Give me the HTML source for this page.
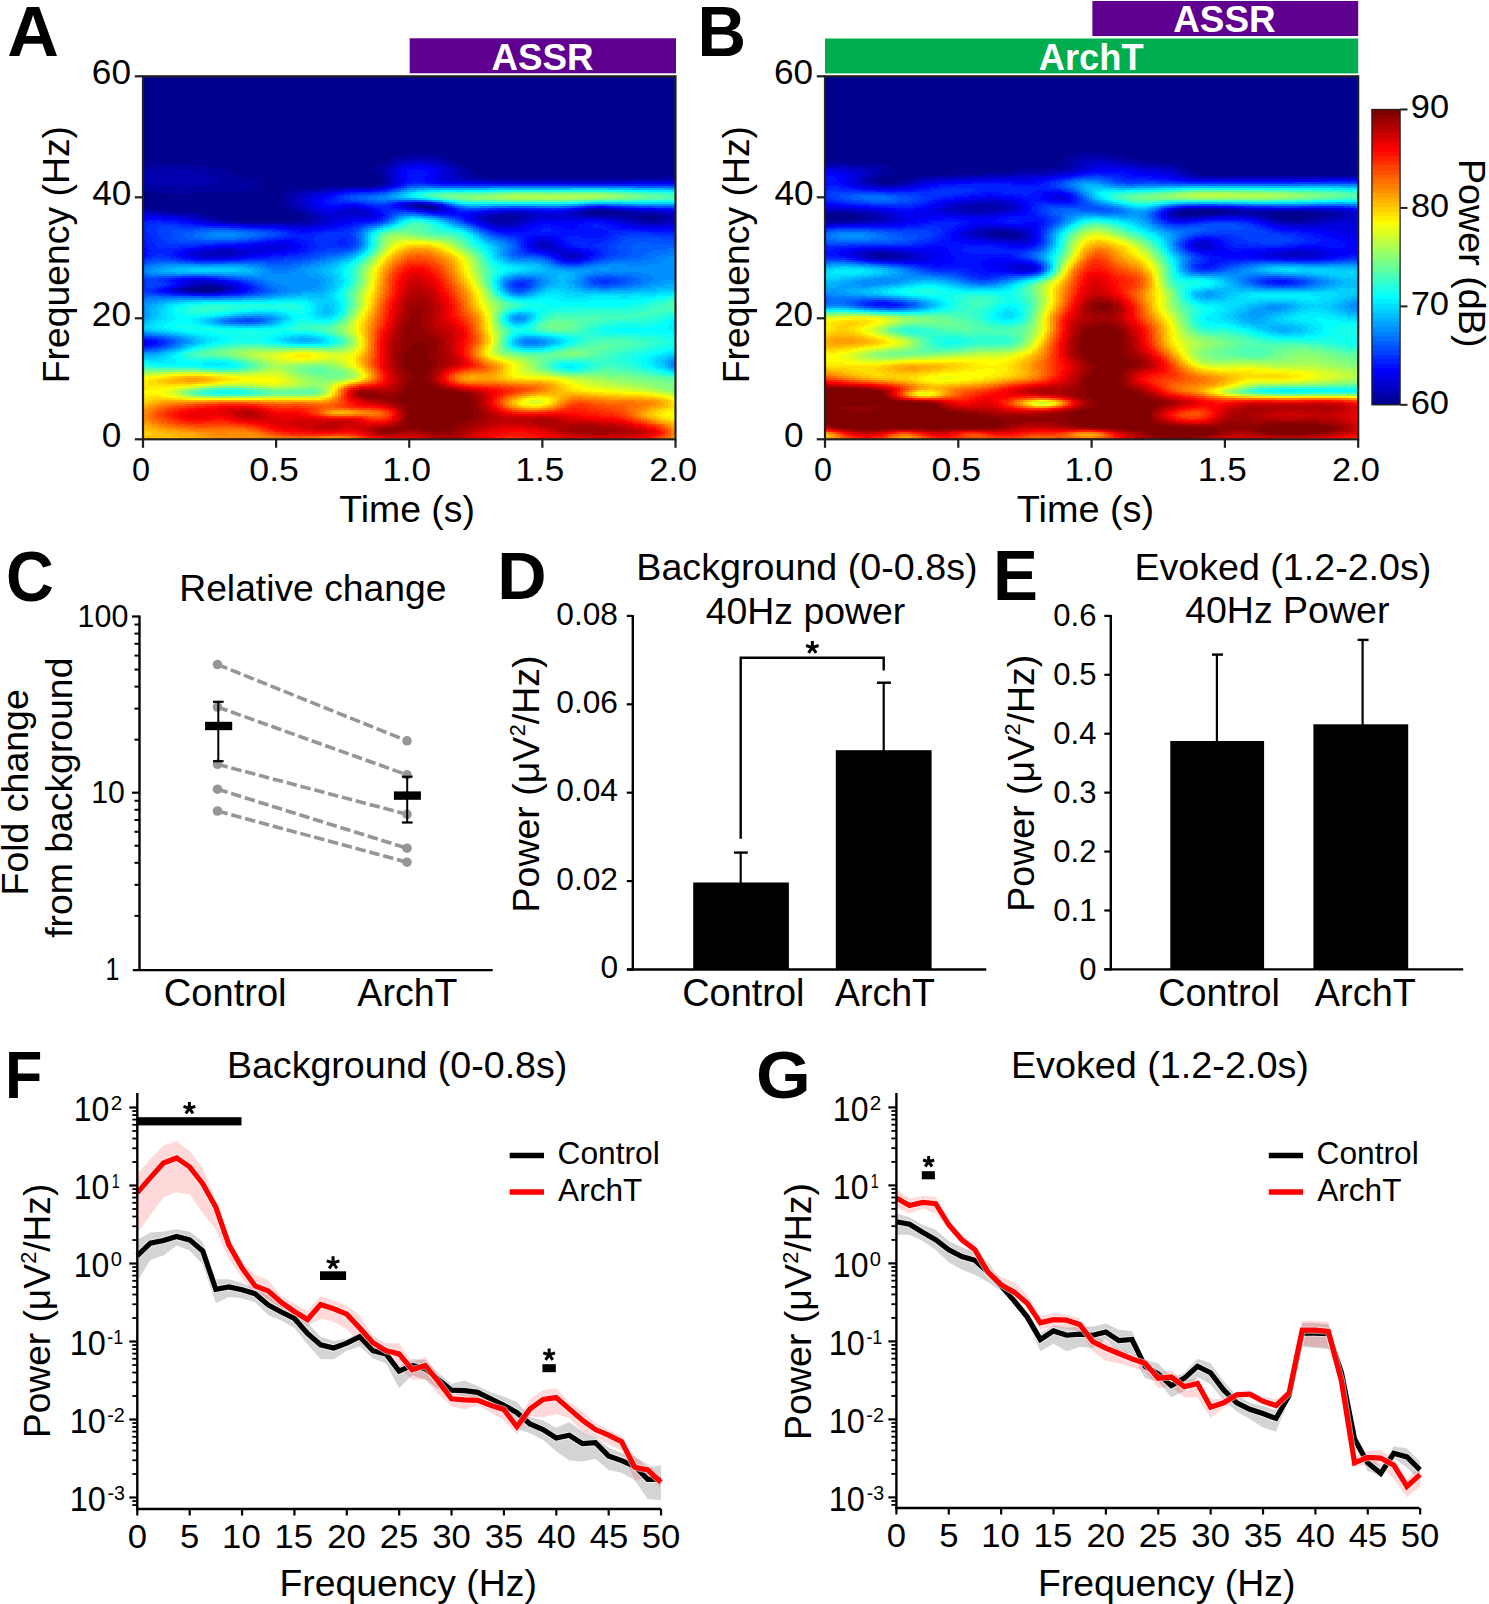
<!DOCTYPE html>
<html><head><meta charset="utf-8"><style>
html,body{margin:0;padding:0;background:#fff;}
svg{display:block;}
text{font-family:"Liberation Sans",sans-serif;}
</style></head><body>
<svg width="1489" height="1604" viewBox="0 0 1489 1604">
<rect width="1489" height="1604" fill="#fff"/>
<g shape-rendering="crispEdges">
<rect x="143" y="76.3" width="532.5" height="363" fill="#00008f"/>
<path d="M401 155.3H437M395 157.3H410M425 157.3H443M392 159.3H401M437 159.3H449M389 161.3H395M443 161.3H452M386 163.3H392M449 163.3H458M152 165.3H191M380 165.3H389M455 165.3H461M143 167.3H212M377 167.3H386M458 167.3H467M143 169.3H164M173 169.3H221M371 169.3H383M461 169.3H470M143 171.3H149M194 171.3H227M374 171.3H383M464 171.3H470M143 173.3H146M203 173.3H230M377 173.3H383M464 173.3H473M209 175.3H236M380 175.3H383M467 175.3H476M215 177.3H242M383 177.3H386M470 177.3H482M668 177.3H675.5M218 179.3H251M383 179.3H386M482 179.3H647M218 181.3H260M383 181.3H386M143 183.3H146M218 183.3H260M383 183.3H386M143 185.3H158M209 185.3H260M377 185.3H383M143 187.3H182M188 187.3H260M323 187.3H365M143 189.3H254M293 189.3H320M149 191.3H245M287 191.3H302M161 193.3H197M284 193.3H296M284 195.3H293M281 197.3H290M281 199.3H290M281 201.3H290M281 203.3H290M281 205.3H290M413 205.3H428M143 207.3H146M284 207.3H293M416 207.3H422M431 207.3H434M146 209.3H152M287 209.3H296M152 211.3H167M293 211.3H302M590 211.3H596M605 211.3H617M176 213.3H200M299 213.3H305M584 213.3H593M617 213.3H638M197 215.3H209M302 215.3H308M590 215.3H662M206 217.3H212M302 217.3H311M497 217.3H518M623 217.3H638M656 217.3H668M212 219.3H221M302 219.3H311M494 219.3H515M632 219.3H647M656 219.3H668M224 221.3H233M296 221.3H308M500 221.3H509M644 221.3H662M194 287.3H200M215 287.3H221M185 289.3H191M221 289.3H224M188 291.3H194M215 291.3H221" stroke="#00009f" stroke-width="2" fill="none"/>
<path d="M410 157.3H425M401 159.3H437M395 161.3H404M434 161.3H443M392 163.3H398M440 163.3H449M389 165.3H392M446 165.3H455M386 167.3H389M452 167.3H458M164 169.3H173M383 169.3H389M455 169.3H461M149 171.3H194M383 171.3H386M458 171.3H464M146 173.3H203M383 173.3H386M458 173.3H464M143 175.3H209M383 175.3H389M458 175.3H467M143 177.3H215M386 177.3H389M461 177.3H470M143 179.3H218M386 179.3H389M467 179.3H482M647 179.3H675.5M143 181.3H218M386 181.3H389M518 181.3H539M560 181.3H605M146 183.3H218M386 183.3H389M158 185.3H209M383 185.3H386M182 187.3H188M365 187.3H377M320 189.3H335M302 191.3H317M296 193.3H305M293 195.3H299M290 197.3H296M290 199.3H296M290 201.3H296M290 203.3H296M290 205.3H299M410 205.3H413M428 205.3H434M293 207.3H302M413 207.3H416M434 207.3H437M143 209.3H146M296 209.3H302M422 209.3H437M146 211.3H152M302 211.3H308M584 211.3H590M617 211.3H626M158 213.3H176M305 213.3H311M578 213.3H584M638 213.3H659M185 215.3H197M308 215.3H314M494 215.3H527M581 215.3H590M662 215.3H671M197 217.3H206M311 217.3H317M488 217.3H497M518 217.3H527M605 217.3H623M668 217.3H674M206 219.3H212M311 219.3H317M488 219.3H494M515 219.3H524M623 219.3H632M668 219.3H671M215 221.3H224M308 221.3H317M488 221.3H500M509 221.3H518M632 221.3H644M662 221.3H668M236 223.3H311M494 223.3H512M644 223.3H662M197 285.3H218M188 287.3H194M221 287.3H227M182 289.3H185M224 289.3H227M182 291.3H188M221 291.3H224" stroke="#0000af" stroke-width="2" fill="none"/>
<path d="M404 161.3H434M398 163.3H404M434 163.3H440M392 165.3H398M440 165.3H446M389 167.3H395M446 167.3H452M389 169.3H392M449 169.3H455M386 171.3H392M452 171.3H458M386 173.3H392M452 173.3H458M389 175.3H392M452 175.3H458M389 177.3H392M452 177.3H461M389 179.3H392M455 179.3H467M389 181.3H392M473 181.3H518M539 181.3H560M605 181.3H665M389 183.3H392M386 185.3H389M377 187.3H383M335 189.3H350M317 191.3H329M305 193.3H314M299 195.3H308M296 197.3H302M296 199.3H302M296 201.3H302M296 203.3H302M299 205.3H305M407 205.3H410M302 207.3H305M407 207.3H413M437 207.3H440M302 209.3H308M419 209.3H422M437 209.3H440M590 209.3H611M143 211.3H146M308 211.3H311M350 211.3H359M578 211.3H584M626 211.3H641M149 213.3H158M311 213.3H317M350 213.3H359M500 213.3H527M572 213.3H578M659 213.3H668M167 215.3H185M314 215.3H320M488 215.3H494M527 215.3H536M572 215.3H581M671 215.3H674M188 217.3H197M317 217.3H323M482 217.3H488M527 217.3H536M584 217.3H605M674 217.3H675.5M200 219.3H206M317 219.3H326M482 219.3H488M524 219.3H530M614 219.3H623M671 219.3H675.5M209 221.3H215M317 221.3H323M485 221.3H488M518 221.3H527M626 221.3H632M668 221.3H674M224 223.3H236M311 223.3H320M488 223.3H494M512 223.3H521M635 223.3H644M662 223.3H671M284 225.3H311M494 225.3H515M539 243.3H548M539 245.3H551M542 247.3H551M212 251.3H233M203 253.3H236M200 255.3H233M566 255.3H575M569 257.3H575M197 283.3H215M191 285.3H197M218 285.3H224M185 287.3H188M227 287.3H230M179 289.3H182M227 289.3H233M179 291.3H182M224 291.3H230M197 293.3H212" stroke="#0000bf" stroke-width="2" fill="none"/>
<path d="M404 163.3H416M419 163.3H434M398 165.3H404M434 165.3H440M395 167.3H398M440 167.3H446M392 169.3H395M443 169.3H449M392 171.3H395M446 171.3H452M392 173.3H395M446 173.3H452M392 175.3H395M446 175.3H452M392 177.3H395M443 177.3H452M392 179.3H395M443 179.3H455M392 181.3H395M452 181.3H473M665 181.3H675.5M392 183.3H395M389 185.3H392M383 187.3H386M350 189.3H371M329 191.3H338M314 193.3H323M308 195.3H314M302 197.3H311M302 199.3H308M302 201.3H308M302 203.3H308M305 205.3H308M404 205.3H407M434 205.3H437M305 207.3H311M404 207.3H407M440 207.3H443M308 209.3H314M347 209.3H362M416 209.3H419M440 209.3H443M587 209.3H590M611 209.3H620M311 211.3H317M341 211.3H350M359 211.3H365M431 211.3H440M575 211.3H578M641 211.3H659M143 213.3H149M317 213.3H323M338 213.3H350M359 213.3H368M491 213.3H500M527 213.3H542M563 213.3H572M668 213.3H674M152 215.3H167M320 215.3H332M335 215.3H368M482 215.3H488M536 215.3H572M674 215.3H675.5M176 217.3H188M323 217.3H338M353 217.3H356M476 217.3H482M536 217.3H584M191 219.3H200M326 219.3H335M479 219.3H482M530 219.3H539M605 219.3H614M200 221.3H209M323 221.3H332M482 221.3H485M527 221.3H533M620 221.3H626M674 221.3H675.5M215 223.3H224M320 223.3H326M485 223.3H488M521 223.3H527M626 223.3H635M671 223.3H674M248 225.3H284M311 225.3H320M491 225.3H494M515 225.3H521M638 225.3H671M497 227.3H515M539 241.3H548M536 243.3H539M548 243.3H551M533 245.3H539M551 245.3H554M536 247.3H542M551 247.3H557M218 249.3H236M542 249.3H557M203 251.3H212M233 251.3H248M557 251.3H563M197 253.3H203M236 253.3H245M560 253.3H578M194 255.3H200M233 255.3H242M560 255.3H566M575 255.3H581M200 257.3H230M563 257.3H569M575 257.3H581M569 259.3H575M194 281.3H209M191 283.3H197M215 283.3H221M188 285.3H191M224 285.3H230M179 287.3H185M230 287.3H236M173 289.3H179M233 289.3H236M173 291.3H179M230 291.3H233M188 293.3H197M212 293.3H221" stroke="#0000cf" stroke-width="2" fill="none"/>
<path d="M416 163.3H419M404 165.3H413M422 165.3H434M398 167.3H404M431 167.3H440M395 169.3H401M437 169.3H443M395 171.3H398M440 171.3H446M395 173.3H398M440 173.3H446M395 175.3H398M440 175.3H446M395 177.3H398M437 177.3H443M395 179.3H401M437 179.3H443M395 181.3H398M440 181.3H452M395 183.3H398M485 183.3H626M392 185.3H395M386 187.3H389M371 189.3H380M338 191.3H344M323 193.3H332M314 195.3H323M311 197.3H317M308 199.3H314M308 201.3H311M308 203.3H311M410 203.3H425M308 205.3H314M401 205.3H404M437 205.3H440M311 207.3H317M350 207.3H356M401 207.3H404M314 209.3H320M341 209.3H347M362 209.3H365M410 209.3H416M443 209.3H446M581 209.3H587M620 209.3H626M317 211.3H326M335 211.3H341M365 211.3H371M425 211.3H431M440 211.3H446M503 211.3H527M569 211.3H575M659 211.3H671M323 213.3H338M368 213.3H374M485 213.3H491M542 213.3H563M674 213.3H675.5M143 215.3H152M332 215.3H335M368 215.3H374M476 215.3H482M161 217.3H176M338 217.3H353M356 217.3H371M473 217.3H476M182 219.3H191M335 219.3H353M473 219.3H479M539 219.3H605M194 221.3H200M332 221.3H341M476 221.3H482M533 221.3H539M611 221.3H620M206 223.3H215M326 223.3H335M482 223.3H485M527 223.3H533M620 223.3H626M674 223.3H675.5M233 225.3H248M320 225.3H329M485 225.3H491M521 225.3H527M629 225.3H638M671 225.3H674M284 227.3H317M491 227.3H497M515 227.3H521M644 227.3H668M500 229.3H512M539 239.3H548M533 241.3H539M548 241.3H554M533 243.3H536M551 243.3H557M266 245.3H287M530 245.3H533M554 245.3H557M251 247.3H287M533 247.3H536M557 247.3H560M206 249.3H218M236 249.3H284M536 249.3H542M557 249.3H566M194 251.3H203M248 251.3H275M545 251.3H557M563 251.3H575M191 253.3H197M245 253.3H260M554 253.3H560M578 253.3H581M188 255.3H194M242 255.3H248M557 255.3H560M581 255.3H584M191 257.3H200M230 257.3H239M560 257.3H563M581 257.3H584M563 259.3H569M575 259.3H581M185 281.3H194M209 281.3H218M185 283.3H191M221 283.3H227M182 285.3H188M230 285.3H236M176 287.3H179M236 287.3H239M170 289.3H173M236 289.3H239M170 291.3H173M233 291.3H236M182 293.3H188M221 293.3H227" stroke="#0000df" stroke-width="2" fill="none"/>
<path d="M413 165.3H422M404 167.3H413M422 167.3H431M401 169.3H404M431 169.3H437M398 171.3H401M434 171.3H440M398 173.3H401M434 173.3H440M398 175.3H401M434 175.3H440M398 177.3H401M431 177.3H437M401 179.3H404M431 179.3H437M398 181.3H404M434 181.3H440M398 183.3H401M446 183.3H485M626 183.3H675.5M395 185.3H398M389 187.3H392M380 189.3H383M344 191.3H353M332 193.3H338M323 195.3H329M317 197.3H323M314 199.3H320M311 201.3H317M311 203.3H317M407 203.3H410M425 203.3H428M314 205.3H320M398 205.3H401M317 207.3H323M341 207.3H350M356 207.3H365M398 207.3H401M443 207.3H446M320 209.3H341M365 209.3H371M407 209.3H410M446 209.3H449M578 209.3H581M626 209.3H638M326 211.3H335M371 211.3H374M422 211.3H425M446 211.3H449M494 211.3H503M527 211.3H548M557 211.3H569M671 211.3H675.5M374 213.3H377M476 213.3H485M374 215.3H377M470 215.3H476M143 217.3H161M371 217.3H377M470 217.3H473M173 219.3H182M353 219.3H374M470 219.3H473M188 221.3H194M341 221.3H353M473 221.3H476M539 221.3H584M602 221.3H611M200 223.3H206M335 223.3H344M479 223.3H482M533 223.3H542M560 223.3H572M614 223.3H620M221 225.3H233M329 225.3H335M482 225.3H485M527 225.3H533M620 225.3H629M674 225.3H675.5M269 227.3H284M317 227.3H326M488 227.3H491M521 227.3H527M629 227.3H644M668 227.3H674M293 229.3H314M494 229.3H500M512 229.3H524M539 237.3H545M533 239.3H539M548 239.3H554M530 241.3H533M554 241.3H557M269 243.3H290M530 243.3H533M557 243.3H560M254 245.3H266M287 245.3H296M557 245.3H563M215 247.3H251M287 247.3H296M530 247.3H533M560 247.3H566M197 249.3H206M284 249.3H293M533 249.3H536M566 249.3H572M188 251.3H194M275 251.3H287M539 251.3H545M575 251.3H581M185 253.3H191M260 253.3H275M548 253.3H554M581 253.3H587M185 255.3H188M248 255.3H260M554 255.3H557M584 255.3H587M188 257.3H191M239 257.3H248M557 257.3H560M584 257.3H587M197 259.3H227M560 259.3H563M581 259.3H584M569 261.3H575M191 279.3H206M182 281.3H185M218 281.3H224M182 283.3H185M227 283.3H233M179 285.3H182M236 285.3H239M173 287.3H176M239 287.3H242M167 289.3H170M239 289.3H242M167 291.3H170M236 291.3H242M176 293.3H182M227 293.3H230M143 343.3H146" stroke="#0000ef" stroke-width="2" fill="none"/>
<path d="M413 167.3H422M404 169.3H431M401 171.3H407M425 171.3H434M401 173.3H407M428 173.3H434M401 175.3H407M428 175.3H434M401 177.3H407M425 177.3H431M404 179.3H407M425 179.3H431M404 181.3H407M425 181.3H434M401 183.3H404M434 183.3H446M398 185.3H401M392 187.3H395M383 189.3H386M353 191.3H371M338 193.3H344M329 195.3H335M323 197.3H329M320 199.3H326M317 201.3H323M317 203.3H323M401 203.3H407M428 203.3H431M320 205.3H326M341 205.3H359M395 205.3H398M440 205.3H443M323 207.3H341M365 207.3H368M395 207.3H398M596 207.3H605M371 209.3H374M404 209.3H407M449 209.3H452M572 209.3H578M638 209.3H656M374 211.3H380M416 211.3H422M449 211.3H455M485 211.3H494M548 211.3H557M377 213.3H380M431 213.3H455M470 213.3H476M377 215.3H383M461 215.3H470M377 217.3H380M464 217.3H470M143 219.3H173M374 219.3H377M467 219.3H470M179 221.3H188M353 221.3H371M470 221.3H473M584 221.3H602M191 223.3H200M344 223.3H353M476 223.3H479M542 223.3H560M572 223.3H584M605 223.3H614M206 225.3H221M335 225.3H344M479 225.3H482M533 225.3H542M551 225.3H578M614 225.3H620M245 227.3H269M326 227.3H338M485 227.3H488M527 227.3H536M563 227.3H578M620 227.3H629M674 227.3H675.5M284 229.3H293M314 229.3H326M491 229.3H494M524 229.3H530M569 229.3H575M632 229.3H674M299 231.3H311M497 231.3H527M530 237.3H539M545 237.3H557M527 239.3H533M554 239.3H560M278 241.3H293M527 241.3H530M557 241.3H563M260 243.3H269M290 243.3H299M527 243.3H530M560 243.3H563M236 245.3H254M296 245.3H302M527 245.3H530M563 245.3H566M203 247.3H215M296 247.3H302M527 247.3H530M566 247.3H569M143 249.3H146M188 249.3H197M293 249.3H299M530 249.3H533M572 249.3H581M143 251.3H146M182 251.3H188M287 251.3H296M533 251.3H539M581 251.3H590M143 253.3H146M179 253.3H185M275 253.3H287M542 253.3H548M587 253.3H593M143 255.3H146M179 255.3H185M260 255.3H272M551 255.3H554M587 255.3H593M182 257.3H188M248 257.3H257M554 257.3H557M587 257.3H590M191 259.3H197M227 259.3H239M557 259.3H560M584 259.3H587M563 261.3H569M575 261.3H581M182 279.3H191M206 279.3H212M176 281.3H182M224 281.3H227M176 283.3H182M233 283.3H239M176 285.3H179M239 285.3H242M170 287.3H173M242 287.3H245M164 289.3H167M242 289.3H248M161 291.3H167M242 291.3H245M170 293.3H176M230 293.3H236M143 341.3H152M146 343.3H155M143 345.3H149" stroke="#0000ff" stroke-width="2" fill="none"/>
<path d="M407 171.3H425M407 173.3H428M407 175.3H428M407 177.3H425M407 179.3H425M407 181.3H425M404 183.3H410M425 183.3H434M401 185.3H404M395 187.3H398M386 189.3H389M371 191.3H380M344 193.3H350M335 195.3H338M329 197.3H335M326 199.3H332M323 201.3H329M323 203.3H332M398 203.3H401M431 203.3H434M326 205.3H341M359 205.3H365M392 205.3H395M368 207.3H374M392 207.3H395M446 207.3H449M587 207.3H596M605 207.3H614M374 209.3H380M398 209.3H404M452 209.3H455M569 209.3H572M656 209.3H671M380 211.3H383M413 211.3H416M455 211.3H458M479 211.3H485M380 213.3H383M428 213.3H431M455 213.3H470M383 215.3H386M449 215.3H461M380 217.3H383M461 217.3H464M377 219.3H380M464 219.3H467M143 221.3H149M161 221.3H179M371 221.3H377M467 221.3H470M179 223.3H191M353 223.3H362M473 223.3H476M584 223.3H605M194 225.3H206M344 225.3H353M476 225.3H479M542 225.3H551M578 225.3H593M599 225.3H614M230 227.3H245M338 227.3H347M482 227.3H485M536 227.3H563M578 227.3H593M605 227.3H620M275 229.3H284M326 229.3H338M488 229.3H491M530 229.3H542M551 229.3H569M575 229.3H602M608 229.3H632M674 229.3H675.5M290 231.3H299M311 231.3H323M494 231.3H497M527 231.3H539M551 231.3H608M641 231.3H674M296 233.3H311M500 233.3H608M518 235.3H605M524 237.3H530M557 237.3H569M581 237.3H602M284 239.3H302M524 239.3H527M560 239.3H566M143 241.3H146M266 241.3H278M293 241.3H305M524 241.3H527M563 241.3H566M143 243.3H146M251 243.3H260M299 243.3H308M524 243.3H527M563 243.3H569M143 245.3H146M215 245.3H236M302 245.3H308M524 245.3H527M566 245.3H572M143 247.3H149M194 247.3H203M302 247.3H308M524 247.3H527M569 247.3H578M146 249.3H149M182 249.3H188M299 249.3H308M527 249.3H530M581 249.3H590M146 251.3H152M173 251.3H182M296 251.3H305M527 251.3H533M590 251.3H596M146 253.3H149M173 253.3H179M287 253.3H299M536 253.3H542M593 253.3H596M146 255.3H149M173 255.3H179M272 255.3H287M545 255.3H551M593 255.3H596M143 257.3H146M176 257.3H182M257 257.3H269M551 257.3H554M590 257.3H593M185 259.3H191M239 259.3H248M587 259.3H590M560 261.3H563M581 261.3H584M176 279.3H182M212 279.3H218M170 281.3H176M227 281.3H233M173 283.3H176M239 283.3H242M170 285.3H176M242 285.3H248M164 287.3H170M245 287.3H251M158 289.3H164M248 289.3H251M158 291.3H161M245 291.3H248M164 293.3H170M236 293.3H242M191 295.3H221M143 339.3H146M152 341.3H158M155 343.3H158M149 345.3H155" stroke="#0010ff" stroke-width="2" fill="none"/>
<path d="M410 183.3H425M404 185.3H407M440 185.3H675.5M398 187.3H401M389 189.3H392M380 191.3H386M350 193.3H359M338 195.3H344M335 197.3H338M332 199.3H338M329 201.3H338M332 203.3H359M395 203.3H398M434 203.3H437M365 205.3H371M389 205.3H392M443 205.3H446M374 207.3H392M449 207.3H452M584 207.3H587M614 207.3H623M380 209.3H398M455 209.3H458M497 209.3H551M554 209.3H569M671 209.3H675.5M383 211.3H389M407 211.3H413M458 211.3H479M383 213.3H389M425 213.3H428M440 215.3H449M383 217.3H386M455 217.3H461M380 219.3H383M461 219.3H464M149 221.3H161M377 221.3H380M464 221.3H467M143 223.3H158M161 223.3H179M362 223.3H371M470 223.3H473M143 225.3H149M182 225.3H194M353 225.3H359M593 225.3H599M143 227.3H146M212 227.3H230M347 227.3H353M479 227.3H482M593 227.3H605M143 229.3H146M260 229.3H275M338 229.3H350M485 229.3H488M542 229.3H551M602 229.3H608M143 231.3H146M281 231.3H290M323 231.3H344M491 231.3H494M539 231.3H551M608 231.3H641M674 231.3H675.5M143 233.3H149M287 233.3H296M311 233.3H326M497 233.3H500M608 233.3H623M650 233.3H675.5M143 235.3H149M290 235.3H317M506 235.3H518M605 235.3H614M143 237.3H152M284 237.3H314M515 237.3H524M569 237.3H581M602 237.3H611M143 239.3H152M272 239.3H284M302 239.3H314M341 239.3H347M518 239.3H524M566 239.3H608M146 241.3H152M257 241.3H266M305 241.3H314M338 241.3H347M521 241.3H524M566 241.3H605M146 243.3H155M236 243.3H251M308 243.3H317M335 243.3H347M521 243.3H524M569 243.3H575M587 243.3H599M146 245.3H155M200 245.3H215M308 245.3H317M338 245.3H347M521 245.3H524M572 245.3H593M149 247.3H158M179 247.3H194M308 247.3H317M521 247.3H524M578 247.3H596M149 249.3H182M308 249.3H314M524 249.3H527M590 249.3H599M152 251.3H173M305 251.3H311M524 251.3H527M596 251.3H602M149 253.3H173M299 253.3H308M530 253.3H536M596 253.3H602M149 255.3H155M164 255.3H173M287 255.3H299M542 255.3H545M596 255.3H602M146 257.3H152M170 257.3H176M269 257.3H284M548 257.3H551M593 257.3H599M143 259.3H146M179 259.3H185M248 259.3H263M554 259.3H557M590 259.3H593M194 261.3H230M557 261.3H560M584 261.3H590M563 263.3H581M170 279.3H176M218 279.3H224M164 281.3H170M233 281.3H239M167 283.3H173M242 283.3H245M167 285.3H170M248 285.3H251M518 285.3H524M161 287.3H164M251 287.3H254M155 289.3H158M251 289.3H254M152 291.3H158M248 291.3H254M158 293.3H164M242 293.3H248M179 295.3H191M221 295.3H230M146 339.3H152M158 341.3H161M158 343.3H164M155 345.3H161M143 347.3H152" stroke="#0020ff" stroke-width="2" fill="none"/>
<path d="M407 185.3H413M428 185.3H440M401 187.3H404M392 189.3H395M386 191.3H389M359 193.3H374M344 195.3H350M338 197.3H344M338 199.3H344M338 201.3H350M359 203.3H365M392 203.3H395M371 205.3H389M581 207.3H584M623 207.3H635M458 209.3H461M488 209.3H497M551 209.3H554M389 211.3H407M389 213.3H392M419 213.3H425M386 215.3H389M434 215.3H440M386 217.3H389M449 217.3H455M383 219.3H386M458 219.3H461M380 221.3H383M158 223.3H161M371 223.3H374M467 223.3H470M149 225.3H182M359 225.3H365M473 225.3H476M146 227.3H158M179 227.3H212M353 227.3H359M146 229.3H158M242 229.3H260M350 229.3H353M482 229.3H485M146 231.3H158M272 231.3H281M344 231.3H353M488 231.3H491M149 233.3H158M281 233.3H287M326 233.3H350M491 233.3H497M623 233.3H650M149 235.3H158M281 235.3H290M317 235.3H350M500 235.3H506M614 235.3H629M653 235.3H675.5M152 237.3H161M275 237.3H284M314 237.3H353M509 237.3H515M611 237.3H620M152 239.3H161M263 239.3H272M314 239.3H341M347 239.3H353M515 239.3H518M608 239.3H617M152 241.3H164M248 241.3H257M314 241.3H338M347 241.3H353M518 241.3H521M605 241.3H614M155 243.3H167M215 243.3H236M317 243.3H335M347 243.3H353M518 243.3H521M575 243.3H587M599 243.3H611M155 245.3H200M317 245.3H338M347 245.3H353M518 245.3H521M593 245.3H608M158 247.3H179M317 247.3H350M596 247.3H608M314 249.3H326M521 249.3H524M599 249.3H608M311 251.3H320M521 251.3H524M602 251.3H608M308 253.3H314M524 253.3H530M602 253.3H608M155 255.3H164M299 255.3H308M536 255.3H542M602 255.3H608M152 257.3H170M284 257.3H302M545 257.3H548M599 257.3H605M146 259.3H152M170 259.3H179M263 259.3H284M551 259.3H554M593 259.3H599M143 261.3H146M185 261.3H194M230 261.3H242M554 261.3H557M590 261.3H593M560 263.3H563M581 263.3H584M182 277.3H209M161 279.3H170M224 279.3H230M143 281.3H146M158 281.3H164M239 281.3H242M599 281.3H611M143 283.3H146M161 283.3H167M245 283.3H251M515 283.3H527M602 283.3H608M143 285.3H146M161 285.3H167M251 285.3H254M512 285.3H518M524 285.3H527M143 287.3H146M155 287.3H161M254 287.3H257M515 287.3H527M143 289.3H155M254 289.3H260M143 291.3H152M254 291.3H257M152 293.3H158M248 293.3H254M170 295.3H179M230 295.3H239M152 339.3H158M161 341.3H167M164 343.3H167M161 345.3H164M152 347.3H158" stroke="#0030ff" stroke-width="2" fill="none"/>
<path d="M413 185.3H428M404 187.3H407M395 189.3H398M389 191.3H392M374 193.3H380M350 195.3H359M344 197.3H350M344 199.3H350M350 201.3H359M365 203.3H374M386 203.3H392M437 203.3H440M446 205.3H449M452 207.3H455M575 207.3H581M635 207.3H653M461 209.3H464M479 209.3H488M392 213.3H398M416 213.3H419M389 215.3H392M431 215.3H434M389 217.3H392M446 217.3H449M386 219.3H389M455 219.3H458M383 221.3H386M461 221.3H464M374 223.3H380M464 223.3H467M365 225.3H368M470 225.3H473M158 227.3H179M359 227.3H362M476 227.3H479M158 229.3H200M230 229.3H242M353 229.3H359M479 229.3H482M158 231.3H173M260 231.3H272M353 231.3H356M485 231.3H488M158 233.3H173M275 233.3H281M350 233.3H356M488 233.3H491M158 235.3H170M275 235.3H281M350 235.3H353M494 235.3H500M629 235.3H653M161 237.3H173M266 237.3H275M353 237.3H356M503 237.3H509M620 237.3H675.5M161 239.3H173M257 239.3H263M353 239.3H356M509 239.3H515M617 239.3H626M662 239.3H675.5M164 241.3H179M239 241.3H248M353 241.3H356M515 241.3H518M614 241.3H623M167 243.3H215M353 243.3H356M515 243.3H518M611 243.3H620M353 245.3H356M608 245.3H617M350 247.3H353M518 247.3H521M608 247.3H617M326 249.3H350M518 249.3H521M608 249.3H617M320 251.3H338M518 251.3H521M608 251.3H620M314 253.3H323M518 253.3H524M608 253.3H620M308 255.3H317M524 255.3H536M608 255.3H617M302 257.3H311M542 257.3H545M605 257.3H611M152 259.3H170M284 259.3H302M548 259.3H551M599 259.3H605M146 261.3H152M176 261.3H185M242 261.3H284M593 261.3H596M143 263.3H146M557 263.3H560M584 263.3H590M566 265.3H578M173 277.3H182M209 277.3H218M143 279.3H161M230 279.3H236M596 279.3H617M146 281.3H158M242 281.3H248M515 281.3H530M593 281.3H599M611 281.3H620M146 283.3H161M251 283.3H254M512 283.3H515M527 283.3H530M593 283.3H602M608 283.3H617M146 285.3H161M254 285.3H257M527 285.3H530M146 287.3H155M257 287.3H260M512 287.3H515M527 287.3H530M260 289.3H263M515 289.3H524M257 291.3H263M143 293.3H152M254 293.3H257M158 295.3H170M239 295.3H245M245 321.3H251M143 337.3H152M158 339.3H164M167 341.3H170M167 343.3H170M164 345.3H167M158 347.3H161M143 349.3H152" stroke="#0040ff" stroke-width="2" fill="none"/>
<path d="M407 187.3H410M398 189.3H401M392 191.3H395M380 193.3H386M359 195.3H371M350 197.3H356M350 199.3H359M359 201.3H368M398 201.3H422M374 203.3H386M440 203.3H443M455 207.3H458M572 207.3H575M653 207.3H675.5M464 209.3H479M398 213.3H404M407 213.3H416M392 215.3H395M425 215.3H431M440 217.3H446M452 219.3H455M458 221.3H461M380 223.3H383M368 225.3H374M467 225.3H470M362 227.3H365M473 227.3H476M200 229.3H230M359 229.3H362M173 231.3H194M248 231.3H260M356 231.3H359M482 231.3H485M173 233.3H185M266 233.3H275M170 235.3H182M266 235.3H275M353 235.3H356M491 235.3H494M173 237.3H185M260 237.3H266M497 237.3H503M173 239.3H188M248 239.3H257M356 239.3H359M506 239.3H509M626 239.3H662M179 241.3H239M356 241.3H359M509 241.3H515M623 241.3H675.5M356 243.3H359M512 243.3H515M620 243.3H638M650 243.3H675.5M515 245.3H518M617 245.3H632M353 247.3H356M515 247.3H518M617 247.3H632M350 249.3H353M515 249.3H518M617 249.3H632M338 251.3H347M515 251.3H518M620 251.3H632M323 253.3H338M515 253.3H518M620 253.3H632M317 255.3H326M518 255.3H524M617 255.3H629M311 257.3H320M536 257.3H542M611 257.3H626M302 259.3H311M545 259.3H548M605 259.3H614M152 261.3H176M284 261.3H302M551 261.3H554M596 261.3H602M146 263.3H149M194 263.3H224M266 263.3H290M554 263.3H557M590 263.3H593M560 265.3H566M578 265.3H584M143 277.3H149M158 277.3H173M218 277.3H224M596 277.3H617M236 279.3H242M521 279.3H524M590 279.3H596M617 279.3H626M248 281.3H254M512 281.3H515M530 281.3H533M590 281.3H593M620 281.3H626M254 283.3H257M509 283.3H512M530 283.3H533M590 283.3H593M617 283.3H626M257 285.3H263M509 285.3H512M530 285.3H533M593 285.3H617M260 287.3H266M509 287.3H512M530 287.3H533M263 289.3H266M512 289.3H515M524 289.3H530M263 291.3H266M515 291.3H524M257 293.3H263M143 295.3H158M245 295.3H251M203 297.3H218M245 319.3H254M236 321.3H245M251 321.3H260M152 337.3H158M164 339.3H167M170 341.3H173M170 343.3H173M167 345.3H170M161 347.3H167M152 349.3H158" stroke="#0050ff" stroke-width="2" fill="none"/>
<path d="M410 187.3H419M434 187.3H491M635 187.3H675.5M401 189.3H404M395 191.3H398M386 193.3H389M371 195.3H380M356 197.3H368M359 199.3H368M368 201.3H377M386 201.3H398M422 201.3H425M449 205.3H452M596 205.3H608M458 207.3H461M509 207.3H536M563 207.3H572M404 213.3H407M395 215.3H398M422 215.3H425M392 217.3H395M437 217.3H440M389 219.3H392M449 219.3H452M386 221.3H389M455 221.3H458M461 223.3H464M374 225.3H377M365 227.3H368M470 227.3H473M476 229.3H479M194 231.3H209M236 231.3H248M359 231.3H362M479 231.3H482M185 233.3H197M254 233.3H266M356 233.3H359M485 233.3H488M182 235.3H194M257 235.3H266M356 235.3H359M488 235.3H491M185 237.3H194M251 237.3H260M356 237.3H359M494 237.3H497M188 239.3H203M236 239.3H248M500 239.3H506M506 241.3H509M509 243.3H512M638 243.3H650M356 245.3H359M512 245.3H515M632 245.3H675.5M356 247.3H359M512 247.3H515M632 247.3H675.5M353 249.3H356M512 249.3H515M632 249.3H668M347 251.3H353M512 251.3H515M632 251.3H653M338 253.3H344M512 253.3H515M632 253.3H647M326 255.3H335M512 255.3H518M629 255.3H644M320 257.3H326M518 257.3H536M626 257.3H641M311 259.3H320M542 259.3H545M614 259.3H632M302 261.3H311M548 261.3H551M602 261.3H614M149 263.3H158M179 263.3H194M224 263.3H266M290 263.3H302M551 263.3H554M593 263.3H599M143 265.3H149M266 265.3H293M557 265.3H560M584 265.3H590M143 275.3H146M605 275.3H611M149 277.3H158M224 277.3H233M590 277.3H596M617 277.3H629M242 279.3H248M515 279.3H521M524 279.3H533M587 279.3H590M626 279.3H635M254 281.3H257M509 281.3H512M533 281.3H536M587 281.3H590M626 281.3H635M257 283.3H263M533 283.3H536M587 283.3H590M626 283.3H632M263 285.3H266M506 285.3H509M533 285.3H536M590 285.3H593M617 285.3H626M266 287.3H269M599 287.3H611M266 289.3H272M509 289.3H512M266 291.3H272M512 291.3H515M524 291.3H527M263 293.3H269M251 295.3H260M143 297.3H149M161 297.3H203M218 297.3H233M236 319.3H245M254 319.3H263M230 321.3H236M260 321.3H263M239 323.3H254M158 337.3H164M167 339.3H173M173 341.3H176M173 343.3H176M170 345.3H173M167 347.3H170M158 349.3H161M143 351.3H149" stroke="#0060ff" stroke-width="2" fill="none"/>
<path d="M419 187.3H434M491 187.3H635M404 189.3H407M398 191.3H401M389 193.3H392M380 195.3H386M368 197.3H377M368 199.3H377M377 201.3H386M425 201.3H428M443 203.3H446M452 205.3H455M587 205.3H596M608 205.3H620M461 207.3H464M491 207.3H509M536 207.3H563M398 215.3H404M419 215.3H422M395 217.3H398M434 217.3H437M392 219.3H395M446 219.3H449M452 221.3H455M383 223.3H386M458 223.3H461M377 225.3H380M464 225.3H467M368 227.3H371M362 229.3H365M473 229.3H476M209 231.3H236M197 233.3H209M242 233.3H254M359 233.3H362M482 233.3H485M194 235.3H203M245 235.3H257M359 235.3H362M485 235.3H488M194 237.3H206M239 237.3H251M359 237.3H362M491 237.3H494M203 239.3H236M359 239.3H362M494 239.3H500M359 241.3H362M500 241.3H506M359 243.3H362M506 243.3H509M359 245.3H362M509 245.3H512M509 247.3H512M356 249.3H359M509 249.3H512M668 249.3H675.5M509 251.3H512M653 251.3H675.5M344 253.3H350M509 253.3H512M647 253.3H668M335 255.3H344M509 255.3H512M644 255.3H659M326 257.3H335M512 257.3H518M641 257.3H656M320 259.3H326M533 259.3H542M632 259.3H650M311 261.3H320M545 261.3H548M614 261.3H641M158 263.3H179M302 263.3H311M548 263.3H551M599 263.3H611M149 265.3H155M257 265.3H266M293 265.3H302M554 265.3H557M590 265.3H596M143 267.3H146M266 267.3H296M563 267.3H584M272 269.3H290M146 275.3H152M182 275.3H206M593 275.3H605M611 275.3H632M233 277.3H242M587 277.3H590M629 277.3H638M248 279.3H257M512 279.3H515M533 279.3H536M584 279.3H587M635 279.3H641M257 281.3H263M536 281.3H539M584 281.3H587M635 281.3H641M263 283.3H269M506 283.3H509M536 283.3H539M584 283.3H587M632 283.3H641M266 285.3H272M536 285.3H539M584 285.3H590M626 285.3H635M269 287.3H275M506 287.3H509M533 287.3H536M590 287.3H599M611 287.3H623M272 289.3H278M530 289.3H533M272 291.3H278M509 291.3H512M527 291.3H530M269 293.3H275M515 293.3H524M260 295.3H266M149 297.3H161M233 297.3H245M143 299.3H146M230 319.3H236M263 319.3H266M224 321.3H230M263 321.3H266M230 323.3H239M254 323.3H260M143 335.3H152M164 337.3H170M173 339.3H176M176 341.3H179M176 343.3H179M173 345.3H176M170 347.3H173M161 349.3H167M149 351.3H158M674 363.3H675.5M674 365.3H675.5" stroke="#0070ff" stroke-width="2" fill="none"/>
<path d="M407 189.3H410M392 193.3H395M386 195.3H389M377 197.3H386M377 199.3H389M428 201.3H431M584 205.3H587M620 205.3H632M464 207.3H470M479 207.3H491M404 215.3H419M431 217.3H434M443 219.3H446M389 221.3H392M449 221.3H452M386 223.3H389M455 223.3H458M380 225.3H383M461 225.3H464M371 227.3H374M467 227.3H470M365 229.3H368M362 231.3H365M476 231.3H479M209 233.3H242M479 233.3H482M203 235.3H215M236 235.3H245M206 237.3H239M488 237.3H491M491 239.3H494M497 241.3H500M503 243.3H506M506 245.3H509M359 247.3H362M506 247.3H509M506 249.3H509M353 251.3H356M506 251.3H509M350 253.3H353M506 253.3H509M668 253.3H675.5M344 255.3H347M506 255.3H509M659 255.3H674M335 257.3H341M509 257.3H512M656 257.3H668M326 259.3H332M512 259.3H533M650 259.3H665M320 261.3H326M539 261.3H545M641 261.3H662M311 263.3H317M545 263.3H548M611 263.3H659M155 265.3H167M200 265.3H212M248 265.3H257M302 265.3H311M551 265.3H554M596 265.3H608M626 265.3H647M146 267.3H152M260 267.3H266M296 267.3H302M557 267.3H563M584 267.3H593M143 269.3H149M266 269.3H272M290 269.3H299M143 271.3H146M269 271.3H296M143 273.3H149M272 273.3H290M593 273.3H641M152 275.3H182M206 275.3H221M587 275.3H593M632 275.3H650M242 277.3H254M515 277.3H536M584 277.3H587M638 277.3H653M257 279.3H266M509 279.3H512M536 279.3H542M581 279.3H584M641 279.3H653M263 281.3H272M506 281.3H509M539 281.3H542M581 281.3H584M641 281.3H650M269 283.3H275M539 283.3H542M581 283.3H584M641 283.3H647M272 285.3H281M503 285.3H506M539 285.3H542M581 285.3H584M635 285.3H641M275 287.3H287M536 287.3H539M584 287.3H590M623 287.3H632M278 289.3H287M506 289.3H509M533 289.3H536M599 289.3H611M278 291.3H287M530 291.3H533M275 293.3H281M512 293.3H515M524 293.3H527M266 295.3H272M245 297.3H254M146 299.3H164M143 301.3H149M242 317.3H263M227 319.3H230M266 319.3H272M221 321.3H224M266 321.3H269M224 323.3H230M260 323.3H266M152 335.3H161M170 337.3H173M176 339.3H182M179 341.3H185M524 341.3H539M179 343.3H182M524 343.3H539M176 345.3H179M173 347.3H176M167 349.3H170M158 351.3H161M674 361.3H675.5M671 363.3H674M671 365.3H674M674 367.3H675.5" stroke="#0080ff" stroke-width="2" fill="none"/>
<path d="M410 189.3H416M401 191.3H404M395 193.3H398M389 195.3H392M386 197.3H389M389 199.3H401M431 201.3H434M446 203.3H449M455 205.3H458M578 205.3H584M632 205.3H675.5M470 207.3H479M398 217.3H401M425 217.3H431M395 219.3H398M440 219.3H443M392 221.3H395M446 221.3H449M452 223.3H455M458 225.3H461M374 227.3H377M464 227.3H467M368 229.3H371M470 229.3H473M365 231.3H368M473 231.3H476M362 233.3H365M215 235.3H236M362 235.3H365M482 235.3H485M362 237.3H365M485 237.3H488M362 239.3H365M488 239.3H491M362 241.3H365M494 241.3H497M362 243.3H365M497 243.3H503M362 245.3H365M500 245.3H506M503 247.3H506M359 249.3H362M503 249.3H506M356 251.3H359M503 251.3H506M353 253.3H356M503 253.3H506M347 255.3H350M503 255.3H506M674 255.3H675.5M341 257.3H347M506 257.3H509M668 257.3H675.5M332 259.3H338M509 259.3H512M665 259.3H675.5M326 261.3H332M518 261.3H539M662 261.3H675.5M317 263.3H326M542 263.3H545M659 263.3H675.5M167 265.3H200M212 265.3H248M311 265.3H320M548 265.3H551M608 265.3H626M647 265.3H675.5M152 267.3H161M254 267.3H260M302 267.3H311M551 267.3H557M593 267.3H675.5M149 269.3H155M260 269.3H266M299 269.3H308M560 269.3H599M611 269.3H675.5M146 271.3H152M263 271.3H269M296 271.3H305M590 271.3H675.5M149 273.3H158M263 273.3H272M290 273.3H305M584 273.3H593M641 273.3H675.5M221 275.3H236M260 275.3H308M581 275.3H587M650 275.3H675.5M254 277.3H311M512 277.3H515M536 277.3H542M578 277.3H584M653 277.3H675.5M266 279.3H317M506 279.3H509M542 279.3H545M578 279.3H581M653 279.3H675.5M272 281.3H320M503 281.3H506M542 281.3H548M575 281.3H581M650 281.3H662M275 283.3H320M503 283.3H506M542 283.3H545M575 283.3H581M647 283.3H659M281 285.3H320M542 285.3H545M578 285.3H581M641 285.3H650M287 287.3H317M503 287.3H506M539 287.3H542M581 287.3H584M632 287.3H644M287 289.3H311M536 289.3H539M587 289.3H599M611 289.3H629M287 291.3H299M506 291.3H509M533 291.3H536M281 293.3H290M509 293.3H512M527 293.3H530M272 295.3H281M518 295.3H521M254 297.3H266M164 299.3H224M149 301.3H158M143 303.3H152M143 305.3H146M143 307.3H146M143 309.3H146M143 311.3H146M143 313.3H146M143 315.3H146M236 317.3H242M263 317.3H269M515 317.3H521M221 319.3H227M272 319.3H275M515 319.3H524M218 321.3H221M269 321.3H272M221 323.3H224M266 323.3H269M245 325.3H248M143 333.3H149M161 335.3H167M173 337.3H179M182 339.3H185M524 339.3H536M185 341.3H188M521 341.3H524M539 341.3H545M182 343.3H188M521 343.3H524M539 343.3H545M179 345.3H182M524 345.3H539M176 347.3H179M170 349.3H173M161 351.3H164M143 353.3H155M674 359.3H675.5M671 361.3H674M671 367.3H674M674 369.3H675.5" stroke="#008fff" stroke-width="2" fill="none"/>
<path d="M416 189.3H425M665 189.3H675.5M404 191.3H407M398 193.3H401M392 195.3H398M389 197.3H395M401 199.3H410M434 201.3H437M458 205.3H461M572 205.3H578M401 217.3H404M422 217.3H425M437 219.3H440M443 221.3H446M389 223.3H392M449 223.3H452M383 225.3H386M455 225.3H458M377 227.3H380M461 227.3H464M371 229.3H374M467 229.3H470M476 233.3H479M479 235.3H482M482 237.3H485M485 239.3H488M488 241.3H494M494 243.3H497M497 245.3H500M362 247.3H365M500 247.3H503M500 249.3H503M500 251.3H503M500 253.3H503M350 255.3H353M500 255.3H503M347 257.3H350M503 257.3H506M338 259.3H344M506 259.3H509M332 261.3H338M509 261.3H518M326 263.3H332M536 263.3H542M320 265.3H326M542 265.3H548M161 267.3H176M245 267.3H254M311 267.3H320M548 267.3H551M155 269.3H164M254 269.3H260M308 269.3H317M551 269.3H560M599 269.3H611M152 271.3H161M257 271.3H263M305 271.3H314M566 271.3H590M158 273.3H176M254 273.3H263M305 273.3H317M575 273.3H584M236 275.3H260M308 275.3H320M515 275.3H545M575 275.3H581M311 277.3H323M509 277.3H512M542 277.3H548M575 277.3H578M317 279.3H326M503 279.3H506M545 279.3H551M575 279.3H578M320 281.3H326M548 281.3H551M572 281.3H575M662 281.3H675.5M320 283.3H326M545 283.3H551M572 283.3H575M659 283.3H675.5M320 285.3H326M545 285.3H548M575 285.3H578M650 285.3H665M317 287.3H323M542 287.3H545M575 287.3H581M644 287.3H653M311 289.3H323M503 289.3H506M539 289.3H542M581 289.3H587M629 289.3H641M299 291.3H317M536 291.3H539M599 291.3H611M290 293.3H302M530 293.3H533M281 295.3H287M512 295.3H518M521 295.3H527M266 297.3H275M224 299.3H242M158 301.3H167M152 303.3H158M146 305.3H152M146 307.3H149M146 309.3H149M146 311.3H149M146 313.3H149M146 315.3H149M254 315.3H260M518 315.3H521M143 317.3H149M230 317.3H236M269 317.3H275M512 317.3H515M521 317.3H527M143 319.3H146M218 319.3H221M275 319.3H278M512 319.3H515M524 319.3H527M215 321.3H218M272 321.3H275M515 321.3H524M218 323.3H221M269 323.3H272M230 325.3H245M248 325.3H260M149 333.3H158M167 335.3H173M179 337.3H182M185 339.3H188M521 339.3H524M536 339.3H542M188 341.3H191M518 341.3H521M545 341.3H548M188 343.3H191M518 343.3H521M545 343.3H548M182 345.3H185M521 345.3H524M539 345.3H545M179 347.3H182M173 349.3H176M164 351.3H167M155 353.3H161M671 359.3H674M668 361.3H671M668 363.3H671M668 365.3H671M668 367.3H671" stroke="#009fff" stroke-width="2" fill="none"/>
<path d="M425 189.3H488M632 189.3H665M407 191.3H413M401 193.3H404M398 195.3H401M395 197.3H398M410 199.3H416M437 201.3H440M449 203.3H452M461 205.3H464M566 205.3H572M404 217.3H410M416 217.3H422M398 219.3H401M434 219.3H437M395 221.3H398M392 223.3H395M386 225.3H389M452 225.3H455M380 227.3H383M458 227.3H461M464 229.3H467M368 231.3H371M470 231.3H473M365 233.3H368M473 233.3H476M365 235.3H368M479 237.3H482M482 239.3H485M365 241.3H368M485 241.3H488M365 243.3H368M491 243.3H494M494 245.3H497M497 247.3H500M362 249.3H365M497 249.3H500M359 251.3H362M497 251.3H500M356 253.3H359M497 253.3H500M353 255.3H356M350 257.3H353M500 257.3H503M344 259.3H347M503 259.3H506M338 261.3H341M506 261.3H509M332 263.3H338M515 263.3H536M326 265.3H332M539 265.3H542M176 267.3H245M320 267.3H329M542 267.3H548M164 269.3H173M248 269.3H254M317 269.3H323M545 269.3H551M161 271.3H170M251 271.3H257M314 271.3H323M545 271.3H566M176 273.3H254M317 273.3H323M527 273.3H575M320 275.3H326M512 275.3H515M545 275.3H557M569 275.3H575M323 277.3H329M506 277.3H509M548 277.3H557M569 277.3H575M326 279.3H332M551 279.3H557M566 279.3H575M326 281.3H332M500 281.3H503M551 281.3H560M566 281.3H572M326 283.3H332M500 283.3H503M551 283.3H557M566 283.3H572M326 285.3H332M500 285.3H503M548 285.3H554M569 285.3H575M665 285.3H675.5M323 287.3H329M500 287.3H503M545 287.3H548M569 287.3H575M653 287.3H671M323 289.3H329M542 289.3H545M575 289.3H581M641 289.3H656M317 291.3H326M503 291.3H506M539 291.3H542M581 291.3H599M611 291.3H638M302 293.3H323M506 293.3H509M533 293.3H536M287 295.3H302M509 295.3H512M527 295.3H533M275 297.3H284M242 299.3H257M167 301.3H179M158 303.3H164M152 305.3H158M149 307.3H155M149 309.3H155M149 311.3H152M149 313.3H152M149 315.3H152M242 315.3H254M260 315.3H272M515 315.3H518M521 315.3H527M149 317.3H152M224 317.3H230M275 317.3H278M527 317.3H530M146 319.3H149M215 319.3H218M278 319.3H281M143 321.3H146M212 321.3H215M275 321.3H278M512 321.3H515M524 321.3H527M212 323.3H218M272 323.3H275M224 325.3H230M260 325.3H266M143 331.3H146M158 333.3H164M173 335.3H179M182 337.3H188M524 337.3H536M188 339.3H194M299 339.3H311M518 339.3H521M542 339.3H548M191 341.3H194M299 341.3H311M515 341.3H518M548 341.3H554M191 343.3H194M515 343.3H518M548 343.3H554M185 345.3H188M518 345.3H521M545 345.3H548M182 347.3H185M524 347.3H539M176 349.3H179M167 351.3H173M161 353.3H164M143 355.3H158M671 357.3H675.5M668 359.3H671M665 361.3H668M665 363.3H668M665 365.3H668M671 369.3H674" stroke="#00afff" stroke-width="2" fill="none"/>
<path d="M488 189.3H572M608 189.3H632M413 191.3H416M404 193.3H407M401 195.3H404M398 197.3H404M416 199.3H419M440 201.3H443M452 203.3H455M464 205.3H467M488 205.3H566M410 217.3H416M401 219.3H404M428 219.3H434M440 221.3H443M446 223.3H449M389 225.3H392M455 227.3H458M374 229.3H377M467 231.3H470M476 235.3H479M365 237.3H368M365 239.3H368M488 243.3H491M365 245.3H368M491 245.3H494M365 247.3H368M494 247.3H497M494 249.3H497M362 251.3H365M494 251.3H497M359 253.3H362M356 255.3H359M497 255.3H500M353 257.3H356M497 257.3H500M347 259.3H350M500 259.3H503M341 261.3H347M503 261.3H506M338 263.3H341M509 263.3H515M332 265.3H338M527 265.3H539M329 267.3H335M536 267.3H542M173 269.3H191M236 269.3H248M323 269.3H332M536 269.3H545M170 271.3H188M239 271.3H251M323 271.3H329M530 271.3H545M323 273.3H332M518 273.3H527M326 275.3H332M509 275.3H512M557 275.3H569M329 277.3H335M503 277.3H506M557 277.3H569M332 279.3H335M500 279.3H503M557 279.3H566M332 281.3H335M560 281.3H566M332 283.3H335M557 283.3H566M332 285.3H335M554 285.3H569M329 287.3H335M548 287.3H569M671 287.3H675.5M329 289.3H332M500 289.3H503M545 289.3H551M566 289.3H575M656 289.3H675.5M326 291.3H329M542 291.3H545M572 291.3H581M638 291.3H659M323 293.3H329M503 293.3H506M536 293.3H539M584 293.3H632M302 295.3H326M533 295.3H536M284 297.3H296M308 297.3H326M515 297.3H527M257 299.3H272M179 301.3H194M164 303.3H170M158 305.3H164M326 305.3H329M155 307.3H161M323 307.3H329M155 309.3H158M323 309.3H332M152 311.3H158M323 311.3H332M152 313.3H158M323 313.3H329M518 313.3H524M152 315.3H158M236 315.3H242M272 315.3H278M512 315.3H515M527 315.3H530M152 317.3H155M221 317.3H224M278 317.3H281M509 317.3H512M149 319.3H155M209 319.3H215M281 319.3H284M509 319.3H512M527 319.3H530M146 321.3H149M206 321.3H212M278 321.3H281M509 321.3H512M143 323.3H146M209 323.3H212M275 323.3H278M512 323.3H524M218 325.3H224M266 325.3H272M146 331.3H155M164 333.3H170M179 335.3H185M188 337.3H194M299 337.3H305M521 337.3H524M536 337.3H542M194 339.3H197M290 339.3H299M311 339.3H317M515 339.3H518M548 339.3H554M194 341.3H200M290 341.3H299M311 341.3H320M554 341.3H557M194 343.3H197M554 343.3H557M188 345.3H194M515 345.3H518M548 345.3H551M185 347.3H188M521 347.3H524M539 347.3H545M179 349.3H182M173 351.3H176M164 353.3H170M158 355.3H164M674 355.3H675.5M143 357.3H158M668 357.3H671M665 359.3H668M662 361.3H665M662 363.3H665M662 365.3H665M665 367.3H668M668 369.3H671M674 371.3H675.5" stroke="#00bfff" stroke-width="2" fill="none"/>
<path d="M572 189.3H608M416 191.3H419M407 193.3H410M404 195.3H407M404 197.3H407M419 199.3H425M590 203.3H623M674 203.3H675.5M467 205.3H488M404 219.3H407M425 219.3H428M398 221.3H401M437 221.3H440M395 223.3H398M443 223.3H446M449 225.3H452M383 227.3H386M452 227.3H455M377 229.3H380M461 229.3H464M371 231.3H374M368 233.3H371M470 233.3H473M368 235.3H371M473 235.3H476M476 237.3H479M479 239.3H482M482 241.3H485M485 243.3H488M488 245.3H491M491 247.3H494M365 249.3H368M491 249.3H494M494 253.3H497M494 255.3H497M494 257.3H497M350 259.3H353M497 259.3H500M347 261.3H350M500 261.3H503M341 263.3H344M503 263.3H509M338 265.3H341M512 265.3H527M335 267.3H338M524 267.3H536M191 269.3H236M332 269.3H335M527 269.3H536M188 271.3H239M329 271.3H335M521 271.3H530M332 273.3H335M509 273.3H518M332 275.3H338M503 275.3H509M335 277.3H338M500 277.3H503M335 279.3H338M335 281.3H341M497 281.3H500M335 283.3H338M497 283.3H500M335 285.3H338M497 285.3H500M335 287.3H338M332 289.3H335M551 289.3H566M329 291.3H335M500 291.3H503M545 291.3H551M560 291.3H572M659 291.3H675.5M329 293.3H332M539 293.3H545M566 293.3H584M632 293.3H659M326 295.3H332M506 295.3H509M536 295.3H539M575 295.3H584M296 297.3H308M326 297.3H332M512 297.3H515M527 297.3H533M272 299.3H284M308 299.3H332M194 301.3H242M314 301.3H332M170 303.3H179M317 303.3H335M164 305.3H167M317 305.3H326M329 305.3H335M161 307.3H164M317 307.3H323M329 307.3H335M158 309.3H164M317 309.3H323M332 309.3H335M158 311.3H161M317 311.3H323M332 311.3H335M158 313.3H161M248 313.3H275M317 313.3H323M329 313.3H335M515 313.3H518M524 313.3H530M158 315.3H161M230 315.3H236M278 315.3H281M320 315.3H332M509 315.3H512M530 315.3H533M155 317.3H161M215 317.3H221M281 317.3H287M323 317.3H326M530 317.3H533M155 319.3H158M206 319.3H209M284 319.3H287M530 319.3H533M149 321.3H155M203 321.3H206M281 321.3H284M527 321.3H530M146 323.3H152M206 323.3H209M278 323.3H281M524 323.3H527M143 325.3H149M212 325.3H218M272 325.3H275M143 327.3H146M236 327.3H260M143 329.3H152M155 331.3H164M170 333.3H179M185 335.3H191M194 337.3H200M290 337.3H299M305 337.3H314M518 337.3H521M542 337.3H548M197 339.3H203M284 339.3H290M317 339.3H323M554 339.3H557M200 341.3H206M284 341.3H290M320 341.3H323M512 341.3H515M557 341.3H560M197 343.3H203M293 343.3H317M512 343.3H515M557 343.3H560M194 345.3H197M551 345.3H554M188 347.3H191M518 347.3H521M545 347.3H548M182 349.3H185M176 351.3H179M170 353.3H173M674 353.3H675.5M164 355.3H167M668 355.3H674M158 357.3H164M662 357.3H668M146 359.3H158M659 359.3H665M656 361.3H662M656 363.3H662M659 365.3H662M659 367.3H665M665 369.3H668M671 371.3H674" stroke="#00cfff" stroke-width="2" fill="none"/>
<path d="M419 191.3H428M671 191.3H675.5M410 193.3H413M407 195.3H410M407 197.3H410M425 199.3H428M443 201.3H446M455 203.3H458M584 203.3H590M623 203.3H674M407 219.3H410M422 219.3H425M401 221.3H404M434 221.3H437M440 223.3H443M392 225.3H395M446 225.3H449M386 227.3H389M449 227.3H452M380 229.3H383M458 229.3H461M374 231.3H377M464 231.3H467M467 233.3H470M368 237.3H371M473 237.3H476M368 239.3H371M476 239.3H479M368 241.3H371M479 241.3H482M368 243.3H371M482 243.3H485M368 245.3H371M485 245.3H488M488 247.3H491M488 249.3H491M491 251.3H494M362 253.3H365M491 253.3H494M359 255.3H362M491 255.3H494M356 257.3H359M353 259.3H356M494 259.3H497M350 261.3H353M497 261.3H500M344 263.3H350M500 263.3H503M341 265.3H344M506 265.3H512M338 267.3H341M512 267.3H524M335 269.3H341M518 269.3H527M335 271.3H341M512 271.3H521M335 273.3H341M506 273.3H509M338 275.3H341M338 277.3H341M338 279.3H344M497 279.3H500M341 281.3H344M338 283.3H344M338 285.3H341M338 287.3H341M497 287.3H500M335 289.3H338M497 289.3H500M335 291.3H338M551 291.3H560M332 293.3H335M545 293.3H566M659 293.3H674M332 295.3H335M503 295.3H506M539 295.3H545M560 295.3H575M584 295.3H656M332 297.3H335M509 297.3H512M533 297.3H539M563 297.3H590M620 297.3H629M284 299.3H308M332 299.3H335M518 299.3H527M242 301.3H269M308 301.3H314M332 301.3H338M179 303.3H185M311 303.3H317M335 303.3H338M167 305.3H173M314 305.3H317M335 305.3H338M164 307.3H170M314 307.3H317M335 307.3H338M164 309.3H167M314 309.3H317M335 309.3H338M161 311.3H167M314 311.3H317M335 311.3H338M161 313.3H167M239 313.3H248M275 313.3H281M314 313.3H317M335 313.3H338M512 313.3H515M530 313.3H533M161 315.3H167M224 315.3H230M281 315.3H287M314 315.3H320M332 315.3H335M533 315.3H536M161 317.3H167M209 317.3H215M287 317.3H290M317 317.3H323M326 317.3H332M506 317.3H509M533 317.3H536M158 319.3H167M200 319.3H206M287 319.3H290M506 319.3H509M155 321.3H161M200 321.3H203M284 321.3H287M506 321.3H509M530 321.3H533M152 323.3H158M200 323.3H206M281 323.3H284M509 323.3H512M527 323.3H530M674 323.3H675.5M149 325.3H155M206 325.3H212M275 325.3H281M512 325.3H524M674 325.3H675.5M146 327.3H155M221 327.3H236M260 327.3H272M674 327.3H675.5M152 329.3H161M164 331.3H173M179 333.3H185M191 335.3H197M293 335.3H308M518 335.3H539M200 337.3H206M284 337.3H290M314 337.3H320M515 337.3H518M548 337.3H554M203 339.3H212M278 339.3H284M323 339.3H326M512 339.3H515M557 339.3H563M206 341.3H212M281 341.3H284M323 341.3H326M560 341.3H563M203 343.3H206M287 343.3H293M317 343.3H323M560 343.3H563M197 345.3H200M512 345.3H515M554 345.3H560M191 347.3H194M515 347.3H518M548 347.3H551M185 349.3H188M524 349.3H542M179 351.3H182M173 353.3H176M668 353.3H674M167 355.3H173M662 355.3H668M164 357.3H170M656 357.3H662M143 359.3H146M158 359.3H167M653 359.3H659M149 361.3H164M653 361.3H656M653 363.3H656M215 365.3H221M653 365.3H659M656 367.3H659M662 369.3H665M668 371.3H671" stroke="#00dfff" stroke-width="2" fill="none"/>
<path d="M428 191.3H440M455 191.3H464M647 191.3H671M413 193.3H416M410 195.3H413M410 197.3H416M428 199.3H431M446 201.3H449M458 203.3H461M578 203.3H584M410 219.3H422M431 221.3H434M398 223.3H401M437 223.3H440M395 225.3H398M443 225.3H446M389 227.3H392M446 227.3H449M452 229.3H458M461 231.3H464M371 233.3H374M470 235.3H473M473 239.3H476M476 241.3H479M479 243.3H482M482 245.3H485M368 247.3H371M485 247.3H488M485 249.3H488M365 251.3H368M488 251.3H491M488 253.3H491M491 257.3H494M491 259.3H494M494 261.3H497M497 263.3H500M344 265.3H347M500 265.3H506M341 267.3H347M506 267.3H512M341 269.3H344M509 269.3H518M341 271.3H344M506 271.3H512M341 273.3H344M503 273.3H506M341 275.3H344M500 275.3H503M341 277.3H344M497 277.3H500M344 279.3H347M344 281.3H347M494 281.3H497M494 283.3H497M341 285.3H344M341 287.3H344M338 289.3H341M338 291.3H341M335 293.3H338M500 293.3H503M674 293.3H675.5M335 295.3H338M545 295.3H560M656 295.3H671M335 297.3H338M506 297.3H509M539 297.3H563M590 297.3H620M629 297.3H656M335 299.3H338M512 299.3H518M527 299.3H539M554 299.3H641M269 301.3H308M338 301.3H341M560 301.3H587M185 303.3H203M308 303.3H311M338 303.3H341M173 305.3H179M308 305.3H314M338 305.3H341M170 307.3H173M311 307.3H314M338 307.3H341M167 309.3H173M311 309.3H314M338 309.3H341M167 311.3H173M251 311.3H278M311 311.3H314M338 311.3H341M515 311.3H533M167 313.3H173M230 313.3H239M281 313.3H287M308 313.3H314M509 313.3H512M533 313.3H536M167 315.3H173M215 315.3H224M287 315.3H290M308 315.3H314M335 315.3H338M506 315.3H509M167 317.3H176M200 317.3H209M290 317.3H293M311 317.3H317M332 317.3H335M167 319.3H176M191 319.3H200M290 319.3H293M314 319.3H332M533 319.3H536M674 319.3H675.5M161 321.3H173M191 321.3H200M287 321.3H293M671 321.3H675.5M158 323.3H167M194 323.3H200M284 323.3H290M671 323.3H674M155 325.3H164M200 325.3H206M281 325.3H284M509 325.3H512M524 325.3H527M668 325.3H674M155 327.3H164M212 327.3H221M272 327.3H278M515 327.3H521M668 327.3H674M161 329.3H170M668 329.3H675.5M173 331.3H182M671 331.3H675.5M185 333.3H194M524 333.3H527M197 335.3H209M281 335.3H293M308 335.3H317M515 335.3H518M539 335.3H545M206 337.3H218M275 337.3H284M320 337.3H326M512 337.3H515M554 337.3H560M212 339.3H221M272 339.3H278M326 339.3H329M563 339.3H566M212 341.3H218M275 341.3H281M326 341.3H329M509 341.3H512M563 341.3H569M206 343.3H212M281 343.3H287M323 343.3H329M509 343.3H512M563 343.3H566M200 345.3H206M560 345.3H563M194 347.3H197M512 347.3H515M551 347.3H554M188 349.3H191M518 349.3H524M542 349.3H545M182 351.3H185M668 351.3H675.5M176 353.3H179M662 353.3H668M173 355.3H176M656 355.3H662M170 357.3H173M650 357.3H656M167 359.3H176M647 359.3H653M143 361.3H149M164 361.3H176M647 361.3H653M149 363.3H176M203 363.3H227M647 363.3H653M203 365.3H215M221 365.3H230M569 365.3H572M650 365.3H653M566 367.3H575M653 367.3H656M656 369.3H662M665 371.3H668M671 373.3H675.5" stroke="#00efff" stroke-width="2" fill="none"/>
<path d="M440 191.3H455M464 191.3H491M629 191.3H647M416 193.3H422M413 195.3H416M416 197.3H419M431 199.3H434M449 201.3H452M461 203.3H467M572 203.3H578M404 221.3H407M428 221.3H431M401 223.3H404M434 223.3H437M440 225.3H443M392 227.3H395M443 227.3H446M383 229.3H386M449 229.3H452M377 231.3H380M458 231.3H461M374 233.3H377M464 233.3H467M371 235.3H374M467 235.3H470M371 237.3H374M470 237.3H473M371 239.3H374M371 241.3H374M473 241.3H476M371 243.3H374M476 243.3H479M371 245.3H374M479 245.3H482M482 247.3H485M368 249.3H371M482 249.3H485M485 251.3H488M365 253.3H368M362 255.3H365M488 255.3H491M359 257.3H362M488 257.3H491M356 259.3H359M353 261.3H356M491 261.3H494M350 263.3H353M494 263.3H497M347 265.3H350M497 265.3H500M347 267.3H350M500 267.3H506M344 269.3H347M503 269.3H509M344 271.3H347M500 271.3H506M344 273.3H347M500 273.3H503M344 275.3H347M497 275.3H500M344 277.3H347M494 277.3H497M494 279.3H497M344 283.3H347M344 285.3H347M494 285.3H497M494 287.3H497M341 289.3H344M497 291.3H500M338 293.3H341M338 295.3H341M500 295.3H503M671 295.3H675.5M338 297.3H341M503 297.3H506M656 297.3H668M338 299.3H341M509 299.3H512M539 299.3H554M641 299.3H656M521 301.3H560M587 301.3H644M203 303.3H278M299 303.3H308M341 303.3H344M542 303.3H635M179 305.3H188M305 305.3H308M341 305.3H344M548 305.3H623M173 307.3H179M305 307.3H311M341 307.3H344M173 309.3H176M305 309.3H311M341 309.3H344M524 309.3H536M173 311.3H176M239 311.3H251M278 311.3H284M305 311.3H311M512 311.3H515M533 311.3H539M173 313.3H179M221 313.3H230M287 313.3H293M305 313.3H308M338 313.3H341M536 313.3H539M173 315.3H185M206 315.3H215M290 315.3H308M536 315.3H539M176 317.3H200M293 317.3H311M335 317.3H338M503 317.3H506M536 317.3H539M674 317.3H675.5M176 319.3H191M293 319.3H299M308 319.3H314M332 319.3H335M503 319.3H506M536 319.3H539M671 319.3H674M173 321.3H191M293 321.3H296M317 321.3H329M533 321.3H536M668 321.3H671M167 323.3H194M290 323.3H293M506 323.3H509M530 323.3H533M665 323.3H671M164 325.3H176M191 325.3H200M284 325.3H290M527 325.3H530M659 325.3H668M164 327.3H176M203 327.3H212M278 327.3H284M512 327.3H515M521 327.3H527M653 327.3H668M170 329.3H182M215 329.3H275M611 329.3H668M182 331.3H194M611 331.3H671M194 333.3H212M281 333.3H308M515 333.3H524M527 333.3H536M662 333.3H675.5M209 335.3H224M272 335.3H281M317 335.3H323M512 335.3H515M545 335.3H551M671 335.3H675.5M218 337.3H230M266 337.3H275M326 337.3H329M560 337.3H566M674 337.3H675.5M221 339.3H233M263 339.3H272M329 339.3H332M509 339.3H512M566 339.3H572M218 341.3H230M266 341.3H275M329 341.3H332M569 341.3H572M212 343.3H221M275 343.3H281M329 343.3H332M566 343.3H569M206 345.3H212M293 345.3H323M509 345.3H512M563 345.3H566M197 347.3H203M554 347.3H560M674 347.3H675.5M191 349.3H194M515 349.3H518M545 349.3H551M668 349.3H675.5M185 351.3H188M659 351.3H668M179 353.3H182M653 353.3H662M176 355.3H179M647 355.3H656M173 357.3H179M641 357.3H650M176 359.3H182M641 359.3H647M176 361.3H188M209 361.3H218M641 361.3H647M143 363.3H149M176 363.3H203M227 363.3H233M641 363.3H647M155 365.3H203M230 365.3H236M560 365.3H569M572 365.3H581M644 365.3H650M206 367.3H233M560 367.3H566M575 367.3H581M647 367.3H653M569 369.3H575M653 369.3H656M659 371.3H665M668 373.3H671" stroke="#00ffff" stroke-width="2" fill="none"/>
<path d="M491 191.3H506M614 191.3H629M422 193.3H425M416 195.3H419M419 197.3H422M434 199.3H437M452 201.3H455M665 201.3H675.5M467 203.3H572M407 221.3H413M422 221.3H428M431 223.3H434M398 225.3H401M434 225.3H440M440 227.3H443M386 229.3H389M443 229.3H449M380 231.3H383M452 231.3H458M461 233.3H464M464 235.3H467M467 237.3H470M470 239.3H473M470 241.3H473M473 243.3H476M476 245.3H479M371 247.3H374M479 247.3H482M368 251.3H371M482 251.3H485M485 253.3H488M485 255.3H488M362 257.3H365M359 259.3H362M488 259.3H491M356 261.3H359M353 263.3H356M491 263.3H494M350 265.3H353M494 265.3H497M350 267.3H353M494 267.3H500M347 269.3H350M497 269.3H503M347 271.3H350M497 271.3H500M347 273.3H350M497 273.3H500M347 275.3H350M494 275.3H497M347 277.3H350M347 279.3H350M347 281.3H350M347 283.3H350M347 285.3H350M344 287.3H347M344 289.3H347M494 289.3H497M341 291.3H344M341 293.3H344M497 293.3H500M341 295.3H344M341 297.3H344M668 297.3H675.5M341 299.3H344M506 299.3H509M656 299.3H665M341 301.3H344M515 301.3H521M644 301.3H656M278 303.3H299M524 303.3H542M635 303.3H647M188 305.3H200M266 305.3H278M296 305.3H305M530 305.3H548M623 305.3H641M179 307.3H188M302 307.3H305M527 307.3H632M176 309.3H185M245 309.3H287M302 309.3H305M515 309.3H524M536 309.3H563M176 311.3H185M227 311.3H239M284 311.3H305M341 311.3H344M509 311.3H512M539 311.3H548M179 313.3H188M212 313.3H221M293 313.3H305M341 313.3H344M506 313.3H509M539 313.3H545M185 315.3H206M338 315.3H341M503 315.3H506M539 315.3H542M674 315.3H675.5M338 317.3H341M539 317.3H542M668 317.3H674M299 319.3H308M335 319.3H338M665 319.3H671M296 321.3H317M329 321.3H332M503 321.3H506M536 321.3H539M659 321.3H668M293 323.3H296M533 323.3H536M653 323.3H665M176 325.3H191M290 325.3H293M506 325.3H509M530 325.3H533M617 325.3H659M176 327.3H203M284 327.3H290M509 327.3H512M527 327.3H530M605 327.3H653M182 329.3H215M275 329.3H287M512 329.3H527M599 329.3H611M194 331.3H293M515 331.3H530M599 331.3H611M212 333.3H239M260 333.3H281M308 333.3H317M512 333.3H515M536 333.3H542M602 333.3H662M224 335.3H248M251 335.3H272M323 335.3H326M551 335.3H557M641 335.3H671M230 337.3H266M329 337.3H332M509 337.3H512M566 337.3H572M662 337.3H674M233 339.3H263M332 339.3H335M572 339.3H578M668 339.3H675.5M230 341.3H266M332 341.3H335M572 341.3H578M671 341.3H675.5M221 343.3H230M266 343.3H275M332 343.3H335M569 343.3H575M671 343.3H675.5M212 345.3H218M284 345.3H293M323 345.3H329M566 345.3H569M668 345.3H675.5M203 347.3H206M509 347.3H512M560 347.3H563M662 347.3H674M194 349.3H197M512 349.3H515M551 349.3H554M656 349.3H668M188 351.3H191M524 351.3H542M650 351.3H659M182 353.3H185M641 353.3H653M179 355.3H182M635 355.3H647M179 357.3H185M632 357.3H641M182 359.3H188M632 359.3H641M188 361.3H209M218 361.3H227M632 361.3H641M233 363.3H236M560 363.3H581M635 363.3H641M143 365.3H155M236 365.3H239M557 365.3H560M581 365.3H587M638 365.3H644M197 367.3H206M233 367.3H239M557 367.3H560M581 367.3H587M641 367.3H647M563 369.3H569M575 369.3H581M647 369.3H653M656 371.3H659M662 373.3H668M674 375.3H675.5M218 391.3H239M212 393.3H242" stroke="#10ffef" stroke-width="2" fill="none"/>
<path d="M506 191.3H614M425 193.3H431M662 193.3H675.5M419 195.3H422M422 197.3H425M437 199.3H443M455 201.3H458M638 201.3H665M413 221.3H422M404 223.3H407M428 223.3H431M401 225.3H404M431 225.3H434M395 227.3H398M434 227.3H440M389 229.3H392M437 229.3H443M443 231.3H452M377 233.3H380M455 233.3H461M374 235.3H377M461 235.3H464M374 237.3H377M464 237.3H467M467 239.3H470M470 243.3H473M473 245.3H476M476 247.3H479M371 249.3H374M479 249.3H482M368 253.3H371M482 253.3H485M365 255.3H368M485 257.3H488M488 261.3H491M356 263.3H359M488 263.3H491M353 265.3H356M491 265.3H494M491 267.3H494M350 269.3H353M494 269.3H497M350 271.3H353M494 271.3H497M350 273.3H353M494 273.3H497M350 275.3H353M491 275.3H494M350 277.3H353M491 277.3H494M350 279.3H353M491 279.3H494M350 281.3H353M491 281.3H494M350 283.3H353M491 283.3H494M491 285.3H494M347 287.3H350M344 291.3H347M494 291.3H497M344 293.3H347M344 295.3H347M497 295.3H500M344 297.3H347M500 297.3H503M344 299.3H347M503 299.3H506M665 299.3H674M344 301.3H347M509 301.3H515M656 301.3H665M344 303.3H347M518 303.3H524M647 303.3H656M200 305.3H266M278 305.3H296M344 305.3H347M521 305.3H530M641 305.3H650M188 307.3H197M227 307.3H302M344 307.3H347M518 307.3H527M632 307.3H644M185 309.3H191M224 309.3H245M287 309.3H302M344 309.3H347M512 309.3H515M563 309.3H638M185 311.3H197M212 311.3H227M548 311.3H581M188 313.3H212M545 313.3H551M674 313.3H675.5M341 315.3H344M542 315.3H545M668 315.3H674M542 317.3H545M662 317.3H668M539 319.3H542M656 319.3H665M332 321.3H335M647 321.3H659M296 323.3H332M503 323.3H506M614 323.3H653M293 325.3H299M533 325.3H536M602 325.3H617M290 327.3H296M530 327.3H533M596 327.3H605M287 329.3H296M509 329.3H512M527 329.3H533M593 329.3H599M293 331.3H311M512 331.3H515M530 331.3H536M590 331.3H599M239 333.3H260M317 333.3H323M542 333.3H548M590 333.3H602M248 335.3H251M326 335.3H329M509 335.3H512M557 335.3H569M593 335.3H641M332 337.3H335M572 337.3H584M635 337.3H662M335 339.3H338M506 339.3H509M578 339.3H584M653 339.3H668M335 341.3H338M506 341.3H509M578 341.3H581M659 341.3H671M230 343.3H266M335 343.3H338M506 343.3H509M575 343.3H578M659 343.3H671M218 345.3H227M275 345.3H284M329 345.3H332M506 345.3H509M569 345.3H575M656 345.3H668M206 347.3H212M563 347.3H566M653 347.3H662M197 349.3H203M554 349.3H557M647 349.3H656M191 351.3H194M518 351.3H524M542 351.3H548M638 351.3H650M185 353.3H188M629 353.3H641M182 355.3H188M623 355.3H635M185 357.3H188M620 357.3H632M188 359.3H218M620 359.3H632M227 361.3H233M620 361.3H632M236 363.3H239M557 363.3H560M581 363.3H590M623 363.3H635M239 365.3H242M554 365.3H557M587 365.3H593M629 365.3H638M152 367.3H197M239 367.3H242M554 367.3H557M587 367.3H590M635 367.3H641M215 369.3H230M557 369.3H563M581 369.3H587M641 369.3H647M569 371.3H575M650 371.3H656M659 373.3H662M668 375.3H674M209 391.3H218M239 391.3H248M206 393.3H212M242 393.3H251" stroke="#20ffdf" stroke-width="2" fill="none"/>
<path d="M431 193.3H443M644 193.3H662M422 195.3H425M425 197.3H431M443 199.3H446M458 201.3H461M593 201.3H638M407 223.3H413M422 223.3H428M404 225.3H407M428 225.3H431M398 227.3H401M431 227.3H434M392 229.3H395M431 229.3H437M383 231.3H386M434 231.3H443M446 233.3H455M458 235.3H461M461 237.3H464M374 239.3H377M464 239.3H467M374 241.3H377M467 241.3H470M374 243.3H377M467 243.3H470M374 245.3H377M470 245.3H473M473 247.3H476M476 249.3H479M371 251.3H374M479 251.3H482M482 255.3H485M365 257.3H368M362 259.3H365M485 259.3H488M359 261.3H362M485 261.3H488M356 265.3H359M488 265.3H491M353 267.3H356M488 267.3H491M353 269.3H356M491 269.3H494M491 271.3H494M491 273.3H494M353 279.3H356M353 281.3H356M350 285.3H353M350 287.3H353M491 287.3H494M347 289.3H350M347 291.3H350M494 293.3H497M674 299.3H675.5M506 301.3H509M665 301.3H674M347 303.3H350M512 303.3H518M656 303.3H665M347 305.3H350M515 305.3H521M650 305.3H659M197 307.3H227M515 307.3H518M644 307.3H656M191 309.3H224M509 309.3H512M638 309.3H653M197 311.3H212M344 311.3H347M506 311.3H509M581 311.3H647M344 313.3H347M503 313.3H506M551 313.3H638M662 313.3H674M545 315.3H554M653 315.3H668M341 317.3H344M500 317.3H503M545 317.3H548M647 317.3H662M338 319.3H341M500 319.3H503M542 319.3H545M629 319.3H656M335 321.3H338M500 321.3H503M539 321.3H542M608 321.3H647M332 323.3H335M536 323.3H539M599 323.3H614M299 325.3H329M503 325.3H506M593 325.3H602M296 327.3H308M506 327.3H509M533 327.3H536M590 327.3H596M296 329.3H311M533 329.3H536M587 329.3H593M311 331.3H320M509 331.3H512M536 331.3H539M584 331.3H590M323 333.3H329M509 333.3H512M548 333.3H557M578 333.3H590M329 335.3H332M569 335.3H593M335 337.3H338M506 337.3H509M584 337.3H635M338 339.3H341M584 339.3H593M632 339.3H653M338 341.3H341M581 341.3H587M644 341.3H659M338 343.3H341M578 343.3H584M647 343.3H659M227 345.3H239M263 345.3H275M332 345.3H335M575 345.3H578M647 345.3H656M212 347.3H221M311 347.3H314M506 347.3H509M566 347.3H569M641 347.3H653M203 349.3H209M509 349.3H512M557 349.3H563M632 349.3H647M194 351.3H200M515 351.3H518M548 351.3H554M626 351.3H638M188 353.3H194M533 353.3H536M617 353.3H629M188 355.3H191M614 355.3H623M188 357.3H197M611 357.3H620M218 359.3H227M608 359.3H620M233 361.3H239M557 361.3H593M605 361.3H620M239 363.3H245M551 363.3H557M590 363.3H623M242 365.3H248M551 365.3H554M593 365.3H602M614 365.3H629M143 367.3H152M242 367.3H245M551 367.3H554M590 367.3H596M623 367.3H635M206 369.3H215M230 369.3H239M554 369.3H557M587 369.3H593M632 369.3H641M563 371.3H569M575 371.3H584M641 371.3H650M650 373.3H659M662 375.3H668M206 391.3H209M248 391.3H254M200 393.3H206M251 393.3H257" stroke="#30ffcf" stroke-width="2" fill="none"/>
<path d="M443 193.3H485M632 193.3H644M425 195.3H431M668 195.3H675.5M431 197.3H434M446 199.3H449M662 199.3H675.5M461 201.3H467M584 201.3H593M413 223.3H422M407 225.3H410M422 225.3H428M401 227.3H407M425 227.3H431M395 229.3H401M425 229.3H431M386 231.3H389M428 231.3H434M380 233.3H383M431 233.3H446M377 235.3H380M452 235.3H458M458 237.3H461M461 239.3H464M464 241.3H467M467 245.3H470M374 247.3H377M470 247.3H473M374 249.3H377M473 249.3H476M476 251.3H479M479 253.3H482M368 255.3H371M482 257.3H485M482 259.3H485M362 261.3H365M359 263.3H362M485 263.3H488M485 265.3H488M356 267.3H359M488 269.3H491M353 271.3H356M488 271.3H491M353 273.3H356M488 273.3H491M353 275.3H356M488 275.3H491M353 277.3H356M488 277.3H491M488 279.3H491M488 281.3H491M353 283.3H356M488 283.3H491M353 285.3H356M350 289.3H353M491 289.3H494M347 293.3H350M347 295.3H350M494 295.3H497M347 297.3H350M497 297.3H500M347 299.3H350M500 299.3H503M347 301.3H350M503 301.3H506M674 301.3H675.5M509 303.3H512M665 303.3H674M512 305.3H515M659 305.3H668M347 307.3H350M509 307.3H515M656 307.3H668M347 309.3H350M506 309.3H509M653 309.3H671M347 311.3H350M503 311.3H506M647 311.3H675.5M638 313.3H662M344 315.3H347M500 315.3H503M554 315.3H653M548 317.3H557M569 317.3H584M599 317.3H647M341 319.3H344M545 319.3H548M599 319.3H629M338 321.3H341M542 321.3H545M590 321.3H608M335 323.3H338M500 323.3H503M539 323.3H542M587 323.3H599M329 325.3H332M536 325.3H539M584 325.3H593M308 327.3H329M503 327.3H506M536 327.3H539M584 327.3H590M311 329.3H323M506 329.3H509M536 329.3H539M581 329.3H587M320 331.3H326M506 331.3H509M539 331.3H545M578 331.3H584M329 333.3H332M506 333.3H509M557 333.3H578M332 335.3H335M506 335.3H509M338 337.3H341M593 339.3H632M341 341.3H344M503 341.3H506M587 341.3H599M626 341.3H644M341 343.3H344M503 343.3H506M584 343.3H593M632 343.3H647M239 345.3H263M335 345.3H341M503 345.3H506M578 345.3H587M632 345.3H647M221 347.3H230M284 347.3H311M314 347.3H329M569 347.3H575M626 347.3H641M209 349.3H215M506 349.3H509M563 349.3H566M620 349.3H632M200 351.3H206M512 351.3H515M554 351.3H557M611 351.3H626M194 353.3H200M521 353.3H533M536 353.3H548M608 353.3H617M191 355.3H197M602 355.3H614M197 357.3H215M599 357.3H611M227 359.3H233M575 359.3H608M239 361.3H242M551 361.3H557M593 361.3H605M245 363.3H248M548 363.3H551M248 365.3H251M548 365.3H551M602 365.3H614M245 367.3H248M548 367.3H551M596 367.3H623M197 369.3H206M239 369.3H242M551 369.3H554M593 369.3H599M620 369.3H632M557 371.3H563M584 371.3H590M632 371.3H641M641 373.3H650M653 375.3H662M668 377.3H675.5M218 389.3H239M200 391.3H206M254 391.3H260M197 393.3H200M257 393.3H263M209 395.3H245" stroke="#40ffbf" stroke-width="2" fill="none"/>
<path d="M485 193.3H497M617 193.3H632M431 195.3H437M653 195.3H668M434 197.3H440M665 197.3H675.5M449 199.3H455M644 199.3H662M467 201.3H497M572 201.3H584M410 225.3H422M407 227.3H425M401 229.3H407M419 229.3H425M389 231.3H395M419 231.3H428M383 233.3H386M425 233.3H431M380 235.3H383M434 235.3H452M377 237.3H380M452 237.3H458M377 239.3H380M458 239.3H461M377 241.3H380M461 241.3H464M377 243.3H380M464 243.3H467M377 245.3H380M464 245.3H467M467 247.3H470M470 249.3H473M473 251.3H476M371 253.3H374M476 253.3H479M479 255.3H482M368 257.3H371M479 257.3H482M365 259.3H368M482 261.3H485M482 263.3H485M359 265.3H362M485 267.3H488M356 269.3H359M485 269.3H488M356 271.3H359M485 271.3H488M356 273.3H359M485 273.3H488M356 275.3H359M485 275.3H488M356 277.3H359M356 279.3H359M356 281.3H359M488 285.3H491M353 287.3H356M488 287.3H491M350 291.3H353M491 291.3H494M350 293.3H353M350 299.3H353M497 299.3H500M350 301.3H353M500 301.3H503M350 303.3H353M506 303.3H509M674 303.3H675.5M350 305.3H353M506 305.3H512M668 305.3H675.5M350 307.3H353M506 307.3H509M668 307.3H675.5M503 309.3H506M671 309.3H675.5M347 313.3H350M500 313.3H503M344 317.3H347M557 317.3H569M584 317.3H599M548 319.3H557M560 319.3H599M545 321.3H548M575 321.3H590M338 323.3H341M542 323.3H545M578 323.3H587M332 325.3H335M500 325.3H503M539 325.3H542M578 325.3H584M329 327.3H332M539 327.3H542M578 327.3H584M323 329.3H329M503 329.3H506M539 329.3H545M575 329.3H581M326 331.3H332M545 331.3H557M566 331.3H578M332 333.3H335M335 335.3H338M503 337.3H506M341 339.3H344M503 339.3H506M599 341.3H626M593 343.3H632M341 345.3H344M587 345.3H599M614 345.3H632M230 347.3H239M266 347.3H284M329 347.3H335M503 347.3H506M575 347.3H587M608 347.3H626M215 349.3H224M566 349.3H572M605 349.3H620M206 351.3H212M509 351.3H512M557 351.3H563M599 351.3H611M200 353.3H206M515 353.3H521M548 353.3H554M599 353.3H608M197 355.3H209M539 355.3H542M593 355.3H602M215 357.3H227M587 357.3H599M233 359.3H236M551 359.3H575M242 361.3H245M548 361.3H551M248 363.3H251M545 363.3H548M251 365.3H254M545 365.3H548M248 367.3H254M545 367.3H548M143 369.3H197M242 369.3H248M548 369.3H551M599 369.3H620M554 371.3H557M590 371.3H602M614 371.3H632M566 373.3H584M629 373.3H641M644 375.3H653M659 377.3H668M674 379.3H675.5M212 389.3H218M239 389.3H248M197 391.3H200M260 391.3H266M194 393.3H197M263 393.3H269M203 395.3H209M245 395.3H254" stroke="#50ffaf" stroke-width="2" fill="none"/>
<path d="M497 193.3H515M545 193.3H557M605 193.3H617M437 195.3H449M641 195.3H653M440 197.3H446M650 197.3H665M455 199.3H461M626 199.3H644M497 201.3H572M407 229.3H419M395 231.3H404M407 231.3H419M386 233.3H389M416 233.3H425M425 235.3H434M380 237.3H383M446 237.3H452M455 239.3H458M458 241.3H461M461 243.3H464M377 247.3H380M374 251.3H377M371 255.3H374M476 255.3H479M479 259.3H482M365 261.3H368M479 261.3H482M362 263.3H365M482 265.3H485M359 267.3H362M482 267.3H485M359 269.3H362M482 269.3H485M485 277.3H488M485 279.3H488M485 281.3H488M356 283.3H359M356 285.3H359M353 289.3H356M488 289.3H491M353 291.3H356M491 293.3H494M350 295.3H353M350 297.3H353M494 297.3H497M503 303.3H506M503 305.3H506M503 307.3H506M350 309.3H353M500 311.3H503M347 315.3H350M497 315.3H500M497 317.3H500M344 319.3H347M497 319.3H500M557 319.3H560M341 321.3H344M497 321.3H500M548 321.3H575M545 323.3H551M569 323.3H578M335 325.3H338M542 325.3H548M569 325.3H578M332 327.3H335M500 327.3H503M542 327.3H545M569 327.3H578M329 329.3H335M545 329.3H551M566 329.3H575M332 331.3H335M503 331.3H506M557 331.3H566M335 333.3H338M503 333.3H506M338 335.3H341M503 335.3H506M341 337.3H344M344 339.3H347M344 341.3H347M344 343.3H347M599 345.3H614M239 347.3H266M335 347.3H341M587 347.3H608M224 349.3H233M503 349.3H506M572 349.3H605M212 351.3H221M506 351.3H509M563 351.3H566M590 351.3H599M206 353.3H218M512 353.3H515M554 353.3H560M590 353.3H599M209 355.3H221M524 355.3H539M542 355.3H554M587 355.3H593M227 357.3H233M539 357.3H587M236 359.3H242M542 359.3H551M245 361.3H248M542 361.3H548M251 363.3H254M542 363.3H545M254 365.3H257M542 365.3H545M254 367.3H257M542 367.3H545M248 369.3H251M308 369.3H323M545 369.3H548M215 371.3H239M308 371.3H329M551 371.3H554M602 371.3H614M314 373.3H329M560 373.3H566M584 373.3H599M608 373.3H629M629 375.3H644M644 377.3H659M659 379.3H674M674 381.3H675.5M206 389.3H212M248 389.3H254M194 391.3H197M266 391.3H275M290 391.3H317M191 393.3H194M269 393.3H314M197 395.3H203M254 395.3H260" stroke="#60ff9f" stroke-width="2" fill="none"/>
<path d="M515 193.3H545M557 193.3H605M449 195.3H482M626 195.3H641M446 197.3H455M638 197.3H650M461 199.3H470M605 199.3H626M404 231.3H407M389 233.3H395M407 233.3H416M383 235.3H386M419 235.3H425M434 237.3H446M380 239.3H383M449 239.3H455M380 241.3H383M455 241.3H458M380 243.3H383M458 243.3H461M461 245.3H464M464 247.3H467M377 249.3H380M467 249.3H470M470 251.3H473M374 253.3H377M473 253.3H476M476 257.3H479M368 259.3H371M365 263.3H368M479 263.3H482M362 265.3H365M479 265.3H482M359 271.3H362M482 271.3H485M359 273.3H362M482 273.3H485M359 275.3H362M482 275.3H485M359 277.3H362M482 277.3H485M359 279.3H362M359 281.3H362M359 283.3H362M485 283.3H488M485 285.3H488M356 287.3H359M356 289.3H359M488 291.3H491M353 293.3H356M353 295.3H356M491 295.3H494M353 297.3H356M353 299.3H356M494 299.3H497M353 301.3H356M497 301.3H500M353 303.3H356M500 303.3H503M353 305.3H356M500 305.3H503M353 307.3H356M500 307.3H503M500 309.3H503M350 311.3H353M350 313.3H353M497 313.3H500M347 317.3H350M344 321.3H347M341 323.3H344M497 323.3H500M551 323.3H569M338 325.3H341M548 325.3H569M335 327.3H338M545 327.3H569M335 329.3H338M500 329.3H503M551 329.3H566M335 331.3H338M338 333.3H341M341 335.3H344M344 337.3H347M500 339.3H503M347 341.3H350M500 341.3H503M347 343.3H350M500 343.3H503M344 345.3H347M500 345.3H503M341 347.3H344M500 347.3H503M233 349.3H242M317 349.3H332M221 351.3H230M503 351.3H506M566 351.3H590M218 353.3H227M509 353.3H512M560 353.3H566M581 353.3H590M221 355.3H230M518 355.3H524M554 355.3H566M575 355.3H587M233 357.3H236M530 357.3H539M242 359.3H245M536 359.3H542M248 361.3H251M539 361.3H542M254 363.3H257M539 363.3H542M257 365.3H260M539 365.3H542M257 367.3H260M305 367.3H326M539 367.3H542M251 369.3H257M299 369.3H308M323 369.3H332M542 369.3H545M206 371.3H215M239 371.3H245M302 371.3H308M329 371.3H338M548 371.3H551M305 373.3H314M329 373.3H341M557 373.3H560M599 373.3H608M311 375.3H344M608 375.3H629M323 377.3H338M626 377.3H644M641 379.3H659M656 381.3H674M665 383.3H675.5M671 385.3H675.5M674 387.3H675.5M203 389.3H206M254 389.3H263M299 389.3H317M191 391.3H194M275 391.3H290M317 391.3H320M188 393.3H191M314 393.3H320M194 395.3H197M260 395.3H272" stroke="#70ff8f" stroke-width="2" fill="none"/>
<path d="M482 195.3H497M617 195.3H626M455 197.3H476M623 197.3H638M470 199.3H494M587 199.3H605M395 233.3H407M386 235.3H389M410 235.3H419M383 237.3H386M425 237.3H434M383 239.3H386M443 239.3H449M452 241.3H455M455 243.3H458M380 245.3H383M458 245.3H461M380 247.3H383M461 247.3H464M464 249.3H467M377 251.3H380M467 251.3H470M470 253.3H473M374 255.3H377M473 255.3H476M371 257.3H374M476 259.3H479M368 261.3H371M476 261.3H479M362 267.3H365M479 267.3H482M362 269.3H365M479 269.3H482M479 271.3H482M479 273.3H482M482 279.3H485M482 281.3H485M359 285.3H362M485 287.3H488M356 291.3H359M488 293.3H491M491 297.3H494M494 301.3H497M497 303.3H500M497 305.3H500M353 309.3H356M497 309.3H500M497 311.3H500M350 315.3H353M347 319.3H350M344 323.3H347M341 325.3H344M497 325.3H500M338 327.3H341M338 329.3H341M338 331.3H341M500 331.3H503M341 333.3H344M500 333.3H503M344 335.3H347M500 335.3H503M500 337.3H503M347 339.3H350M347 345.3H350M344 347.3H347M242 349.3H317M332 349.3H341M500 349.3H503M230 351.3H236M500 351.3H503M227 353.3H233M503 353.3H509M566 353.3H581M230 355.3H236M512 355.3H518M566 355.3H575M236 357.3H242M524 357.3H530M245 359.3H251M530 359.3H536M251 361.3H257M533 361.3H539M257 363.3H260M536 363.3H539M260 365.3H263M311 365.3H320M536 365.3H539M260 367.3H263M296 367.3H305M326 367.3H332M536 367.3H539M257 369.3H260M293 369.3H299M332 369.3H338M539 369.3H542M143 371.3H173M197 371.3H206M245 371.3H251M296 371.3H302M338 371.3H344M545 371.3H548M299 373.3H305M341 373.3H347M551 373.3H557M305 375.3H311M344 375.3H347M566 375.3H608M311 377.3H323M338 377.3H347M608 377.3H626M317 379.3H335M623 379.3H641M638 381.3H656M647 383.3H665M656 385.3H671M224 387.3H245M311 387.3H314M662 387.3H674M197 389.3H203M263 389.3H269M290 389.3H299M317 389.3H320M668 389.3H675.5M188 391.3H191M320 391.3H323M674 391.3H675.5M185 393.3H188M191 395.3H194M272 395.3H314" stroke="#80ff80" stroke-width="2" fill="none"/>
<path d="M497 195.3H509M605 195.3H617M476 197.3H494M611 197.3H623M494 199.3H512M569 199.3H587M389 235.3H410M386 237.3H389M416 237.3H425M434 239.3H443M383 241.3H386M446 241.3H452M383 243.3H386M452 243.3H455M455 245.3H458M458 247.3H461M380 249.3H383M461 249.3H464M464 251.3H467M377 253.3H380M467 253.3H470M470 255.3H473M473 257.3H476M371 259.3H374M473 259.3H476M368 263.3H371M476 263.3H479M365 265.3H368M476 265.3H479M365 267.3H368M476 267.3H479M476 269.3H479M362 271.3H365M362 273.3H365M362 275.3H365M479 275.3H482M362 277.3H365M479 277.3H482M362 279.3H365M362 281.3H365M362 283.3H365M482 283.3H485M482 285.3H485M359 287.3H362M359 289.3H362M485 289.3H488M485 291.3H488M356 293.3H359M356 295.3H359M488 295.3H491M356 297.3H359M488 297.3H491M356 299.3H359M491 299.3H494M356 301.3H359M491 301.3H494M356 303.3H359M494 303.3H497M356 305.3H359M356 307.3H359M497 307.3H500M353 311.3H356M353 313.3H356M494 313.3H497M494 315.3H497M350 317.3H353M494 317.3H497M494 319.3H497M347 321.3H350M494 321.3H497M344 325.3H347M341 327.3H344M497 327.3H500M341 329.3H344M497 329.3H500M341 331.3H344M344 333.3H347M347 337.3H350M350 339.3H353M350 341.3H353M350 343.3H353M497 345.3H500M347 347.3H350M497 347.3H500M341 349.3H344M497 349.3H500M236 351.3H248M233 353.3H239M500 353.3H503M236 355.3H242M506 355.3H512M242 357.3H248M518 357.3H524M251 359.3H254M527 359.3H530M257 361.3H260M530 361.3H533M260 363.3H266M530 363.3H536M263 365.3H269M299 365.3H311M320 365.3H332M533 365.3H536M263 367.3H269M290 367.3H296M332 367.3H338M533 367.3H536M260 369.3H263M290 369.3H293M338 369.3H344M536 369.3H539M173 371.3H197M251 371.3H257M290 371.3H296M344 371.3H347M539 371.3H545M293 373.3H299M347 373.3H350M548 373.3H551M299 375.3H305M347 375.3H350M560 375.3H566M302 377.3H311M347 377.3H350M587 377.3H608M308 379.3H317M335 379.3H344M605 379.3H623M311 381.3H332M620 381.3H638M314 383.3H323M632 383.3H647M308 385.3H320M644 385.3H656M215 387.3H224M245 387.3H254M299 387.3H311M314 387.3H323M653 387.3H662M194 389.3H197M269 389.3H290M320 389.3H323M662 389.3H668M185 391.3H188M671 391.3H674M182 393.3H185M320 393.3H323M188 395.3H191M314 395.3H317M212 397.3H233" stroke="#8fff70" stroke-width="2" fill="none"/>
<path d="M509 195.3H605M494 197.3H506M596 197.3H611M512 199.3H569M389 237.3H395M407 237.3H416M386 239.3H389M428 239.3H434M386 241.3H389M443 241.3H446M449 243.3H452M383 245.3H386M452 245.3H455M383 247.3H386M455 247.3H458M380 251.3H383M377 255.3H380M374 257.3H377M470 257.3H473M371 261.3H374M473 261.3H476M473 263.3H476M368 265.3H371M365 269.3H368M365 271.3H368M476 271.3H479M476 273.3H479M479 279.3H482M479 281.3H482M362 285.3H365M362 287.3H365M482 287.3H485M359 291.3H362M359 293.3H362M485 293.3H488M488 299.3H491M491 303.3H494M494 305.3H497M494 307.3H497M356 309.3H359M494 309.3H497M494 311.3H497M353 315.3H356M350 319.3H353M347 323.3H350M494 323.3H497M494 325.3H497M344 327.3H347M344 329.3H347M344 331.3H347M497 331.3H500M497 333.3H500M347 335.3H350M497 335.3H500M350 337.3H353M497 337.3H500M497 339.3H500M497 341.3H500M497 343.3H500M350 345.3H353M344 349.3H347M248 351.3H278M326 351.3H338M497 351.3H500M239 353.3H248M242 355.3H248M503 355.3H506M248 357.3H251M512 357.3H518M254 359.3H260M521 359.3H527M260 361.3H266M527 361.3H530M266 363.3H269M317 363.3H326M527 363.3H530M269 365.3H272M290 365.3H299M332 365.3H338M530 365.3H533M269 367.3H275M281 367.3H290M338 367.3H341M530 367.3H533M263 369.3H269M284 369.3H290M344 369.3H347M533 369.3H536M257 371.3H263M287 371.3H290M347 371.3H350M536 371.3H539M143 373.3H152M218 373.3H248M290 373.3H293M350 373.3H353M545 373.3H548M293 375.3H299M350 375.3H353M554 375.3H560M299 377.3H302M350 377.3H353M572 377.3H587M302 379.3H308M344 379.3H347M593 379.3H605M305 381.3H311M332 381.3H338M605 381.3H620M305 383.3H314M323 383.3H329M617 383.3H632M302 385.3H308M320 385.3H326M632 385.3H644M209 387.3H215M254 387.3H260M290 387.3H299M323 387.3H326M641 387.3H653M191 389.3H194M323 389.3H326M653 389.3H662M182 391.3H185M323 391.3H326M662 391.3H671M323 393.3H326M671 393.3H675.5M185 395.3H188M317 395.3H320M200 397.3H212M233 397.3H254" stroke="#9fff60" stroke-width="2" fill="none"/>
<path d="M506 197.3H596M395 237.3H407M389 239.3H395M416 239.3H428M389 241.3H392M437 241.3H443M386 243.3H389M446 243.3H449M386 245.3H389M383 249.3H386M458 249.3H461M461 251.3H464M380 253.3H383M464 253.3H467M467 255.3H470M374 259.3H377M470 259.3H473M371 263.3H374M473 265.3H476M368 267.3H371M473 267.3H476M473 269.3H476M473 271.3H476M365 273.3H368M365 275.3H368M476 275.3H479M365 277.3H368M476 277.3H479M365 279.3H368M365 281.3H368M365 283.3H368M479 283.3H482M362 289.3H365M482 289.3H485M359 295.3H362M485 295.3H488M359 297.3H362M485 297.3H488M359 299.3H362M359 301.3H362M488 301.3H491M359 303.3H362M359 305.3H362M491 305.3H494M491 307.3H494M491 309.3H494M356 311.3H359M356 313.3H359M353 317.3H356M350 321.3H353M347 325.3H350M347 327.3H350M494 327.3H497M494 329.3H497M347 331.3H350M347 333.3H350M350 335.3H353M353 339.3H356M353 341.3H356M353 343.3H356M353 345.3H356M350 347.3H353M347 349.3H350M494 349.3H497M278 351.3H290M314 351.3H326M338 351.3H347M494 351.3H497M248 353.3H260M497 353.3H500M248 355.3H254M500 355.3H503M251 357.3H260M506 357.3H512M260 359.3H263M515 359.3H521M266 361.3H269M521 361.3H527M269 363.3H275M299 363.3H317M326 363.3H335M524 363.3H527M272 365.3H290M338 365.3H341M527 365.3H530M275 367.3H281M341 367.3H344M527 367.3H530M269 369.3H284M347 369.3H350M530 369.3H533M263 371.3H269M281 371.3H287M350 371.3H353M530 371.3H536M152 373.3H164M212 373.3H218M248 373.3H254M287 373.3H290M353 373.3H356M539 373.3H545M290 375.3H293M353 375.3H356M551 375.3H554M293 377.3H299M353 377.3H356M566 377.3H572M296 379.3H302M347 379.3H350M584 379.3H593M299 381.3H305M338 381.3H341M593 381.3H605M299 383.3H305M329 383.3H332M605 383.3H617M296 385.3H302M326 385.3H329M617 385.3H632M203 387.3H209M260 387.3H272M281 387.3H290M326 387.3H329M632 387.3H641M188 389.3H191M644 389.3H653M179 391.3H182M656 391.3H662M179 393.3H182M668 393.3H671M182 395.3H185M320 395.3H323M674 395.3H675.5M194 397.3H200M254 397.3H269" stroke="#afff50" stroke-width="2" fill="none"/>
<path d="M395 239.3H416M392 241.3H395M431 241.3H437M389 243.3H392M443 243.3H446M449 245.3H452M386 247.3H389M452 247.3H455M455 249.3H458M383 251.3H386M458 251.3H461M461 253.3H464M464 255.3H467M377 257.3H380M467 257.3H470M374 261.3H377M470 261.3H473M470 263.3H473M371 265.3H374M470 265.3H473M368 269.3H371M368 271.3H371M473 273.3H476M473 275.3H476M476 279.3H479M476 281.3H479M365 285.3H368M479 285.3H482M365 287.3H368M479 287.3H482M362 291.3H365M482 291.3H485M362 293.3H365M482 293.3H485M485 299.3H488M488 303.3H491M488 305.3H491M359 307.3H362M359 309.3H362M491 311.3H494M491 313.3H494M356 315.3H359M491 315.3H494M491 317.3H494M353 319.3H356M491 319.3H494M491 321.3H494M350 323.3H353M491 323.3H494M350 325.3H353M347 329.3H350M494 331.3H497M350 333.3H353M494 333.3H497M353 337.3H356M494 343.3H497M494 345.3H497M353 347.3H356M494 347.3H497M350 349.3H353M290 351.3H314M347 351.3H350M260 353.3H275M332 353.3H341M494 353.3H497M254 355.3H263M497 355.3H500M260 357.3H266M503 357.3H506M263 359.3H269M512 359.3H515M269 361.3H275M320 361.3H335M518 361.3H521M275 363.3H299M335 363.3H341M521 363.3H524M341 365.3H344M524 365.3H527M344 367.3H347M524 367.3H527M350 369.3H353M524 369.3H530M269 371.3H281M353 371.3H356M527 371.3H530M164 373.3H176M203 373.3H212M254 373.3H263M281 373.3H287M533 373.3H539M284 375.3H290M356 375.3H359M545 375.3H551M290 377.3H293M560 377.3H566M293 379.3H296M350 379.3H353M575 379.3H584M293 381.3H299M341 381.3H344M584 381.3H593M293 383.3H299M332 383.3H335M593 383.3H605M224 385.3H254M287 385.3H296M329 385.3H332M602 385.3H617M200 387.3H203M272 387.3H281M617 387.3H632M182 389.3H188M326 389.3H329M632 389.3H644M176 391.3H179M326 391.3H329M650 391.3H656M176 393.3H179M326 393.3H329M662 393.3H668M179 395.3H182M323 395.3H326M671 395.3H674M188 397.3H194M269 397.3H314" stroke="#bfff40" stroke-width="2" fill="none"/>
<path d="M395 241.3H401M422 241.3H431M392 243.3H395M440 243.3H443M389 245.3H392M446 245.3H449M449 247.3H452M386 249.3H389M452 249.3H455M455 251.3H458M383 253.3H386M380 255.3H383M464 257.3H467M377 259.3H380M467 259.3H470M467 261.3H470M374 263.3H377M371 267.3H374M470 267.3H473M470 269.3H473M470 271.3H473M368 273.3H371M368 275.3H371M368 277.3H371M473 277.3H476M368 279.3H371M473 279.3H476M368 281.3H371M476 283.3H479M476 285.3H479M365 289.3H368M479 289.3H482M362 295.3H365M482 295.3H485M362 297.3H365M482 297.3H485M362 299.3H365M362 301.3H365M485 301.3H488M362 303.3H365M485 303.3H488M362 305.3H365M488 307.3H491M488 309.3H491M359 311.3H362M356 317.3H359M353 321.3H356M491 325.3H494M350 327.3H353M491 327.3H494M350 329.3H353M350 331.3H353M353 335.3H356M494 335.3H497M494 337.3H497M356 339.3H359M494 339.3H497M356 341.3H359M494 341.3H497M356 343.3H359M356 345.3H359M353 349.3H356M491 349.3H494M350 351.3H353M491 351.3H494M275 353.3H284M323 353.3H332M341 353.3H347M491 353.3H494M263 355.3H275M494 355.3H497M266 357.3H272M500 357.3H503M269 359.3H275M329 359.3H335M506 359.3H512M275 361.3H284M305 361.3H320M335 361.3H341M515 361.3H518M341 363.3H344M518 363.3H521M344 365.3H347M521 365.3H524M347 367.3H350M521 367.3H524M521 369.3H524M524 371.3H527M176 373.3H203M263 373.3H281M356 373.3H359M524 373.3H533M143 375.3H155M230 375.3H254M281 375.3H284M536 375.3H545M284 377.3H290M356 377.3H359M554 377.3H560M287 379.3H293M353 379.3H356M569 379.3H575M290 381.3H293M344 381.3H347M578 381.3H584M287 383.3H293M335 383.3H338M584 383.3H593M215 385.3H224M254 385.3H266M278 385.3H287M332 385.3H335M590 385.3H602M194 387.3H200M329 387.3H332M602 387.3H617M179 389.3H182M329 389.3H332M620 389.3H632M173 391.3H176M638 391.3H650M173 393.3H176M656 393.3H662M176 395.3H179M668 395.3H671M185 397.3H188M314 397.3H320M674 397.3H675.5" stroke="#cfff30" stroke-width="2" fill="none"/>
<path d="M401 241.3H422M395 243.3H398M434 243.3H440M392 245.3H395M443 245.3H446M389 247.3H392M446 247.3H449M386 251.3H389M458 253.3H461M461 255.3H464M380 257.3H383M464 259.3H467M377 261.3H380M467 263.3H470M374 265.3H377M467 265.3H470M467 267.3H470M371 269.3H374M371 271.3H374M470 273.3H473M470 275.3H473M473 281.3H476M368 283.3H371M368 285.3H371M368 287.3H371M476 287.3H479M365 291.3H368M479 291.3H482M365 293.3H368M479 293.3H482M365 295.3H368M482 299.3H485M482 301.3H485M485 305.3H488M362 307.3H365M485 307.3H488M362 309.3H365M488 311.3H491M359 313.3H362M488 313.3H491M359 315.3H362M488 315.3H491M488 317.3H491M356 319.3H359M353 323.3H356M353 325.3H356M353 327.3H356M353 329.3H356M491 329.3H494M353 331.3H356M491 331.3H494M353 333.3H356M356 337.3H359M356 347.3H359M491 347.3H494M353 351.3H356M284 353.3H290M314 353.3H323M347 353.3H353M275 355.3H281M326 355.3H347M491 355.3H494M272 357.3H278M326 357.3H344M497 357.3H500M275 359.3H284M317 359.3H329M335 359.3H344M503 359.3H506M284 361.3H305M341 361.3H347M509 361.3H515M344 363.3H347M515 363.3H518M347 365.3H350M518 365.3H521M350 367.3H353M518 367.3H521M353 369.3H356M518 369.3H521M356 371.3H359M518 371.3H524M521 373.3H524M155 375.3H164M218 375.3H230M254 375.3H281M359 375.3H362M524 375.3H536M278 377.3H284M359 377.3H362M548 377.3H554M284 379.3H287M563 379.3H569M284 381.3H290M347 381.3H350M572 381.3H578M236 383.3H254M281 383.3H287M338 383.3H341M578 383.3H584M209 385.3H215M266 385.3H278M584 385.3H590M188 387.3H194M590 387.3H602M176 389.3H179M605 389.3H620M170 391.3H173M329 391.3H332M629 391.3H638M167 393.3H173M650 393.3H656M173 395.3H176M326 395.3H329M665 395.3H668M179 397.3H185M320 397.3H323M671 397.3H674M530 401.3H542M530 403.3H542" stroke="#dfff20" stroke-width="2" fill="none"/>
<path d="M398 243.3H404M428 243.3H434M395 245.3H398M440 245.3H443M392 247.3H395M443 247.3H446M389 249.3H392M449 249.3H452M452 251.3H455M386 253.3H389M455 253.3H458M383 255.3H386M458 255.3H461M461 257.3H464M380 259.3H383M464 261.3H467M377 263.3H380M464 263.3H467M374 267.3H377M467 269.3H470M467 271.3H470M371 273.3H374M467 273.3H470M371 275.3H374M371 277.3H374M470 277.3H473M371 279.3H374M470 279.3H473M473 283.3H476M473 285.3H476M368 289.3H371M476 289.3H479M368 291.3H371M476 291.3H479M479 295.3H482M365 297.3H368M479 297.3H482M365 299.3H368M479 299.3H482M365 301.3H368M365 303.3H368M482 303.3H485M365 305.3H368M482 305.3H485M485 309.3H488M362 311.3H365M485 311.3H488M359 317.3H362M488 319.3H491M356 321.3H359M488 321.3H491M356 323.3H359M488 323.3H491M488 325.3H491M356 333.3H359M491 333.3H494M356 335.3H359M491 335.3H494M491 337.3H494M359 341.3H362M491 341.3H494M359 343.3H362M491 343.3H494M491 345.3H494M356 349.3H359M488 349.3H491M488 351.3H491M290 353.3H314M353 353.3H356M488 353.3H491M281 355.3H287M317 355.3H326M347 355.3H353M278 357.3H287M317 357.3H326M344 357.3H350M494 357.3H497M284 359.3H293M305 359.3H317M344 359.3H350M500 359.3H503M347 361.3H350M506 361.3H509M347 363.3H350M512 363.3H515M350 365.3H353M515 365.3H518M353 367.3H356M515 367.3H518M356 369.3H359M515 369.3H518M515 371.3H518M359 373.3H362M515 373.3H521M164 375.3H173M212 375.3H218M518 375.3H524M143 377.3H152M239 377.3H278M530 377.3H548M275 379.3H284M356 379.3H359M557 379.3H563M275 381.3H284M350 381.3H353M566 381.3H572M224 383.3H236M254 383.3H281M341 383.3H344M572 383.3H578M203 385.3H209M335 385.3H338M578 385.3H584M182 387.3H188M332 387.3H335M581 387.3H590M170 389.3H176M590 389.3H605M164 391.3H170M611 391.3H629M164 393.3H167M329 393.3H332M638 393.3H650M167 395.3H173M659 395.3H665M176 397.3H179M323 397.3H326M668 397.3H671M536 399.3H542M674 399.3H675.5M527 401.3H530M542 401.3H545M524 403.3H530M542 403.3H545" stroke="#efff10" stroke-width="2" fill="none"/>
<path d="M404 243.3H428M398 245.3H401M434 245.3H440M395 247.3H398M392 249.3H395M446 249.3H449M389 251.3H392M449 251.3H452M452 253.3H455M386 255.3H389M455 255.3H458M383 257.3H386M458 257.3H461M461 259.3H464M380 261.3H383M377 265.3H380M464 265.3H467M464 267.3H467M374 269.3H377M464 269.3H467M374 271.3H377M467 275.3H470M467 277.3H470M371 281.3H374M470 281.3H473M371 283.3H374M371 285.3H374M371 287.3H374M473 287.3H476M368 293.3H371M476 293.3H479M368 295.3H371M479 301.3H482M479 303.3H482M365 307.3H368M482 307.3H485M365 309.3H368M482 309.3H485M362 313.3H365M485 313.3H488M362 315.3H365M485 315.3H488M359 319.3H362M356 325.3H359M356 327.3H359M488 327.3H491M356 329.3H359M488 329.3H491M356 331.3H359M488 331.3H491M359 337.3H362M359 339.3H362M491 339.3H494M359 345.3H362M359 347.3H362M488 347.3H491M356 351.3H359M287 355.3H296M311 355.3H317M353 355.3H356M488 355.3H491M287 357.3H293M311 357.3H317M350 357.3H353M491 357.3H494M293 359.3H305M350 359.3H353M497 359.3H500M350 361.3H353M503 361.3H506M350 363.3H353M509 363.3H512M353 365.3H356M512 365.3H515M512 367.3H515M512 369.3H515M359 371.3H362M512 371.3H515M512 373.3H515M173 375.3H182M203 375.3H212M362 375.3H365M512 375.3H518M152 377.3H161M227 377.3H239M362 377.3H365M515 377.3H530M143 379.3H149M239 379.3H275M359 379.3H362M551 379.3H557M233 381.3H275M353 381.3H356M560 381.3H566M218 383.3H224M344 383.3H347M566 383.3H572M197 385.3H203M572 385.3H578M176 387.3H182M575 387.3H581M161 389.3H170M332 389.3H335M581 389.3H590M143 391.3H164M593 391.3H611M143 393.3H149M152 393.3H164M623 393.3H638M161 395.3H167M329 395.3H332M653 395.3H659M170 397.3H176M665 397.3H668M191 399.3H263M527 399.3H536M542 399.3H548M671 399.3H674M524 401.3H527M545 401.3H548M674 401.3H675.5M521 403.3H524M545 403.3H548M527 405.3H542M668 413.3H675.5M665 415.3H675.5M671 417.3H675.5" stroke="#ffff00" stroke-width="2" fill="none"/>
<path d="M401 245.3H407M431 245.3H434M398 247.3H401M437 247.3H443M395 249.3H398M443 249.3H446M392 251.3H395M446 251.3H449M389 253.3H392M383 259.3H386M458 259.3H461M461 261.3H464M380 263.3H383M461 263.3H464M461 265.3H464M377 267.3H380M464 271.3H467M374 273.3H377M464 273.3H467M374 275.3H377M374 277.3H377M374 279.3H377M467 279.3H470M470 283.3H473M470 285.3H473M371 289.3H374M473 289.3H476M371 291.3H374M473 291.3H476M476 295.3H479M368 297.3H371M476 297.3H479M368 299.3H371M476 299.3H479M368 301.3H371M368 303.3H371M479 305.3H482M479 307.3H482M365 311.3H368M482 311.3H485M362 317.3H365M485 317.3H488M485 319.3H488M359 321.3H362M485 321.3H488M359 323.3H362M359 325.3H362M359 333.3H362M488 333.3H491M359 335.3H362M488 335.3H491M488 345.3H491M359 349.3H362M485 351.3H488M356 353.3H359M485 353.3H488M296 355.3H311M485 355.3H488M293 357.3H311M353 357.3H356M488 357.3H491M353 359.3H356M494 359.3H497M353 361.3H356M500 361.3H503M353 363.3H356M506 363.3H509M509 365.3H512M356 367.3H359M509 367.3H512M359 369.3H362M509 369.3H512M509 371.3H512M362 373.3H365M509 373.3H512M182 375.3H203M509 375.3H512M161 377.3H167M221 377.3H227M512 377.3H515M149 379.3H155M230 379.3H239M524 379.3H551M143 381.3H149M224 381.3H233M557 381.3H560M143 383.3H149M212 383.3H218M563 383.3H566M143 385.3H149M191 385.3H197M338 385.3H341M566 385.3H572M143 387.3H176M335 387.3H338M569 387.3H575M143 389.3H161M572 389.3H581M332 391.3H335M581 391.3H593M149 393.3H152M332 393.3H335M605 393.3H623M143 395.3H161M641 395.3H653M143 397.3H149M161 397.3H170M326 397.3H329M539 397.3H542M659 397.3H665M182 399.3H191M263 399.3H320M524 399.3H527M548 399.3H551M668 399.3H671M521 401.3H524M548 401.3H551M671 401.3H674M518 403.3H521M548 403.3H551M674 403.3H675.5M521 405.3H527M542 405.3H545M674 405.3H675.5M674 407.3H675.5M671 409.3H675.5M665 411.3H675.5M662 413.3H668M659 415.3H665M662 417.3H671M671 419.3H675.5" stroke="#ffef00" stroke-width="2" fill="none"/>
<path d="M407 245.3H431M401 247.3H404M434 247.3H437M398 249.3H401M440 249.3H443M443 251.3H446M392 253.3H395M449 253.3H452M389 255.3H392M452 255.3H455M386 257.3H389M455 257.3H458M383 261.3H386M458 261.3H461M458 263.3H461M380 265.3H383M461 267.3H464M377 269.3H380M461 269.3H464M377 271.3H380M461 271.3H464M464 275.3H467M464 277.3H467M374 281.3H377M467 281.3H470M374 283.3H377M467 283.3H470M374 285.3H377M470 287.3H473M470 289.3H473M371 293.3H374M473 293.3H476M371 295.3H374M473 295.3H476M371 297.3H374M476 301.3H479M476 303.3H479M368 305.3H371M476 305.3H479M368 307.3H371M368 309.3H371M479 309.3H482M365 313.3H368M482 313.3H485M365 315.3H368M482 315.3H485M362 319.3H365M362 321.3H365M485 323.3H488M485 325.3H488M359 327.3H362M485 327.3H488M359 329.3H362M485 329.3H488M359 331.3H362M362 337.3H365M488 337.3H491M362 339.3H365M488 339.3H491M362 341.3H365M488 341.3H491M362 343.3H365M488 343.3H491M362 345.3H365M362 347.3H365M485 347.3H488M485 349.3H488M359 351.3H362M359 353.3H362M356 355.3H359M356 357.3H359M491 359.3H494M497 361.3H500M356 363.3H359M503 363.3H506M356 365.3H359M506 365.3H509M506 367.3H509M506 369.3H509M362 371.3H365M506 371.3H509M506 373.3H509M365 375.3H368M506 375.3H509M167 377.3H173M212 377.3H221M365 377.3H368M506 377.3H512M155 379.3H161M221 379.3H230M362 379.3H365M512 379.3H524M149 381.3H158M218 381.3H224M356 381.3H359M551 381.3H557M149 383.3H158M206 383.3H212M347 383.3H350M557 383.3H563M149 385.3H191M341 385.3H344M563 385.3H566M566 387.3H569M335 389.3H338M566 389.3H572M572 391.3H581M590 393.3H605M620 395.3H641M149 397.3H161M329 397.3H332M530 397.3H539M542 397.3H551M653 397.3H659M143 399.3H152M173 399.3H182M320 399.3H323M521 399.3H524M551 399.3H554M665 399.3H668M143 401.3H146M518 401.3H521M551 401.3H554M671 403.3H674M518 405.3H521M545 405.3H548M671 405.3H674M530 407.3H536M671 407.3H674M665 409.3H671M659 411.3H665M656 413.3H662M656 415.3H659M659 417.3H662M665 419.3H671M671 421.3H675.5" stroke="#ffdf00" stroke-width="2" fill="none"/>
<path d="M323 438.8H338" stroke="#ffcf00" stroke-width="1" fill="none"/>
<path d="M404 247.3H410M431 247.3H434M401 249.3H404M437 249.3H440M395 251.3H398M446 253.3H449M449 255.3H452M389 257.3H392M452 257.3H455M386 259.3H389M455 259.3H458M455 261.3H458M383 263.3H386M458 265.3H461M380 267.3H383M458 267.3H461M458 269.3H461M377 273.3H380M461 273.3H464M377 275.3H380M461 275.3H464M377 277.3H380M464 279.3H467M464 281.3H467M467 285.3H470M374 287.3H377M467 287.3H470M374 289.3H377M374 291.3H377M470 291.3H473M473 297.3H476M371 299.3H374M473 299.3H476M371 301.3H374M473 301.3H476M371 303.3H374M476 307.3H479M368 311.3H371M479 311.3H482M365 317.3H368M482 317.3H485M365 319.3H368M482 319.3H485M362 323.3H365M362 325.3H365M362 327.3H365M362 329.3H365M362 331.3H365M485 331.3H488M362 333.3H365M485 333.3H488M362 335.3H365M485 345.3H488M362 349.3H365M362 351.3H365M482 351.3H485M482 353.3H485M359 355.3H362M482 355.3H485M485 357.3H488M356 359.3H359M488 359.3H491M356 361.3H359M494 361.3H497M500 363.3H503M359 365.3H362M503 365.3H506M359 367.3H362M503 367.3H506M362 369.3H365M503 369.3H506M503 371.3H506M365 373.3H368M503 373.3H506M503 375.3H506M173 377.3H182M206 377.3H212M503 377.3H506M161 379.3H170M215 379.3H221M506 379.3H512M158 381.3H164M212 381.3H218M359 381.3H362M542 381.3H551M158 383.3H167M197 383.3H206M350 383.3H353M554 383.3H557M557 385.3H563M338 387.3H341M560 387.3H566M563 389.3H566M335 391.3H338M563 391.3H572M575 393.3H590M332 395.3H335M599 395.3H620M527 397.3H530M551 397.3H557M644 397.3H653M152 399.3H173M323 399.3H326M518 399.3H521M554 399.3H557M662 399.3H665M146 401.3H152M515 401.3H518M554 401.3H557M668 401.3H671M143 403.3H146M515 403.3H518M551 403.3H554M668 403.3H671M548 405.3H551M668 405.3H671M524 407.3H530M536 407.3H542M668 407.3H671M662 409.3H665M656 411.3H659M653 413.3H656M653 415.3H656M656 417.3H659M659 419.3H665M668 421.3H671M674 423.3H675.5M143 431.3H146M143 433.3H152M143 435.3H152M143 437.3H146" stroke="#ffcf00" stroke-width="2" fill="none"/>
<path d="M143 438.8H146M317 438.8H323M338 438.8H344M674 438.8H675.5" stroke="#ffbf00" stroke-width="1" fill="none"/>
<path d="M410 247.3H431M404 249.3H407M434 249.3H437M398 251.3H401M437 251.3H443M395 253.3H398M443 253.3H446M392 255.3H395M446 255.3H449M449 257.3H452M389 259.3H392M452 259.3H455M386 261.3H389M455 263.3H458M383 265.3H386M455 265.3H458M380 269.3H383M380 271.3H383M458 271.3H461M458 273.3H461M461 277.3H464M377 279.3H380M461 279.3H464M377 281.3H380M377 283.3H380M464 283.3H467M377 285.3H380M467 289.3H470M374 293.3H377M470 293.3H473M374 295.3H377M470 295.3H473M374 297.3H377M470 297.3H473M473 303.3H476M371 305.3H374M473 305.3H476M371 307.3H374M476 309.3H479M476 311.3H479M368 313.3H371M479 313.3H482M368 315.3H371M479 315.3H482M365 321.3H368M482 321.3H485M365 323.3H368M482 323.3H485M482 325.3H485M482 327.3H485M482 329.3H485M485 335.3H488M485 337.3H488M365 339.3H368M485 339.3H488M365 341.3H368M485 341.3H488M365 343.3H368M485 343.3H488M365 345.3H368M482 347.3H485M482 349.3H485M362 353.3H365M359 357.3H362M359 359.3H362M359 361.3H362M491 361.3H494M359 363.3H362M497 363.3H500M500 365.3H503M362 367.3H365M365 371.3H368M500 371.3H503M500 373.3H503M368 375.3H371M497 375.3H503M182 377.3H206M497 377.3H503M170 379.3H176M209 379.3H215M365 379.3H368M500 379.3H506M164 381.3H173M206 381.3H212M512 381.3H542M167 383.3H197M548 383.3H554M344 385.3H347M554 385.3H557M557 387.3H560M557 389.3H563M557 391.3H563M335 393.3H338M557 393.3H575M536 395.3H563M587 395.3H599M524 397.3H527M557 397.3H560M617 397.3H644M326 399.3H329M557 399.3H560M656 399.3H662M152 401.3H161M512 401.3H515M662 401.3H668M146 403.3H152M512 403.3H515M554 403.3H557M665 403.3H668M143 405.3H146M515 405.3H518M551 405.3H554M665 405.3H668M521 407.3H524M542 407.3H545M662 407.3H668M656 409.3H662M650 411.3H656M338 413.3H344M647 413.3H653M647 415.3H653M650 417.3H656M656 419.3H659M662 421.3H668M671 423.3H674M674 425.3H675.5M143 427.3H146M143 429.3H149M146 431.3H158M152 433.3H164M152 435.3H173M146 437.3H179" stroke="#ffbf00" stroke-width="2" fill="none"/>
<path d="M146 438.8H197M314 438.8H317M344 438.8H350M671 438.8H674" stroke="#ffaf00" stroke-width="1" fill="none"/>
<path d="M407 249.3H413M428 249.3H434M401 251.3H404M434 251.3H437M398 253.3H401M440 253.3H443M395 255.3H398M443 255.3H446M392 257.3H395M446 257.3H449M449 259.3H452M389 261.3H392M452 261.3H455M386 263.3H389M452 263.3H455M383 267.3H386M455 267.3H458M455 269.3H458M455 271.3H458M380 273.3H383M380 275.3H383M458 275.3H461M380 277.3H383M458 277.3H461M461 281.3H464M461 283.3H464M464 285.3H467M377 287.3H380M464 287.3H467M377 289.3H380M377 291.3H380M467 291.3H470M467 293.3H470M374 299.3H377M470 299.3H473M374 301.3H377M470 301.3H473M374 303.3H377M470 303.3H473M473 307.3H476M371 309.3H374M473 309.3H476M371 311.3H374M371 313.3H374M476 313.3H479M368 317.3H371M479 317.3H482M368 319.3H371M479 319.3H482M365 325.3H368M365 327.3H368M365 329.3H368M365 331.3H368M482 331.3H485M365 333.3H368M482 333.3H485M365 335.3H368M365 337.3H368M482 345.3H485M365 347.3H368M365 349.3H368M365 351.3H368M479 351.3H482M479 353.3H482M362 355.3H365M479 355.3H482M362 357.3H365M482 357.3H485M485 359.3H488M488 361.3H491M494 363.3H497M362 365.3H365M497 365.3H500M500 367.3H503M365 369.3H368M500 369.3H503M497 371.3H500M368 373.3H371M497 373.3H500M494 375.3H497M368 377.3H371M470 377.3H476M491 377.3H497M176 379.3H185M200 379.3H209M470 379.3H476M494 379.3H500M173 381.3H185M197 381.3H206M362 381.3H365M506 381.3H512M353 383.3H356M542 383.3H548M551 385.3H554M341 387.3H344M554 387.3H557M338 389.3H341M554 389.3H557M551 391.3H557M545 393.3H557M335 395.3H338M530 395.3H536M563 395.3H587M332 397.3H335M521 397.3H524M560 397.3H566M599 397.3H617M329 399.3H332M515 399.3H518M560 399.3H563M644 399.3H656M161 401.3H209M260 401.3H323M557 401.3H560M659 401.3H662M152 403.3H158M662 403.3H665M146 405.3H149M512 405.3H515M662 405.3H665M143 407.3H146M518 407.3H521M545 407.3H548M656 407.3H662M650 409.3H656M647 411.3H650M332 413.3H338M344 413.3H353M644 413.3H647M644 415.3H647M647 417.3H650M653 419.3H656M659 421.3H662M665 423.3H671M143 425.3H146M671 425.3H674M146 427.3H152M674 427.3H675.5M149 429.3H158M674 429.3H675.5M158 431.3H167M164 433.3H179M173 435.3H194M179 437.3H197M674 437.3H675.5" stroke="#ffaf00" stroke-width="2" fill="none"/>
<path d="M197 438.8H206M263 438.8H287M308 438.8H314M350 438.8H353M668 438.8H671" stroke="#ff9f00" stroke-width="1" fill="none"/>
<path d="M413 249.3H428M404 251.3H410M431 251.3H434M401 253.3H404M434 253.3H440M398 255.3H401M440 255.3H443M395 257.3H398M443 257.3H446M392 259.3H395M446 259.3H449M449 261.3H452M389 263.3H392M449 263.3H452M386 265.3H389M452 265.3H455M386 267.3H389M452 267.3H455M383 269.3H386M452 269.3H455M383 271.3H386M455 273.3H458M455 275.3H458M380 279.3H383M458 279.3H461M380 281.3H383M458 281.3H461M380 283.3H383M380 285.3H383M461 285.3H464M464 289.3H467M464 291.3H467M377 293.3H380M377 295.3H380M467 295.3H470M377 297.3H380M467 297.3H470M467 299.3H470M374 305.3H377M470 305.3H473M374 307.3H377M470 307.3H473M473 311.3H476M371 315.3H374M476 315.3H479M371 317.3H374M368 321.3H371M479 321.3H482M368 323.3H371M479 323.3H482M368 325.3H371M479 325.3H482M479 327.3H482M479 329.3H482M482 335.3H485M482 337.3H485M482 339.3H485M482 341.3H485M482 343.3H485M479 347.3H482M479 349.3H482M365 353.3H368M365 355.3H368M479 357.3H482M362 359.3H365M482 359.3H485M362 361.3H365M485 361.3H488M362 363.3H365M491 363.3H494M494 365.3H497M365 367.3H368M497 367.3H500M497 369.3H500M368 371.3H371M494 371.3H497M491 373.3H497M470 375.3H494M464 377.3H470M476 377.3H491M185 379.3H200M368 379.3H371M464 379.3H470M476 379.3H494M185 381.3H197M365 381.3H368M497 381.3H506M356 383.3H359M518 383.3H542M347 385.3H350M545 385.3H551M548 387.3H554M548 389.3H554M548 391.3H551M539 393.3H545M527 395.3H530M518 397.3H521M566 397.3H572M584 397.3H599M512 399.3H515M563 399.3H566M608 399.3H644M209 401.3H260M323 401.3H329M509 401.3H512M560 401.3H563M653 401.3H659M158 403.3H164M509 403.3H512M557 403.3H560M656 403.3H662M149 405.3H155M509 405.3H512M554 405.3H557M656 405.3H662M146 407.3H149M515 407.3H518M548 407.3H551M650 407.3H656M143 409.3H146M527 409.3H539M647 409.3H650M332 411.3H350M644 411.3H647M329 413.3H332M353 413.3H356M641 413.3H644M641 415.3H644M644 417.3H647M650 419.3H653M656 421.3H659M143 423.3H149M662 423.3H665M146 425.3H152M668 425.3H671M152 427.3H158M671 427.3H674M158 429.3H167M167 431.3H179M674 431.3H675.5M179 433.3H197M674 433.3H675.5M194 435.3H206M674 435.3H675.5M197 437.3H209" stroke="#ff9f00" stroke-width="2" fill="none"/>
<path d="M206 438.8H215M254 438.8H263M287 438.8H308M353 438.8H356M665 438.8H668" stroke="#ff8f00" stroke-width="1" fill="none"/>
<path d="M410 251.3H431M404 253.3H410M431 253.3H434M401 255.3H404M434 255.3H440M398 257.3H401M440 257.3H443M395 259.3H398M443 259.3H446M392 261.3H395M446 261.3H449M446 263.3H449M389 265.3H392M449 265.3H452M449 267.3H452M386 269.3H389M452 271.3H455M383 273.3H386M452 273.3H455M383 275.3H386M383 277.3H386M455 277.3H458M455 279.3H458M458 283.3H461M380 287.3H383M461 287.3H464M380 289.3H383M461 289.3H464M380 291.3H383M380 293.3H383M464 293.3H467M464 295.3H467M377 299.3H380M377 301.3H380M467 301.3H470M467 303.3H470M467 305.3H470M374 309.3H377M470 309.3H473M374 311.3H377M470 311.3H473M374 313.3H377M473 313.3H476M473 315.3H476M476 317.3H479M371 319.3H374M476 319.3H479M371 321.3H374M476 321.3H479M368 327.3H371M368 329.3H371M368 331.3H371M479 331.3H482M368 333.3H371M479 333.3H482M368 335.3H371M368 337.3H371M368 339.3H371M368 341.3H371M368 343.3H371M368 345.3H371M479 345.3H482M368 347.3H371M368 349.3H371M476 349.3H479M476 351.3H479M476 353.3H479M476 355.3H479M365 357.3H368M365 359.3H368M365 361.3H368M365 363.3H368M488 363.3H491M365 365.3H368M491 365.3H494M494 367.3H497M368 369.3H371M494 369.3H497M491 371.3H494M371 373.3H374M485 373.3H491M371 375.3H374M464 375.3H470M371 377.3H374M461 377.3H464M461 379.3H464M464 381.3H497M359 383.3H362M506 383.3H518M539 385.3H545M545 387.3H548M545 389.3H548M338 391.3H341M542 391.3H548M338 393.3H341M533 393.3H539M521 395.3H527M335 397.3H338M515 397.3H518M572 397.3H584M332 399.3H335M509 399.3H512M566 399.3H569M596 399.3H608M329 401.3H332M563 401.3H566M635 401.3H653M164 403.3H176M506 403.3H509M560 403.3H563M650 403.3H656M155 405.3H161M557 405.3H560M650 405.3H656M149 407.3H155M512 407.3H515M551 407.3H554M644 407.3H650M146 409.3H149M521 409.3H527M539 409.3H545M641 409.3H647M143 411.3H146M329 411.3H332M350 411.3H356M638 411.3H644M143 413.3H146M326 413.3H329M356 413.3H365M638 413.3H641M638 415.3H641M143 417.3H146M641 417.3H644M143 419.3H146M647 419.3H650M143 421.3H149M653 421.3H656M149 423.3H152M659 423.3H662M152 425.3H158M665 425.3H668M158 427.3H164M167 429.3H176M671 429.3H674M179 431.3H194M197 433.3H215M227 433.3H251M206 435.3H257M209 437.3H263M671 437.3H674" stroke="#ff8f00" stroke-width="2" fill="none"/>
<path d="M215 438.8H230M242 438.8H254M356 438.8H362M662 438.8H665" stroke="#ff8000" stroke-width="1" fill="none"/>
<path d="M410 253.3H431M404 255.3H407M431 255.3H434M401 257.3H404M434 257.3H440M398 259.3H401M440 259.3H443M395 261.3H398M443 261.3H446M392 263.3H395M443 263.3H446M446 265.3H449M389 267.3H392M446 267.3H449M449 269.3H452M386 271.3H389M449 271.3H452M386 273.3H389M452 275.3H455M452 277.3H455M383 279.3H386M383 281.3H386M455 281.3H458M383 283.3H386M455 283.3H458M383 285.3H386M458 285.3H461M383 287.3H386M458 287.3H461M461 291.3H464M461 293.3H464M380 295.3H383M380 297.3H383M464 297.3H467M464 299.3H467M464 301.3H467M377 303.3H380M377 305.3H380M377 307.3H380M467 307.3H470M467 309.3H470M470 313.3H473M374 315.3H377M374 317.3H377M473 317.3H476M371 323.3H374M476 323.3H479M371 325.3H374M476 325.3H479M371 327.3H374M476 327.3H479M476 329.3H479M479 335.3H482M479 337.3H482M479 339.3H482M479 341.3H482M479 343.3H482M476 347.3H479M368 351.3H371M368 353.3H371M368 355.3H371M476 357.3H479M479 359.3H482M482 361.3H485M485 363.3H488M488 365.3H491M368 367.3H371M491 367.3H494M491 369.3H494M371 371.3H374M488 371.3H491M470 373.3H485M461 375.3H464M458 377.3H461M371 379.3H374M458 379.3H461M368 381.3H371M461 381.3H464M497 383.3H506M350 385.3H353M524 385.3H539M344 387.3H347M539 387.3H545M341 389.3H344M539 389.3H545M536 391.3H542M527 393.3H533M338 395.3H341M518 395.3H521M512 397.3H515M335 399.3H338M569 399.3H578M581 399.3H596M332 401.3H335M506 401.3H509M566 401.3H569M602 401.3H635M176 403.3H194M275 403.3H290M305 403.3H329M563 403.3H566M635 403.3H650M161 405.3H167M506 405.3H509M641 405.3H650M155 407.3H158M509 407.3H512M554 407.3H557M638 407.3H644M149 409.3H155M518 409.3H521M545 409.3H548M635 409.3H641M146 411.3H152M326 411.3H329M356 411.3H362M635 411.3H638M146 413.3H149M323 413.3H326M365 413.3H374M635 413.3H638M143 415.3H149M332 415.3H353M635 415.3H638M146 417.3H149M638 417.3H641M146 419.3H149M644 419.3H647M149 421.3H152M650 421.3H653M152 423.3H158M656 423.3H659M158 425.3H164M164 427.3H173M668 427.3H671M176 429.3H188M194 431.3H248M671 431.3H674M215 433.3H227M251 433.3H257M671 433.3H674M257 435.3H263M671 435.3H674M263 437.3H275M326 437.3H341" stroke="#ff8000" stroke-width="2" fill="none"/>
<path d="M230 438.8H242M362 438.8H365M659 438.8H662" stroke="#ff7000" stroke-width="1" fill="none"/>
<path d="M407 255.3H416M422 255.3H431M404 257.3H407M431 257.3H434M401 259.3H404M434 259.3H440M398 261.3H401M437 261.3H443M395 263.3H398M440 263.3H443M392 265.3H395M443 265.3H446M389 269.3H392M446 269.3H449M389 271.3H392M446 271.3H449M449 273.3H452M386 275.3H389M449 275.3H452M386 277.3H389M452 279.3H455M452 281.3H455M455 285.3H458M383 289.3H386M458 289.3H461M383 291.3H386M458 291.3H461M383 293.3H386M461 295.3H464M461 297.3H464M380 299.3H383M461 299.3H464M380 301.3H383M380 303.3H383M464 303.3H467M464 305.3H467M464 307.3H467M377 309.3H380M377 311.3H380M467 311.3H470M377 313.3H380M467 313.3H470M377 315.3H380M470 315.3H473M470 317.3H473M374 319.3H377M473 319.3H476M374 321.3H377M473 321.3H476M374 323.3H377M473 323.3H476M371 329.3H374M371 331.3H374M476 331.3H479M371 333.3H374M476 333.3H479M371 335.3H374M371 337.3H374M371 339.3H374M371 341.3H374M371 343.3H374M371 345.3H374M476 345.3H479M371 347.3H374M371 349.3H374M473 349.3H476M473 351.3H476M473 353.3H476M473 355.3H476M368 357.3H371M368 359.3H371M368 361.3H371M479 361.3H482M368 363.3H371M482 363.3H485M368 365.3H371M485 365.3H488M488 367.3H491M371 369.3H374M485 369.3H491M479 371.3H488M464 373.3H470M374 375.3H377M458 375.3H461M374 377.3H377M455 377.3H458M455 379.3H458M458 381.3H461M362 383.3H365M467 383.3H497M353 385.3H356M509 385.3H524M533 387.3H539M536 389.3H539M533 391.3H536M524 393.3H527M515 395.3H518M338 397.3H341M509 397.3H512M506 399.3H509M578 399.3H581M335 401.3H338M503 401.3H506M569 401.3H572M590 401.3H602M194 403.3H206M260 403.3H275M290 403.3H305M329 403.3H332M503 403.3H506M605 403.3H635M167 405.3H176M560 405.3H563M626 405.3H641M158 407.3H164M557 407.3H560M629 407.3H638M155 409.3H158M326 409.3H344M512 409.3H518M548 409.3H554M629 409.3H635M152 411.3H155M323 411.3H326M362 411.3H371M629 411.3H635M149 413.3H152M374 413.3H380M632 413.3H635M149 415.3H152M329 415.3H332M353 415.3H380M632 415.3H635M149 417.3H152M635 417.3H638M149 419.3H155M641 419.3H644M152 421.3H158M647 421.3H650M158 423.3H161M653 423.3H656M164 425.3H170M662 425.3H665M173 427.3H182M665 427.3H668M188 429.3H245M668 429.3H671M248 431.3H254M257 433.3H260M263 435.3H269M275 437.3H284M317 437.3H326M341 437.3H350M668 437.3H671" stroke="#ff7000" stroke-width="2" fill="none"/>
<path d="M365 438.8H371M653 438.8H659" stroke="#ff6000" stroke-width="1" fill="none"/>
<path d="M416 255.3H422M407 257.3H416M422 257.3H431M404 259.3H407M428 259.3H434M401 261.3H404M434 261.3H437M398 263.3H401M437 263.3H440M395 265.3H398M440 265.3H443M392 267.3H395M443 267.3H446M392 269.3H395M443 269.3H446M389 273.3H392M446 273.3H449M446 275.3H449M449 277.3H452M386 279.3H389M449 279.3H452M386 281.3H389M386 283.3H389M452 283.3H455M386 285.3H389M452 285.3H455M386 287.3H389M455 287.3H458M386 289.3H389M455 289.3H458M455 291.3H458M458 293.3H461M383 295.3H386M458 295.3H461M383 297.3H386M458 297.3H461M383 299.3H386M461 301.3H464M461 303.3H464M380 305.3H383M461 305.3H464M380 307.3H383M380 309.3H383M464 309.3H467M464 311.3H467M467 315.3H470M377 317.3H380M377 319.3H380M470 319.3H473M470 321.3H473M374 325.3H377M473 325.3H476M374 327.3H377M473 327.3H476M374 329.3H377M473 329.3H476M476 335.3H479M476 337.3H479M476 339.3H479M476 341.3H479M476 343.3H479M473 347.3H476M371 351.3H374M371 353.3H374M371 355.3H374M371 357.3H374M473 357.3H476M476 359.3H479M482 365.3H485M371 367.3H374M485 367.3H488M482 369.3H485M374 371.3H377M470 371.3H479M374 373.3H377M461 373.3H464M455 375.3H458M374 379.3H377M371 381.3H374M455 381.3H458M365 383.3H368M464 383.3H467M356 385.3H359M500 385.3H509M347 387.3H350M521 387.3H533M530 389.3H536M341 391.3H344M527 391.3H533M341 393.3H344M521 393.3H524M512 395.3H515M506 397.3H509M338 399.3H341M503 399.3H506M572 401.3H590M206 403.3H218M248 403.3H260M332 403.3H338M566 403.3H572M593 403.3H605M176 405.3H185M308 405.3H335M503 405.3H506M563 405.3H566M605 405.3H626M164 407.3H170M323 407.3H335M506 407.3H509M560 407.3H563M617 407.3H629M158 409.3H164M320 409.3H326M344 409.3H350M554 409.3H557M623 409.3H629M155 411.3H158M320 411.3H323M371 411.3H377M524 411.3H539M626 411.3H629M152 413.3H155M320 413.3H323M380 413.3H383M626 413.3H632M152 415.3H155M326 415.3H329M380 415.3H383M629 415.3H632M152 417.3H155M632 417.3H635M155 419.3H158M638 419.3H641M158 421.3H161M644 421.3H647M161 423.3H167M650 423.3H653M170 425.3H176M659 425.3H662M182 427.3H194M215 427.3H233M662 427.3H665M245 429.3H251M254 431.3H260M668 431.3H671M260 433.3H266M668 433.3H671M269 435.3H275M668 435.3H671M284 437.3H299M302 437.3H317M350 437.3H356M665 437.3H668" stroke="#ff6000" stroke-width="2" fill="none"/>
<path d="M371 438.8H377M650 438.8H653" stroke="#ff5000" stroke-width="1" fill="none"/>
<path d="M416 257.3H422M407 259.3H416M419 259.3H428M404 261.3H407M428 261.3H434M401 263.3H404M434 263.3H437M398 265.3H401M437 265.3H440M395 267.3H398M440 267.3H443M440 269.3H443M392 271.3H395M443 271.3H446M443 273.3H446M389 275.3H392M389 277.3H392M446 277.3H449M389 279.3H392M446 279.3H449M449 281.3H452M449 283.3H452M452 287.3H455M452 289.3H455M386 291.3H389M386 293.3H389M455 293.3H458M386 295.3H389M455 295.3H458M458 299.3H461M383 301.3H386M458 301.3H461M383 303.3H386M461 307.3H464M461 309.3H464M380 311.3H383M461 311.3H464M380 313.3H383M464 313.3H467M380 315.3H383M464 315.3H467M380 317.3H383M467 317.3H470M467 319.3H470M377 321.3H380M377 323.3H380M470 323.3H473M377 325.3H380M470 325.3H473M374 331.3H377M473 331.3H476M374 333.3H377M473 333.3H476M374 335.3H377M473 335.3H476M374 337.3H377M374 339.3H377M374 341.3H377M473 343.3H476M473 345.3H476M470 349.3H473M470 351.3H473M470 353.3H473M470 355.3H473M371 359.3H374M473 359.3H476M371 361.3H374M476 361.3H479M371 363.3H374M479 363.3H482M371 365.3H374M482 367.3H485M374 369.3H377M476 369.3H482M464 371.3H470M458 373.3H461M377 375.3H380M377 377.3H380M452 377.3H455M452 379.3H455M374 381.3H377M368 383.3H371M458 383.3H464M482 385.3H500M512 387.3H521M344 389.3H347M524 389.3H530M521 391.3H527M515 393.3H521M341 395.3H344M509 395.3H512M338 401.3H341M500 401.3H503M218 403.3H248M338 403.3H341M500 403.3H503M572 403.3H578M584 403.3H593M185 405.3H194M269 405.3H308M335 405.3H338M566 405.3H569M593 405.3H605M170 407.3H176M314 407.3H323M335 407.3H341M503 407.3H506M563 407.3H566M602 407.3H617M164 409.3H167M317 409.3H320M350 409.3H359M509 409.3H512M557 409.3H560M611 409.3H623M158 411.3H164M317 411.3H320M377 411.3H383M518 411.3H524M539 411.3H548M617 411.3H626M155 413.3H161M317 413.3H320M383 413.3H386M623 413.3H626M155 415.3H158M323 415.3H326M383 415.3H386M626 415.3H629M155 417.3H161M368 417.3H383M629 417.3H632M158 419.3H164M635 419.3H638M161 421.3H167M641 421.3H644M167 423.3H173M647 423.3H650M176 425.3H185M656 425.3H659M194 427.3H215M233 427.3H245M251 429.3H257M665 429.3H668M260 431.3H263M266 433.3H269M275 435.3H281M665 435.3H668M299 437.3H302M356 437.3H359M662 437.3H665" stroke="#ff5000" stroke-width="2" fill="none"/>
<path d="M377 438.8H386M647 438.8H650" stroke="#ff4000" stroke-width="1" fill="none"/>
<path d="M416 259.3H419M407 261.3H428M404 263.3H407M428 263.3H434M401 265.3H404M431 265.3H437M398 267.3H401M434 267.3H440M395 269.3H398M437 269.3H440M395 271.3H398M440 271.3H443M392 273.3H395M440 273.3H443M392 275.3H395M443 275.3H446M392 277.3H395M443 277.3H446M389 281.3H392M446 281.3H449M389 283.3H392M446 283.3H449M389 285.3H392M449 285.3H452M389 287.3H392M449 287.3H452M389 289.3H392M389 291.3H392M452 291.3H455M452 293.3H455M386 297.3H389M455 297.3H458M386 299.3H389M455 299.3H458M458 303.3H461M383 305.3H386M458 305.3H461M383 307.3H386M458 307.3H461M383 309.3H386M458 309.3H461M383 311.3H386M461 313.3H464M461 315.3H464M464 317.3H467M380 319.3H383M464 319.3H467M380 321.3H383M467 321.3H470M380 323.3H383M467 323.3H470M377 327.3H380M470 327.3H473M377 329.3H380M470 329.3H473M470 331.3H473M473 337.3H476M473 339.3H476M473 341.3H476M374 343.3H377M374 345.3H377M470 345.3H473M374 347.3H377M470 347.3H473M374 349.3H377M374 351.3H377M374 353.3H377M374 355.3H377M374 357.3H377M470 357.3H473M473 361.3H476M476 363.3H479M374 365.3H377M479 365.3H482M374 367.3H377M476 367.3H482M470 369.3H476M377 371.3H380M461 371.3H464M377 373.3H380M455 373.3H458M452 375.3H455M449 377.3H452M377 379.3H380M449 379.3H452M452 381.3H455M371 383.3H374M359 385.3H362M467 385.3H482M350 387.3H353M500 387.3H512M515 389.3H524M344 391.3H347M515 391.3H521M512 393.3H515M506 395.3H509M341 397.3H344M503 397.3H506M341 399.3H344M500 399.3H503M341 401.3H344M341 403.3H344M578 403.3H584M194 405.3H206M260 405.3H269M338 405.3H344M500 405.3H503M569 405.3H578M584 405.3H593M176 407.3H185M278 407.3H293M302 407.3H314M341 407.3H347M566 407.3H569M590 407.3H602M167 409.3H173M311 409.3H317M359 409.3H371M506 409.3H509M560 409.3H563M596 409.3H611M164 411.3H167M311 411.3H317M383 411.3H386M512 411.3H518M548 411.3H554M605 411.3H617M161 413.3H164M314 413.3H317M386 413.3H389M614 413.3H623M158 415.3H164M320 415.3H323M386 415.3H389M620 415.3H626M161 417.3H164M362 417.3H368M383 417.3H386M626 417.3H629M164 419.3H167M377 419.3H380M632 419.3H635M167 421.3H173M638 421.3H641M173 423.3H179M644 423.3H647M185 425.3H236M653 425.3H656M245 427.3H254M659 427.3H662M257 429.3H260M662 429.3H665M263 431.3H266M665 431.3H668M269 433.3H275M665 433.3H668M281 435.3H290M332 435.3H350M359 437.3H362M659 437.3H662" stroke="#ff4000" stroke-width="2" fill="none"/>
<path d="M386 438.8H395M641 438.8H647" stroke="#ff3000" stroke-width="1" fill="none"/>
<path d="M407 263.3H428M404 265.3H407M428 265.3H431M401 267.3H404M431 267.3H434M398 269.3H401M434 269.3H437M398 271.3H401M437 271.3H440M395 273.3H398M437 273.3H440M395 275.3H398M440 275.3H443M440 277.3H443M392 279.3H395M443 279.3H446M392 281.3H395M443 281.3H446M392 283.3H395M392 285.3H395M446 285.3H449M446 287.3H449M449 289.3H452M449 291.3H452M389 293.3H392M449 293.3H452M389 295.3H392M452 295.3H455M389 297.3H392M452 297.3H455M386 301.3H389M455 301.3H458M386 303.3H389M455 303.3H458M386 305.3H389M455 305.3H458M455 307.3H458M458 311.3H461M383 313.3H386M458 313.3H461M383 315.3H386M458 315.3H461M383 317.3H386M461 317.3H464M383 319.3H386M461 319.3H464M464 321.3H467M464 323.3H467M380 325.3H383M467 325.3H470M380 327.3H383M467 327.3H470M377 331.3H380M377 333.3H380M470 333.3H473M377 335.3H380M470 335.3H473M377 337.3H380M470 337.3H473M470 339.3H473M470 341.3H473M470 343.3H473M467 345.3H470M467 347.3H470M467 349.3H470M467 351.3H470M467 353.3H470M467 355.3H470M374 359.3H377M470 359.3H473M374 361.3H377M374 363.3H377M473 363.3H476M476 365.3H479M473 367.3H476M377 369.3H380M467 369.3H470M458 371.3H461M452 373.3H455M380 375.3H383M449 375.3H452M380 377.3H383M380 379.3H383M377 381.3H380M449 381.3H452M374 383.3H377M455 383.3H458M362 385.3H368M464 385.3H467M353 387.3H356M488 387.3H500M347 389.3H350M506 389.3H515M509 391.3H515M344 393.3H347M506 393.3H512M503 395.3H506M500 397.3H503M497 399.3H500M344 401.3H347M497 401.3H500M344 403.3H347M497 403.3H500M206 405.3H218M254 405.3H260M344 405.3H347M497 405.3H500M578 405.3H584M185 407.3H194M269 407.3H278M293 407.3H302M347 407.3H353M500 407.3H503M569 407.3H590M173 409.3H179M305 409.3H311M371 409.3H380M503 409.3H506M563 409.3H569M587 409.3H596M167 411.3H173M308 411.3H311M386 411.3H389M509 411.3H512M554 411.3H560M590 411.3H605M164 413.3H170M311 413.3H314M599 413.3H614M164 415.3H167M317 415.3H320M389 415.3H392M614 415.3H620M164 417.3H170M329 417.3H362M386 417.3H389M620 417.3H626M167 419.3H173M371 419.3H377M380 419.3H386M626 419.3H632M173 421.3H179M632 421.3H638M179 423.3H191M203 423.3H230M641 423.3H644M236 425.3H245M647 425.3H653M254 427.3H257M656 427.3H659M260 429.3H266M659 429.3H662M266 431.3H272M662 431.3H665M275 433.3H281M290 435.3H332M350 435.3H356M662 435.3H665M362 437.3H365M656 437.3H659" stroke="#ff3000" stroke-width="2" fill="none"/>
<path d="M395 438.8H404M503 438.8H521M635 438.8H641" stroke="#ff2000" stroke-width="1" fill="none"/>
<path d="M407 265.3H428M404 267.3H410M425 267.3H431M401 269.3H404M431 269.3H434M401 271.3H404M431 271.3H437M398 273.3H401M434 273.3H437M437 275.3H440M395 277.3H398M437 277.3H440M395 279.3H398M440 279.3H443M440 281.3H443M443 283.3H446M443 285.3H446M392 287.3H395M443 287.3H446M392 289.3H395M446 289.3H449M392 291.3H395M446 291.3H449M392 293.3H395M392 295.3H395M449 295.3H452M449 297.3H452M389 299.3H392M452 299.3H455M389 301.3H392M452 301.3H455M452 303.3H455M386 307.3H389M386 309.3H389M455 309.3H458M386 311.3H389M455 311.3H458M386 313.3H389M455 313.3H458M386 315.3H389M455 315.3H458M458 317.3H461M458 319.3H461M383 321.3H386M461 321.3H464M383 323.3H386M383 325.3H386M464 325.3H467M380 329.3H383M467 329.3H470M380 331.3H383M467 331.3H470M467 333.3H470M467 335.3H470M467 337.3H470M377 339.3H380M467 339.3H470M377 341.3H380M467 341.3H470M377 343.3H380M467 343.3H470M377 345.3H380M377 347.3H380M464 347.3H467M377 349.3H380M464 349.3H467M377 351.3H380M464 351.3H467M377 353.3H380M464 353.3H467M377 355.3H380M377 357.3H380M467 357.3H470M377 359.3H380M377 361.3H380M470 361.3H473M377 363.3H380M377 365.3H380M473 365.3H476M377 367.3H380M470 367.3H473M461 369.3H467M380 371.3H383M455 371.3H458M380 373.3H383M449 373.3H452M446 377.3H449M446 379.3H449M380 381.3H383M377 383.3H380M452 383.3H455M368 385.3H371M458 385.3H464M476 387.3H488M497 389.3H506M503 391.3H509M503 393.3H506M344 395.3H347M500 395.3H503M344 397.3H347M497 397.3H500M344 399.3H347M494 401.3H497M347 403.3H350M494 403.3H497M218 405.3H254M347 405.3H353M194 407.3H206M263 407.3H269M353 407.3H362M497 407.3H500M179 409.3H188M272 409.3H305M380 409.3H383M500 409.3H503M569 409.3H587M173 411.3H179M302 411.3H308M506 411.3H509M560 411.3H572M575 411.3H590M170 413.3H173M308 413.3H311M389 413.3H392M518 413.3H545M587 413.3H599M167 415.3H173M311 415.3H317M599 415.3H614M170 417.3H173M323 417.3H329M389 417.3H392M614 417.3H620M173 419.3H179M365 419.3H371M386 419.3H389M623 419.3H626M179 421.3H185M209 421.3H227M629 421.3H632M191 423.3H203M230 423.3H239M635 423.3H641M245 425.3H254M644 425.3H647M257 427.3H263M653 427.3H656M266 429.3H269M656 429.3H659M272 431.3H275M659 431.3H662M281 433.3H290M662 433.3H665M356 435.3H359M659 435.3H662M365 437.3H368M506 437.3H524M653 437.3H656" stroke="#ff2000" stroke-width="2" fill="none"/>
<path d="M404 438.8H410M491 438.8H503M521 438.8H536M578 438.8H590M626 438.8H635" stroke="#ff1000" stroke-width="1" fill="none"/>
<path d="M410 267.3H425M404 269.3H410M425 269.3H431M404 271.3H407M428 271.3H431M401 273.3H404M431 273.3H434M398 275.3H401M434 275.3H437M398 277.3H401M434 277.3H437M398 279.3H401M437 279.3H440M395 281.3H398M437 281.3H440M395 283.3H398M440 283.3H443M395 285.3H398M440 285.3H443M395 287.3H398M395 289.3H398M443 289.3H446M395 291.3H398M443 291.3H446M446 293.3H449M446 295.3H449M392 297.3H395M392 299.3H395M449 299.3H452M449 301.3H452M389 303.3H392M449 303.3H452M389 305.3H392M452 305.3H455M389 307.3H392M452 307.3H455M389 309.3H392M452 309.3H455M452 311.3H455M452 313.3H455M452 315.3H455M386 317.3H389M452 317.3H458M386 319.3H389M455 319.3H458M386 321.3H389M458 321.3H461M458 323.3H464M461 325.3H464M383 327.3H386M464 327.3H467M383 329.3H386M464 329.3H467M464 331.3H467M380 333.3H383M380 335.3H383M380 337.3H383M380 339.3H383M464 339.3H467M464 341.3H467M464 343.3H467M464 345.3H467M464 355.3H467M464 357.3H467M467 359.3H470M467 361.3H470M470 363.3H473M470 365.3H473M464 367.3H470M380 369.3H383M458 369.3H461M452 371.3H455M383 375.3H386M446 375.3H449M383 377.3H386M383 379.3H386M446 381.3H449M380 383.3H383M449 383.3H452M371 385.3H377M455 385.3H458M356 387.3H359M470 387.3H476M350 389.3H353M488 389.3H497M347 391.3H350M497 391.3H503M497 393.3H503M497 395.3H500M494 397.3H497M347 399.3H350M494 399.3H497M347 401.3H350M350 403.3H353M353 405.3H356M494 405.3H497M206 407.3H218M257 407.3H263M362 407.3H377M188 409.3H197M266 409.3H272M383 409.3H386M179 411.3H185M275 411.3H302M389 411.3H392M503 411.3H506M572 411.3H575M173 413.3H179M299 413.3H308M392 413.3H395M512 413.3H518M545 413.3H587M173 415.3H179M308 415.3H311M392 415.3H395M581 415.3H599M173 417.3H179M317 417.3H323M599 417.3H614M179 419.3H185M212 419.3H224M362 419.3H365M389 419.3H392M617 419.3H623M185 421.3H209M227 421.3H233M368 421.3H386M626 421.3H629M239 423.3H248M632 423.3H635M254 425.3H260M641 425.3H644M263 427.3H269M647 427.3H653M269 429.3H275M275 431.3H284M290 433.3H311M335 433.3H356M509 433.3H527M659 433.3H662M359 435.3H362M500 435.3H536M656 435.3H659M368 437.3H374M494 437.3H506M524 437.3H539M650 437.3H653" stroke="#ff1000" stroke-width="2" fill="none"/>
<path d="M410 438.8H416M485 438.8H491M536 438.8H578M590 438.8H626" stroke="#ff0000" stroke-width="1" fill="none"/>
<path d="M410 269.3H425M407 271.3H413M422 271.3H428M404 273.3H407M425 273.3H431M401 275.3H407M428 275.3H434M401 277.3H404M431 277.3H434M434 279.3H437M398 281.3H401M434 281.3H437M398 283.3H401M437 283.3H440M398 285.3H401M437 285.3H440M398 287.3H401M440 287.3H443M440 289.3H443M440 291.3H443M395 293.3H398M443 293.3H446M395 295.3H398M443 295.3H446M395 297.3H398M446 297.3H449M446 299.3H449M392 301.3H395M446 301.3H449M392 303.3H395M392 305.3H395M449 305.3H452M449 307.3H452M449 309.3H452M389 311.3H392M449 311.3H452M389 313.3H392M449 313.3H452M389 315.3H392M449 315.3H452M389 317.3H392M449 317.3H452M389 319.3H392M452 319.3H455M452 321.3H458M386 323.3H389M455 323.3H458M386 325.3H389M458 325.3H461M386 327.3H389M461 327.3H464M461 329.3H464M383 331.3H386M383 333.3H386M464 333.3H467M464 335.3H467M464 337.3H467M461 339.3H464M380 341.3H383M461 341.3H464M380 343.3H383M461 343.3H464M380 345.3H383M461 345.3H464M380 347.3H383M461 347.3H464M380 349.3H383M461 349.3H464M380 351.3H383M461 351.3H464M380 353.3H383M461 353.3H464M380 355.3H383M461 355.3H464M380 357.3H383M380 359.3H383M464 359.3H467M380 361.3H383M380 363.3H383M467 363.3H470M380 365.3H383M467 365.3H470M380 367.3H383M461 367.3H464M455 369.3H458M383 371.3H386M449 371.3H452M383 373.3H386M446 373.3H449M443 375.3H446M443 377.3H446M443 379.3H446M383 381.3H386M383 383.3H386M377 385.3H380M452 385.3H455M359 387.3H362M464 387.3H470M482 389.3H488M491 391.3H497M347 393.3H350M494 393.3H497M347 395.3H350M494 395.3H497M347 397.3H350M491 399.3H494M350 401.3H353M491 401.3H494M353 403.3H356M491 403.3H494M356 405.3H365M491 405.3H494M218 407.3H233M248 407.3H257M377 407.3H383M494 407.3H497M197 409.3H215M263 409.3H266M386 409.3H389M497 409.3H500M185 411.3H194M269 411.3H275M392 411.3H395M500 411.3H503M179 413.3H188M275 413.3H299M506 413.3H512M179 415.3H185M299 415.3H308M569 415.3H581M179 417.3H188M209 417.3H224M311 417.3H317M392 417.3H395M581 417.3H599M185 419.3H212M224 419.3H230M356 419.3H362M605 419.3H617M233 421.3H239M365 421.3H368M386 421.3H389M620 421.3H626M248 423.3H257M629 423.3H632M260 425.3H269M635 425.3H641M269 427.3H275M644 427.3H647M275 429.3H281M650 429.3H656M284 431.3H299M506 431.3H527M656 431.3H659M311 433.3H335M356 433.3H359M497 433.3H509M527 433.3H539M656 433.3H659M362 435.3H365M491 435.3H500M536 435.3H545M653 435.3H656M374 437.3H377M488 437.3H494M539 437.3H548M644 437.3H650" stroke="#ff0000" stroke-width="2" fill="none"/>
<path d="M416 438.8H422M479 438.8H485" stroke="#ef0000" stroke-width="1" fill="none"/>
<path d="M413 271.3H422M407 273.3H425M407 275.3H410M422 275.3H428M404 277.3H407M425 277.3H431M401 279.3H407M428 279.3H434M401 281.3H404M431 281.3H434M401 283.3H404M431 283.3H437M401 285.3H404M434 285.3H437M434 287.3H440M398 289.3H401M437 289.3H440M398 291.3H401M437 291.3H440M398 293.3H401M440 293.3H443M398 295.3H401M440 295.3H443M443 297.3H446M395 299.3H398M443 299.3H446M395 301.3H398M443 301.3H446M395 303.3H398M446 303.3H449M446 305.3H449M392 307.3H395M446 307.3H449M392 309.3H395M446 309.3H449M392 311.3H395M446 311.3H449M392 313.3H395M446 313.3H449M392 315.3H395M446 315.3H449M392 317.3H395M446 317.3H449M446 319.3H452M389 321.3H392M449 321.3H452M389 323.3H392M452 323.3H455M389 325.3H392M455 325.3H458M455 327.3H461M386 329.3H389M458 329.3H461M386 331.3H389M458 331.3H464M461 333.3H464M383 335.3H386M461 335.3H464M383 337.3H386M461 337.3H464M383 339.3H386M458 339.3H461M383 341.3H386M458 341.3H461M383 343.3H386M458 343.3H461M383 345.3H386M458 345.3H461M383 347.3H386M458 347.3H461M383 349.3H386M458 349.3H461M383 351.3H386M458 351.3H461M383 353.3H386M458 353.3H461M383 355.3H386M383 357.3H386M461 357.3H464M383 359.3H386M383 361.3H386M464 361.3H467M383 363.3H386M464 363.3H467M383 365.3H386M461 365.3H467M383 367.3H386M458 367.3H461M383 369.3H386M452 369.3H455M446 371.3H449M386 373.3H389M443 373.3H446M386 375.3H389M386 377.3H389M386 379.3H389M386 381.3H389M443 381.3H446M446 383.3H449M380 385.3H386M449 385.3H452M362 387.3H371M458 387.3H464M353 389.3H356M476 389.3H482M485 391.3H491M491 393.3H494M491 395.3H494M491 397.3H494M350 399.3H353M353 401.3H356M488 401.3H491M356 403.3H362M365 405.3H374M233 407.3H248M383 407.3H386M491 407.3H494M215 409.3H227M257 409.3H263M389 409.3H392M494 409.3H497M194 411.3H221M263 411.3H269M497 411.3H500M188 413.3H221M269 413.3H275M395 413.3H398M503 413.3H506M185 415.3H224M272 415.3H299M395 415.3H398M512 415.3H569M188 417.3H209M224 417.3H230M278 417.3H293M299 417.3H311M569 417.3H581M230 419.3H236M317 419.3H356M392 419.3H395M584 419.3H605M239 421.3H248M359 421.3H365M389 421.3H392M611 421.3H620M257 423.3H269M365 423.3H386M623 423.3H629M269 425.3H275M632 425.3H635M275 427.3H284M641 427.3H644M281 429.3H299M503 429.3H527M647 429.3H650M299 431.3H314M335 431.3H359M494 431.3H506M527 431.3H539M653 431.3H656M359 433.3H365M488 433.3H497M539 433.3H545M653 433.3H656M365 435.3H368M482 435.3H491M545 435.3H551M650 435.3H653M377 437.3H383M479 437.3H488M548 437.3H560M635 437.3H644" stroke="#ef0000" stroke-width="2" fill="none"/>
<path d="M422 438.8H428M473 438.8H479" stroke="#df0000" stroke-width="1" fill="none"/>
<path d="M410 275.3H422M407 277.3H425M407 279.3H413M422 279.3H428M404 281.3H410M425 281.3H431M404 283.3H407M428 283.3H431M404 285.3H407M428 285.3H434M401 287.3H407M431 287.3H434M401 289.3H404M434 289.3H437M401 291.3H404M434 291.3H437M401 293.3H404M437 293.3H440M401 295.3H404M437 295.3H440M398 297.3H401M437 297.3H443M398 299.3H401M440 299.3H443M398 301.3H401M440 301.3H443M440 303.3H446M395 305.3H398M443 305.3H446M395 307.3H398M443 307.3H446M395 309.3H398M443 309.3H446M395 311.3H398M443 311.3H446M395 313.3H398M443 313.3H446M443 315.3H446M443 317.3H446M392 319.3H395M443 319.3H446M392 321.3H395M443 321.3H449M392 323.3H395M446 323.3H452M449 325.3H455M389 327.3H392M452 327.3H455M389 329.3H392M455 329.3H458M455 331.3H458M386 333.3H389M455 333.3H461M386 335.3H389M455 335.3H461M386 337.3H389M455 337.3H461M386 339.3H389M455 339.3H458M455 341.3H458M455 343.3H458M455 345.3H458M455 347.3H458M455 349.3H458M455 351.3H458M455 353.3H458M458 355.3H461M458 357.3H461M461 359.3H464M461 361.3H464M461 363.3H464M458 365.3H461M386 367.3H389M452 367.3H458M386 369.3H389M449 369.3H452M386 371.3H389M443 371.3H446M389 375.3H392M440 375.3H443M389 377.3H392M440 377.3H443M389 379.3H392M440 379.3H443M389 381.3H392M440 381.3H443M386 383.3H389M443 383.3H446M386 385.3H389M446 385.3H449M371 387.3H383M455 387.3H458M356 389.3H359M470 389.3H476M350 391.3H353M482 391.3H485M350 393.3H353M485 393.3H491M350 395.3H353M488 395.3H491M350 397.3H353M488 397.3H491M353 399.3H356M488 399.3H491M356 401.3H359M362 403.3H368M488 403.3H491M374 405.3H380M488 405.3H491M386 407.3H389M227 409.3H239M248 409.3H257M392 409.3H395M491 409.3H494M221 411.3H230M260 411.3H263M395 411.3H398M494 411.3H497M221 413.3H230M263 413.3H269M497 413.3H503M224 415.3H233M266 415.3H272M503 415.3H512M230 417.3H236M269 417.3H278M293 417.3H299M395 417.3H398M557 417.3H569M236 419.3H242M266 419.3H317M395 419.3H398M569 419.3H584M248 421.3H293M353 421.3H359M392 421.3H395M590 421.3H611M269 423.3H290M359 423.3H365M386 423.3H389M614 423.3H623M275 425.3H293M362 425.3H374M626 425.3H632M284 427.3H302M500 427.3H524M635 427.3H641M299 429.3H311M341 429.3H359M491 429.3H503M527 429.3H539M641 429.3H647M314 431.3H335M359 431.3H362M485 431.3H494M539 431.3H548M647 431.3H653M365 433.3H368M479 433.3H488M545 433.3H554M647 433.3H653M368 435.3H371M476 435.3H482M551 435.3H560M644 435.3H650M383 437.3H419M473 437.3H479M560 437.3H590M620 437.3H635" stroke="#df0000" stroke-width="2" fill="none"/>
<path d="M428 438.8H434M467 438.8H473" stroke="#cf0000" stroke-width="1" fill="none"/>
<path d="M413 279.3H422M410 281.3H425M407 283.3H416M419 283.3H428M407 285.3H413M422 285.3H428M407 287.3H410M425 287.3H431M404 289.3H410M428 289.3H434M404 291.3H407M431 291.3H434M404 293.3H407M431 293.3H437M404 295.3H407M434 295.3H437M401 297.3H404M434 297.3H437M401 299.3H404M437 299.3H440M401 301.3H404M437 301.3H440M398 303.3H401M437 303.3H440M398 305.3H401M440 305.3H443M398 307.3H401M440 307.3H443M398 309.3H401M440 309.3H443M398 311.3H401M440 311.3H443M440 313.3H443M395 315.3H398M437 315.3H443M395 317.3H398M437 317.3H443M395 319.3H398M437 319.3H443M395 321.3H398M440 321.3H443M440 323.3H446M392 325.3H395M440 325.3H449M392 327.3H395M443 327.3H452M392 329.3H395M446 329.3H455M389 331.3H392M449 331.3H455M389 333.3H392M452 333.3H455M389 335.3H392M452 335.3H455M389 337.3H392M452 337.3H455M452 339.3H455M386 341.3H389M452 341.3H455M386 343.3H389M452 343.3H455M386 345.3H389M452 345.3H455M386 347.3H389M452 347.3H455M386 349.3H389M452 349.3H455M386 351.3H389M452 351.3H455M386 353.3H389M452 353.3H455M386 355.3H389M455 355.3H458M386 357.3H389M455 357.3H458M386 359.3H389M458 359.3H461M386 361.3H389M458 361.3H461M386 363.3H389M458 363.3H461M386 365.3H389M455 365.3H458M449 367.3H452M389 369.3H392M446 369.3H449M389 371.3H392M389 373.3H392M440 373.3H443M392 375.3H395M392 377.3H395M437 377.3H440M392 379.3H395M437 379.3H440M392 381.3H395M389 383.3H395M440 383.3H443M389 385.3H392M383 387.3H389M452 387.3H455M359 389.3H362M464 389.3H470M353 391.3H356M476 391.3H482M482 393.3H485M485 395.3H488M485 397.3H488M356 399.3H359M485 399.3H488M359 401.3H365M485 401.3H488M368 403.3H374M485 403.3H488M380 405.3H386M485 405.3H488M389 407.3H392M488 407.3H491M239 409.3H248M395 409.3H398M488 409.3H491M230 411.3H239M254 411.3H260M491 411.3H494M230 413.3H236M260 413.3H263M398 413.3H401M494 413.3H497M233 415.3H236M260 415.3H266M398 415.3H401M500 415.3H503M236 417.3H242M260 417.3H269M398 417.3H401M503 417.3H557M242 419.3H266M560 419.3H569M293 421.3H353M395 421.3H398M569 421.3H590M290 423.3H326M347 423.3H359M389 423.3H392M509 423.3H515M599 423.3H614M293 425.3H314M344 425.3H362M374 425.3H386M497 425.3H527M617 425.3H626M302 427.3H317M338 427.3H371M488 427.3H500M524 427.3H539M626 427.3H635M311 429.3H341M359 429.3H365M482 429.3H491M539 429.3H548M635 429.3H641M362 431.3H368M476 431.3H485M548 431.3H554M641 431.3H647M368 433.3H371M473 433.3H479M554 433.3H560M644 433.3H647M371 435.3H377M470 435.3H476M560 435.3H566M635 435.3H644M419 437.3H425M467 437.3H473M590 437.3H620" stroke="#cf0000" stroke-width="2" fill="none"/>
<path d="M434 438.8H467" stroke="#bf0000" stroke-width="1" fill="none"/>
<path d="M416 283.3H419M413 285.3H422M410 287.3H425M410 289.3H428M407 291.3H413M422 291.3H431M407 293.3H413M425 293.3H431M407 295.3H410M428 295.3H434M404 297.3H410M431 297.3H434M404 299.3H407M431 299.3H437M404 301.3H407M434 301.3H437M401 303.3H404M434 303.3H437M401 305.3H404M434 305.3H440M401 307.3H404M434 307.3H440M401 309.3H404M434 309.3H440M401 311.3H404M434 311.3H440M398 313.3H401M434 313.3H440M398 315.3H401M434 315.3H437M398 317.3H401M434 317.3H437M398 319.3H401M434 319.3H437M398 321.3H401M434 321.3H440M395 323.3H398M434 323.3H440M395 325.3H398M434 325.3H440M395 327.3H398M434 327.3H443M437 329.3H446M392 331.3H395M440 331.3H449M392 333.3H395M443 333.3H452M392 335.3H395M446 335.3H452M392 337.3H395M446 337.3H452M389 339.3H392M446 339.3H452M389 341.3H392M446 341.3H452M389 343.3H392M446 343.3H452M389 345.3H392M446 345.3H452M389 347.3H392M446 347.3H452M389 349.3H392M449 349.3H452M389 351.3H392M449 351.3H452M389 353.3H392M449 353.3H452M389 355.3H392M449 355.3H455M389 357.3H392M452 357.3H455M389 359.3H392M452 359.3H458M389 361.3H392M452 361.3H458M389 363.3H392M452 363.3H458M389 365.3H392M449 365.3H455M389 367.3H392M446 367.3H449M392 369.3H395M443 369.3H446M392 371.3H395M440 371.3H443M392 373.3H395M437 373.3H440M395 375.3H398M437 375.3H440M395 377.3H398M395 379.3H398M395 381.3H398M437 381.3H440M395 383.3H398M392 385.3H395M443 385.3H446M389 387.3H395M446 387.3H452M362 389.3H392M458 389.3H464M470 391.3H476M353 393.3H356M479 393.3H482M353 395.3H356M482 395.3H485M353 397.3H356M482 397.3H485M359 399.3H362M482 399.3H485M365 401.3H371M482 401.3H485M374 403.3H383M482 403.3H485M386 405.3H392M482 405.3H485M392 407.3H395M485 407.3H488M485 409.3H488M239 411.3H254M398 411.3H401M488 411.3H491M236 413.3H245M251 413.3H260M491 413.3H494M236 415.3H245M254 415.3H260M494 415.3H500M242 417.3H260M497 417.3H503M398 419.3H401M497 419.3H536M548 419.3H560M497 421.3H530M557 421.3H569M326 423.3H347M392 423.3H395M491 423.3H509M515 423.3H533M566 423.3H599M314 425.3H344M386 425.3H392M485 425.3H497M527 425.3H539M602 425.3H617M317 427.3H338M371 427.3H377M479 427.3H488M539 427.3H551M617 427.3H626M365 429.3H371M473 429.3H482M548 429.3H557M626 429.3H635M368 431.3H371M470 431.3H476M554 431.3H560M635 431.3H641M371 433.3H374M467 433.3H473M560 433.3H566M635 433.3H644M377 435.3H380M398 435.3H422M464 435.3H470M566 435.3H584M608 435.3H635M425 437.3H431M461 437.3H467" stroke="#bf0000" stroke-width="2" fill="none"/>
<path d="M413 291.3H422M413 293.3H425M410 295.3H428M410 297.3H431M407 299.3H413M425 299.3H431M407 301.3H413M425 301.3H434M404 303.3H410M428 303.3H434M404 305.3H410M428 305.3H434M404 307.3H407M431 307.3H434M404 309.3H407M431 309.3H434M404 311.3H407M431 311.3H434M401 313.3H407M431 313.3H434M401 315.3H404M428 315.3H434M401 317.3H404M428 317.3H434M401 319.3H404M428 319.3H434M401 321.3H404M428 321.3H434M398 323.3H401M428 323.3H434M398 325.3H401M428 325.3H434M398 327.3H401M428 327.3H434M395 329.3H401M431 329.3H437M395 331.3H398M431 331.3H440M395 333.3H398M434 333.3H443M395 335.3H398M437 335.3H446M395 337.3H398M440 337.3H446M392 339.3H398M440 339.3H446M392 341.3H398M443 341.3H446M392 343.3H395M443 343.3H446M392 345.3H395M443 345.3H446M392 347.3H395M443 347.3H446M392 349.3H395M443 349.3H449M392 351.3H395M443 351.3H449M392 353.3H395M443 353.3H449M392 355.3H395M443 355.3H449M392 357.3H395M446 357.3H452M392 359.3H395M446 359.3H452M392 361.3H395M446 361.3H452M392 363.3H395M446 363.3H452M392 365.3H395M443 365.3H449M392 367.3H395M440 367.3H446M395 369.3H398M437 369.3H443M395 371.3H398M437 371.3H440M395 373.3H398M434 373.3H437M398 375.3H401M434 375.3H437M398 377.3H401M434 377.3H437M398 379.3H401M434 379.3H437M398 381.3H401M434 381.3H437M398 383.3H401M437 383.3H440M395 385.3H401M440 385.3H443M395 387.3H398M443 387.3H446M392 389.3H398M452 389.3H458M356 391.3H359M374 391.3H395M464 391.3H470M473 393.3H479M476 395.3H482M356 397.3H359M479 397.3H482M362 399.3H368M479 399.3H482M371 401.3H380M479 401.3H482M383 403.3H389M479 403.3H482M392 405.3H395M479 405.3H482M395 407.3H398M482 407.3H485M398 409.3H401M482 409.3H485M401 411.3H404M485 411.3H488M245 413.3H251M401 413.3H404M485 413.3H491M245 415.3H254M401 415.3H404M488 415.3H494M401 417.3H404M488 417.3H497M488 419.3H497M536 419.3H548M398 421.3H401M485 421.3H497M530 421.3H557M395 423.3H398M482 423.3H491M533 423.3H566M392 425.3H395M476 425.3H485M539 425.3H602M377 427.3H386M470 427.3H479M551 427.3H569M599 427.3H617M371 429.3H377M467 429.3H473M557 429.3H566M614 429.3H626M371 431.3H374M464 431.3H470M560 431.3H569M617 431.3H635M374 433.3H377M404 433.3H419M461 433.3H467M566 433.3H578M608 433.3H635M380 435.3H398M422 435.3H431M455 435.3H464M584 435.3H608M431 437.3H461" stroke="#af0000" stroke-width="2" fill="none"/>
<path d="M413 299.3H425M413 301.3H425M410 303.3H428M410 305.3H428M407 307.3H416M419 307.3H431M407 309.3H413M422 309.3H431M407 311.3H413M422 311.3H431M407 313.3H413M422 313.3H431M404 315.3H410M422 315.3H428M404 317.3H410M422 317.3H428M404 319.3H410M422 319.3H428M404 321.3H407M422 321.3H428M401 323.3H407M422 323.3H428M401 325.3H407M422 325.3H428M401 327.3H404M422 327.3H428M401 329.3H404M425 329.3H431M398 331.3H404M425 331.3H431M398 333.3H404M425 333.3H434M398 335.3H404M428 335.3H437M398 337.3H404M431 337.3H440M398 339.3H401M434 339.3H440M398 341.3H401M437 341.3H443M395 343.3H401M437 343.3H443M395 345.3H401M437 345.3H443M395 347.3H401M437 347.3H443M395 349.3H401M437 349.3H443M395 351.3H401M437 351.3H443M395 353.3H398M434 353.3H443M395 355.3H398M437 355.3H443M395 357.3H398M437 357.3H446M395 359.3H398M437 359.3H446M395 361.3H398M437 361.3H446M395 363.3H398M437 363.3H446M395 365.3H398M437 365.3H443M395 367.3H401M437 367.3H440M398 369.3H401M434 369.3H437M398 371.3H401M431 371.3H437M398 373.3H404M431 373.3H434M401 375.3H404M431 375.3H434M401 377.3H404M431 377.3H434M401 379.3H407M431 379.3H434M401 381.3H404M431 381.3H434M401 383.3H404M434 383.3H437M401 385.3H404M434 385.3H440M398 387.3H404M440 387.3H443M398 389.3H401M446 389.3H452M359 391.3H374M395 391.3H401M458 391.3H464M356 393.3H359M374 393.3H398M470 393.3H473M356 395.3H359M380 395.3H392M473 395.3H476M359 397.3H365M476 397.3H479M368 399.3H386M476 399.3H479M380 401.3H389M476 401.3H479M389 403.3H395M476 403.3H479M395 405.3H401M476 405.3H479M398 407.3H404M476 407.3H482M401 409.3H404M479 409.3H482M479 411.3H485M404 413.3H407M482 413.3H485M404 415.3H407M482 415.3H488M482 417.3H488M401 419.3H404M479 419.3H488M401 421.3H404M476 421.3H485M398 423.3H401M470 423.3H482M395 425.3H401M467 425.3H476M386 427.3H395M461 427.3H470M569 427.3H599M377 429.3H383M458 429.3H467M566 429.3H614M374 431.3H380M404 431.3H419M455 431.3H464M569 431.3H617M377 433.3H383M395 433.3H404M419 433.3H431M452 433.3H461M578 433.3H608M431 435.3H455" stroke="#9f0000" stroke-width="2" fill="none"/>
<path d="M416 307.3H419M413 309.3H422M413 311.3H422M413 313.3H422M410 315.3H422M410 317.3H422M410 319.3H422M407 321.3H422M407 323.3H422M407 325.3H422M404 327.3H422M404 329.3H425M404 331.3H425M404 333.3H425M404 335.3H428M404 337.3H431M401 339.3H434M401 341.3H437M401 343.3H416M425 343.3H437M401 345.3H413M425 345.3H437M401 347.3H410M428 347.3H437M401 349.3H407M428 349.3H437M401 351.3H407M428 351.3H437M398 353.3H404M428 353.3H434M398 355.3H404M428 355.3H437M398 357.3H404M428 357.3H437M398 359.3H404M428 359.3H437M398 361.3H404M428 361.3H437M398 363.3H404M431 363.3H437M398 365.3H404M431 365.3H437M401 367.3H404M428 367.3H437M401 369.3H407M428 369.3H434M401 371.3H407M428 371.3H431M404 373.3H410M425 373.3H431M404 375.3H413M425 375.3H431M404 377.3H413M425 377.3H431M407 379.3H413M425 379.3H431M404 381.3H410M425 381.3H431M404 383.3H410M428 383.3H434M404 385.3H410M431 385.3H434M404 387.3H407M434 387.3H440M401 389.3H407M437 389.3H446M401 391.3H404M449 391.3H458M359 393.3H374M398 393.3H404M461 393.3H470M359 395.3H380M392 395.3H401M467 395.3H473M365 397.3H401M470 397.3H476M386 399.3H398M470 399.3H476M389 401.3H401M470 401.3H476M395 403.3H404M470 403.3H476M401 405.3H407M470 405.3H476M404 407.3H407M470 407.3H476M404 409.3H407M473 409.3H479M404 411.3H407M473 411.3H479M473 413.3H482M473 415.3H482M404 417.3H407M473 417.3H482M404 419.3H407M470 419.3H479M404 421.3H407M464 421.3H476M401 423.3H407M458 423.3H470M401 425.3H407M455 425.3H467M395 427.3H407M452 427.3H461M383 429.3H422M449 429.3H458M380 431.3H404M419 431.3H434M443 431.3H455M383 433.3H395M431 433.3H452" stroke="#8f0000" stroke-width="2" fill="none"/>
<path d="M416 343.3H425M413 345.3H425M410 347.3H428M407 349.3H428M407 351.3H428M404 353.3H428M404 355.3H428M404 357.3H428M404 359.3H428M404 361.3H428M404 363.3H431M404 365.3H431M404 367.3H428M407 369.3H428M407 371.3H428M410 373.3H425M413 375.3H425M413 377.3H425M413 379.3H425M410 381.3H425M410 383.3H428M410 385.3H431M407 387.3H434M407 389.3H437M404 391.3H449M404 393.3H461M401 395.3H467M401 397.3H470M398 399.3H470M401 401.3H470M404 403.3H470M407 405.3H470M407 407.3H470M407 409.3H473M407 411.3H473M407 413.3H473M407 415.3H473M407 417.3H473M407 419.3H470M407 421.3H464M407 423.3H458M407 425.3H455M407 427.3H452M422 429.3H449M434 431.3H443" stroke="#800000" stroke-width="2" fill="none"/>
</g>
<g shape-rendering="crispEdges">
<rect x="825" y="76.3" width="533.2" height="363" fill="#00008f"/>
<path d="M1080 153.3H1104M1071 155.3H1116M1068 157.3H1083M1107 157.3H1125M1065 159.3H1077M1119 159.3H1134M1065 161.3H1074M1128 161.3H1143M825 163.3H843M1062 163.3H1074M1140 163.3H1161M849 165.3H885M1062 165.3H1071M1158 165.3H1179M870 167.3H888M1056 167.3H1068M1173 167.3H1185M879 169.3H891M1026 169.3H1065M1179 169.3H1188M879 171.3H891M1011 171.3H1047M1185 171.3H1191M879 173.3H891M987 173.3H1017M1188 173.3H1194M876 175.3H885M948 175.3H984M1194 175.3H1200M873 177.3H882M915 177.3H933M1212 177.3H1221M870 179.3H876M909 179.3H918M870 181.3H876M900 181.3H912M873 183.3H882M891 183.3H903M882 185.3H888M1179 211.3H1182M1224 211.3H1236M825 213.3H855M1176 213.3H1179M1221 213.3H1242M1254 213.3H1272M1308 213.3H1332M855 215.3H870M1176 215.3H1182M1200 215.3H1215M1260 215.3H1269M1320 215.3H1335M861 217.3H873M1266 217.3H1275M1317 217.3H1329M858 219.3H870M1275 219.3H1281M1305 219.3H1320M831 221.3H858M1284 221.3H1308M993 231.3H1008M987 233.3H999M1005 233.3H1017M987 235.3H1002M1008 235.3H1020M999 237.3H1017M873 255.3H894M876 257.3H894" stroke="#00009f" stroke-width="2" fill="none"/>
<path d="M1083 157.3H1107M1077 159.3H1092M1098 159.3H1119M1074 161.3H1083M1113 161.3H1128M1074 163.3H1080M1125 163.3H1140M825 165.3H849M1071 165.3H1080M1140 165.3H1158M852 167.3H870M1068 167.3H1077M1158 167.3H1173M864 169.3H879M1065 169.3H1071M1173 169.3H1179M870 171.3H879M1047 171.3H1065M1179 171.3H1185M870 173.3H879M1017 173.3H1047M1182 173.3H1188M870 175.3H876M984 175.3H1017M1188 175.3H1194M867 177.3H873M933 177.3H969M1197 177.3H1212M1221 177.3H1358.2M864 179.3H870M918 179.3H930M864 181.3H870M912 181.3H918M867 183.3H873M903 183.3H912M873 185.3H882M888 185.3H903M972 205.3H1002M960 207.3H1005M957 209.3H1005M1188 209.3H1224M825 211.3H846M966 211.3H993M1176 211.3H1179M1236 211.3H1326M855 213.3H870M1173 213.3H1176M1242 213.3H1254M1332 213.3H1341M870 215.3H879M1173 215.3H1176M1215 215.3H1233M1245 215.3H1260M1335 215.3H1344M873 217.3H882M1176 217.3H1200M1260 217.3H1266M1329 217.3H1341M870 219.3H882M1269 219.3H1275M1320 219.3H1332M858 221.3H873M1275 221.3H1284M1308 221.3H1320M825 223.3H840M1290 223.3H1305M981 231.3H993M1008 231.3H1017M978 233.3H987M1017 233.3H1023M981 235.3H987M1020 235.3H1023M987 237.3H999M1017 237.3H1023M1002 239.3H1020M870 253.3H894M867 255.3H873M894 255.3H903M870 257.3H876M894 257.3H903M885 259.3H891" stroke="#0000af" stroke-width="2" fill="none"/>
<path d="M1092 159.3H1098M1083 161.3H1113M1080 163.3H1092M1113 163.3H1125M1080 165.3H1086M1125 165.3H1140M825 167.3H852M1077 167.3H1083M1140 167.3H1158M852 169.3H864M1071 169.3H1080M1158 169.3H1173M861 171.3H870M1065 171.3H1074M1173 171.3H1179M864 173.3H870M1047 173.3H1062M1176 173.3H1182M864 175.3H870M1017 175.3H1044M1182 175.3H1188M861 177.3H867M969 177.3H1002M1188 177.3H1197M861 179.3H864M930 179.3H948M861 181.3H864M918 181.3H927M861 183.3H867M912 183.3H918M864 185.3H873M903 185.3H909M879 187.3H894M972 203.3H1005M957 205.3H972M1002 205.3H1011M951 207.3H960M1005 207.3H1014M948 209.3H957M1005 209.3H1011M1182 209.3H1188M1224 209.3H1236M846 211.3H867M951 211.3H966M993 211.3H1008M1173 211.3H1176M1326 211.3H1341M870 213.3H879M966 213.3H990M1170 213.3H1173M1341 213.3H1350M879 215.3H888M1170 215.3H1173M1233 215.3H1245M1344 215.3H1353M882 217.3H888M1173 217.3H1176M1200 217.3H1209M1254 217.3H1260M1341 217.3H1353M882 219.3H888M1263 219.3H1269M1332 219.3H1344M873 221.3H885M1269 221.3H1275M1320 221.3H1332M840 223.3H864M1278 223.3H1290M1305 223.3H1323M981 229.3H1014M975 231.3H981M1017 231.3H1023M972 233.3H978M1023 233.3H1026M972 235.3H981M1023 235.3H1029M978 237.3H987M1023 237.3H1029M990 239.3H1002M1020 239.3H1026M1011 241.3H1020M876 251.3H885M864 253.3H870M894 253.3H903M1293 253.3H1305M861 255.3H867M903 255.3H912M1287 255.3H1308M864 257.3H870M903 257.3H912M873 259.3H885M891 259.3H906" stroke="#0000bf" stroke-width="2" fill="none"/>
<path d="M1092 163.3H1113M1086 165.3H1098M1110 165.3H1125M1083 167.3H1089M1128 167.3H1140M831 169.3H852M1080 169.3H1086M1140 169.3H1158M849 171.3H861M1074 171.3H1080M1161 171.3H1173M855 173.3H864M1062 173.3H1071M1170 173.3H1176M855 175.3H864M1044 175.3H1056M1176 175.3H1182M855 177.3H861M1002 177.3H1038M1182 177.3H1188M855 179.3H861M948 179.3H981M1194 179.3H1320M855 181.3H861M927 181.3H936M855 183.3H861M918 183.3H924M861 185.3H864M909 185.3H918M870 187.3H879M894 187.3H906M975 201.3H1005M957 203.3H972M1005 203.3H1014M948 205.3H957M1011 205.3H1017M945 207.3H951M1014 207.3H1017M825 209.3H855M942 209.3H948M1011 209.3H1017M1176 209.3H1182M1236 209.3H1251M867 211.3H879M942 211.3H951M1008 211.3H1014M1170 211.3H1173M1341 211.3H1350M879 213.3H888M948 213.3H966M990 213.3H1005M1167 213.3H1170M1350 213.3H1356M888 215.3H894M972 215.3H984M1167 215.3H1170M1353 215.3H1358.2M888 217.3H897M1170 217.3H1173M1209 217.3H1224M1242 217.3H1254M1353 217.3H1358.2M888 219.3H897M1176 219.3H1194M1257 219.3H1263M1344 219.3H1358.2M885 221.3H894M1266 221.3H1269M1332 221.3H1358.2M864 223.3H882M1272 223.3H1278M1323 223.3H1341M1356 223.3H1358.2M825 225.3H831M1281 225.3H1326M984 227.3H1002M975 229.3H981M1014 229.3H1026M969 231.3H975M1023 231.3H1029M966 233.3H972M1026 233.3H1029M966 235.3H972M1029 235.3H1032M972 237.3H978M1029 237.3H1032M981 239.3H990M1026 239.3H1029M996 241.3H1011M1020 241.3H1029M1197 243.3H1209M1194 245.3H1212M1197 247.3H1212M864 251.3H876M885 251.3H897M1296 251.3H1308M858 253.3H864M903 253.3H915M1278 253.3H1293M1305 253.3H1317M855 255.3H861M912 255.3H921M1275 255.3H1287M1308 255.3H1320M861 257.3H864M912 257.3H921M1281 257.3H1314M867 259.3H873M906 259.3H915M1020 265.3H1023M1014 267.3H1032M1014 269.3H1032" stroke="#0000cf" stroke-width="2" fill="none"/>
<path d="M1098 165.3H1110M1089 167.3H1128M825 169.3H831M1086 169.3H1092M1128 169.3H1140M837 171.3H849M1080 171.3H1086M1140 171.3H1161M846 173.3H855M1071 173.3H1077M1158 173.3H1170M849 175.3H855M1056 175.3H1065M1170 175.3H1176M849 177.3H855M1038 177.3H1050M1176 177.3H1182M849 179.3H855M981 179.3H1035M1185 179.3H1194M1320 179.3H1358.2M849 181.3H855M936 181.3H954M852 183.3H855M924 183.3H933M855 185.3H861M918 185.3H924M864 187.3H870M906 187.3H915M1056 195.3H1059M1053 197.3H1065M981 199.3H1002M1056 199.3H1065M960 201.3H975M1005 201.3H1014M948 203.3H957M1014 203.3H1017M942 205.3H948M1017 205.3H1020M825 207.3H837M939 207.3H945M1017 207.3H1023M855 209.3H870M936 209.3H942M1017 209.3H1020M1173 209.3H1176M1251 209.3H1338M879 211.3H888M933 211.3H942M1014 211.3H1020M1167 211.3H1170M1350 211.3H1353M888 213.3H897M936 213.3H948M1005 213.3H1014M1356 213.3H1358.2M894 215.3H903M948 215.3H972M984 215.3H999M897 217.3H906M1167 217.3H1170M1224 217.3H1242M897 219.3H906M1170 219.3H1176M1194 219.3H1203M1251 219.3H1257M894 221.3H903M1260 221.3H1266M882 223.3H894M1269 223.3H1272M1341 223.3H1356M831 225.3H852M1275 225.3H1281M1326 225.3H1358.2M975 227.3H984M1002 227.3H1023M1287 227.3H1358.2M969 229.3H975M1026 229.3H1029M1332 229.3H1358.2M963 231.3H969M1029 231.3H1032M1341 231.3H1358.2M960 233.3H966M1029 233.3H1032M1347 233.3H1358.2M960 235.3H966M963 237.3H972M1032 237.3H1035M969 239.3H981M1029 239.3H1032M984 241.3H996M1029 241.3H1032M1200 241.3H1209M1005 243.3H1029M1194 243.3H1197M1209 243.3H1212M1191 245.3H1194M1212 245.3H1215M1194 247.3H1197M1212 247.3H1215M1197 249.3H1215M855 251.3H864M897 251.3H912M1278 251.3H1296M1308 251.3H1323M852 253.3H858M915 253.3H924M1266 253.3H1278M1317 253.3H1326M852 255.3H855M921 255.3H930M1263 255.3H1275M1320 255.3H1326M855 257.3H861M921 257.3H930M1269 257.3H1281M1314 257.3H1323M864 259.3H867M915 259.3H927M882 261.3H915M1008 265.3H1020M1023 265.3H1032M1005 267.3H1014M1032 267.3H1035M1008 269.3H1014M1032 269.3H1035M1017 271.3H1032" stroke="#0000df" stroke-width="2" fill="none"/>
<path d="M1092 169.3H1128M825 171.3H837M1086 171.3H1092M1128 171.3H1140M834 173.3H846M1077 173.3H1083M1137 173.3H1158M843 175.3H849M1065 175.3H1071M1155 175.3H1170M843 177.3H849M1050 177.3H1059M1167 177.3H1176M843 179.3H849M1035 179.3H1047M1179 179.3H1185M846 181.3H849M954 181.3H1035M846 183.3H852M933 183.3H945M849 185.3H855M924 185.3H930M855 187.3H864M915 187.3H921M870 189.3H909M1047 195.3H1056M1059 195.3H1068M984 197.3H996M1047 197.3H1053M1065 197.3H1068M966 199.3H981M1002 199.3H1014M1050 199.3H1056M1065 199.3H1068M951 201.3H960M1014 201.3H1020M1059 201.3H1065M942 203.3H948M1017 203.3H1023M936 205.3H942M1020 205.3H1026M837 207.3H855M930 207.3H939M1023 207.3H1026M1194 207.3H1218M870 209.3H882M927 209.3H936M1020 209.3H1026M1170 209.3H1173M1338 209.3H1347M888 211.3H897M924 211.3H933M1020 211.3H1023M1353 211.3H1358.2M897 213.3H936M1014 213.3H1020M1164 213.3H1167M903 215.3H948M999 215.3H1011M1164 215.3H1167M906 217.3H930M954 217.3H996M1164 217.3H1167M906 219.3H918M978 219.3H984M1167 219.3H1170M1203 219.3H1212M1245 219.3H1251M903 221.3H912M1173 221.3H1188M1257 221.3H1260M894 223.3H906M984 223.3H987M1263 223.3H1269M852 225.3H891M972 225.3H1008M1269 225.3H1275M966 227.3H975M1023 227.3H1032M1278 227.3H1287M963 229.3H969M1029 229.3H1035M1293 229.3H1332M960 231.3H963M1032 231.3H1035M1320 231.3H1341M957 233.3H960M1032 233.3H1035M1329 233.3H1347M957 235.3H960M1032 235.3H1035M1335 235.3H1358.2M957 237.3H963M1341 237.3H1358.2M960 239.3H969M1032 239.3H1035M1350 239.3H1358.2M969 241.3H984M1032 241.3H1035M1194 241.3H1200M1209 241.3H1215M1353 241.3H1358.2M990 243.3H1005M1029 243.3H1035M1191 243.3H1194M1212 243.3H1218M1356 243.3H1358.2M1008 245.3H1029M1215 245.3H1218M1356 245.3H1358.2M1191 247.3H1194M1215 247.3H1221M1356 247.3H1358.2M861 249.3H900M1194 249.3H1197M1215 249.3H1221M1287 249.3H1323M1356 249.3H1358.2M849 251.3H855M912 251.3H933M1197 251.3H1218M1263 251.3H1278M1323 251.3H1332M1356 251.3H1358.2M846 253.3H852M924 253.3H936M1254 253.3H1266M1326 253.3H1338M846 255.3H852M930 255.3H939M1251 255.3H1263M1326 255.3H1335M852 257.3H855M930 257.3H939M1257 257.3H1269M1323 257.3H1329M858 259.3H864M927 259.3H939M1281 259.3H1314M873 261.3H882M915 261.3H936M999 263.3H1026M996 265.3H1008M1032 265.3H1035M996 267.3H1005M1035 267.3H1038M999 269.3H1008M1035 269.3H1038M1008 271.3H1017M1032 271.3H1035" stroke="#0000ef" stroke-width="2" fill="none"/>
<path d="M1092 171.3H1128M825 173.3H834M1083 173.3H1089M1125 173.3H1137M825 175.3H843M1071 175.3H1077M1134 175.3H1155M834 177.3H843M1059 177.3H1065M1152 177.3H1167M837 179.3H843M1047 179.3H1053M1170 179.3H1179M837 181.3H846M1035 181.3H1044M1188 181.3H1329M840 183.3H846M945 183.3H972M1014 183.3H1035M843 185.3H849M930 185.3H939M849 187.3H855M921 187.3H930M861 189.3H870M909 189.3H918M1044 193.3H1065M987 195.3H993M1041 195.3H1047M1068 195.3H1071M969 197.3H984M996 197.3H1014M1041 197.3H1047M1068 197.3H1071M954 199.3H966M1014 199.3H1023M1041 199.3H1050M1068 199.3H1071M942 201.3H951M1020 201.3H1026M1047 201.3H1059M1065 201.3H1071M936 203.3H942M1023 203.3H1029M825 205.3H843M930 205.3H936M1026 205.3H1029M855 207.3H870M924 207.3H930M1026 207.3H1029M1185 207.3H1194M1218 207.3H1233M882 209.3H897M915 209.3H927M1026 209.3H1029M1347 209.3H1353M897 211.3H924M1023 211.3H1029M1164 211.3H1167M1020 213.3H1029M1161 213.3H1164M1011 215.3H1026M1161 215.3H1164M930 217.3H954M996 217.3H1008M1161 217.3H1164M918 219.3H942M957 219.3H978M984 219.3H999M1164 219.3H1167M1212 219.3H1245M912 221.3H927M969 221.3H996M1170 221.3H1173M1188 221.3H1197M1251 221.3H1257M906 223.3H918M969 223.3H984M987 223.3H1002M1023 223.3H1038M1260 223.3H1263M891 225.3H906M966 225.3H972M1008 225.3H1038M1266 225.3H1269M825 227.3H834M960 227.3H966M1032 227.3H1038M1272 227.3H1278M957 229.3H963M1035 229.3H1038M1278 229.3H1293M954 231.3H960M1035 231.3H1038M1299 231.3H1320M951 233.3H957M1035 233.3H1038M1314 233.3H1329M951 235.3H957M1035 235.3H1038M1323 235.3H1335M951 237.3H957M1035 237.3H1038M1329 237.3H1341M951 239.3H960M1035 239.3H1038M1197 239.3H1215M1335 239.3H1350M951 241.3H969M1035 241.3H1038M1191 241.3H1194M1215 241.3H1221M1341 241.3H1353M960 243.3H990M1188 243.3H1191M1218 243.3H1221M1344 243.3H1356M996 245.3H1008M1029 245.3H1035M1188 245.3H1191M1218 245.3H1224M1347 245.3H1356M927 247.3H945M1008 247.3H1026M1188 247.3H1191M1221 247.3H1224M1296 247.3H1329M1344 247.3H1356M849 249.3H861M900 249.3H948M1191 249.3H1194M1221 249.3H1227M1266 249.3H1287M1323 249.3H1356M840 251.3H849M933 251.3H948M1194 251.3H1197M1218 251.3H1233M1242 251.3H1263M1332 251.3H1356M837 253.3H846M936 253.3H951M1200 253.3H1254M1338 253.3H1358.2M840 255.3H846M939 255.3H951M1212 255.3H1251M1335 255.3H1347M846 257.3H852M939 257.3H954M1221 257.3H1257M1329 257.3H1338M855 259.3H858M939 259.3H954M990 259.3H1011M1266 259.3H1281M1314 259.3H1326M867 261.3H873M936 261.3H954M981 261.3H1023M903 263.3H951M981 263.3H999M1026 263.3H1032M933 265.3H942M981 265.3H996M981 267.3H996M984 269.3H999M987 271.3H1008M1014 273.3H1026" stroke="#0000ff" stroke-width="2" fill="none"/>
<path d="M1089 173.3H1125M1077 175.3H1083M1119 175.3H1134M825 177.3H834M1065 177.3H1071M1125 177.3H1152M825 179.3H837M1053 179.3H1059M1149 179.3H1170M825 181.3H837M1044 181.3H1050M1176 181.3H1188M1329 181.3H1358.2M825 183.3H840M972 183.3H1014M1035 183.3H1044M825 185.3H843M939 185.3H957M1011 185.3H1041M825 187.3H828M840 187.3H849M930 187.3H939M852 189.3H861M918 189.3H930M876 191.3H915M1035 191.3H1062M981 193.3H1002M1032 193.3H1044M1065 193.3H1068M969 195.3H987M993 195.3H1023M1029 195.3H1041M954 197.3H969M1014 197.3H1041M1071 197.3H1074M942 199.3H954M1023 199.3H1041M1071 199.3H1074M933 201.3H942M1026 201.3H1047M1071 201.3H1074M825 203.3H837M927 203.3H936M1029 203.3H1035M1050 203.3H1071M843 205.3H855M921 205.3H930M1029 205.3H1035M870 207.3H888M915 207.3H924M1029 207.3H1032M1179 207.3H1185M1233 207.3H1245M897 209.3H915M1029 209.3H1032M1167 209.3H1170M1353 209.3H1356M1029 211.3H1032M1029 213.3H1035M1026 215.3H1035M1008 217.3H1038M942 219.3H957M999 219.3H1041M1161 219.3H1164M927 221.3H969M996 221.3H1008M1017 221.3H1044M1167 221.3H1170M1197 221.3H1206M1245 221.3H1251M918 223.3H933M960 223.3H969M1002 223.3H1023M1038 223.3H1044M1173 223.3H1188M1254 223.3H1260M906 225.3H921M957 225.3H966M1038 225.3H1044M1260 225.3H1266M834 227.3H906M954 227.3H960M1038 227.3H1041M1266 227.3H1272M951 229.3H957M1038 229.3H1041M1272 229.3H1278M948 231.3H954M1038 231.3H1041M1281 231.3H1299M945 233.3H951M1038 233.3H1041M1299 233.3H1314M945 235.3H951M1038 235.3H1041M1311 235.3H1323M945 237.3H951M1038 237.3H1041M1203 237.3H1212M1314 237.3H1329M942 239.3H951M1038 239.3H1041M1194 239.3H1197M1215 239.3H1221M1320 239.3H1335M939 241.3H951M1038 241.3H1041M1188 241.3H1191M1221 241.3H1224M1320 241.3H1341M933 243.3H960M1035 243.3H1038M1185 243.3H1188M1221 243.3H1227M1317 243.3H1344M924 245.3H996M1035 245.3H1038M1185 245.3H1188M1224 245.3H1230M1299 245.3H1347M858 247.3H927M945 247.3H966M993 247.3H1008M1026 247.3H1032M1185 247.3H1188M1224 247.3H1233M1281 247.3H1296M1329 247.3H1344M834 249.3H849M948 249.3H963M1002 249.3H1026M1188 249.3H1191M1227 249.3H1266M825 251.3H840M948 251.3H963M1191 251.3H1194M1233 251.3H1242M825 253.3H837M951 253.3H969M1197 253.3H1200M825 255.3H840M951 255.3H1011M1203 255.3H1212M1347 255.3H1358.2M840 257.3H846M954 257.3H1014M1209 257.3H1221M1338 257.3H1350M849 259.3H855M954 259.3H990M1011 259.3H1020M1209 259.3H1266M1326 259.3H1335M864 261.3H867M954 261.3H981M1023 261.3H1029M1209 261.3H1227M888 263.3H903M951 263.3H981M1032 263.3H1035M1206 263.3H1218M918 265.3H933M942 265.3H981M1035 265.3H1038M1203 265.3H1215M930 267.3H981M1038 267.3H1041M1203 267.3H1209M969 269.3H984M1038 269.3H1041M972 271.3H987M1035 271.3H1038M978 273.3H1014M1026 273.3H1032M984 275.3H990M1272 281.3H1287M1275 283.3H1287M876 303.3H891M873 305.3H897" stroke="#0010ff" stroke-width="2" fill="none"/>
<path d="M1083 175.3H1095M1101 175.3H1119M1071 177.3H1077M1113 177.3H1125M1059 179.3H1065M1122 179.3H1149M1050 181.3H1056M1161 181.3H1176M1044 183.3H1050M957 185.3H1011M1041 185.3H1050M828 187.3H840M939 187.3H1050M825 189.3H834M837 189.3H852M930 189.3H942M975 189.3H1059M861 191.3H876M915 191.3H933M972 191.3H1035M1062 191.3H1065M963 193.3H981M1002 193.3H1032M1068 193.3H1071M951 195.3H969M1023 195.3H1029M1071 195.3H1074M939 197.3H954M1074 197.3H1077M933 199.3H942M1074 199.3H1077M825 201.3H834M927 201.3H933M1074 201.3H1077M837 203.3H846M921 203.3H927M1035 203.3H1050M1071 203.3H1077M855 205.3H870M912 205.3H921M1035 205.3H1041M888 207.3H915M1032 207.3H1038M1176 207.3H1179M1245 207.3H1272M1302 207.3H1344M1032 209.3H1038M1164 209.3H1167M1356 209.3H1358.2M1032 211.3H1038M1161 211.3H1164M1035 213.3H1038M1158 213.3H1161M1035 215.3H1041M1158 215.3H1161M1038 217.3H1044M1158 217.3H1161M1041 219.3H1047M1008 221.3H1017M1044 221.3H1047M1164 221.3H1167M1206 221.3H1245M933 223.3H960M1044 223.3H1047M1167 223.3H1173M1188 223.3H1197M1248 223.3H1254M921 225.3H957M1044 225.3H1047M1254 225.3H1260M906 227.3H924M939 227.3H954M1041 227.3H1044M1260 227.3H1266M825 229.3H828M897 229.3H903M942 229.3H951M1041 229.3H1044M1266 229.3H1272M942 231.3H948M1272 231.3H1281M939 233.3H945M1281 233.3H1299M939 235.3H945M1296 235.3H1311M936 237.3H945M1194 237.3H1203M1212 237.3H1227M1302 237.3H1314M933 239.3H942M1188 239.3H1194M1221 239.3H1230M1305 239.3H1320M930 241.3H939M1185 241.3H1188M1224 241.3H1233M1305 241.3H1320M921 243.3H933M1038 243.3H1041M1227 243.3H1236M1299 243.3H1317M912 245.3H924M1230 245.3H1248M1287 245.3H1299M825 247.3H858M966 247.3H993M1032 247.3H1035M1233 247.3H1281M825 249.3H834M963 249.3H1002M1026 249.3H1032M1185 249.3H1188M963 251.3H1023M1188 251.3H1191M969 253.3H1020M1194 253.3H1197M1011 255.3H1017M1197 255.3H1203M825 257.3H840M1014 257.3H1020M1203 257.3H1209M1350 257.3H1358.2M846 259.3H849M1020 259.3H1026M1203 259.3H1209M1335 259.3H1344M858 261.3H864M1029 261.3H1032M1203 261.3H1209M1227 261.3H1245M1284 261.3H1320M879 263.3H888M1035 263.3H1038M1200 263.3H1206M1218 263.3H1230M909 265.3H918M1038 265.3H1041M1197 265.3H1203M1215 265.3H1221M921 267.3H930M1197 267.3H1203M1209 267.3H1218M930 269.3H969M1200 269.3H1212M960 271.3H972M966 273.3H978M1032 273.3H1035M972 275.3H984M990 275.3H1005M978 277.3H993M1266 281.3H1272M1287 281.3H1293M1266 283.3H1275M1287 283.3H1293M867 303.3H876M891 303.3H897M867 305.3H873M897 305.3H903M885 307.3H891" stroke="#0020ff" stroke-width="2" fill="none"/>
<path d="M1095 175.3H1101M1077 177.3H1083M1104 177.3H1113M1065 179.3H1071M1113 179.3H1122M1056 181.3H1062M1119 181.3H1161M1050 183.3H1056M1185 183.3H1293M1050 185.3H1056M1050 187.3H1056M834 189.3H837M942 189.3H975M1059 189.3H1062M825 191.3H861M933 191.3H972M1065 191.3H1068M825 193.3H831M885 193.3H963M1071 193.3H1074M825 195.3H828M918 195.3H951M1074 195.3H1077M825 197.3H831M924 197.3H939M825 199.3H834M921 199.3H933M1077 199.3H1080M834 201.3H843M918 201.3H927M1077 201.3H1080M846 203.3H858M912 203.3H921M1077 203.3H1080M870 205.3H912M1041 205.3H1077M1038 207.3H1044M1173 207.3H1176M1272 207.3H1302M1344 207.3H1350M1038 209.3H1041M1038 211.3H1041M1158 211.3H1161M1038 213.3H1044M1041 215.3H1047M1155 215.3H1158M1044 217.3H1050M1047 219.3H1050M1158 219.3H1161M1047 221.3H1053M1161 221.3H1164M1047 223.3H1050M1164 223.3H1167M1197 223.3H1209M1239 223.3H1248M1047 225.3H1050M1173 225.3H1188M1248 225.3H1254M924 227.3H939M1044 227.3H1047M1254 227.3H1260M828 229.3H837M870 229.3H897M903 229.3H942M1044 229.3H1047M1257 229.3H1266M930 231.3H942M1041 231.3H1044M1263 231.3H1272M933 233.3H939M1041 233.3H1044M1269 233.3H1281M933 235.3H939M1041 235.3H1044M1200 235.3H1233M1281 235.3H1296M930 237.3H936M1041 237.3H1044M1191 237.3H1194M1227 237.3H1239M1290 237.3H1302M924 239.3H933M1041 239.3H1044M1230 239.3H1242M1293 239.3H1305M918 241.3H930M1041 241.3H1044M1233 241.3H1248M1293 241.3H1305M912 243.3H921M1041 243.3H1044M1182 243.3H1185M1236 243.3H1260M1284 243.3H1299M825 245.3H828M849 245.3H912M1038 245.3H1041M1182 245.3H1185M1248 245.3H1287M1035 247.3H1038M1182 247.3H1185M1032 249.3H1035M1023 251.3H1029M1020 253.3H1026M1191 253.3H1194M1017 255.3H1023M1194 255.3H1197M1020 257.3H1026M1197 257.3H1203M825 259.3H846M1026 259.3H1029M1200 259.3H1203M1344 259.3H1358.2M852 261.3H858M1032 261.3H1035M1197 261.3H1203M1245 261.3H1284M1320 261.3H1332M870 263.3H879M1197 263.3H1200M1230 263.3H1239M900 265.3H909M1194 265.3H1197M1221 265.3H1230M915 267.3H921M1194 267.3H1197M1218 267.3H1224M924 269.3H930M1197 269.3H1200M1212 269.3H1218M933 271.3H960M1038 271.3H1041M957 273.3H966M1035 273.3H1038M963 275.3H972M1005 275.3H1026M969 277.3H978M993 277.3H999M978 279.3H990M1266 279.3H1290M1260 281.3H1266M1293 281.3H1299M1263 283.3H1266M1293 283.3H1299M1272 285.3H1290M873 301.3H888M861 303.3H867M897 303.3H903M864 305.3H867M903 305.3H906M873 307.3H885M891 307.3H900" stroke="#0030ff" stroke-width="2" fill="none"/>
<path d="M1083 177.3H1104M1071 179.3H1074M1107 179.3H1113M1062 181.3H1065M1113 181.3H1119M1056 183.3H1062M1125 183.3H1143M1158 183.3H1185M1293 183.3H1358.2M1056 185.3H1059M1056 187.3H1062M1062 189.3H1068M1068 191.3H1071M831 193.3H885M1074 193.3H1077M828 195.3H840M897 195.3H918M831 197.3H840M909 197.3H924M1077 197.3H1080M834 199.3H843M912 199.3H921M1080 199.3H1083M843 201.3H852M909 201.3H918M1080 201.3H1083M858 203.3H870M897 203.3H912M1080 203.3H1083M1077 205.3H1086M1044 207.3H1077M1170 207.3H1173M1350 207.3H1356M1041 209.3H1050M1161 209.3H1164M1041 211.3H1047M1044 213.3H1050M1155 213.3H1158M1047 215.3H1050M1050 217.3H1053M1155 217.3H1158M1050 219.3H1056M1155 219.3H1158M1053 221.3H1056M1158 221.3H1161M1050 223.3H1053M1161 223.3H1164M1209 223.3H1239M1050 225.3H1053M1167 225.3H1173M1188 225.3H1203M1236 225.3H1248M1047 227.3H1050M1242 227.3H1254M837 229.3H870M1245 229.3H1257M825 231.3H828M885 231.3H930M1044 231.3H1047M1215 231.3H1263M903 233.3H933M1044 233.3H1047M1203 233.3H1269M918 235.3H933M1194 235.3H1200M1233 235.3H1281M918 237.3H930M1188 237.3H1191M1239 237.3H1290M915 239.3H924M1185 239.3H1188M1242 239.3H1293M909 241.3H918M1182 241.3H1185M1248 241.3H1293M897 243.3H912M1260 243.3H1284M828 245.3H849M1041 245.3H1044M1179 245.3H1182M1038 247.3H1041M1035 249.3H1038M1182 249.3H1185M1029 251.3H1035M1185 251.3H1188M1026 253.3H1029M1188 253.3H1191M1023 255.3H1029M1191 255.3H1194M1026 257.3H1029M1194 257.3H1197M1029 259.3H1032M1194 259.3H1200M846 261.3H852M1035 261.3H1038M1194 261.3H1197M1332 261.3H1344M867 263.3H870M1038 263.3H1041M1194 263.3H1197M1239 263.3H1248M891 265.3H900M1191 265.3H1194M1230 265.3H1236M909 267.3H915M1041 267.3H1044M1191 267.3H1194M1224 267.3H1227M918 269.3H924M1041 269.3H1044M1194 269.3H1197M1218 269.3H1221M927 271.3H933M1197 271.3H1215M939 273.3H957M957 275.3H963M1026 275.3H1029M963 277.3H969M999 277.3H1008M969 279.3H978M990 279.3H996M1260 279.3H1266M1290 279.3H1296M1257 281.3H1260M1299 281.3H1305M1257 283.3H1263M1299 283.3H1305M1266 285.3H1272M1290 285.3H1299M861 301.3H873M888 301.3H894M858 303.3H861M903 303.3H906M858 305.3H864M906 305.3H909M870 307.3H873M900 307.3H906" stroke="#0040ff" stroke-width="2" fill="none"/>
<path d="M1074 179.3H1080M1101 179.3H1107M1065 181.3H1071M1110 181.3H1113M1062 183.3H1065M1116 183.3H1125M1143 183.3H1158M1059 185.3H1065M1062 187.3H1065M1068 189.3H1071M1071 191.3H1074M840 195.3H852M885 195.3H897M1077 195.3H1080M840 197.3H849M897 197.3H909M1080 197.3H1083M843 199.3H852M900 199.3H912M852 201.3H864M897 201.3H909M1083 201.3H1086M870 203.3H897M1083 203.3H1089M1086 205.3H1092M1197 205.3H1218M1077 207.3H1098M1167 207.3H1170M1356 207.3H1358.2M1050 209.3H1059M1080 209.3H1104M1047 211.3H1053M1155 211.3H1158M1050 213.3H1053M1152 213.3H1155M1050 215.3H1056M1152 215.3H1155M1053 217.3H1059M1152 217.3H1155M1056 219.3H1059M1056 221.3H1059M1155 221.3H1158M1053 223.3H1056M1158 223.3H1161M1164 225.3H1167M1203 225.3H1236M1050 227.3H1053M1170 227.3H1242M1047 229.3H1050M1206 229.3H1245M828 231.3H834M870 231.3H885M1200 231.3H1215M888 233.3H903M1194 233.3H1203M897 235.3H918M1044 235.3H1047M1188 235.3H1194M903 237.3H918M1044 237.3H1047M1185 237.3H1188M903 239.3H915M1044 239.3H1047M1182 239.3H1185M894 241.3H909M1044 241.3H1047M1179 241.3H1182M825 243.3H897M1044 243.3H1047M1179 243.3H1182M1041 247.3H1044M1179 247.3H1182M1038 249.3H1041M1035 251.3H1038M1182 251.3H1185M1029 253.3H1032M1185 253.3H1188M1029 255.3H1032M1188 255.3H1191M1029 257.3H1032M1191 257.3H1194M1032 259.3H1035M1191 259.3H1194M825 261.3H846M1191 261.3H1194M1344 261.3H1358.2M861 263.3H867M1191 263.3H1194M1248 263.3H1260M1296 263.3H1323M882 265.3H891M1041 265.3H1044M1236 265.3H1242M903 267.3H909M1227 267.3H1233M912 269.3H918M1191 269.3H1194M1221 269.3H1227M921 271.3H927M1041 271.3H1044M1194 271.3H1197M1215 271.3H1221M930 273.3H939M1038 273.3H1041M948 275.3H957M1029 275.3H1032M957 277.3H963M1008 277.3H1014M1266 277.3H1281M966 279.3H969M996 279.3H1002M1254 279.3H1260M1296 279.3H1302M972 281.3H993M1251 281.3H1257M1305 281.3H1308M1254 283.3H1257M1305 283.3H1308M1260 285.3H1266M1299 285.3H1305M1281 287.3H1284M855 301.3H861M894 301.3H900M852 303.3H858M906 303.3H909M855 305.3H858M909 305.3H912M864 307.3H870M906 307.3H909" stroke="#0050ff" stroke-width="2" fill="none"/>
<path d="M1080 179.3H1101M1071 181.3H1074M1104 181.3H1110M1065 183.3H1068M1110 183.3H1116M1065 185.3H1068M1125 185.3H1134M1065 187.3H1068M1071 189.3H1074M1074 191.3H1077M1077 193.3H1080M852 195.3H885M1080 195.3H1083M849 197.3H861M888 197.3H897M852 199.3H864M891 199.3H900M1083 199.3H1086M864 201.3H897M1086 201.3H1089M1089 203.3H1092M1092 205.3H1095M1182 205.3H1197M1218 205.3H1236M1098 207.3H1104M1164 207.3H1167M1059 209.3H1080M1104 209.3H1113M1158 209.3H1161M1053 211.3H1065M1080 211.3H1113M1053 213.3H1062M1056 215.3H1062M1149 215.3H1152M1059 217.3H1062M1149 217.3H1152M1059 219.3H1062M1152 219.3H1155M1152 221.3H1155M1056 223.3H1059M1155 223.3H1158M1053 225.3H1056M1161 225.3H1164M1164 227.3H1170M1050 229.3H1053M1173 229.3H1206M834 231.3H870M1047 231.3H1050M1185 231.3H1200M825 233.3H831M876 233.3H888M1047 233.3H1050M1185 233.3H1194M885 235.3H897M1182 235.3H1188M888 237.3H903M1182 237.3H1185M825 239.3H828M888 239.3H903M1179 239.3H1182M825 241.3H837M870 241.3H894M1176 243.3H1179M1044 245.3H1047M1176 245.3H1179M1041 249.3H1044M1179 249.3H1182M1038 251.3H1041M1032 253.3H1035M1182 253.3H1185M1032 255.3H1035M1185 255.3H1188M1032 257.3H1035M1188 257.3H1191M1035 259.3H1038M1038 261.3H1041M1188 261.3H1191M855 263.3H861M1041 263.3H1044M1188 263.3H1191M1260 263.3H1296M1323 263.3H1341M876 265.3H882M1188 265.3H1191M1242 265.3H1251M897 267.3H903M1188 267.3H1191M1233 267.3H1239M909 269.3H912M1188 269.3H1191M1227 269.3H1233M915 271.3H921M1191 271.3H1194M1221 271.3H1227M921 273.3H930M1200 273.3H1212M933 275.3H948M1032 275.3H1035M951 277.3H957M1014 277.3H1023M1257 277.3H1266M1281 277.3H1293M960 279.3H966M1002 279.3H1008M1248 279.3H1254M1302 279.3H1308M966 281.3H972M993 281.3H999M1248 281.3H1251M1308 281.3H1314M978 283.3H987M1251 283.3H1254M1308 283.3H1314M1254 285.3H1260M1305 285.3H1308M1266 287.3H1281M1284 287.3H1299M825 299.3H828M861 299.3H885M825 301.3H831M846 301.3H855M900 301.3H906M825 303.3H828M846 303.3H852M909 303.3H915M849 305.3H855M912 305.3H915M861 307.3H864M909 307.3H912M885 309.3H897" stroke="#0060ff" stroke-width="2" fill="none"/>
<path d="M1074 181.3H1080M1098 181.3H1104M1068 183.3H1074M1107 183.3H1110M1068 185.3H1071M1116 185.3H1125M1134 185.3H1302M1068 187.3H1074M1074 189.3H1077M1077 191.3H1080M861 197.3H888M1083 197.3H1086M864 199.3H891M1086 199.3H1089M1092 203.3H1095M1095 205.3H1101M1176 205.3H1182M1236 205.3H1251M1308 205.3H1350M1104 207.3H1110M1161 207.3H1164M1113 209.3H1119M1155 209.3H1158M1065 211.3H1080M1113 211.3H1122M1152 211.3H1155M1062 213.3H1071M1095 213.3H1119M1149 213.3H1152M1062 215.3H1065M1062 217.3H1065M1062 219.3H1065M1149 219.3H1152M1059 221.3H1062M1059 223.3H1062M1152 223.3H1155M1056 225.3H1059M1158 225.3H1161M1053 227.3H1056M1161 227.3H1164M1167 229.3H1173M1050 231.3H1053M1176 231.3H1185M831 233.3H837M867 233.3H876M1179 233.3H1185M825 235.3H831M876 235.3H885M1047 235.3H1050M1179 235.3H1182M825 237.3H831M876 237.3H888M1047 237.3H1050M1179 237.3H1182M828 239.3H837M870 239.3H888M1047 239.3H1050M1176 239.3H1179M837 241.3H870M1047 241.3H1050M1176 241.3H1179M1047 243.3H1050M1044 247.3H1047M1176 247.3H1179M1176 249.3H1179M1179 251.3H1182M1035 253.3H1038M1035 255.3H1038M1035 257.3H1038M1185 257.3H1188M1188 259.3H1191M825 263.3H831M846 263.3H855M1341 263.3H1358.2M870 265.3H876M1044 265.3H1047M1185 265.3H1188M1251 265.3H1257M891 267.3H897M1044 267.3H1047M1185 267.3H1188M1239 267.3H1248M903 269.3H909M1044 269.3H1047M1233 269.3H1239M909 271.3H915M1188 271.3H1191M1227 271.3H1233M915 273.3H921M1194 273.3H1200M1212 273.3H1221M924 275.3H933M1035 275.3H1038M942 277.3H951M1023 277.3H1026M1248 277.3H1257M1293 277.3H1299M954 279.3H960M1008 279.3H1011M1245 279.3H1248M1308 279.3H1311M960 281.3H966M999 281.3H1002M1245 281.3H1248M1314 281.3H1317M969 283.3H978M987 283.3H996M1245 283.3H1251M1314 283.3H1317M1251 285.3H1254M1308 285.3H1314M1260 287.3H1266M1299 287.3H1305M825 297.3H831M828 299.3H861M885 299.3H894M831 301.3H846M906 301.3H909M828 303.3H846M915 303.3H918M825 305.3H828M843 305.3H849M915 305.3H918M855 307.3H861M912 307.3H918M876 309.3H885M897 309.3H906" stroke="#0070ff" stroke-width="2" fill="none"/>
<path d="M1080 181.3H1098M1074 183.3H1077M1101 183.3H1107M1071 185.3H1074M1110 185.3H1116M1302 185.3H1358.2M1074 187.3H1077M1080 193.3H1083M1083 195.3H1086M1086 197.3H1089M1089 201.3H1092M1095 203.3H1098M1101 205.3H1107M1173 205.3H1176M1251 205.3H1308M1350 205.3H1356M1110 207.3H1116M1119 209.3H1122M1122 211.3H1125M1149 211.3H1152M1071 213.3H1095M1119 213.3H1125M1146 213.3H1149M1065 215.3H1074M1146 215.3H1149M1065 217.3H1068M1146 217.3H1149M1065 219.3H1068M1146 219.3H1149M1062 221.3H1065M1149 221.3H1152M1149 223.3H1152M1059 225.3H1062M1155 225.3H1158M1056 227.3H1059M1158 227.3H1161M1053 229.3H1056M1164 229.3H1167M1170 231.3H1176M837 233.3H867M1050 233.3H1053M1173 233.3H1179M831 235.3H837M864 235.3H876M1176 235.3H1179M831 237.3H840M864 237.3H876M1176 237.3H1179M837 239.3H870M1173 241.3H1176M1173 243.3H1176M1047 245.3H1050M1173 245.3H1176M1044 249.3H1047M1041 251.3H1044M1176 251.3H1179M1038 253.3H1041M1179 253.3H1182M1038 255.3H1041M1182 255.3H1185M1038 257.3H1041M1038 259.3H1041M1185 259.3H1188M1041 261.3H1044M1185 261.3H1188M831 263.3H846M1044 263.3H1047M1185 263.3H1188M861 265.3H870M1257 265.3H1266M1305 265.3H1329M885 267.3H891M1248 267.3H1254M900 269.3H903M1185 269.3H1188M1239 269.3H1245M906 271.3H909M1044 271.3H1047M1233 271.3H1242M909 273.3H915M1041 273.3H1044M1191 273.3H1194M1221 273.3H1239M912 275.3H924M1242 275.3H1281M930 277.3H942M1026 277.3H1029M1239 277.3H1248M1299 277.3H1308M948 279.3H954M1011 279.3H1017M1239 279.3H1245M1311 279.3H1317M879 281.3H882M957 281.3H960M1002 281.3H1008M1239 281.3H1245M1317 281.3H1323M963 283.3H969M996 283.3H999M1242 283.3H1245M1317 283.3H1323M978 285.3H987M1245 285.3H1251M1314 285.3H1320M1254 287.3H1260M1305 287.3H1311M825 295.3H831M831 297.3H867M894 299.3H900M909 301.3H915M918 303.3H921M828 305.3H843M918 305.3H921M1356 305.3H1358.2M852 307.3H855M918 307.3H921M1356 307.3H1358.2M870 309.3H876M906 309.3H909" stroke="#0080ff" stroke-width="2" fill="none"/>
<path d="M1077 183.3H1083M1095 183.3H1101M1074 185.3H1080M1104 185.3H1110M1077 187.3H1080M1119 187.3H1137M1077 189.3H1080M1080 191.3H1083M1083 193.3H1086M1089 199.3H1092M1092 201.3H1095M1098 203.3H1101M1107 205.3H1110M1170 205.3H1173M1356 205.3H1358.2M1116 207.3H1119M1158 207.3H1161M1122 209.3H1125M1152 209.3H1155M1125 211.3H1131M1146 211.3H1149M1125 213.3H1134M1140 213.3H1146M1074 215.3H1083M1098 215.3H1128M1140 215.3H1146M1068 217.3H1074M1140 217.3H1146M1068 219.3H1071M1143 219.3H1146M1065 221.3H1068M1146 221.3H1149M1062 223.3H1065M1152 225.3H1155M1155 227.3H1158M1158 229.3H1164M1053 231.3H1056M1164 231.3H1170M1170 233.3H1173M837 235.3H864M1050 235.3H1053M1173 235.3H1176M840 237.3H864M1050 237.3H1053M1173 237.3H1176M1050 239.3H1053M1173 239.3H1176M1050 241.3H1053M1050 243.3H1053M1047 247.3H1050M1173 247.3H1176M1173 249.3H1176M1044 251.3H1047M1041 253.3H1044M1179 255.3H1182M1182 257.3H1185M1041 259.3H1044M1182 259.3H1185M1182 261.3H1185M1182 263.3H1185M825 265.3H831M855 265.3H861M1182 265.3H1185M1266 265.3H1305M1329 265.3H1358.2M879 267.3H885M1182 267.3H1185M1254 267.3H1260M894 269.3H900M1245 269.3H1254M900 271.3H906M1185 271.3H1188M1242 271.3H1251M903 273.3H909M1188 273.3H1191M1239 273.3H1260M903 275.3H912M1038 275.3H1041M1200 275.3H1242M1281 275.3H1296M900 277.3H930M1029 277.3H1032M1233 277.3H1239M1308 277.3H1314M873 279.3H906M939 279.3H948M1017 279.3H1020M1236 279.3H1239M1317 279.3H1323M861 281.3H879M882 281.3H900M951 281.3H957M1008 281.3H1011M1236 281.3H1239M1323 281.3H1329M855 283.3H891M960 283.3H963M999 283.3H1005M1239 283.3H1242M1323 283.3H1329M861 285.3H876M969 285.3H978M987 285.3H996M1242 285.3H1245M1320 285.3H1326M1248 287.3H1254M1311 287.3H1320M1263 289.3H1305M825 293.3H837M831 295.3H846M867 297.3H885M900 299.3H906M915 301.3H918M921 303.3H924M1353 303.3H1358.2M921 305.3H924M1350 305.3H1356M846 307.3H852M921 307.3H924M1269 307.3H1281M1350 307.3H1356M864 309.3H870M909 309.3H915M1266 309.3H1278M1353 309.3H1358.2M1356 311.3H1358.2" stroke="#008fff" stroke-width="2" fill="none"/>
<path d="M1083 183.3H1095M1080 185.3H1083M1101 185.3H1104M1080 187.3H1083M1110 187.3H1119M1137 187.3H1158M1080 189.3H1083M1083 191.3H1086M1086 193.3H1089M1086 195.3H1089M1089 197.3H1092M1092 199.3H1095M1095 201.3H1098M1101 203.3H1104M1110 205.3H1113M1167 205.3H1170M1119 207.3H1122M1155 207.3H1158M1125 209.3H1131M1149 209.3H1152M1131 211.3H1146M1134 213.3H1140M1083 215.3H1098M1128 215.3H1140M1074 217.3H1077M1119 217.3H1140M1071 219.3H1074M1137 219.3H1143M1068 221.3H1071M1143 221.3H1146M1065 223.3H1068M1146 223.3H1149M1062 225.3H1065M1149 225.3H1152M1059 227.3H1062M1152 227.3H1155M1056 229.3H1059M1155 229.3H1158M1161 231.3H1164M1053 233.3H1056M1167 233.3H1170M1170 235.3H1173M1170 237.3H1173M1170 239.3H1173M1170 241.3H1173M1170 243.3H1173M1050 245.3H1053M1170 245.3H1173M1047 249.3H1050M1173 251.3H1176M1044 253.3H1047M1176 253.3H1179M1041 255.3H1044M1041 257.3H1044M1179 257.3H1182M1044 261.3H1047M831 265.3H855M1047 265.3H1050M870 267.3H879M1047 267.3H1050M1260 267.3H1266M888 269.3H894M1047 269.3H1050M1182 269.3H1185M1254 269.3H1257M894 271.3H900M1182 271.3H1185M1251 271.3H1257M897 273.3H903M1185 273.3H1188M1260 273.3H1269M891 275.3H903M1191 275.3H1200M1296 275.3H1305M879 277.3H900M1032 277.3H1035M1224 277.3H1233M1314 277.3H1323M861 279.3H873M906 279.3H939M1020 279.3H1023M1230 279.3H1236M1323 279.3H1329M852 281.3H861M900 281.3H909M945 281.3H951M1011 281.3H1014M1233 281.3H1236M1329 281.3H1335M846 283.3H855M891 283.3H900M954 283.3H960M1005 283.3H1008M1233 283.3H1239M1329 283.3H1335M840 285.3H861M876 285.3H888M963 285.3H969M996 285.3H999M1236 285.3H1242M1326 285.3H1332M837 287.3H870M1239 287.3H1248M1320 287.3H1326M825 289.3H849M1254 289.3H1263M1305 289.3H1314M825 291.3H846M837 293.3H852M1206 293.3H1212M846 295.3H867M1203 295.3H1215M885 297.3H891M1206 297.3H1209M906 299.3H912M1356 299.3H1358.2M918 301.3H921M1353 301.3H1358.2M924 303.3H927M1347 303.3H1353M924 305.3H927M1266 305.3H1287M1347 305.3H1350M825 307.3H846M924 307.3H927M1260 307.3H1269M1281 307.3H1290M1344 307.3H1350M858 309.3H864M915 309.3H918M1254 309.3H1266M1278 309.3H1287M1347 309.3H1353M1251 311.3H1281M1350 311.3H1356M1248 313.3H1272M1356 313.3H1358.2M1248 315.3H1266M1248 317.3H1263M1251 319.3H1257" stroke="#009fff" stroke-width="2" fill="none"/>
<path d="M1083 185.3H1101M1083 187.3H1086M1104 187.3H1110M1158 187.3H1182M1341 187.3H1358.2M1083 189.3H1086M1086 191.3H1089M1089 195.3H1092M1098 201.3H1101M1104 203.3H1107M1335 203.3H1344M1113 205.3H1119M1164 205.3H1167M1122 207.3H1125M1152 207.3H1155M1131 209.3H1134M1146 209.3H1149M1077 217.3H1083M1104 217.3H1119M1074 219.3H1077M1131 219.3H1137M1071 221.3H1074M1137 221.3H1143M1068 223.3H1071M1140 223.3H1146M1065 225.3H1068M1143 225.3H1149M1062 227.3H1065M1149 227.3H1152M1059 229.3H1062M1152 229.3H1155M1056 231.3H1059M1158 231.3H1161M1161 233.3H1167M1053 235.3H1056M1164 235.3H1170M1053 237.3H1056M1167 237.3H1170M1053 239.3H1056M1167 239.3H1170M1167 241.3H1170M1050 247.3H1053M1170 247.3H1173M1170 249.3H1173M1047 251.3H1050M1173 253.3H1176M1044 255.3H1047M1176 255.3H1179M1044 257.3H1047M1044 259.3H1047M1179 259.3H1182M1179 261.3H1182M1047 263.3H1050M1179 263.3H1182M1179 265.3H1182M825 267.3H831M864 267.3H870M1179 267.3H1182M1266 267.3H1272M1302 267.3H1358.2M882 269.3H888M1257 269.3H1263M888 271.3H894M1257 271.3H1266M888 273.3H897M1044 273.3H1047M1269 273.3H1284M882 275.3H891M1041 275.3H1044M1188 275.3H1191M1305 275.3H1317M867 277.3H879M1035 277.3H1038M1212 277.3H1224M1323 277.3H1329M852 279.3H861M1023 279.3H1026M1224 279.3H1230M1329 279.3H1338M840 281.3H852M909 281.3H921M936 281.3H945M1014 281.3H1017M1227 281.3H1233M1335 281.3H1341M831 283.3H846M900 283.3H909M948 283.3H954M1008 283.3H1011M1230 283.3H1233M1335 283.3H1344M825 285.3H840M888 285.3H897M957 285.3H963M999 285.3H1005M1230 285.3H1236M1332 285.3H1341M825 287.3H837M870 287.3H882M969 287.3H996M1233 287.3H1239M1326 287.3H1335M849 289.3H870M1239 289.3H1254M1314 289.3H1326M846 291.3H861M1206 291.3H1218M852 293.3H864M1197 293.3H1206M1212 293.3H1224M867 295.3H879M1197 295.3H1203M1215 295.3H1221M891 297.3H900M1200 297.3H1206M1209 297.3H1221M1356 297.3H1358.2M912 299.3H918M1206 299.3H1212M1350 299.3H1356M921 301.3H927M1344 301.3H1353M927 303.3H930M1266 303.3H1287M1341 303.3H1347M927 305.3H933M1257 305.3H1266M1287 305.3H1293M1338 305.3H1347M927 307.3H930M1251 307.3H1260M1290 307.3H1296M1338 307.3H1344M855 309.3H858M918 309.3H924M1248 309.3H1254M1287 309.3H1293M1341 309.3H1347M888 311.3H903M1245 311.3H1251M1281 311.3H1287M1344 311.3H1350M1242 313.3H1248M1272 313.3H1281M1347 313.3H1356M1239 315.3H1248M1266 315.3H1275M1356 315.3H1358.2M1239 317.3H1248M1263 317.3H1269M1242 319.3H1251M1257 319.3H1269M1245 321.3H1266M1251 323.3H1266M1269 327.3H1287M1272 329.3H1293M1278 331.3H1290" stroke="#00afff" stroke-width="2" fill="none"/>
<path d="M1086 187.3H1104M1182 187.3H1341M1086 189.3H1092M1116 189.3H1131M1089 191.3H1092M1089 193.3H1092M1092 195.3H1095M1092 197.3H1095M1095 199.3H1098M1101 201.3H1104M1107 203.3H1113M1185 203.3H1230M1314 203.3H1335M1344 203.3H1358.2M1119 205.3H1122M1161 205.3H1164M1125 207.3H1131M1149 207.3H1152M1134 209.3H1146M1083 217.3H1104M1077 219.3H1080M1119 219.3H1131M1131 221.3H1137M1137 223.3H1140M1140 225.3H1143M1146 227.3H1149M1149 229.3H1152M1152 231.3H1158M1056 233.3H1059M1158 233.3H1161M1161 235.3H1164M1164 237.3H1167M1164 239.3H1167M1053 241.3H1056M1053 243.3H1056M1167 243.3H1170M1053 245.3H1056M1167 245.3H1170M1167 247.3H1170M1050 249.3H1053M1170 251.3H1173M1047 253.3H1050M1173 255.3H1176M1176 257.3H1179M1176 259.3H1179M1047 261.3H1050M831 267.3H840M849 267.3H864M1272 267.3H1302M873 269.3H882M1179 269.3H1182M1263 269.3H1269M1335 269.3H1358.2M882 271.3H888M1047 271.3H1050M1179 271.3H1182M1266 271.3H1272M882 273.3H888M1182 273.3H1185M1284 273.3H1311M873 275.3H882M1185 275.3H1188M1317 275.3H1329M855 277.3H867M1197 277.3H1212M1329 277.3H1341M840 279.3H852M1026 279.3H1029M1218 279.3H1224M1338 279.3H1353M1356 279.3H1358.2M825 281.3H840M921 281.3H936M1017 281.3H1020M1224 281.3H1227M1341 281.3H1358.2M825 283.3H831M909 283.3H915M942 283.3H948M1011 283.3H1014M1224 283.3H1230M1344 283.3H1358.2M897 285.3H903M951 285.3H957M1005 285.3H1008M1227 285.3H1230M1341 285.3H1358.2M882 287.3H891M960 287.3H969M996 287.3H1002M1224 287.3H1233M1335 287.3H1358.2M870 289.3H879M1215 289.3H1239M1326 289.3H1338M1356 289.3H1358.2M861 291.3H873M1200 291.3H1206M1218 291.3H1323M1356 291.3H1358.2M864 293.3H873M1194 293.3H1197M1224 293.3H1233M1356 293.3H1358.2M879 295.3H885M1194 295.3H1197M1221 295.3H1230M1353 295.3H1358.2M900 297.3H906M1194 297.3H1200M1221 297.3H1227M1347 297.3H1356M918 299.3H921M1200 299.3H1206M1212 299.3H1224M1341 299.3H1350M927 301.3H930M1338 301.3H1344M930 303.3H933M1257 303.3H1266M1287 303.3H1296M1335 303.3H1341M933 305.3H936M1248 305.3H1257M1293 305.3H1299M1332 305.3H1338M930 307.3H933M1245 307.3H1251M1296 307.3H1302M1332 307.3H1338M849 309.3H855M924 309.3H927M1239 309.3H1248M1293 309.3H1299M1332 309.3H1341M879 311.3H888M903 311.3H912M1236 311.3H1245M1287 311.3H1296M1338 311.3H1344M1236 313.3H1242M1281 313.3H1290M1341 313.3H1347M1233 315.3H1239M1275 315.3H1281M1347 315.3H1356M1233 317.3H1239M1269 317.3H1278M1356 317.3H1358.2M1236 319.3H1242M1269 319.3H1275M1239 321.3H1245M1266 321.3H1275M1242 323.3H1251M1266 323.3H1281M1251 325.3H1293M1257 327.3H1269M1287 327.3H1299M1263 329.3H1272M1293 329.3H1302M1269 331.3H1278M1290 331.3H1302M1278 333.3H1293" stroke="#00bfff" stroke-width="2" fill="none"/>
<path d="M1092 189.3H1116M1131 189.3H1146M1092 191.3H1095M1092 193.3H1095M1095 197.3H1098M1098 199.3H1101M1104 201.3H1107M1113 203.3H1116M1176 203.3H1185M1230 203.3H1248M1296 203.3H1314M1122 205.3H1125M1158 205.3H1161M1131 207.3H1134M1146 207.3H1149M1080 219.3H1083M1110 219.3H1119M1074 221.3H1077M1125 221.3H1131M1071 223.3H1074M1134 223.3H1137M1068 225.3H1071M1137 225.3H1140M1065 227.3H1068M1140 227.3H1146M1062 229.3H1065M1146 229.3H1149M1059 231.3H1062M1149 231.3H1152M1155 233.3H1158M1056 235.3H1059M1158 235.3H1161M1056 237.3H1059M1161 237.3H1164M1164 241.3H1167M1164 243.3H1167M1053 247.3H1056M1167 249.3H1170M1050 251.3H1053M1170 253.3H1173M1047 255.3H1050M1047 257.3H1050M1173 257.3H1176M1047 259.3H1050M1176 261.3H1179M1176 263.3H1179M1050 265.3H1053M1176 265.3H1179M840 267.3H849M1050 267.3H1053M1176 267.3H1179M825 269.3H834M864 269.3H873M1269 269.3H1278M1296 269.3H1335M873 271.3H882M1272 271.3H1287M1296 271.3H1358.2M873 273.3H882M1179 273.3H1182M1311 273.3H1347M1353 273.3H1358.2M861 275.3H873M1182 275.3H1185M1329 275.3H1358.2M840 277.3H855M1038 277.3H1041M1188 277.3H1197M1341 277.3H1358.2M825 279.3H840M1029 279.3H1032M1212 279.3H1218M1353 279.3H1356M1020 281.3H1023M1218 281.3H1224M915 283.3H942M1014 283.3H1017M1221 283.3H1224M903 285.3H912M945 285.3H951M1008 285.3H1011M1221 285.3H1227M891 287.3H900M954 287.3H960M1002 287.3H1005M1215 287.3H1224M879 289.3H888M966 289.3H996M1203 289.3H1215M1338 289.3H1356M873 291.3H882M1194 291.3H1200M1323 291.3H1356M873 293.3H882M1191 293.3H1194M1233 293.3H1245M1338 293.3H1356M885 295.3H894M1191 295.3H1194M1230 295.3H1239M1338 295.3H1353M906 297.3H912M1227 297.3H1236M1335 297.3H1347M921 299.3H927M1194 299.3H1200M1224 299.3H1233M1332 299.3H1341M930 301.3H936M1200 301.3H1227M1257 301.3H1296M1329 301.3H1338M933 303.3H939M1245 303.3H1257M1296 303.3H1305M1323 303.3H1335M936 305.3H939M1239 305.3H1248M1299 305.3H1314M1317 305.3H1332M933 307.3H936M1236 307.3H1245M1302 307.3H1332M825 309.3H831M840 309.3H849M927 309.3H930M1233 309.3H1239M1299 309.3H1308M1323 309.3H1332M870 311.3H879M912 311.3H918M1230 311.3H1236M1296 311.3H1302M1329 311.3H1338M1230 313.3H1236M1290 313.3H1296M1332 313.3H1341M1227 315.3H1233M1281 315.3H1290M1338 315.3H1347M1227 317.3H1233M1278 317.3H1284M1347 317.3H1356M1230 319.3H1236M1275 319.3H1284M1356 319.3H1358.2M1233 321.3H1239M1275 321.3H1287M1236 323.3H1242M1281 323.3H1293M1242 325.3H1251M1293 325.3H1302M1251 327.3H1257M1299 327.3H1308M1257 329.3H1263M1302 329.3H1308M1263 331.3H1269M1302 331.3H1308M1269 333.3H1278M1293 333.3H1305M1284 335.3H1290" stroke="#00cfff" stroke-width="2" fill="none"/>
<path d="M1146 189.3H1161M1095 191.3H1101M1095 193.3H1098M1095 195.3H1098M1098 197.3H1101M1101 199.3H1104M1107 201.3H1110M1116 203.3H1119M1170 203.3H1176M1248 203.3H1296M1125 205.3H1128M1155 205.3H1158M1134 207.3H1146M1083 219.3H1089M1101 219.3H1110M1077 221.3H1080M1119 221.3H1125M1074 223.3H1077M1128 223.3H1134M1134 225.3H1137M1137 227.3H1140M1143 229.3H1146M1062 231.3H1065M1146 231.3H1149M1059 233.3H1062M1152 233.3H1155M1155 235.3H1158M1158 237.3H1161M1056 239.3H1059M1161 239.3H1164M1056 241.3H1059M1161 241.3H1164M1056 243.3H1059M1164 245.3H1167M1164 247.3H1167M1053 249.3H1056M1053 251.3H1056M1167 251.3H1170M1050 253.3H1053M1050 255.3H1053M1170 255.3H1173M1173 259.3H1176M1050 261.3H1053M1050 263.3H1053M834 269.3H864M1050 269.3H1053M1176 269.3H1179M1278 269.3H1296M825 271.3H834M864 271.3H873M1176 271.3H1179M1287 271.3H1296M825 273.3H831M861 273.3H873M1047 273.3H1050M1347 273.3H1353M825 275.3H861M1044 275.3H1047M1179 275.3H1182M825 277.3H840M1182 277.3H1188M1032 279.3H1035M1206 279.3H1212M1023 281.3H1026M1215 281.3H1218M1017 283.3H1020M1218 283.3H1221M912 285.3H921M936 285.3H945M1011 285.3H1014M1215 285.3H1221M900 287.3H906M948 287.3H954M1005 287.3H1011M1209 287.3H1215M888 289.3H894M957 289.3H966M996 289.3H1005M1197 289.3H1203M882 291.3H888M1191 291.3H1194M882 293.3H888M1245 293.3H1338M894 295.3H900M1239 295.3H1251M1311 295.3H1338M912 297.3H921M1191 297.3H1194M1236 297.3H1248M1320 297.3H1335M927 299.3H933M1191 299.3H1194M1233 299.3H1299M1317 299.3H1332M936 301.3H939M1197 301.3H1200M1227 301.3H1257M1296 301.3H1329M939 303.3H942M1203 303.3H1245M1305 303.3H1323M939 305.3H942M1218 305.3H1239M1314 305.3H1317M936 307.3H939M1224 307.3H1236M831 309.3H840M930 309.3H936M1224 309.3H1233M1308 309.3H1323M864 311.3H870M918 311.3H924M1005 311.3H1011M1224 311.3H1230M1302 311.3H1329M1002 313.3H1014M1221 313.3H1230M1296 313.3H1308M1320 313.3H1332M1002 315.3H1014M1221 315.3H1227M1290 315.3H1299M1329 315.3H1338M1002 317.3H1014M1218 317.3H1227M1284 317.3H1293M1335 317.3H1347M1221 319.3H1230M1284 319.3H1293M1347 319.3H1356M1224 321.3H1233M1287 321.3H1299M1356 321.3H1358.2M1230 323.3H1236M1293 323.3H1308M1236 325.3H1242M1302 325.3H1311M1242 327.3H1251M1308 327.3H1314M1251 329.3H1257M1308 329.3H1317M1257 331.3H1263M1308 331.3H1314M1263 333.3H1269M1305 333.3H1314M1272 335.3H1284M1290 335.3H1305" stroke="#00dfff" stroke-width="2" fill="none"/>
<path d="M1161 189.3H1176M1332 189.3H1358.2M1101 191.3H1125M1098 193.3H1101M1098 195.3H1101M1101 197.3H1104M1104 199.3H1107M1110 201.3H1113M1119 203.3H1122M1164 203.3H1170M1128 205.3H1134M1152 205.3H1155M1089 219.3H1101M1080 221.3H1083M1113 221.3H1119M1122 223.3H1128M1071 225.3H1074M1128 225.3H1134M1068 227.3H1071M1134 227.3H1137M1065 229.3H1068M1137 229.3H1143M1143 231.3H1146M1146 233.3H1152M1059 235.3H1062M1152 235.3H1155M1059 237.3H1062M1155 237.3H1158M1158 239.3H1161M1161 243.3H1164M1056 245.3H1059M1161 245.3H1164M1056 247.3H1059M1164 249.3H1167M1053 253.3H1056M1167 253.3H1170M1050 257.3H1053M1170 257.3H1173M1050 259.3H1053M1173 261.3H1176M1173 263.3H1176M1173 265.3H1176M834 271.3H864M1050 271.3H1053M831 273.3H861M1176 273.3H1179M1041 277.3H1044M1179 277.3H1182M1035 279.3H1038M1185 279.3H1206M1026 281.3H1029M1209 281.3H1215M1020 283.3H1023M1212 283.3H1218M921 285.3H936M1014 285.3H1017M1209 285.3H1215M906 287.3H915M939 287.3H948M1011 287.3H1014M1200 287.3H1209M894 289.3H903M948 289.3H957M1005 289.3H1011M1191 289.3H1197M888 291.3H897M963 291.3H1002M1188 291.3H1191M888 293.3H897M1188 293.3H1191M900 295.3H909M1188 295.3H1191M1251 295.3H1311M921 297.3H930M1188 297.3H1191M1248 297.3H1320M933 299.3H939M1299 299.3H1317M939 301.3H945M1194 301.3H1197M942 303.3H945M1197 303.3H1203M942 305.3H945M1203 305.3H1218M939 307.3H945M1008 307.3H1011M1212 307.3H1224M936 309.3H939M1002 309.3H1017M1215 309.3H1224M858 311.3H864M924 311.3H930M999 311.3H1005M1011 311.3H1017M1215 311.3H1224M996 313.3H1002M1014 313.3H1020M1212 313.3H1221M1308 313.3H1320M996 315.3H1002M1014 315.3H1020M1209 315.3H1221M1299 315.3H1329M996 317.3H1002M1014 317.3H1017M1206 317.3H1218M1293 317.3H1335M999 319.3H1014M1206 319.3H1221M1293 319.3H1314M1326 319.3H1347M1209 321.3H1224M1299 321.3H1317M1341 321.3H1356M1215 323.3H1230M1308 323.3H1320M1356 323.3H1358.2M1227 325.3H1236M1311 325.3H1323M1236 327.3H1242M1314 327.3H1323M1245 329.3H1251M1317 329.3H1323M1251 331.3H1257M1314 331.3H1323M1257 333.3H1263M1314 333.3H1320M1266 335.3H1272M1305 335.3H1317M1275 337.3H1305M1281 391.3H1296" stroke="#00efff" stroke-width="2" fill="none"/>
<path d="M1176 189.3H1185M1287 189.3H1332M1125 191.3H1140M1101 193.3H1107M1101 195.3H1104M1104 197.3H1107M1107 199.3H1110M1113 201.3H1116M1329 201.3H1358.2M1122 203.3H1125M1161 203.3H1164M1134 205.3H1140M1143 205.3H1152M1083 221.3H1089M1107 221.3H1113M1077 223.3H1080M1119 223.3H1122M1074 225.3H1077M1125 225.3H1128M1071 227.3H1074M1131 227.3H1134M1068 229.3H1071M1134 229.3H1137M1065 231.3H1068M1140 231.3H1143M1062 233.3H1065M1143 233.3H1146M1149 235.3H1152M1152 237.3H1155M1059 239.3H1062M1155 239.3H1158M1059 241.3H1062M1158 241.3H1161M1158 243.3H1161M1161 247.3H1164M1056 249.3H1059M1056 251.3H1059M1164 251.3H1167M1053 255.3H1056M1167 255.3H1170M1170 259.3H1173M1170 261.3H1173M1173 267.3H1176M1173 269.3H1176M1173 271.3H1176M1176 275.3H1179M1176 277.3H1179M1179 279.3H1185M1029 281.3H1032M1200 281.3H1209M1023 283.3H1026M1206 283.3H1212M1017 285.3H1020M1200 285.3H1209M915 287.3H939M1014 287.3H1017M1191 287.3H1200M903 289.3H912M939 289.3H948M1011 289.3H1014M1188 289.3H1191M897 291.3H903M948 291.3H963M1002 291.3H1011M1185 291.3H1188M897 293.3H906M993 293.3H1002M1185 293.3H1188M909 295.3H924M1185 295.3H1188M930 297.3H942M1185 297.3H1188M939 299.3H945M1188 299.3H1191M945 301.3H948M1191 301.3H1194M945 303.3H951M1194 303.3H1197M945 305.3H951M1005 305.3H1017M1197 305.3H1203M945 307.3H948M999 307.3H1008M1011 307.3H1020M1203 307.3H1212M939 309.3H945M996 309.3H1002M1017 309.3H1020M1206 309.3H1215M852 311.3H858M930 311.3H936M993 311.3H999M1017 311.3H1020M1206 311.3H1215M900 313.3H909M993 313.3H996M1020 313.3H1023M1203 313.3H1212M990 315.3H996M1203 315.3H1209M990 317.3H996M1017 317.3H1020M1200 317.3H1206M993 319.3H999M1014 319.3H1020M1200 319.3H1206M1314 319.3H1326M999 321.3H1014M1203 321.3H1209M1317 321.3H1341M1203 323.3H1215M1320 323.3H1356M1209 325.3H1227M1323 325.3H1335M1350 325.3H1358.2M1227 327.3H1236M1323 327.3H1332M1236 329.3H1245M1323 329.3H1332M1245 331.3H1251M1323 331.3H1329M1254 333.3H1257M1320 333.3H1329M1260 335.3H1266M1317 335.3H1326M1269 337.3H1275M1305 337.3H1320M1356 337.3H1358.2M1353 339.3H1358.2M1353 341.3H1358.2M1356 343.3H1358.2M1266 391.3H1281M1296 391.3H1358.2" stroke="#00ffff" stroke-width="2" fill="none"/>
<path d="M1185 189.3H1206M1218 189.3H1287M1140 191.3H1152M1356 191.3H1358.2M1107 193.3H1116M1104 195.3H1110M1107 197.3H1110M1110 199.3H1113M1116 201.3H1119M1311 201.3H1329M1125 203.3H1131M1155 203.3H1161M1140 205.3H1143M1089 221.3H1107M1080 223.3H1083M1113 223.3H1119M1077 225.3H1080M1122 225.3H1125M1125 227.3H1131M1131 229.3H1134M1137 231.3H1140M1140 233.3H1143M1062 235.3H1065M1146 235.3H1149M1149 237.3H1152M1152 239.3H1155M1155 241.3H1158M1059 243.3H1062M1059 245.3H1062M1158 245.3H1161M1059 247.3H1062M1161 249.3H1164M1056 253.3H1059M1164 253.3H1167M1053 257.3H1056M1167 257.3H1170M1053 259.3H1056M1053 261.3H1056M1053 263.3H1056M1170 263.3H1173M1053 265.3H1056M1053 267.3H1056M1050 273.3H1053M1173 273.3H1176M1047 275.3H1050M1173 275.3H1176M1044 277.3H1047M1038 279.3H1041M1176 279.3H1179M1032 281.3H1035M1179 281.3H1200M1185 283.3H1206M1020 285.3H1023M1188 285.3H1200M1017 287.3H1020M1185 287.3H1191M912 289.3H939M1014 289.3H1017M1185 289.3H1188M903 291.3H918M933 291.3H948M1011 291.3H1017M906 293.3H924M930 293.3H993M1002 293.3H1014M924 295.3H957M996 295.3H1014M942 297.3H954M1002 297.3H1014M945 299.3H954M1005 299.3H1017M1185 299.3H1188M948 301.3H954M1002 301.3H1017M1188 301.3H1191M951 303.3H954M999 303.3H1020M1191 303.3H1194M951 305.3H954M996 305.3H1005M1017 305.3H1023M1194 305.3H1197M948 307.3H954M993 307.3H999M1020 307.3H1023M1197 307.3H1203M945 309.3H951M993 309.3H996M1020 309.3H1023M1200 309.3H1206M825 311.3H834M837 311.3H852M936 311.3H942M990 311.3H993M1020 311.3H1023M1200 311.3H1206M885 313.3H900M909 313.3H924M987 313.3H993M1200 313.3H1203M987 315.3H990M1020 315.3H1023M1197 315.3H1203M987 317.3H990M1020 317.3H1023M1197 317.3H1200M987 319.3H993M1020 319.3H1023M1197 319.3H1200M990 321.3H999M1014 321.3H1020M1197 321.3H1203M999 323.3H1014M1200 323.3H1203M1200 325.3H1209M1335 325.3H1350M1206 327.3H1227M1332 327.3H1358.2M1227 329.3H1236M1332 329.3H1358.2M1239 331.3H1245M1329 331.3H1344M1350 331.3H1358.2M1248 333.3H1254M1329 333.3H1358.2M1254 335.3H1260M1326 335.3H1358.2M1260 337.3H1269M1320 337.3H1356M948 339.3H954M1272 339.3H1353M942 341.3H963M1335 341.3H1353M945 343.3H960M1341 343.3H1356M1350 345.3H1358.2M1278 389.3H1358.2M1260 391.3H1266" stroke="#10ffef" stroke-width="2" fill="none"/>
<path d="M1206 189.3H1218M1152 191.3H1164M1341 191.3H1356M1116 193.3H1128M1110 195.3H1113M1110 197.3H1113M1113 199.3H1116M1119 201.3H1125M1296 201.3H1311M1131 203.3H1134M1152 203.3H1155M1083 223.3H1086M1107 223.3H1113M1116 225.3H1122M1074 227.3H1077M1122 227.3H1125M1071 229.3H1074M1128 229.3H1131M1068 231.3H1071M1134 231.3H1137M1065 233.3H1068M1137 233.3H1140M1143 235.3H1146M1062 237.3H1065M1146 237.3H1149M1062 239.3H1065M1149 239.3H1152M1152 241.3H1155M1155 243.3H1158M1158 247.3H1161M1059 249.3H1062M1161 251.3H1164M1056 255.3H1059M1164 255.3H1167M1167 259.3H1170M1167 261.3H1170M1170 265.3H1173M1170 267.3H1173M1053 269.3H1056M1170 269.3H1173M1173 277.3H1176M1173 279.3H1176M1176 281.3H1179M1026 283.3H1029M1179 283.3H1185M1023 285.3H1026M1179 285.3H1188M1020 287.3H1023M1182 287.3H1185M1017 289.3H1020M1182 289.3H1185M918 291.3H933M1017 291.3H1020M1182 291.3H1185M924 293.3H930M1014 293.3H1020M1182 293.3H1185M957 295.3H996M1014 295.3H1020M1182 295.3H1185M954 297.3H966M993 297.3H1002M1014 297.3H1020M1182 297.3H1185M954 299.3H963M996 299.3H1005M1017 299.3H1023M954 301.3H960M996 301.3H1002M1017 301.3H1023M1185 301.3H1188M954 303.3H960M993 303.3H999M1020 303.3H1026M1188 303.3H1191M954 305.3H960M993 305.3H996M1023 305.3H1026M1191 305.3H1194M954 307.3H960M990 307.3H993M1023 307.3H1026M1194 307.3H1197M951 309.3H957M987 309.3H993M1023 309.3H1026M1194 309.3H1200M834 311.3H837M942 311.3H951M984 311.3H990M1023 311.3H1026M1194 311.3H1200M876 313.3H885M924 313.3H933M981 313.3H987M1023 313.3H1026M1194 313.3H1200M981 315.3H987M1023 315.3H1026M1194 315.3H1197M981 317.3H987M1023 317.3H1026M1194 317.3H1197M984 319.3H987M1194 319.3H1197M987 321.3H990M1020 321.3H1023M1194 321.3H1197M990 323.3H999M1014 323.3H1020M1197 323.3H1200M999 325.3H1011M1197 325.3H1200M1200 327.3H1206M1206 329.3H1227M909 331.3H921M1227 331.3H1239M1344 331.3H1350M1239 333.3H1248M1248 335.3H1254M933 337.3H960M1254 337.3H1260M933 339.3H948M954 339.3H972M1263 339.3H1272M936 341.3H942M963 341.3H975M1275 341.3H1335M936 343.3H945M960 343.3H972M1326 343.3H1341M939 345.3H963M1338 345.3H1350M1347 347.3H1358.2M1266 389.3H1278M1254 391.3H1260M1269 393.3H1314" stroke="#20ffdf" stroke-width="2" fill="none"/>
<path d="M1164 191.3H1173M1317 191.3H1341M1128 193.3H1140M1113 195.3H1119M1113 197.3H1116M1116 199.3H1122M1341 199.3H1358.2M1125 201.3H1128M1167 201.3H1251M1272 201.3H1296M1134 203.3H1152M1086 223.3H1092M1101 223.3H1107M1080 225.3H1083M1113 225.3H1116M1077 227.3H1080M1119 227.3H1122M1125 229.3H1128M1128 231.3H1134M1134 233.3H1137M1065 235.3H1068M1140 235.3H1143M1143 237.3H1146M1146 239.3H1149M1062 241.3H1065M1062 243.3H1065M1152 243.3H1155M1062 245.3H1065M1155 245.3H1158M1158 249.3H1161M1059 251.3H1062M1059 253.3H1062M1161 253.3H1164M1056 257.3H1059M1164 257.3H1167M1056 259.3H1059M1056 261.3H1059M1167 263.3H1170M1053 271.3H1056M1170 271.3H1173M1170 273.3H1173M1170 275.3H1173M1170 277.3H1173M1041 279.3H1044M1035 281.3H1038M1173 281.3H1176M1029 283.3H1032M1176 283.3H1179M1026 285.3H1029M1176 285.3H1179M1023 287.3H1026M1179 287.3H1182M1020 289.3H1023M1179 289.3H1182M1020 291.3H1023M1179 291.3H1182M1020 293.3H1023M1179 293.3H1182M1020 295.3H1023M1179 295.3H1182M966 297.3H993M1020 297.3H1026M963 299.3H975M984 299.3H996M1023 299.3H1026M1182 299.3H1185M960 301.3H969M987 301.3H996M1023 301.3H1026M1182 301.3H1185M960 303.3H969M987 303.3H993M1026 303.3H1029M1185 303.3H1188M960 305.3H969M984 305.3H993M1026 305.3H1029M1188 305.3H1191M960 307.3H969M981 307.3H990M1026 307.3H1029M1188 307.3H1194M957 309.3H969M975 309.3H987M1026 309.3H1029M1191 309.3H1194M951 311.3H966M972 311.3H984M1026 311.3H1029M1191 311.3H1194M870 313.3H876M933 313.3H951M972 313.3H981M1026 313.3H1029M1191 313.3H1194M972 315.3H981M1026 315.3H1029M1191 315.3H1194M975 317.3H981M1191 317.3H1194M978 319.3H984M1023 319.3H1026M1191 319.3H1194M981 321.3H987M1023 321.3H1026M1191 321.3H1194M984 323.3H990M1020 323.3H1023M1194 323.3H1197M990 325.3H999M1011 325.3H1017M1194 325.3H1197M1197 327.3H1200M903 329.3H927M1200 329.3H1206M903 331.3H909M921 331.3H933M1206 331.3H1227M909 333.3H942M1230 333.3H1239M921 335.3H963M1239 335.3H1248M927 337.3H933M960 337.3H1008M1248 337.3H1254M930 339.3H933M972 339.3H1011M1254 339.3H1263M930 341.3H936M975 341.3H1011M1263 341.3H1275M930 343.3H936M972 343.3H1008M1302 343.3H1326M933 345.3H939M963 345.3H972M1326 345.3H1338M936 347.3H960M1335 347.3H1347M1347 349.3H1358.2M1356 387.3H1358.2M1257 389.3H1266M1251 391.3H1254M1260 393.3H1269M1314 393.3H1358.2" stroke="#30ffcf" stroke-width="2" fill="none"/>
<path d="M1173 191.3H1182M1290 191.3H1317M1140 193.3H1152M1347 193.3H1358.2M1119 195.3H1128M1116 197.3H1122M1356 197.3H1358.2M1122 199.3H1125M1326 199.3H1341M1128 201.3H1134M1158 201.3H1167M1251 201.3H1272M1092 223.3H1101M1083 225.3H1086M1107 225.3H1113M1116 227.3H1119M1074 229.3H1077M1122 229.3H1125M1071 231.3H1074M1125 231.3H1128M1068 233.3H1071M1131 233.3H1134M1137 235.3H1140M1065 237.3H1068M1140 237.3H1143M1065 239.3H1068M1149 241.3H1152M1152 245.3H1155M1062 247.3H1065M1155 247.3H1158M1062 249.3H1065M1158 251.3H1161M1059 255.3H1062M1161 255.3H1164M1164 259.3H1167M1164 261.3H1167M1056 263.3H1059M1056 265.3H1059M1167 265.3H1170M1167 267.3H1170M1050 275.3H1053M1047 277.3H1050M1170 279.3H1173M1038 281.3H1041M1170 281.3H1173M1032 283.3H1035M1173 283.3H1176M1173 285.3H1176M1026 287.3H1029M1176 287.3H1179M1023 289.3H1026M1176 289.3H1179M1023 291.3H1026M1023 293.3H1026M1023 295.3H1029M1026 297.3H1029M1179 297.3H1182M975 299.3H984M1026 299.3H1029M1179 299.3H1182M969 301.3H987M1026 301.3H1029M969 303.3H987M1029 303.3H1032M1182 303.3H1185M969 305.3H984M1029 305.3H1032M1185 305.3H1188M969 307.3H981M1029 307.3H1032M1185 307.3H1188M969 309.3H975M1029 309.3H1032M1188 309.3H1191M966 311.3H972M1188 311.3H1191M861 313.3H870M951 313.3H972M1188 313.3H1191M912 315.3H924M951 315.3H972M1188 315.3H1191M963 317.3H975M1026 317.3H1029M1188 317.3H1191M969 319.3H978M1026 319.3H1029M972 321.3H981M975 323.3H984M1023 323.3H1026M1191 323.3H1194M981 325.3H990M1017 325.3H1023M1191 325.3H1194M906 327.3H924M984 327.3H1017M1194 327.3H1197M900 329.3H903M927 329.3H936M990 329.3H1008M1197 329.3H1200M897 331.3H903M933 331.3H945M993 331.3H999M1200 331.3H1206M903 333.3H909M942 333.3H963M975 333.3H1005M1209 333.3H1230M912 335.3H921M963 335.3H1011M1230 335.3H1239M921 337.3H927M1008 337.3H1014M1239 337.3H1248M924 339.3H930M1011 339.3H1017M1248 339.3H1254M927 341.3H930M1011 341.3H1014M1254 341.3H1263M927 343.3H930M1008 343.3H1014M1260 343.3H1302M927 345.3H933M972 345.3H1005M1311 345.3H1326M930 347.3H936M960 347.3H969M1326 347.3H1335M933 349.3H954M1335 349.3H1347M1248 351.3H1257M1344 351.3H1358.2M1326 387.3H1356M1254 389.3H1257M1248 391.3H1251M1254 393.3H1260" stroke="#40ffbf" stroke-width="2" fill="none"/>
<path d="M1182 191.3H1191M1260 191.3H1290M1152 193.3H1161M1332 193.3H1347M1128 195.3H1137M1350 195.3H1358.2M1122 197.3H1128M1344 197.3H1356M1125 199.3H1131M1311 199.3H1326M1134 201.3H1158M1086 225.3H1092M1101 225.3H1107M1080 227.3H1083M1110 227.3H1116M1077 229.3H1080M1116 229.3H1122M1074 231.3H1077M1122 231.3H1125M1071 233.3H1074M1128 233.3H1131M1068 235.3H1071M1134 235.3H1137M1137 237.3H1140M1143 239.3H1146M1065 241.3H1068M1146 241.3H1149M1065 243.3H1068M1149 243.3H1152M1152 247.3H1155M1155 249.3H1158M1062 251.3H1065M1062 253.3H1065M1158 253.3H1161M1059 257.3H1062M1161 257.3H1164M1059 259.3H1062M1164 263.3H1167M1056 267.3H1059M1167 269.3H1170M1167 271.3H1170M1053 273.3H1056M1167 273.3H1170M1167 275.3H1170M1167 277.3H1170M1044 279.3H1047M1035 283.3H1038M1170 283.3H1173M1029 285.3H1032M1173 287.3H1176M1026 289.3H1029M1026 291.3H1029M1176 291.3H1179M1026 293.3H1029M1176 293.3H1179M1029 295.3H1032M1176 295.3H1179M1029 297.3H1032M1029 299.3H1032M1029 301.3H1032M1179 301.3H1182M1179 303.3H1182M1182 305.3H1185M1182 307.3H1185M1185 309.3H1188M1029 311.3H1032M1185 311.3H1188M825 313.3H834M846 313.3H861M1029 313.3H1032M1185 313.3H1188M897 315.3H912M924 315.3H951M1029 315.3H1032M948 317.3H963M1029 317.3H1032M957 319.3H969M1188 319.3H1191M963 321.3H972M1026 321.3H1029M1188 321.3H1191M966 323.3H975M1026 323.3H1029M1188 323.3H1191M969 325.3H981M1023 325.3H1026M900 327.3H906M924 327.3H936M972 327.3H984M1017 327.3H1023M1191 327.3H1194M894 329.3H900M936 329.3H948M972 329.3H990M1008 329.3H1020M1194 329.3H1197M894 331.3H897M945 331.3H993M999 331.3H1017M1197 331.3H1200M900 333.3H903M963 333.3H975M1005 333.3H1017M1200 333.3H1209M906 335.3H912M1011 335.3H1017M1212 335.3H1230M915 337.3H921M1014 337.3H1020M1227 337.3H1239M921 339.3H924M1017 339.3H1020M1236 339.3H1248M924 341.3H927M1014 341.3H1017M1242 341.3H1254M924 343.3H927M1014 343.3H1017M1245 343.3H1260M924 345.3H927M1005 345.3H1014M1245 345.3H1311M924 347.3H930M969 347.3H981M1239 347.3H1281M1311 347.3H1326M924 349.3H933M954 349.3H963M1236 349.3H1272M1323 349.3H1335M933 351.3H939M1236 351.3H1248M1257 351.3H1269M1335 351.3H1344M1236 353.3H1269M1344 353.3H1358.2M1239 355.3H1263M1275 387.3H1326M1251 389.3H1254M1245 391.3H1248M1251 393.3H1254" stroke="#50ffaf" stroke-width="2" fill="none"/>
<path d="M1191 191.3H1260M1161 193.3H1170M1311 193.3H1332M1137 195.3H1149M1335 195.3H1350M1128 197.3H1137M1329 197.3H1344M1131 199.3H1140M1296 199.3H1311M1092 225.3H1101M1083 227.3H1086M1107 227.3H1110M1080 229.3H1083M1113 229.3H1116M1119 231.3H1122M1125 233.3H1128M1128 235.3H1134M1068 237.3H1071M1134 237.3H1137M1068 239.3H1071M1140 239.3H1143M1143 241.3H1146M1146 243.3H1149M1065 245.3H1068M1149 245.3H1152M1065 247.3H1068M1152 249.3H1155M1155 251.3H1158M1155 253.3H1158M1062 255.3H1065M1158 255.3H1161M1161 259.3H1164M1059 261.3H1062M1161 261.3H1164M1164 265.3H1167M1164 267.3H1167M1056 269.3H1059M1167 279.3H1170M1041 281.3H1044M1167 281.3H1170M1032 285.3H1035M1170 285.3H1173M1029 287.3H1032M1170 287.3H1173M1029 289.3H1032M1173 289.3H1176M1029 291.3H1032M1173 291.3H1176M1029 293.3H1032M1032 297.3H1035M1176 297.3H1179M1032 299.3H1035M1176 299.3H1179M1032 301.3H1035M1176 301.3H1179M1032 303.3H1035M1032 305.3H1035M1179 305.3H1182M1032 307.3H1035M1179 307.3H1182M1032 309.3H1035M1182 309.3H1185M1032 311.3H1035M1182 311.3H1185M834 313.3H846M891 315.3H897M1185 315.3H1188M930 317.3H948M1185 317.3H1188M945 319.3H957M1029 319.3H1032M1185 319.3H1188M951 321.3H963M1029 321.3H1032M1185 321.3H1188M954 323.3H966M906 325.3H939M954 325.3H969M1026 325.3H1029M1188 325.3H1191M897 327.3H900M936 327.3H972M1023 327.3H1026M1188 327.3H1191M891 329.3H894M948 329.3H972M1020 329.3H1026M1191 329.3H1194M891 331.3H894M1017 331.3H1023M1194 331.3H1197M897 333.3H900M1017 333.3H1023M1197 333.3H1200M903 335.3H906M1017 335.3H1023M1203 335.3H1212M912 337.3H915M1020 337.3H1023M1215 337.3H1227M918 339.3H921M1020 339.3H1023M1224 339.3H1236M921 341.3H924M1017 341.3H1020M1230 341.3H1242M921 343.3H924M1017 343.3H1020M1233 343.3H1245M921 345.3H924M1014 345.3H1017M1233 345.3H1245M921 347.3H924M981 347.3H1011M1230 347.3H1239M1281 347.3H1311M918 349.3H924M963 349.3H975M1227 349.3H1236M1272 349.3H1287M1311 349.3H1323M918 351.3H933M939 351.3H957M1224 351.3H1236M1269 351.3H1281M1323 351.3H1335M1221 353.3H1236M1269 353.3H1278M1332 353.3H1344M1227 355.3H1239M1263 355.3H1272M1341 355.3H1358.2M1239 357.3H1266M1350 357.3H1358.2M1344 385.3H1358.2M1260 387.3H1275M1245 389.3H1251M1242 391.3H1245M1248 393.3H1251" stroke="#60ff9f" stroke-width="2" fill="none"/>
<path d="M1170 193.3H1176M1293 193.3H1311M1149 195.3H1158M1320 195.3H1335M1137 197.3H1149M1317 197.3H1329M1140 199.3H1188M1281 199.3H1296M1086 227.3H1092M1101 227.3H1107M1110 229.3H1113M1077 231.3H1080M1116 231.3H1119M1074 233.3H1077M1122 233.3H1125M1071 235.3H1074M1125 235.3H1128M1131 237.3H1134M1137 239.3H1140M1068 241.3H1071M1140 241.3H1143M1143 243.3H1146M1146 245.3H1149M1149 247.3H1152M1065 249.3H1068M1065 251.3H1068M1152 251.3H1155M1155 255.3H1158M1062 257.3H1065M1158 257.3H1161M1158 259.3H1161M1059 263.3H1062M1161 263.3H1164M1059 265.3H1062M1164 269.3H1167M1056 271.3H1059M1164 271.3H1167M1164 273.3H1167M1053 275.3H1056M1164 275.3H1167M1050 277.3H1053M1047 279.3H1050M1038 283.3H1041M1167 283.3H1170M1035 285.3H1038M1167 285.3H1170M1032 287.3H1035M1032 289.3H1035M1170 289.3H1173M1032 291.3H1035M1032 293.3H1035M1173 293.3H1176M1032 295.3H1035M1173 295.3H1176M1173 297.3H1176M1035 299.3H1038M1035 301.3H1038M1035 303.3H1038M1176 303.3H1179M1035 305.3H1038M1176 305.3H1179M1035 307.3H1038M1179 309.3H1182M1179 311.3H1182M1032 313.3H1035M1182 313.3H1185M882 315.3H891M1032 315.3H1035M1182 315.3H1185M912 317.3H930M1032 317.3H1035M1182 317.3H1185M930 319.3H945M933 321.3H951M912 323.3H954M1029 323.3H1032M1185 323.3H1188M900 325.3H906M939 325.3H954M1029 325.3H1032M1185 325.3H1188M894 327.3H897M1026 327.3H1029M888 329.3H891M1026 329.3H1029M1188 329.3H1191M888 331.3H891M1023 331.3H1026M1191 331.3H1194M894 333.3H897M1023 333.3H1026M1194 333.3H1197M900 335.3H903M1023 335.3H1026M1197 335.3H1203M909 337.3H912M1023 337.3H1026M1206 337.3H1215M915 339.3H918M1215 339.3H1224M918 341.3H921M1020 341.3H1023M1221 341.3H1230M918 343.3H921M1020 343.3H1023M1224 343.3H1233M918 345.3H921M1017 345.3H1020M1224 345.3H1233M918 347.3H921M1011 347.3H1014M1221 347.3H1230M915 349.3H918M975 349.3H996M1215 349.3H1227M1287 349.3H1311M909 351.3H918M957 351.3H966M1212 351.3H1224M1281 351.3H1296M1308 351.3H1323M897 353.3H945M1209 353.3H1221M1278 353.3H1287M1320 353.3H1332M1209 355.3H1227M1272 355.3H1284M1329 355.3H1341M1215 357.3H1239M1266 357.3H1278M1335 357.3H1350M1248 359.3H1266M1341 359.3H1358.2M1350 361.3H1358.2M1326 385.3H1344M1254 387.3H1260M1242 389.3H1245M1239 391.3H1242M1242 393.3H1248" stroke="#70ff8f" stroke-width="2" fill="none"/>
<path d="M1176 193.3H1185M1275 193.3H1293M1158 195.3H1170M1305 195.3H1320M1149 197.3H1164M1302 197.3H1317M1188 199.3H1281M1092 227.3H1101M1083 229.3H1089M1107 229.3H1110M1080 231.3H1083M1113 231.3H1116M1077 233.3H1080M1116 233.3H1122M1074 235.3H1077M1122 235.3H1125M1071 237.3H1074M1128 237.3H1131M1071 239.3H1074M1134 239.3H1137M1137 241.3H1140M1068 243.3H1071M1068 245.3H1071M1146 247.3H1149M1149 249.3H1152M1065 253.3H1068M1152 253.3H1155M1155 257.3H1158M1062 259.3H1065M1158 261.3H1161M1161 265.3H1164M1059 267.3H1062M1164 277.3H1167M1164 279.3H1167M1044 281.3H1047M1164 281.3H1167M1041 283.3H1044M1035 287.3H1038M1167 287.3H1170M1035 289.3H1038M1035 291.3H1038M1170 291.3H1173M1035 293.3H1038M1035 295.3H1038M1035 297.3H1038M1173 299.3H1176M1173 301.3H1176M1173 303.3H1176M1173 305.3H1176M1176 307.3H1179M1035 309.3H1038M1176 309.3H1179M1035 311.3H1038M1179 313.3H1182M873 315.3H882M1179 315.3H1182M903 317.3H912M915 319.3H930M1032 319.3H1035M1182 319.3H1185M915 321.3H933M1032 321.3H1035M1182 321.3H1185M906 323.3H912M1032 323.3H1035M1182 323.3H1185M897 325.3H900M891 327.3H894M1029 327.3H1032M1185 327.3H1188M1029 329.3H1032M1185 329.3H1188M885 331.3H888M1026 331.3H1029M1188 331.3H1191M891 333.3H894M1026 333.3H1029M1191 333.3H1194M897 335.3H900M1026 335.3H1029M1194 335.3H1197M903 337.3H909M1197 337.3H1206M912 339.3H915M1023 339.3H1026M1206 339.3H1215M915 341.3H918M1023 341.3H1026M1212 341.3H1221M915 343.3H918M1215 343.3H1224M915 345.3H918M1020 345.3H1023M1212 345.3H1224M912 347.3H918M1014 347.3H1017M1209 347.3H1221M909 349.3H915M996 349.3H1011M1206 349.3H1215M897 351.3H909M966 351.3H975M1203 351.3H1212M1296 351.3H1308M885 353.3H897M945 353.3H957M1203 353.3H1209M1287 353.3H1320M882 355.3H927M1203 355.3H1209M1284 355.3H1296M1317 355.3H1329M1206 357.3H1215M1278 357.3H1290M1323 357.3H1335M1212 359.3H1248M1266 359.3H1284M1329 359.3H1341M1335 361.3H1350M1341 363.3H1358.2M1350 365.3H1358.2M1347 383.3H1358.2M1302 385.3H1326M1251 387.3H1254M1236 391.3H1239M1239 393.3H1242M1275 395.3H1299M1353 395.3H1358.2" stroke="#80ff80" stroke-width="2" fill="none"/>
<path d="M1185 193.3H1197M1233 193.3H1275M1170 195.3H1176M1290 195.3H1305M1164 197.3H1176M1287 197.3H1302M1089 229.3H1092M1098 229.3H1107M1083 231.3H1086M1107 231.3H1113M1113 233.3H1116M1119 235.3H1122M1074 237.3H1077M1125 237.3H1128M1131 239.3H1134M1071 241.3H1074M1134 241.3H1137M1140 243.3H1143M1143 245.3H1146M1068 247.3H1071M1068 249.3H1071M1146 249.3H1149M1149 251.3H1152M1065 255.3H1068M1152 255.3H1155M1065 257.3H1068M1155 259.3H1158M1062 261.3H1065M1158 263.3H1161M1161 267.3H1164M1059 269.3H1062M1161 269.3H1164M1161 271.3H1164M1056 273.3H1059M1050 279.3H1053M1164 283.3H1167M1038 285.3H1041M1164 285.3H1167M1167 289.3H1170M1170 293.3H1173M1038 295.3H1041M1170 295.3H1173M1038 297.3H1041M1170 297.3H1173M1038 299.3H1041M1170 299.3H1173M1038 301.3H1041M1170 301.3H1173M1038 303.3H1041M1038 305.3H1041M1038 307.3H1041M1173 307.3H1176M1173 309.3H1176M1176 311.3H1179M1035 313.3H1038M1176 313.3H1179M825 315.3H834M861 315.3H873M1035 315.3H1038M897 317.3H903M1035 317.3H1038M1179 317.3H1182M906 319.3H915M1179 319.3H1182M906 321.3H915M900 323.3H906M894 325.3H897M1032 325.3H1035M1182 325.3H1185M888 327.3H891M1032 327.3H1035M1182 327.3H1185M885 329.3H888M1029 331.3H1032M1185 331.3H1188M888 333.3H891M1029 333.3H1032M1188 333.3H1191M894 335.3H897M1029 335.3H1032M1188 335.3H1194M900 337.3H903M1026 337.3H1029M1194 337.3H1197M909 339.3H912M1026 339.3H1029M1197 339.3H1206M912 341.3H915M1026 341.3H1029M1203 341.3H1212M912 343.3H915M1023 343.3H1026M1206 343.3H1215M912 345.3H915M1206 345.3H1212M909 347.3H912M1017 347.3H1020M1203 347.3H1209M903 349.3H909M1011 349.3H1017M1200 349.3H1206M888 351.3H897M975 351.3H1002M1200 351.3H1203M876 353.3H885M957 353.3H966M1197 353.3H1203M873 355.3H882M927 355.3H942M1200 355.3H1203M1296 355.3H1317M879 357.3H906M1200 357.3H1206M1290 357.3H1323M1203 359.3H1212M1284 359.3H1299M1314 359.3H1329M1212 361.3H1293M1320 361.3H1335M1326 363.3H1341M1335 365.3H1350M1344 367.3H1358.2M1353 381.3H1358.2M1332 383.3H1347M1269 385.3H1302M1248 387.3H1251M1239 389.3H1242M1233 391.3H1236M1236 393.3H1239M1263 395.3H1275M1299 395.3H1353" stroke="#8fff70" stroke-width="2" fill="none"/>
<path d="M1197 193.3H1233M1176 195.3H1185M1272 195.3H1290M1176 197.3H1188M1269 197.3H1287M1092 229.3H1098M1086 231.3H1089M1104 231.3H1107M1080 233.3H1083M1110 233.3H1113M1077 235.3H1080M1116 235.3H1119M1122 237.3H1125M1074 239.3H1077M1128 239.3H1131M1071 243.3H1074M1137 243.3H1140M1071 245.3H1074M1140 245.3H1143M1143 247.3H1146M1068 251.3H1071M1068 253.3H1071M1149 253.3H1152M1152 257.3H1155M1065 259.3H1068M1155 261.3H1158M1062 263.3H1065M1158 265.3H1161M1161 273.3H1164M1056 275.3H1059M1161 275.3H1164M1053 277.3H1056M1161 277.3H1164M1161 279.3H1164M1047 281.3H1050M1044 283.3H1047M1041 285.3H1044M1038 287.3H1041M1164 287.3H1167M1038 289.3H1041M1038 291.3H1041M1167 291.3H1170M1038 293.3H1041M1167 293.3H1170M1170 303.3H1173M1170 305.3H1173M1170 307.3H1173M1038 309.3H1041M1038 311.3H1041M1173 311.3H1176M834 315.3H861M1176 315.3H1179M891 317.3H897M1176 317.3H1179M903 319.3H906M1035 319.3H1038M900 321.3H906M1035 321.3H1038M1179 321.3H1182M897 323.3H900M1035 323.3H1038M1179 323.3H1182M891 325.3H894M1035 325.3H1038M1179 325.3H1182M885 327.3H888M882 329.3H885M1032 329.3H1035M1182 329.3H1185M882 331.3H885M1032 331.3H1035M1182 331.3H1185M885 333.3H888M1032 333.3H1035M1185 333.3H1188M891 335.3H894M1185 335.3H1188M897 337.3H900M1029 337.3H1032M1188 337.3H1194M906 339.3H909M1029 339.3H1032M1194 339.3H1197M909 341.3H912M1197 341.3H1203M1026 343.3H1029M1200 343.3H1206M909 345.3H912M1023 345.3H1026M1200 345.3H1206M906 347.3H909M1020 347.3H1023M1197 347.3H1203M897 349.3H903M1017 349.3H1020M1197 349.3H1200M882 351.3H888M1002 351.3H1011M1194 351.3H1200M873 353.3H876M966 353.3H978M1194 353.3H1197M867 355.3H873M942 355.3H954M1197 355.3H1200M870 357.3H879M906 357.3H924M1197 357.3H1200M1200 359.3H1203M1299 359.3H1314M1203 361.3H1212M1293 361.3H1320M1218 363.3H1224M1257 363.3H1326M1320 365.3H1335M1332 367.3H1344M1341 369.3H1358.2M1353 371.3H1358.2M1356 379.3H1358.2M1341 381.3H1353M1317 383.3H1332M1257 385.3H1269M1245 387.3H1248M1236 389.3H1239M1230 391.3H1233M1233 393.3H1236M1254 395.3H1263" stroke="#9fff60" stroke-width="2" fill="none"/>
<path d="M1185 195.3H1197M1224 195.3H1272M1188 197.3H1269M1089 231.3H1104M1083 233.3H1086M1107 233.3H1110M1080 235.3H1083M1113 235.3H1116M1077 237.3H1080M1119 237.3H1122M1125 239.3H1128M1074 241.3H1077M1131 241.3H1134M1134 243.3H1137M1137 245.3H1140M1071 247.3H1074M1140 247.3H1143M1071 249.3H1074M1143 249.3H1146M1146 251.3H1149M1068 255.3H1071M1149 255.3H1152M1152 259.3H1155M1065 261.3H1068M1155 263.3H1158M1062 265.3H1065M1158 267.3H1161M1158 269.3H1161M1059 271.3H1062M1161 281.3H1164M1161 283.3H1164M1041 287.3H1044M1041 289.3H1044M1164 289.3H1167M1041 291.3H1044M1164 291.3H1167M1041 293.3H1044M1041 295.3H1044M1167 295.3H1170M1041 297.3H1044M1167 297.3H1170M1041 299.3H1044M1167 299.3H1170M1041 301.3H1044M1167 301.3H1170M1041 303.3H1044M1167 303.3H1170M1041 305.3H1044M1167 305.3H1170M1041 307.3H1044M1170 309.3H1173M1170 311.3H1173M1038 313.3H1041M1173 313.3H1176M1038 315.3H1041M1173 315.3H1176M885 317.3H891M897 319.3H903M1176 319.3H1179M897 321.3H900M1176 321.3H1179M894 323.3H897M888 325.3H891M882 327.3H885M1035 327.3H1038M1179 327.3H1182M879 329.3H882M1035 329.3H1038M1179 329.3H1182M879 331.3H882M1035 331.3H1038M882 333.3H885M1182 333.3H1185M888 335.3H891M1032 335.3H1035M894 337.3H897M1032 337.3H1035M1185 337.3H1188M903 339.3H906M1188 339.3H1194M906 341.3H909M1029 341.3H1032M1191 341.3H1197M909 343.3H912M1194 343.3H1200M906 345.3H909M1026 345.3H1029M1194 345.3H1200M900 347.3H906M1023 347.3H1026M1194 347.3H1197M888 349.3H897M1020 349.3H1023M1191 349.3H1197M876 351.3H882M1011 351.3H1017M1191 351.3H1194M867 353.3H873M978 353.3H1002M1191 353.3H1194M864 355.3H867M954 355.3H969M1194 355.3H1197M864 357.3H870M924 357.3H936M1194 357.3H1197M873 359.3H897M1197 359.3H1200M1200 361.3H1203M1206 363.3H1218M1224 363.3H1257M1266 365.3H1320M1317 367.3H1332M1329 369.3H1341M1341 371.3H1353M1347 373.3H1358.2M1353 375.3H1358.2M1353 377.3H1358.2M1344 379.3H1356M1329 381.3H1341M1302 383.3H1317M1251 385.3H1257M1242 387.3H1245M1233 389.3H1236M1227 391.3H1230M1230 393.3H1233M1248 395.3H1254" stroke="#afff50" stroke-width="2" fill="none"/>
<path d="M1197 195.3H1224M1086 233.3H1092M1101 233.3H1107M1083 235.3H1086M1110 235.3H1113M1080 237.3H1083M1116 237.3H1119M1077 239.3H1080M1122 239.3H1125M1128 241.3H1131M1074 243.3H1077M1131 243.3H1134M1074 245.3H1077M1134 245.3H1137M1137 247.3H1140M1140 249.3H1143M1071 251.3H1074M1143 251.3H1146M1146 253.3H1149M1068 257.3H1071M1149 257.3H1152M1152 261.3H1155M1155 265.3H1158M1062 267.3H1065M1158 271.3H1161M1059 273.3H1062M1158 273.3H1161M1158 275.3H1161M1056 277.3H1059M1053 279.3H1056M1050 281.3H1053M1047 283.3H1050M1044 285.3H1047M1161 285.3H1164M1044 287.3H1047M1161 287.3H1164M1164 293.3H1167M1164 295.3H1167M1044 297.3H1047M1044 299.3H1047M1044 301.3H1047M1044 303.3H1047M1167 307.3H1170M1041 309.3H1044M1167 309.3H1170M1041 311.3H1044M1170 313.3H1173M825 317.3H828M879 317.3H885M1038 317.3H1041M1173 317.3H1176M894 319.3H897M1038 319.3H1041M1173 319.3H1176M894 321.3H897M1038 321.3H1041M888 323.3H894M1038 323.3H1041M1176 323.3H1179M885 325.3H888M1038 325.3H1041M1176 325.3H1179M879 327.3H882M876 329.3H879M876 331.3H879M1179 331.3H1182M879 333.3H882M1035 333.3H1038M1179 333.3H1182M885 335.3H888M1035 335.3H1038M1182 335.3H1185M891 337.3H894M1182 337.3H1185M897 339.3H903M1032 339.3H1035M1185 339.3H1188M903 341.3H906M1185 341.3H1191M906 343.3H909M1029 343.3H1032M1188 343.3H1194M903 345.3H906M1188 345.3H1194M897 347.3H900M1026 347.3H1029M1188 347.3H1194M882 349.3H888M1023 349.3H1026M1188 349.3H1191M870 351.3H876M1017 351.3H1020M1188 351.3H1191M861 353.3H867M1002 353.3H1011M858 355.3H864M969 355.3H987M1191 355.3H1194M858 357.3H864M936 357.3H951M1191 357.3H1194M864 359.3H873M897 359.3H912M1194 359.3H1197M1197 361.3H1200M1200 363.3H1206M1209 365.3H1242M1251 365.3H1266M1272 367.3H1317M1317 369.3H1329M1329 371.3H1341M1338 373.3H1347M1341 375.3H1353M1341 377.3H1353M1335 379.3H1344M1317 381.3H1329M1281 383.3H1302M1245 385.3H1251M1239 387.3H1242M1230 389.3H1233M1224 391.3H1227M1227 393.3H1230M1242 395.3H1248" stroke="#bfff40" stroke-width="2" fill="none"/>
<path d="M1092 233.3H1101M1086 235.3H1089M1104 235.3H1110M1083 237.3H1086M1113 237.3H1116M1080 239.3H1083M1119 239.3H1122M1077 241.3H1080M1125 241.3H1128M1128 243.3H1131M1131 245.3H1134M1074 247.3H1077M1137 249.3H1140M1140 251.3H1143M1071 253.3H1074M1143 253.3H1146M1071 255.3H1074M1146 255.3H1149M1146 257.3H1149M1068 259.3H1071M1149 259.3H1152M1065 263.3H1068M1152 263.3H1155M1155 267.3H1158M1062 269.3H1065M1155 269.3H1158M1158 277.3H1161M1158 279.3H1161M1158 281.3H1161M1047 285.3H1050M1044 289.3H1047M1161 289.3H1164M1044 291.3H1047M1161 291.3H1164M1044 293.3H1047M1044 295.3H1047M1164 297.3H1167M1164 299.3H1167M1164 301.3H1167M1164 303.3H1167M1044 305.3H1047M1164 305.3H1167M1044 307.3H1047M1164 307.3H1167M1167 311.3H1170M1041 313.3H1044M1167 313.3H1170M1041 315.3H1044M1170 315.3H1173M828 317.3H846M870 317.3H879M1170 317.3H1173M888 319.3H894M891 321.3H894M1173 321.3H1176M885 323.3H888M1173 323.3H1176M882 325.3H885M876 327.3H879M1038 327.3H1041M1176 327.3H1179M873 329.3H876M1038 329.3H1041M1176 329.3H1179M873 331.3H876M1038 331.3H1041M1176 331.3H1179M876 333.3H879M879 335.3H885M1179 335.3H1182M888 337.3H891M1035 337.3H1038M1179 337.3H1182M894 339.3H897M1182 339.3H1185M900 341.3H903M1032 341.3H1035M1182 341.3H1185M903 343.3H906M1185 343.3H1188M900 345.3H903M1029 345.3H1032M1185 345.3H1188M891 347.3H897M1185 347.3H1188M876 349.3H882M1185 349.3H1188M864 351.3H870M1020 351.3H1023M858 353.3H861M1011 353.3H1017M1188 353.3H1191M855 355.3H858M987 355.3H1008M1188 355.3H1191M855 357.3H858M951 357.3H975M858 359.3H864M912 359.3H927M1191 359.3H1194M870 361.3H885M1194 361.3H1197M1197 363.3H1200M1203 365.3H1209M1242 365.3H1251M1260 367.3H1272M1290 369.3H1317M1317 371.3H1329M1326 373.3H1338M1332 375.3H1341M1332 377.3H1341M1323 379.3H1335M1305 381.3H1317M1251 383.3H1281M1242 385.3H1245M1236 387.3H1239M1227 389.3H1230M1224 393.3H1227M1239 395.3H1242M1038 403.3H1047" stroke="#cfff30" stroke-width="2" fill="none"/>
<path d="M1089 235.3H1104M1086 237.3H1089M1107 237.3H1113M1116 239.3H1119M1080 241.3H1083M1122 241.3H1125M1077 243.3H1080M1125 243.3H1128M1077 245.3H1080M1134 247.3H1137M1074 249.3H1077M1074 251.3H1077M1137 251.3H1140M1140 253.3H1143M1143 255.3H1146M1071 257.3H1074M1146 259.3H1149M1068 261.3H1071M1149 261.3H1152M1065 265.3H1068M1152 265.3H1155M1062 271.3H1065M1155 271.3H1158M1155 273.3H1158M1059 275.3H1062M1056 279.3H1059M1053 281.3H1056M1050 283.3H1053M1158 283.3H1161M1158 285.3H1161M1047 287.3H1050M1158 287.3H1161M1047 289.3H1050M1047 293.3H1050M1161 293.3H1164M1047 295.3H1050M1161 295.3H1164M1047 297.3H1050M1161 297.3H1164M1047 299.3H1050M1161 299.3H1164M1047 301.3H1050M1161 301.3H1164M1047 303.3H1050M1161 303.3H1164M1161 305.3H1164M1044 309.3H1047M1164 309.3H1167M1044 311.3H1047M1164 311.3H1167M1167 315.3H1170M846 317.3H870M1041 317.3H1044M882 319.3H888M1041 319.3H1044M1170 319.3H1173M885 321.3H891M1041 321.3H1044M882 323.3H885M876 325.3H882M1173 325.3H1176M873 327.3H876M1173 327.3H1176M870 329.3H873M870 331.3H873M873 333.3H876M1038 333.3H1041M1176 333.3H1179M876 335.3H879M1038 335.3H1041M1176 335.3H1179M885 337.3H888M1176 337.3H1179M891 339.3H894M1035 339.3H1038M1179 339.3H1182M897 341.3H900M1179 341.3H1182M897 343.3H903M1032 343.3H1035M1182 343.3H1185M894 345.3H900M1032 345.3H1035M1182 345.3H1185M885 347.3H891M1029 347.3H1032M1182 347.3H1185M870 349.3H876M1026 349.3H1029M858 351.3H864M1023 351.3H1026M1185 351.3H1188M852 353.3H858M1017 353.3H1020M1185 353.3H1188M849 355.3H855M1008 355.3H1014M846 357.3H855M975 357.3H1005M1188 357.3H1191M849 359.3H858M927 359.3H948M858 361.3H870M885 361.3H900M1191 361.3H1194M1194 363.3H1197M1200 365.3H1203M1209 367.3H1260M1269 369.3H1290M1305 371.3H1317M1317 373.3H1326M1320 375.3H1332M1320 377.3H1332M1314 379.3H1323M1293 381.3H1305M1248 383.3H1251M1239 385.3H1242M1233 387.3H1236M1224 389.3H1227M1221 391.3H1224M1221 393.3H1224M1233 395.3H1239M1035 403.3H1038M1047 403.3H1050" stroke="#dfff20" stroke-width="2" fill="none"/>
<path d="M1089 237.3H1092M1101 237.3H1107M1083 239.3H1086M1110 239.3H1116M1116 241.3H1122M1080 243.3H1083M1122 243.3H1125M1128 245.3H1131M1077 247.3H1080M1131 247.3H1134M1134 249.3H1137M1074 253.3H1077M1137 253.3H1140M1140 255.3H1143M1143 257.3H1146M1071 259.3H1074M1146 261.3H1149M1068 263.3H1071M1149 263.3H1152M1065 267.3H1068M1152 267.3H1155M1152 269.3H1155M1062 273.3H1065M1155 275.3H1158M1059 277.3H1062M1155 277.3H1158M1053 283.3H1056M1050 285.3H1053M1158 289.3H1161M1047 291.3H1050M1158 291.3H1161M1158 293.3H1161M1047 305.3H1050M1047 307.3H1050M1161 307.3H1164M1161 309.3H1164M1044 313.3H1047M1164 313.3H1167M1167 317.3H1170M825 319.3H837M879 319.3H882M882 321.3H885M1170 321.3H1173M879 323.3H882M1041 323.3H1044M1170 323.3H1173M873 325.3H876M1041 325.3H1044M867 327.3H873M1041 327.3H1044M864 329.3H870M1041 329.3H1044M1173 329.3H1176M864 331.3H870M1041 331.3H1044M1173 331.3H1176M867 333.3H873M1173 333.3H1176M873 335.3H876M1173 335.3H1176M882 337.3H885M1038 337.3H1041M888 339.3H891M1176 339.3H1179M894 341.3H897M1035 341.3H1038M1176 341.3H1179M894 343.3H897M1035 343.3H1038M1179 343.3H1182M891 345.3H894M1179 345.3H1182M879 347.3H885M1032 347.3H1035M1179 347.3H1182M864 349.3H870M1029 349.3H1032M1182 349.3H1185M855 351.3H858M1026 351.3H1029M1182 351.3H1185M846 353.3H852M1020 353.3H1026M1182 353.3H1185M840 355.3H849M1014 355.3H1020M1185 355.3H1188M840 357.3H846M1005 357.3H1014M1185 357.3H1188M840 359.3H849M948 359.3H1005M1188 359.3H1191M846 361.3H858M900 361.3H912M861 363.3H879M1197 365.3H1200M1203 367.3H1209M1221 369.3H1236M1254 369.3H1269M1278 371.3H1305M1305 373.3H1317M1311 375.3H1320M939 377.3H960M1311 377.3H1320M936 379.3H954M1302 379.3H1314M1251 381.3H1293M1242 383.3H1248M1236 385.3H1239M1230 387.3H1233M1221 389.3H1224M1218 391.3H1221M921 393.3H930M1230 395.3H1233M1356 397.3H1358.2M1032 403.3H1035M1050 403.3H1053M1038 405.3H1047" stroke="#efff10" stroke-width="2" fill="none"/>
<path d="M1092 237.3H1101M1086 239.3H1092M1107 239.3H1110M1083 241.3H1086M1113 241.3H1116M1119 243.3H1122M1080 245.3H1083M1125 245.3H1128M1128 247.3H1131M1077 249.3H1080M1131 249.3H1134M1134 251.3H1137M1134 253.3H1137M1074 255.3H1077M1137 255.3H1140M1140 257.3H1143M1143 259.3H1146M1146 263.3H1149M1149 265.3H1152M1149 267.3H1152M1065 269.3H1068M1152 271.3H1155M1155 279.3H1158M1056 281.3H1059M1155 281.3H1158M1155 283.3H1158M1155 285.3H1158M1050 287.3H1053M1050 289.3H1053M1050 291.3H1053M1050 293.3H1053M1050 295.3H1053M1158 295.3H1161M1050 297.3H1053M1158 297.3H1161M1050 299.3H1053M1158 299.3H1161M1050 301.3H1053M1158 301.3H1161M1050 303.3H1053M1158 303.3H1161M1158 305.3H1161M1158 307.3H1161M1047 309.3H1050M1161 311.3H1164M1161 313.3H1164M1044 315.3H1047M1164 315.3H1167M1044 317.3H1047M1164 317.3H1167M837 319.3H852M867 319.3H879M1167 319.3H1170M825 321.3H831M876 321.3H882M1167 321.3H1170M873 323.3H879M870 325.3H873M1170 325.3H1173M864 327.3H867M1170 327.3H1173M861 329.3H864M1170 329.3H1173M861 331.3H864M864 333.3H867M1041 333.3H1044M870 335.3H873M1041 335.3H1044M876 337.3H882M1173 337.3H1176M885 339.3H888M1038 339.3H1041M1173 339.3H1176M888 341.3H894M1173 341.3H1176M891 343.3H894M1176 343.3H1179M885 345.3H891M1035 345.3H1038M1176 345.3H1179M873 347.3H879M858 349.3H864M1179 349.3H1182M849 351.3H855M1029 351.3H1032M1179 351.3H1182M825 353.3H828M837 353.3H846M1026 353.3H1029M825 355.3H840M1020 355.3H1023M1182 355.3H1185M825 357.3H840M1014 357.3H1017M825 359.3H840M1005 359.3H1011M1185 359.3H1188M825 361.3H846M912 361.3H1008M1188 361.3H1191M843 363.3H861M879 363.3H891M978 363.3H1002M1191 363.3H1194M987 365.3H996M1194 365.3H1197M1200 367.3H1203M984 369.3H993M1209 369.3H1221M1236 369.3H1254M975 371.3H996M1257 371.3H1278M960 373.3H993M1290 373.3H1305M939 375.3H990M1302 375.3H1311M927 377.3H939M960 377.3H984M1302 377.3H1311M924 379.3H936M954 379.3H972M1293 379.3H1302M930 381.3H954M1245 381.3H1251M1239 383.3H1242M1233 385.3H1236M1227 387.3H1230M1218 389.3H1221M1215 391.3H1218M918 393.3H921M930 393.3H933M1218 393.3H1221M918 395.3H930M1227 395.3H1230M1347 397.3H1356M1035 405.3H1038M1047 405.3H1050" stroke="#ffff00" stroke-width="2" fill="none"/>
<path d="M1092 239.3H1107M1086 241.3H1089M1110 241.3H1113M1083 243.3H1086M1116 243.3H1119M1119 245.3H1125M1080 247.3H1083M1125 247.3H1128M1128 249.3H1131M1077 251.3H1080M1128 251.3H1134M1077 253.3H1080M1131 253.3H1134M1134 255.3H1137M1074 257.3H1077M1137 257.3H1140M1140 259.3H1143M1071 261.3H1074M1143 261.3H1146M1068 265.3H1071M1146 265.3H1149M1149 269.3H1152M1065 271.3H1068M1152 273.3H1155M1062 275.3H1065M1152 275.3H1155M1059 279.3H1062M1056 283.3H1059M1053 285.3H1056M1053 287.3H1056M1155 287.3H1158M1155 289.3H1158M1155 291.3H1158M1155 293.3H1158M1155 295.3H1158M1155 297.3H1158M1155 299.3H1158M1155 301.3H1158M1155 303.3H1158M1050 305.3H1053M1050 307.3H1053M1158 309.3H1161M1047 311.3H1050M1158 311.3H1161M1047 313.3H1050M1161 315.3H1164M852 319.3H867M1044 319.3H1047M1164 319.3H1167M831 321.3H840M870 321.3H876M1044 321.3H1047M825 323.3H831M867 323.3H873M1044 323.3H1047M1167 323.3H1170M825 325.3H831M864 325.3H870M1044 325.3H1047M1167 325.3H1170M825 327.3H831M858 327.3H864M1044 327.3H1047M825 329.3H831M855 329.3H861M1044 329.3H1047M825 331.3H828M858 331.3H861M1044 331.3H1047M1170 331.3H1173M861 333.3H864M1170 333.3H1173M867 335.3H870M1170 335.3H1173M873 337.3H876M1041 337.3H1044M1170 337.3H1173M879 339.3H885M1170 339.3H1173M885 341.3H888M1038 341.3H1041M1170 341.3H1173M885 343.3H891M1038 343.3H1041M1173 343.3H1176M879 345.3H885M1173 345.3H1176M864 347.3H873M1035 347.3H1038M1176 347.3H1179M852 349.3H858M1032 349.3H1035M1176 349.3H1179M825 351.3H828M837 351.3H849M828 353.3H837M1029 353.3H1032M1179 353.3H1182M1023 355.3H1026M1017 357.3H1023M1182 357.3H1185M1011 359.3H1017M1008 361.3H1014M825 363.3H843M891 363.3H900M963 363.3H978M1002 363.3H1011M1188 363.3H1191M825 365.3H882M969 365.3H987M996 365.3H1008M1191 365.3H1194M972 367.3H1008M1197 367.3H1200M966 369.3H984M993 369.3H1008M1203 369.3H1209M957 371.3H975M996 371.3H1008M1218 371.3H1257M939 373.3H960M993 373.3H1005M1251 373.3H1290M927 375.3H939M990 375.3H1002M1287 375.3H1302M918 377.3H927M984 377.3H996M1290 377.3H1302M918 379.3H924M972 379.3H984M1245 379.3H1293M921 381.3H930M954 381.3H969M1239 381.3H1245M933 383.3H945M1236 383.3H1239M1230 385.3H1233M1224 387.3H1227M1215 389.3H1218M1212 391.3H1215M915 393.3H918M933 393.3H936M1215 393.3H1218M930 395.3H933M1224 395.3H1227M1263 397.3H1347M1038 401.3H1047M1029 403.3H1032M1053 403.3H1056M1032 405.3H1035M1050 405.3H1053" stroke="#ffef00" stroke-width="2" fill="none"/>
<path d="M1089 241.3H1095M1101 241.3H1110M1086 243.3H1089M1110 243.3H1116M1083 245.3H1086M1116 245.3H1119M1122 247.3H1125M1080 249.3H1083M1125 249.3H1128M1125 251.3H1128M1128 253.3H1131M1077 255.3H1080M1131 255.3H1134M1134 257.3H1137M1074 259.3H1077M1137 259.3H1140M1140 261.3H1143M1071 263.3H1074M1143 263.3H1146M1068 267.3H1071M1146 267.3H1149M1149 271.3H1152M1065 273.3H1068M1062 277.3H1065M1152 277.3H1155M1152 279.3H1155M1059 281.3H1062M1152 281.3H1155M1056 285.3H1059M1053 289.3H1056M1053 291.3H1056M1053 293.3H1056M1152 293.3H1155M1053 295.3H1056M1152 295.3H1155M1053 297.3H1056M1053 299.3H1056M1053 301.3H1056M1155 305.3H1158M1155 307.3H1158M1050 309.3H1053M1155 309.3H1158M1158 313.3H1161M1047 315.3H1050M1161 317.3H1164M840 321.3H870M1164 321.3H1167M831 323.3H846M858 323.3H867M1164 323.3H1167M831 325.3H840M855 325.3H864M831 327.3H837M849 327.3H858M1167 327.3H1170M831 329.3H837M849 329.3H855M1167 329.3H1170M828 331.3H834M849 331.3H858M1167 331.3H1170M825 333.3H831M855 333.3H861M1044 333.3H1047M1167 333.3H1170M861 335.3H867M1167 335.3H1170M867 337.3H873M876 339.3H879M1041 339.3H1044M879 341.3H885M879 343.3H885M1170 343.3H1173M873 345.3H879M1038 345.3H1041M1170 345.3H1173M858 347.3H864M1173 347.3H1176M843 349.3H852M1035 349.3H1038M828 351.3H837M1032 351.3H1035M1176 351.3H1179M1026 355.3H1029M1179 355.3H1182M1023 357.3H1026M1017 359.3H1023M1182 359.3H1185M1014 361.3H1020M1185 361.3H1188M900 363.3H963M1011 363.3H1017M882 365.3H891M957 365.3H969M1008 365.3H1014M825 367.3H879M960 367.3H972M1008 367.3H1014M1194 367.3H1197M849 369.3H876M954 369.3H966M1008 369.3H1014M1200 369.3H1203M858 371.3H876M942 371.3H957M1008 371.3H1014M1209 371.3H1218M864 373.3H882M930 373.3H939M1005 373.3H1014M1227 373.3H1251M873 375.3H885M915 375.3H927M1002 375.3H1011M1239 375.3H1287M909 377.3H918M996 377.3H1005M1242 377.3H1290M909 379.3H918M984 379.3H993M1239 379.3H1245M915 381.3H921M969 381.3H981M1236 381.3H1239M924 383.3H933M945 383.3H960M1233 383.3H1236M1227 385.3H1230M1221 387.3H1224M1212 389.3H1215M921 391.3H933M1209 391.3H1212M936 393.3H939M1212 393.3H1215M915 395.3H918M933 395.3H936M1221 395.3H1224M1251 397.3H1263M1035 401.3H1038M1047 401.3H1050" stroke="#ffdf00" stroke-width="2" fill="none"/>
<path d="M825 438.8H828M903 438.8H909" stroke="#ffcf00" stroke-width="1" fill="none"/>
<path d="M1095 241.3H1101M1089 243.3H1095M1107 243.3H1110M1086 245.3H1089M1113 245.3H1116M1083 247.3H1086M1116 247.3H1122M1119 249.3H1125M1080 251.3H1083M1122 251.3H1125M1125 253.3H1128M1128 255.3H1131M1077 257.3H1080M1131 257.3H1134M1134 259.3H1137M1074 261.3H1077M1137 261.3H1140M1140 263.3H1143M1071 265.3H1074M1143 265.3H1146M1143 267.3H1146M1068 269.3H1071M1146 269.3H1149M1149 273.3H1152M1065 275.3H1068M1062 279.3H1065M1059 283.3H1062M1152 283.3H1155M1152 285.3H1155M1056 287.3H1059M1152 287.3H1155M1056 289.3H1059M1152 289.3H1155M1152 291.3H1155M1152 297.3H1155M1152 299.3H1155M1152 301.3H1155M1053 303.3H1056M1152 303.3H1155M1053 305.3H1056M1152 305.3H1155M1152 307.3H1155M1050 311.3H1053M1155 311.3H1158M1155 313.3H1158M1158 315.3H1161M1047 317.3H1050M1158 317.3H1161M1047 319.3H1050M1161 319.3H1164M1047 321.3H1050M1161 321.3H1164M846 323.3H858M1047 323.3H1050M840 325.3H855M1047 325.3H1050M1164 325.3H1167M837 327.3H849M1047 327.3H1050M1164 327.3H1167M837 329.3H849M1047 329.3H1050M834 331.3H849M831 333.3H837M846 333.3H855M825 335.3H831M855 335.3H861M1044 335.3H1047M864 337.3H867M1044 337.3H1047M1167 337.3H1170M870 339.3H876M1167 339.3H1170M876 341.3H879M1041 341.3H1044M1167 341.3H1170M873 343.3H879M1041 343.3H1044M1167 343.3H1170M864 345.3H873M846 347.3H858M1038 347.3H1041M1170 347.3H1173M825 349.3H843M1173 349.3H1176M1035 351.3H1038M1173 351.3H1176M1032 353.3H1035M1176 353.3H1179M1029 355.3H1032M1026 357.3H1029M1179 357.3H1182M1023 359.3H1026M1020 361.3H1023M1182 361.3H1185M1017 363.3H1020M1185 363.3H1188M891 365.3H897M942 365.3H957M1014 365.3H1020M1188 365.3H1191M879 367.3H888M948 367.3H960M1014 367.3H1020M1191 367.3H1194M828 369.3H849M876 369.3H885M942 369.3H954M1014 369.3H1020M1194 369.3H1200M843 371.3H858M876 371.3H888M933 371.3H942M1014 371.3H1020M1203 371.3H1209M852 373.3H864M882 373.3H894M918 373.3H930M1014 373.3H1020M1215 373.3H1227M861 375.3H873M885 375.3H915M1011 375.3H1017M1230 375.3H1239M870 377.3H909M1005 377.3H1011M1233 377.3H1242M897 379.3H909M993 379.3H1002M1233 379.3H1239M912 381.3H915M981 381.3H990M1230 381.3H1236M918 383.3H924M960 383.3H972M1227 383.3H1233M930 385.3H948M1224 385.3H1227M1215 387.3H1221M1209 389.3H1212M918 391.3H921M933 391.3H939M1206 391.3H1209M912 393.3H915M939 393.3H942M1209 393.3H1212M912 395.3H915M936 395.3H939M1218 395.3H1221M1242 397.3H1251M1032 401.3H1035M1050 401.3H1053M1026 403.3H1029M1056 403.3H1059M1029 405.3H1032M1053 405.3H1056M825 435.3H828M825 437.3H828" stroke="#ffcf00" stroke-width="2" fill="none"/>
<path d="M828 438.8H831M897 438.8H903M909 438.8H915" stroke="#ffbf00" stroke-width="1" fill="none"/>
<path d="M1095 243.3H1107M1089 245.3H1092M1107 245.3H1113M1086 247.3H1089M1113 247.3H1116M1083 249.3H1086M1116 249.3H1119M1119 251.3H1122M1080 253.3H1083M1122 253.3H1125M1122 255.3H1128M1125 257.3H1131M1077 259.3H1080M1128 259.3H1134M1134 261.3H1137M1074 263.3H1077M1137 263.3H1140M1140 265.3H1143M1071 267.3H1074M1143 269.3H1146M1068 271.3H1071M1146 271.3H1149M1149 275.3H1152M1065 277.3H1068M1149 277.3H1152M1062 281.3H1065M1059 285.3H1062M1149 289.3H1152M1056 291.3H1059M1149 291.3H1152M1056 293.3H1059M1149 293.3H1152M1056 295.3H1059M1149 295.3H1152M1056 297.3H1059M1149 297.3H1152M1056 299.3H1059M1149 299.3H1152M1056 301.3H1059M1149 301.3H1152M1053 307.3H1056M1053 309.3H1056M1152 309.3H1155M1152 311.3H1155M1050 313.3H1053M1155 315.3H1158M1158 319.3H1161M1161 323.3H1164M1164 329.3H1167M1047 331.3H1050M1164 331.3H1167M837 333.3H846M1047 333.3H1050M1164 333.3H1167M831 335.3H855M1164 335.3H1167M825 337.3H831M855 337.3H864M1164 337.3H1167M825 339.3H828M864 339.3H870M1044 339.3H1047M1164 339.3H1167M867 341.3H876M1164 341.3H1167M867 343.3H873M825 345.3H828M852 345.3H864M1041 345.3H1044M1167 345.3H1170M825 347.3H846M1038 349.3H1041M1170 349.3H1173M1035 353.3H1038M1173 353.3H1176M1032 355.3H1035M1176 355.3H1179M1029 357.3H1032M1026 359.3H1029M1179 359.3H1182M1023 361.3H1029M1020 363.3H1026M897 365.3H942M1020 365.3H1023M1185 365.3H1188M888 367.3H894M936 367.3H948M1020 367.3H1023M1188 367.3H1191M825 369.3H828M885 369.3H894M930 369.3H942M1020 369.3H1023M831 371.3H843M888 371.3H897M921 371.3H933M1020 371.3H1026M1197 371.3H1203M843 373.3H852M894 373.3H918M1020 373.3H1026M1206 373.3H1215M852 375.3H861M1017 375.3H1023M1218 375.3H1230M861 377.3H870M1011 377.3H1020M1227 377.3H1233M879 379.3H897M1002 379.3H1008M1227 379.3H1233M903 381.3H912M990 381.3H996M1227 381.3H1230M915 383.3H918M972 383.3H981M1224 383.3H1227M924 385.3H930M948 385.3H960M1218 385.3H1224M930 387.3H942M1212 387.3H1215M927 389.3H936M1206 389.3H1209M915 391.3H918M939 391.3H942M1203 391.3H1206M1206 393.3H1209M939 395.3H942M1215 395.3H1218M1233 397.3H1242M1029 401.3H1032M1053 401.3H1056M1023 403.3H1026M1026 405.3H1029" stroke="#ffbf00" stroke-width="2" fill="none"/>
<path d="M831 438.8H834M894 438.8H897M915 438.8H918" stroke="#ffaf00" stroke-width="1" fill="none"/>
<path d="M1092 245.3H1107M1089 247.3H1092M1110 247.3H1113M1086 249.3H1089M1113 249.3H1116M1083 251.3H1086M1116 251.3H1119M1119 253.3H1122M1080 255.3H1083M1119 255.3H1122M1080 257.3H1083M1122 257.3H1125M1125 259.3H1128M1077 261.3H1080M1128 261.3H1134M1131 263.3H1137M1137 265.3H1140M1140 267.3H1143M1143 271.3H1146M1068 273.3H1071M1146 273.3H1149M1065 279.3H1068M1149 279.3H1152M1149 281.3H1152M1062 283.3H1065M1149 283.3H1152M1149 285.3H1152M1059 287.3H1062M1149 287.3H1152M1059 289.3H1062M1059 291.3H1062M1146 293.3H1149M1146 295.3H1149M1146 297.3H1149M1146 299.3H1149M1056 303.3H1059M1149 303.3H1152M1056 305.3H1059M1149 305.3H1152M1149 307.3H1152M1053 311.3H1056M1152 313.3H1155M1050 315.3H1053M1050 317.3H1053M1155 317.3H1158M1155 319.3H1158M1158 321.3H1161M1161 325.3H1164M1161 327.3H1164M1161 329.3H1164M1047 335.3H1050M831 337.3H855M828 339.3H834M855 339.3H864M825 341.3H831M858 341.3H867M1044 341.3H1047M825 343.3H834M855 343.3H867M1164 343.3H1167M828 345.3H852M1164 345.3H1167M1041 347.3H1044M1167 347.3H1170M1038 351.3H1041M1170 351.3H1173M1038 353.3H1041M1035 355.3H1038M1173 355.3H1176M1032 357.3H1035M1176 357.3H1179M1029 359.3H1035M1029 361.3H1032M1179 361.3H1182M1026 363.3H1029M1182 363.3H1185M1023 365.3H1029M894 367.3H906M918 367.3H936M1023 367.3H1029M894 369.3H903M918 369.3H930M1023 369.3H1029M1191 369.3H1194M825 371.3H831M897 371.3H921M1026 371.3H1029M1194 371.3H1197M834 373.3H843M1026 373.3H1029M1200 373.3H1206M846 375.3H852M1023 375.3H1029M1212 375.3H1218M855 377.3H861M1020 377.3H1026M1221 377.3H1227M870 379.3H879M1008 379.3H1014M1224 379.3H1227M894 381.3H903M996 381.3H1002M1221 381.3H1227M909 383.3H915M981 383.3H990M1218 383.3H1224M918 385.3H924M960 385.3H972M1215 385.3H1218M924 387.3H930M942 387.3H951M1206 387.3H1212M921 389.3H927M936 389.3H945M1203 389.3H1206M942 391.3H945M1200 391.3H1203M909 393.3H912M942 393.3H945M909 395.3H912M1212 395.3H1215M921 397.3H930M1227 397.3H1233M1026 401.3H1029M1059 403.3H1062M1056 405.3H1059M828 435.3H831M1080 435.3H1092M828 437.3H831" stroke="#ffaf00" stroke-width="2" fill="none"/>
<path d="M834 438.8H837M891 438.8H894M918 438.8H921" stroke="#ff9f00" stroke-width="1" fill="none"/>
<path d="M1092 247.3H1098M1101 247.3H1110M1089 249.3H1092M1110 249.3H1113M1086 251.3H1089M1113 251.3H1116M1083 253.3H1086M1116 253.3H1119M1083 255.3H1086M1116 255.3H1119M1119 257.3H1122M1080 259.3H1083M1122 259.3H1125M1125 261.3H1128M1128 263.3H1131M1074 265.3H1077M1131 265.3H1137M1137 267.3H1140M1071 269.3H1074M1140 269.3H1143M1143 273.3H1146M1068 275.3H1071M1146 275.3H1149M1146 277.3H1149M1065 281.3H1068M1062 285.3H1065M1062 287.3H1065M1146 289.3H1149M1146 291.3H1149M1059 293.3H1062M1059 295.3H1062M1059 297.3H1062M1059 299.3H1062M1059 301.3H1062M1146 301.3H1149M1146 303.3H1149M1056 307.3H1059M1149 309.3H1152M1149 311.3H1152M1053 313.3H1056M1149 313.3H1152M1152 315.3H1155M1152 317.3H1155M1050 319.3H1053M1050 321.3H1053M1155 321.3H1158M1050 323.3H1053M1158 323.3H1161M1050 325.3H1053M1158 325.3H1161M1050 327.3H1053M1050 329.3H1053M1050 331.3H1053M1161 331.3H1164M1161 333.3H1164M1161 335.3H1164M1047 337.3H1050M1161 337.3H1164M834 339.3H855M1047 339.3H1050M1161 339.3H1164M831 341.3H858M1161 341.3H1164M834 343.3H855M1044 343.3H1047M1044 345.3H1047M1164 347.3H1167M1041 349.3H1044M1167 349.3H1170M1041 351.3H1044M1170 353.3H1173M1038 355.3H1041M1035 357.3H1038M1173 357.3H1176M1035 359.3H1038M1176 359.3H1179M1032 361.3H1035M1029 363.3H1032M1179 363.3H1182M1029 365.3H1032M1182 365.3H1185M906 367.3H918M1029 367.3H1032M1185 367.3H1188M903 369.3H918M1029 369.3H1032M1188 369.3H1191M1029 371.3H1032M1191 371.3H1194M825 373.3H834M1029 373.3H1035M1197 373.3H1200M837 375.3H846M1029 375.3H1032M1203 375.3H1212M849 377.3H855M1026 377.3H1029M1212 377.3H1221M861 379.3H870M1014 379.3H1023M1218 379.3H1224M885 381.3H894M1002 381.3H1008M1218 381.3H1221M906 383.3H909M990 383.3H996M1215 383.3H1218M915 385.3H918M972 385.3H981M1209 385.3H1215M918 387.3H924M951 387.3H960M1200 387.3H1206M918 389.3H921M945 389.3H948M1197 389.3H1203M912 391.3H915M945 391.3H948M1197 391.3H1200M945 393.3H948M1203 393.3H1206M942 395.3H945M1209 395.3H1212M918 397.3H921M930 397.3H936M1221 397.3H1227M1353 399.3H1358.2M1023 401.3H1026M1056 401.3H1059M1020 403.3H1023M1023 405.3H1026M1035 407.3H1047M825 433.3H828M831 435.3H834M1077 435.3H1080M1092 435.3H1098M831 437.3H834M903 437.3H909" stroke="#ff9f00" stroke-width="2" fill="none"/>
<path d="M837 438.8H840M921 438.8H924M1032 438.8H1044" stroke="#ff8f00" stroke-width="1" fill="none"/>
<path d="M1098 247.3H1101M1092 249.3H1095M1104 249.3H1110M1089 251.3H1092M1110 251.3H1113M1086 253.3H1089M1110 253.3H1116M1113 255.3H1116M1083 257.3H1086M1116 257.3H1119M1116 259.3H1122M1119 261.3H1125M1077 263.3H1080M1125 263.3H1128M1128 265.3H1131M1074 267.3H1077M1131 267.3H1137M1137 269.3H1140M1071 271.3H1074M1140 271.3H1143M1143 275.3H1146M1068 277.3H1071M1068 279.3H1071M1146 279.3H1149M1146 281.3H1149M1065 283.3H1068M1146 283.3H1149M1065 285.3H1068M1146 285.3H1149M1146 287.3H1149M1062 289.3H1065M1062 291.3H1065M1143 291.3H1146M1062 293.3H1065M1143 293.3H1146M1143 295.3H1146M1143 297.3H1146M1143 299.3H1146M1143 301.3H1146M1059 303.3H1062M1059 305.3H1062M1146 305.3H1149M1146 307.3H1149M1056 309.3H1059M1146 309.3H1149M1056 311.3H1059M1053 315.3H1056M1149 315.3H1152M1152 319.3H1155M1155 323.3H1158M1158 327.3H1161M1158 329.3H1161M1158 331.3H1161M1050 333.3H1053M1158 333.3H1161M1050 335.3H1053M1047 341.3H1050M1161 343.3H1164M1161 345.3H1164M1044 347.3H1047M1044 349.3H1047M1164 349.3H1167M1167 351.3H1170M1041 353.3H1044M1041 355.3H1044M1170 355.3H1173M1038 357.3H1041M1038 359.3H1041M1035 361.3H1038M1176 361.3H1179M1032 363.3H1035M1032 365.3H1035M1179 365.3H1182M1032 367.3H1035M1182 367.3H1185M1032 369.3H1035M1185 369.3H1188M1032 371.3H1038M1188 371.3H1191M1035 373.3H1038M1194 373.3H1197M831 375.3H837M1032 375.3H1038M1197 375.3H1203M843 377.3H849M1029 377.3H1035M1206 377.3H1212M855 379.3H861M1023 379.3H1029M1209 379.3H1218M876 381.3H885M1008 381.3H1014M1209 381.3H1218M900 383.3H906M996 383.3H1002M1206 383.3H1215M909 385.3H915M981 385.3H987M1200 385.3H1209M915 387.3H918M960 387.3H969M1191 387.3H1200M915 389.3H918M948 389.3H954M1188 389.3H1197M909 391.3H912M948 391.3H951M1191 391.3H1197M906 393.3H909M948 393.3H951M1197 393.3H1203M906 395.3H909M945 395.3H948M1206 395.3H1209M915 397.3H918M936 397.3H939M1218 397.3H1221M1347 399.3H1353M1020 405.3H1023M1059 405.3H1062M1032 407.3H1035M1047 407.3H1050M1074 435.3H1077M1098 435.3H1101M834 437.3H837M897 437.3H903M909 437.3H912M1080 437.3H1095" stroke="#ff8f00" stroke-width="2" fill="none"/>
<path d="M840 438.8H846M888 438.8H891M924 438.8H927M1026 438.8H1032M1044 438.8H1050M1086 438.8H1092" stroke="#ff8000" stroke-width="1" fill="none"/>
<path d="M1095 249.3H1104M1092 251.3H1095M1104 251.3H1110M1089 253.3H1092M1107 253.3H1110M1086 255.3H1089M1110 255.3H1113M1113 257.3H1116M1083 259.3H1086M1113 259.3H1116M1080 261.3H1083M1116 261.3H1119M1119 263.3H1125M1077 265.3H1080M1122 265.3H1128M1128 267.3H1131M1074 269.3H1077M1131 269.3H1137M1137 271.3H1140M1071 273.3H1074M1140 273.3H1143M1071 275.3H1074M1143 277.3H1146M1068 281.3H1071M1065 287.3H1068M1143 287.3H1146M1065 289.3H1068M1143 289.3H1146M1140 291.3H1143M1140 293.3H1143M1062 295.3H1065M1140 295.3H1143M1062 297.3H1065M1140 297.3H1143M1062 299.3H1065M1140 299.3H1143M1062 301.3H1065M1143 303.3H1146M1143 305.3H1146M1059 307.3H1062M1146 311.3H1149M1056 313.3H1059M1146 313.3H1149M1146 315.3H1149M1053 317.3H1056M1149 317.3H1152M1053 319.3H1056M1149 319.3H1152M1053 321.3H1056M1152 321.3H1155M1053 323.3H1056M1152 323.3H1155M1053 325.3H1056M1155 325.3H1158M1053 327.3H1056M1155 327.3H1158M1053 329.3H1056M1158 335.3H1161M1050 337.3H1053M1158 337.3H1161M1158 339.3H1161M1158 341.3H1161M1047 343.3H1050M1158 343.3H1161M1047 345.3H1050M1161 347.3H1164M1044 351.3H1047M1164 351.3H1167M1044 353.3H1047M1167 353.3H1170M1041 357.3H1044M1170 357.3H1173M1041 359.3H1044M1173 359.3H1176M1038 361.3H1041M1035 363.3H1041M1176 363.3H1179M1035 365.3H1038M1035 367.3H1038M1035 369.3H1041M1182 369.3H1185M1038 371.3H1041M1185 371.3H1188M1038 373.3H1041M1188 373.3H1194M825 375.3H831M1038 375.3H1041M1194 375.3H1197M837 377.3H843M1035 377.3H1038M1197 377.3H1206M849 379.3H855M1029 379.3H1032M1203 379.3H1209M870 381.3H876M1014 381.3H1020M1200 381.3H1209M894 383.3H900M1002 383.3H1005M1197 383.3H1206M906 385.3H909M987 385.3H993M1188 385.3H1200M912 387.3H915M969 387.3H981M1182 387.3H1191M912 389.3H915M954 389.3H963M1182 389.3H1188M951 391.3H954M1185 391.3H1191M951 393.3H954M1194 393.3H1197M948 395.3H951M1203 395.3H1206M912 397.3H915M939 397.3H942M1215 397.3H1218M1035 399.3H1047M1275 399.3H1299M1338 399.3H1347M1020 401.3H1023M1059 401.3H1062M1017 403.3H1020M1062 403.3H1065M1029 407.3H1032M1050 407.3H1053M828 433.3H831M1077 433.3H1095M834 435.3H837M900 435.3H909M1071 435.3H1074M837 437.3H840M894 437.3H897M912 437.3H915M1074 437.3H1080M1095 437.3H1098" stroke="#ff8000" stroke-width="2" fill="none"/>
<path d="M846 438.8H849M885 438.8H888M927 438.8H930M1023 438.8H1026M1050 438.8H1059M1074 438.8H1086M1092 438.8H1101" stroke="#ff7000" stroke-width="1" fill="none"/>
<path d="M1095 251.3H1104M1092 253.3H1095M1101 253.3H1107M1089 255.3H1092M1107 255.3H1110M1086 257.3H1089M1110 257.3H1113M1110 259.3H1113M1083 261.3H1086M1113 261.3H1116M1080 263.3H1083M1116 263.3H1119M1119 265.3H1122M1077 267.3H1080M1122 267.3H1128M1128 269.3H1131M1074 271.3H1077M1131 271.3H1137M1137 273.3H1140M1140 275.3H1143M1071 277.3H1074M1140 277.3H1143M1071 279.3H1074M1143 279.3H1146M1143 281.3H1146M1068 283.3H1071M1143 283.3H1146M1068 285.3H1071M1143 285.3H1146M1140 289.3H1143M1065 291.3H1068M1065 293.3H1068M1137 293.3H1140M1065 295.3H1068M1137 295.3H1140M1137 297.3H1140M1140 301.3H1143M1062 303.3H1065M1140 303.3H1143M1062 305.3H1065M1143 307.3H1146M1059 309.3H1062M1143 309.3H1146M1059 311.3H1062M1143 311.3H1146M1056 315.3H1059M1146 317.3H1149M1149 321.3H1152M1152 325.3H1155M1155 329.3H1158M1053 331.3H1056M1155 331.3H1158M1053 333.3H1056M1155 333.3H1158M1155 335.3H1158M1155 337.3H1158M1050 339.3H1053M1155 339.3H1158M1050 341.3H1053M1158 345.3H1161M1047 347.3H1050M1047 349.3H1050M1161 349.3H1164M1047 351.3H1050M1164 353.3H1167M1044 355.3H1047M1167 355.3H1170M1044 357.3H1047M1170 359.3H1173M1041 361.3H1044M1173 361.3H1176M1041 363.3H1044M1038 365.3H1044M1176 365.3H1179M1038 367.3H1044M1179 367.3H1182M1041 369.3H1044M1041 371.3H1044M1182 371.3H1185M1041 373.3H1044M1185 373.3H1188M1041 375.3H1044M1188 375.3H1194M831 377.3H837M1038 377.3H1041M1191 377.3H1197M843 379.3H849M1032 379.3H1038M1194 379.3H1203M861 381.3H870M1020 381.3H1026M1191 381.3H1200M888 383.3H894M1005 383.3H1011M1185 383.3H1197M903 385.3H906M993 385.3H999M1176 385.3H1188M909 387.3H912M981 387.3H987M1176 387.3H1182M909 389.3H912M963 389.3H972M1176 389.3H1182M906 391.3H909M954 391.3H960M1182 391.3H1185M903 393.3H906M954 393.3H957M1191 393.3H1194M951 395.3H954M1200 395.3H1203M909 397.3H912M942 397.3H945M1209 397.3H1215M1029 399.3H1035M1047 399.3H1050M1236 399.3H1275M1299 399.3H1338M1017 401.3H1020M1014 403.3H1017M1017 405.3H1020M1062 405.3H1065M1026 407.3H1029M1053 407.3H1056M831 433.3H834M1074 433.3H1077M1095 433.3H1098M897 435.3H900M909 435.3H912M1068 435.3H1071M1101 435.3H1104M891 437.3H894M915 437.3H918M1038 437.3H1041M1068 437.3H1074M1098 437.3H1101" stroke="#ff7000" stroke-width="2" fill="none"/>
<path d="M849 438.8H852M882 438.8H885M930 438.8H933M972 438.8H993M1017 438.8H1023M1059 438.8H1074M1101 438.8H1104" stroke="#ff6000" stroke-width="1" fill="none"/>
<path d="M1095 253.3H1101M1092 255.3H1095M1101 255.3H1107M1089 257.3H1092M1104 257.3H1110M1086 259.3H1089M1107 259.3H1110M1110 261.3H1113M1083 263.3H1086M1113 263.3H1116M1080 265.3H1083M1116 265.3H1119M1080 267.3H1083M1119 267.3H1122M1077 269.3H1080M1122 269.3H1128M1128 271.3H1131M1074 273.3H1077M1131 273.3H1137M1074 275.3H1077M1137 275.3H1140M1140 279.3H1143M1071 281.3H1074M1140 281.3H1143M1071 283.3H1074M1140 283.3H1143M1140 285.3H1143M1068 287.3H1071M1140 287.3H1143M1068 289.3H1071M1137 289.3H1140M1068 291.3H1071M1137 291.3H1140M1134 293.3H1137M1134 295.3H1137M1065 297.3H1068M1065 299.3H1068M1137 299.3H1140M1065 301.3H1068M1137 301.3H1140M1140 305.3H1143M1062 307.3H1065M1140 307.3H1143M1059 313.3H1062M1143 313.3H1146M1143 315.3H1146M1056 317.3H1059M1143 317.3H1146M1056 319.3H1059M1146 319.3H1149M1056 321.3H1059M1146 321.3H1149M1149 323.3H1152M1152 327.3H1155M1152 329.3H1155M1053 335.3H1056M1053 337.3H1056M1155 341.3H1158M1050 343.3H1053M1155 343.3H1158M1050 345.3H1053M1155 345.3H1158M1158 347.3H1161M1158 349.3H1161M1161 351.3H1164M1047 353.3H1050M1047 355.3H1050M1164 355.3H1167M1047 357.3H1050M1167 357.3H1170M1044 359.3H1047M1044 361.3H1047M1170 361.3H1173M1044 363.3H1047M1173 363.3H1176M1044 365.3H1047M1044 367.3H1047M1176 367.3H1179M1044 369.3H1047M1179 369.3H1182M1044 371.3H1047M1179 371.3H1182M1044 373.3H1047M1182 373.3H1185M1044 375.3H1047M1185 375.3H1188M825 377.3H831M1041 377.3H1044M1185 377.3H1191M837 379.3H843M1038 379.3H1041M1185 379.3H1194M855 381.3H861M1026 381.3H1032M1182 381.3H1191M879 383.3H888M1011 383.3H1017M1173 383.3H1185M900 385.3H903M999 385.3H1005M1170 385.3H1176M906 387.3H909M987 387.3H993M1170 387.3H1176M972 389.3H981M1173 389.3H1176M960 391.3H966M1176 391.3H1182M957 393.3H963M1185 393.3H1191M903 395.3H906M954 395.3H960M1197 395.3H1200M945 397.3H951M1206 397.3H1209M1026 399.3H1029M1050 399.3H1053M1221 399.3H1236M1014 401.3H1017M1062 401.3H1065M1065 403.3H1068M1014 405.3H1017M1023 407.3H1026M1071 433.3H1074M1098 433.3H1101M837 435.3H840M894 435.3H897M912 435.3H915M1065 435.3H1068M1104 435.3H1107M840 437.3H843M888 437.3H891M918 437.3H921M1029 437.3H1038M1041 437.3H1056M1062 437.3H1068M1101 437.3H1104" stroke="#ff6000" stroke-width="2" fill="none"/>
<path d="M852 438.8H858M879 438.8H882M933 438.8H936M966 438.8H972M993 438.8H1017M1104 438.8H1107" stroke="#ff5000" stroke-width="1" fill="none"/>
<path d="M1095 255.3H1101M1092 257.3H1104M1089 259.3H1092M1104 259.3H1107M1086 261.3H1089M1107 261.3H1110M1110 263.3H1113M1083 265.3H1086M1110 265.3H1116M1113 267.3H1119M1080 269.3H1083M1116 269.3H1122M1077 271.3H1080M1122 271.3H1128M1077 273.3H1080M1125 273.3H1131M1131 275.3H1137M1074 277.3H1077M1134 277.3H1140M1074 279.3H1077M1137 279.3H1140M1137 283.3H1140M1071 285.3H1074M1137 285.3H1140M1071 287.3H1074M1137 287.3H1140M1134 289.3H1137M1131 291.3H1137M1068 293.3H1071M1131 293.3H1134M1068 295.3H1071M1131 295.3H1134M1068 297.3H1071M1134 297.3H1137M1134 299.3H1137M1065 303.3H1068M1137 303.3H1140M1065 305.3H1068M1062 309.3H1065M1140 309.3H1143M1062 311.3H1065M1140 311.3H1143M1140 313.3H1143M1059 315.3H1062M1140 315.3H1143M1143 319.3H1146M1056 323.3H1059M1146 323.3H1149M1056 325.3H1059M1149 325.3H1152M1056 327.3H1059M1149 327.3H1152M1056 329.3H1059M1056 331.3H1059M1152 331.3H1155M1056 333.3H1059M1152 333.3H1155M1152 335.3H1155M1152 337.3H1155M1053 339.3H1056M1152 339.3H1155M1053 341.3H1056M1152 341.3H1155M1050 347.3H1053M1155 347.3H1158M1050 349.3H1053M1050 351.3H1053M1158 351.3H1161M1050 353.3H1053M1161 353.3H1164M1047 359.3H1050M1167 359.3H1170M1047 361.3H1050M1047 363.3H1050M1170 363.3H1173M1047 365.3H1050M1173 365.3H1176M1047 367.3H1050M1173 367.3H1176M1047 369.3H1050M1176 369.3H1179M1047 371.3H1050M1176 371.3H1179M1047 373.3H1050M1179 373.3H1182M1047 375.3H1050M1179 375.3H1185M1044 377.3H1047M1179 377.3H1185M831 379.3H837M1041 379.3H1044M1176 379.3H1185M849 381.3H855M1032 381.3H1038M1170 381.3H1182M873 383.3H879M1017 383.3H1023M1167 383.3H1173M894 385.3H900M1005 385.3H1008M1167 385.3H1170M903 387.3H906M993 387.3H999M1167 387.3H1170M906 389.3H909M981 389.3H987M1170 389.3H1173M903 391.3H906M966 391.3H975M1173 391.3H1176M963 393.3H966M1179 393.3H1185M960 395.3H963M1191 395.3H1197M906 397.3H909M951 397.3H957M1203 397.3H1206M1020 399.3H1026M1053 399.3H1056M1215 399.3H1221M1356 401.3H1358.2M1011 403.3H1014M1020 407.3H1023M1056 407.3H1059M1188 413.3H1200M1185 415.3H1200M834 433.3H837M1068 433.3H1071M1101 433.3H1104M840 435.3H843M891 435.3H894M915 435.3H918M966 435.3H981M1056 435.3H1065M843 437.3H846M921 437.3H924M966 437.3H987M1023 437.3H1029M1056 437.3H1062M1104 437.3H1107" stroke="#ff5000" stroke-width="2" fill="none"/>
<path d="M858 438.8H864M870 438.8H879M936 438.8H942M960 438.8H966M1107 438.8H1113M1344 438.8H1358.2" stroke="#ff4000" stroke-width="1" fill="none"/>
<path d="M1092 259.3H1104M1089 261.3H1092M1101 261.3H1107M1086 263.3H1089M1104 263.3H1110M1086 265.3H1089M1107 265.3H1110M1083 267.3H1086M1110 267.3H1113M1113 269.3H1116M1080 271.3H1083M1116 271.3H1122M1119 273.3H1125M1077 275.3H1080M1125 275.3H1131M1131 277.3H1134M1134 279.3H1137M1074 281.3H1077M1134 281.3H1140M1074 283.3H1077M1134 283.3H1137M1074 285.3H1077M1134 285.3H1137M1131 287.3H1137M1071 289.3H1074M1131 289.3H1134M1071 291.3H1074M1128 291.3H1131M1071 293.3H1074M1128 293.3H1131M1131 297.3H1134M1068 299.3H1071M1068 301.3H1071M1134 301.3H1137M1137 305.3H1140M1065 307.3H1068M1137 307.3H1140M1137 309.3H1140M1062 313.3H1065M1059 317.3H1062M1140 317.3H1143M1059 319.3H1062M1140 319.3H1143M1143 321.3H1146M1143 323.3H1146M1146 325.3H1149M1149 329.3H1152M1149 331.3H1152M1149 333.3H1152M1056 335.3H1059M1056 337.3H1059M1053 343.3H1056M1152 343.3H1155M1053 345.3H1056M1152 345.3H1155M1053 347.3H1056M1155 349.3H1158M1050 355.3H1053M1161 355.3H1164M1050 357.3H1053M1164 357.3H1167M1050 359.3H1053M1050 361.3H1053M1167 361.3H1170M1050 363.3H1053M1050 365.3H1053M1170 365.3H1173M1050 367.3H1053M1050 369.3H1053M1173 369.3H1176M1050 371.3H1053M1173 371.3H1176M1050 373.3H1053M1176 373.3H1179M1050 375.3H1053M1176 375.3H1179M1047 377.3H1050M1173 377.3H1179M825 379.3H831M1044 379.3H1047M1164 379.3H1176M843 381.3H849M1038 381.3H1041M1161 381.3H1170M867 383.3H873M1023 383.3H1029M1161 383.3H1167M888 385.3H894M1008 385.3H1014M1161 385.3H1167M900 387.3H903M999 387.3H1002M1164 387.3H1167M903 389.3H906M987 389.3H993M1167 389.3H1170M975 391.3H984M1170 391.3H1173M900 393.3H903M966 393.3H975M1176 393.3H1179M900 395.3H903M963 395.3H969M1185 395.3H1191M957 397.3H963M1197 397.3H1203M1017 399.3H1020M1056 399.3H1059M1209 399.3H1215M1011 401.3H1014M1065 401.3H1068M1350 401.3H1356M1008 403.3H1011M1011 405.3H1014M1065 405.3H1068M1017 407.3H1020M1059 407.3H1062M1191 411.3H1200M1182 413.3H1188M1200 413.3H1203M1179 415.3H1185M1200 415.3H1203M1182 417.3H1200M900 433.3H909M1062 433.3H1068M888 435.3H891M918 435.3H921M963 435.3H966M981 435.3H987M1029 435.3H1056M1107 435.3H1110M846 437.3H849M885 437.3H888M924 437.3H927M963 437.3H966M987 437.3H993M1017 437.3H1023M1107 437.3H1110" stroke="#ff4000" stroke-width="2" fill="none"/>
<path d="M864 438.8H870M942 438.8H960M1113 438.8H1116M1335 438.8H1344" stroke="#ff3000" stroke-width="1" fill="none"/>
<path d="M1092 261.3H1101M1089 263.3H1104M1089 265.3H1092M1101 265.3H1107M1086 267.3H1089M1104 267.3H1110M1083 269.3H1086M1107 269.3H1113M1083 271.3H1086M1110 271.3H1116M1080 273.3H1083M1113 273.3H1119M1080 275.3H1083M1116 275.3H1125M1077 277.3H1080M1122 277.3H1131M1077 279.3H1080M1125 279.3H1134M1077 281.3H1080M1128 281.3H1134M1128 283.3H1134M1128 285.3H1134M1074 287.3H1077M1125 287.3H1131M1074 289.3H1077M1125 289.3H1131M1074 291.3H1077M1125 291.3H1128M1125 293.3H1128M1071 295.3H1074M1128 295.3H1131M1071 297.3H1074M1128 297.3H1131M1131 299.3H1134M1131 301.3H1134M1068 303.3H1071M1134 303.3H1137M1068 305.3H1071M1134 305.3H1137M1065 309.3H1068M1065 311.3H1068M1137 311.3H1140M1137 313.3H1140M1062 315.3H1065M1137 315.3H1140M1137 317.3H1140M1059 321.3H1062M1140 321.3H1143M1059 323.3H1062M1059 325.3H1062M1143 325.3H1146M1059 327.3H1062M1146 327.3H1149M1059 329.3H1062M1146 329.3H1149M1059 331.3H1062M1149 335.3H1152M1149 337.3H1152M1056 339.3H1059M1149 339.3H1152M1056 341.3H1059M1149 341.3H1152M1149 343.3H1152M1152 347.3H1155M1053 349.3H1056M1053 351.3H1056M1155 351.3H1158M1053 353.3H1056M1158 353.3H1161M1053 355.3H1056M1053 357.3H1056M1161 357.3H1164M1053 359.3H1056M1164 359.3H1167M1053 361.3H1056M1053 363.3H1056M1167 363.3H1170M1053 365.3H1056M1053 367.3H1056M1170 367.3H1173M1053 369.3H1056M1170 369.3H1173M1053 371.3H1056M1170 371.3H1173M1053 373.3H1056M1170 373.3H1176M1053 375.3H1056M1167 375.3H1176M1050 377.3H1053M1161 377.3H1173M1047 379.3H1050M1155 379.3H1164M837 381.3H843M1041 381.3H1047M1155 381.3H1161M858 383.3H867M1029 383.3H1035M1155 383.3H1161M885 385.3H888M1014 385.3H1020M1158 385.3H1161M897 387.3H900M1002 387.3H1008M1161 387.3H1164M900 389.3H903M993 389.3H999M1164 389.3H1167M900 391.3H903M984 391.3H990M1167 391.3H1170M975 393.3H981M1170 393.3H1176M969 395.3H975M1182 395.3H1185M903 397.3H906M963 397.3H969M1194 397.3H1197M921 399.3H963M1011 399.3H1017M1059 399.3H1062M1206 399.3H1209M1008 401.3H1011M1221 401.3H1233M1344 401.3H1350M1005 403.3H1008M1068 403.3H1071M1008 405.3H1011M1014 407.3H1017M1029 409.3H1047M1185 411.3H1191M1200 411.3H1206M1179 413.3H1182M1203 413.3H1209M1176 415.3H1179M1203 415.3H1206M1179 417.3H1182M1200 417.3H1206M1188 419.3H1197M825 431.3H828M837 433.3H840M897 433.3H900M909 433.3H912M972 433.3H975M1056 433.3H1062M1104 433.3H1107M843 435.3H846M921 435.3H924M960 435.3H963M987 435.3H990M1023 435.3H1029M1110 435.3H1113M849 437.3H852M882 437.3H885M927 437.3H930M957 437.3H963M993 437.3H1017M1110 437.3H1113" stroke="#ff3000" stroke-width="2" fill="none"/>
<path d="M1116 438.8H1119M1323 438.8H1335" stroke="#ff2000" stroke-width="1" fill="none"/>
<path d="M1092 265.3H1101M1089 267.3H1104M1086 269.3H1092M1101 269.3H1107M1086 271.3H1089M1107 271.3H1110M1083 273.3H1086M1110 273.3H1113M1113 275.3H1116M1080 277.3H1083M1116 277.3H1122M1080 279.3H1083M1116 279.3H1125M1119 281.3H1128M1077 283.3H1080M1119 283.3H1128M1077 285.3H1080M1119 285.3H1128M1077 287.3H1080M1119 287.3H1125M1122 289.3H1125M1122 291.3H1125M1074 293.3H1077M1122 293.3H1125M1074 295.3H1077M1125 295.3H1128M1125 297.3H1128M1071 299.3H1074M1128 299.3H1131M1071 301.3H1074M1071 303.3H1074M1131 303.3H1134M1068 307.3H1071M1134 307.3H1137M1068 309.3H1071M1134 309.3H1137M1134 311.3H1137M1065 313.3H1068M1134 313.3H1137M1134 315.3H1137M1062 317.3H1065M1062 319.3H1065M1137 319.3H1140M1137 321.3H1140M1140 323.3H1143M1143 327.3H1146M1146 331.3H1149M1059 333.3H1062M1146 333.3H1149M1059 335.3H1062M1146 335.3H1149M1059 337.3H1062M1146 337.3H1149M1146 339.3H1149M1056 343.3H1059M1056 345.3H1059M1149 345.3H1152M1056 347.3H1059M1149 347.3H1152M1056 349.3H1059M1152 349.3H1155M1056 351.3H1059M1056 353.3H1059M1155 353.3H1158M1056 355.3H1059M1158 355.3H1161M1056 357.3H1059M1056 359.3H1059M1161 359.3H1164M1056 361.3H1059M1164 361.3H1167M1056 363.3H1059M1164 363.3H1167M1056 365.3H1059M1167 365.3H1170M1056 367.3H1059M1167 367.3H1170M1056 369.3H1062M1167 369.3H1170M1056 371.3H1059M1167 371.3H1170M1056 373.3H1059M1164 373.3H1170M1056 375.3H1059M1158 375.3H1167M1053 377.3H1056M1152 377.3H1161M1050 379.3H1053M1149 379.3H1155M828 381.3H837M1047 381.3H1050M1149 381.3H1155M849 383.3H858M1035 383.3H1041M1152 383.3H1155M879 385.3H885M1020 385.3H1026M1155 385.3H1158M894 387.3H897M1008 387.3H1011M1158 387.3H1161M999 389.3H1002M1161 389.3H1164M990 391.3H996M1164 391.3H1167M897 393.3H900M981 393.3H987M1167 393.3H1170M897 395.3H900M975 395.3H981M1176 395.3H1182M969 397.3H975M1026 397.3H1041M1188 397.3H1194M915 399.3H921M963 399.3H969M1008 399.3H1011M1200 399.3H1206M1002 401.3H1008M1068 401.3H1071M1212 401.3H1221M1233 401.3H1254M1272 401.3H1305M1332 401.3H1344M1002 403.3H1005M1356 403.3H1358.2M1005 405.3H1008M1068 405.3H1071M1011 407.3H1014M1062 407.3H1065M1023 409.3H1029M1047 409.3H1050M1191 409.3H1206M1179 411.3H1185M1206 411.3H1209M1176 413.3H1179M1209 413.3H1212M1173 415.3H1176M1206 415.3H1209M1176 417.3H1179M1206 417.3H1209M1182 419.3H1188M1197 419.3H1203M828 431.3H831M1077 431.3H1092M840 433.3H843M894 433.3H897M912 433.3H918M963 433.3H972M975 433.3H981M1029 433.3H1056M1107 433.3H1110M846 435.3H849M885 435.3H888M924 435.3H927M957 435.3H960M990 435.3H996M1014 435.3H1023M852 437.3H855M876 437.3H882M930 437.3H936M951 437.3H957M1113 437.3H1116M1356 437.3H1358.2" stroke="#ff2000" stroke-width="2" fill="none"/>
<path d="M1119 438.8H1122M1275 438.8H1323" stroke="#ff1000" stroke-width="1" fill="none"/>
<path d="M1092 269.3H1101M1089 271.3H1107M1086 273.3H1089M1104 273.3H1110M1083 275.3H1086M1107 275.3H1113M1083 277.3H1086M1110 277.3H1116M1110 279.3H1116M1080 281.3H1083M1113 281.3H1119M1080 283.3H1083M1113 283.3H1119M1080 285.3H1083M1116 285.3H1119M1116 287.3H1119M1077 289.3H1080M1116 289.3H1122M1077 291.3H1080M1116 291.3H1122M1077 293.3H1080M1119 293.3H1122M1122 295.3H1125M1074 297.3H1077M1122 297.3H1125M1074 299.3H1077M1125 299.3H1128M1128 301.3H1131M1071 305.3H1074M1131 305.3H1134M1071 307.3H1074M1131 307.3H1134M1068 311.3H1071M1065 315.3H1068M1065 317.3H1068M1134 317.3H1137M1134 319.3H1137M1062 321.3H1065M1062 323.3H1065M1137 323.3H1140M1062 325.3H1065M1140 325.3H1143M1062 327.3H1065M1140 327.3H1143M1062 329.3H1065M1143 329.3H1146M1062 331.3H1065M1143 331.3H1146M1143 333.3H1146M1059 339.3H1062M1059 341.3H1062M1146 341.3H1149M1146 343.3H1149M1146 345.3H1149M1149 349.3H1152M1152 351.3H1155M1152 353.3H1155M1155 355.3H1158M1158 357.3H1161M1059 359.3H1062M1059 361.3H1062M1161 361.3H1164M1059 363.3H1062M1059 365.3H1062M1164 365.3H1167M1059 367.3H1065M1164 367.3H1167M1062 369.3H1065M1164 369.3H1167M1059 371.3H1062M1164 371.3H1167M1059 373.3H1062M1158 373.3H1164M1059 375.3H1062M1149 375.3H1158M1056 377.3H1059M1146 377.3H1152M1053 379.3H1059M1143 379.3H1149M825 381.3H828M1050 381.3H1053M1146 381.3H1149M843 383.3H849M1041 383.3H1047M1149 383.3H1152M873 385.3H879M1026 385.3H1032M1152 385.3H1155M891 387.3H894M1011 387.3H1017M1155 387.3H1158M897 389.3H900M1002 389.3H1008M1158 389.3H1161M897 391.3H900M996 391.3H1002M1161 391.3H1164M987 393.3H996M1164 393.3H1167M981 395.3H990M1173 395.3H1176M900 397.3H903M975 397.3H981M1011 397.3H1026M1041 397.3H1050M1182 397.3H1188M912 399.3H915M969 399.3H975M1002 399.3H1008M1062 399.3H1065M1194 399.3H1200M951 401.3H969M999 401.3H1002M1203 401.3H1212M1254 401.3H1272M1305 401.3H1332M999 403.3H1002M1071 403.3H1074M1215 403.3H1224M1353 403.3H1356M1002 405.3H1005M1005 407.3H1011M1065 407.3H1068M1197 407.3H1209M1017 409.3H1023M1050 409.3H1053M1185 409.3H1191M1206 409.3H1212M1176 411.3H1179M1209 411.3H1212M1173 413.3H1176M1212 413.3H1215M1170 415.3H1173M1209 415.3H1212M1173 417.3H1176M1209 417.3H1212M1176 419.3H1182M1203 419.3H1206M831 431.3H834M1068 431.3H1077M1092 431.3H1098M891 433.3H894M918 433.3H921M960 433.3H963M981 433.3H987M1020 433.3H1029M1110 433.3H1113M849 435.3H852M882 435.3H885M927 435.3H930M951 435.3H957M996 435.3H1014M1113 435.3H1116M855 437.3H864M870 437.3H876M936 437.3H951M1116 437.3H1119M1347 437.3H1356" stroke="#ff1000" stroke-width="2" fill="none"/>
<path d="M1122 438.8H1125M1263 438.8H1275" stroke="#ff0000" stroke-width="1" fill="none"/>
<path d="M1089 273.3H1104M1086 275.3H1095M1098 275.3H1107M1086 277.3H1089M1104 277.3H1110M1083 279.3H1086M1107 279.3H1110M1083 281.3H1086M1107 281.3H1113M1083 283.3H1086M1110 283.3H1113M1083 285.3H1086M1110 285.3H1116M1080 287.3H1083M1110 287.3H1116M1080 289.3H1083M1113 289.3H1116M1080 291.3H1083M1113 291.3H1116M1080 293.3H1083M1116 293.3H1119M1077 295.3H1080M1119 295.3H1122M1077 297.3H1080M1122 299.3H1125M1074 301.3H1077M1125 301.3H1128M1074 303.3H1077M1128 303.3H1131M1128 305.3H1131M1071 309.3H1074M1131 309.3H1134M1071 311.3H1074M1131 311.3H1134M1068 313.3H1071M1131 313.3H1134M1068 315.3H1071M1131 315.3H1134M1131 317.3H1134M1065 319.3H1068M1131 319.3H1134M1065 321.3H1068M1134 321.3H1137M1065 323.3H1068M1134 323.3H1137M1137 325.3H1140M1140 329.3H1143M1140 331.3H1143M1062 333.3H1065M1062 335.3H1065M1143 335.3H1146M1062 337.3H1065M1143 337.3H1146M1143 339.3H1146M1143 341.3H1146M1059 343.3H1062M1143 343.3H1146M1059 345.3H1062M1059 347.3H1062M1146 347.3H1149M1059 349.3H1062M1059 351.3H1062M1149 351.3H1152M1059 353.3H1062M1059 355.3H1062M1152 355.3H1155M1059 357.3H1062M1155 357.3H1158M1062 359.3H1065M1158 359.3H1161M1062 361.3H1065M1062 363.3H1065M1161 363.3H1164M1062 365.3H1068M1161 365.3H1164M1065 367.3H1068M1161 367.3H1164M1065 369.3H1068M1161 369.3H1164M1062 371.3H1068M1158 371.3H1164M1062 373.3H1065M1152 373.3H1158M1062 375.3H1065M1146 375.3H1149M1059 377.3H1062M1143 377.3H1146M1059 379.3H1062M1140 379.3H1143M1053 381.3H1056M1143 381.3H1146M834 383.3H843M1047 383.3H1050M1146 383.3H1149M864 385.3H873M1032 385.3H1038M1149 385.3H1152M885 387.3H891M1017 387.3H1023M1152 387.3H1155M894 389.3H897M1008 389.3H1014M1155 389.3H1158M894 391.3H897M1002 391.3H1008M1158 391.3H1161M894 393.3H897M996 393.3H1005M1161 393.3H1164M990 395.3H1008M1167 395.3H1173M981 397.3H1011M1050 397.3H1056M1179 397.3H1182M909 399.3H912M975 399.3H984M993 399.3H1002M1065 399.3H1068M1191 399.3H1194M948 401.3H951M969 401.3H978M993 401.3H999M1071 401.3H1074M1197 401.3H1203M957 403.3H969M996 403.3H999M1203 403.3H1215M1224 403.3H1236M1347 403.3H1353M999 405.3H1002M1071 405.3H1074M1200 405.3H1221M1356 405.3H1358.2M1002 407.3H1005M1188 407.3H1197M1209 407.3H1218M1011 409.3H1017M1053 409.3H1059M1179 409.3H1185M1212 409.3H1218M1173 411.3H1176M1212 411.3H1218M1170 413.3H1173M1167 415.3H1170M1212 415.3H1215M1170 417.3H1173M1212 417.3H1215M1173 419.3H1176M1206 419.3H1209M1182 421.3H1203M834 431.3H837M1032 431.3H1068M1098 431.3H1101M843 433.3H846M888 433.3H891M921 433.3H924M957 433.3H960M987 433.3H993M1014 433.3H1020M852 435.3H855M879 435.3H882M930 435.3H933M948 435.3H951M1116 435.3H1119M1356 435.3H1358.2M864 437.3H870M1119 437.3H1122M1341 437.3H1347" stroke="#ff0000" stroke-width="2" fill="none"/>
<path d="M1125 438.8H1128M1218 438.8H1263" stroke="#ef0000" stroke-width="1" fill="none"/>
<path d="M1095 275.3H1098M1089 277.3H1104M1086 279.3H1092M1098 279.3H1107M1086 281.3H1089M1101 281.3H1107M1086 283.3H1089M1104 283.3H1110M1086 285.3H1089M1104 285.3H1110M1083 287.3H1086M1107 287.3H1110M1083 289.3H1086M1107 289.3H1113M1083 291.3H1086M1110 291.3H1113M1083 293.3H1086M1110 293.3H1116M1080 295.3H1083M1113 295.3H1119M1080 297.3H1083M1119 297.3H1122M1077 299.3H1080M1077 301.3H1080M1122 301.3H1125M1125 303.3H1128M1074 305.3H1077M1074 307.3H1077M1128 307.3H1131M1074 309.3H1077M1128 309.3H1131M1128 311.3H1131M1071 313.3H1074M1128 313.3H1131M1071 315.3H1074M1128 315.3H1131M1068 317.3H1071M1128 317.3H1131M1068 319.3H1071M1128 319.3H1131M1131 321.3H1134M1131 323.3H1134M1065 325.3H1068M1134 325.3H1137M1065 327.3H1068M1137 327.3H1140M1065 329.3H1068M1137 329.3H1140M1065 331.3H1068M1065 333.3H1068M1140 333.3H1143M1140 335.3H1143M1140 337.3H1143M1062 339.3H1065M1140 339.3H1143M1062 341.3H1065M1140 341.3H1143M1062 343.3H1065M1062 345.3H1065M1143 345.3H1146M1062 347.3H1065M1143 347.3H1146M1146 349.3H1149M1062 351.3H1065M1146 351.3H1149M1062 353.3H1065M1149 353.3H1152M1062 355.3H1065M1062 357.3H1065M1152 357.3H1155M1155 359.3H1158M1065 361.3H1068M1158 361.3H1161M1065 363.3H1068M1158 363.3H1161M1068 365.3H1071M1158 365.3H1161M1068 367.3H1071M1158 367.3H1161M1068 369.3H1071M1158 369.3H1161M1068 371.3H1071M1152 371.3H1158M1065 373.3H1068M1146 373.3H1152M1065 375.3H1068M1140 375.3H1146M1062 377.3H1065M1140 377.3H1143M1062 379.3H1065M1137 379.3H1140M1056 381.3H1062M1140 381.3H1143M825 383.3H834M1050 383.3H1056M1140 383.3H1146M855 385.3H864M1038 385.3H1047M1146 385.3H1149M882 387.3H885M1023 387.3H1029M1149 387.3H1152M891 389.3H894M1014 389.3H1017M1152 389.3H1155M1008 391.3H1014M1155 391.3H1158M1005 393.3H1011M894 395.3H897M1008 395.3H1026M1164 395.3H1167M897 397.3H900M1056 397.3H1059M1173 397.3H1179M906 399.3H909M984 399.3H993M1068 399.3H1071M1185 399.3H1191M942 401.3H948M978 401.3H993M1194 401.3H1197M951 403.3H957M969 403.3H978M990 403.3H996M1074 403.3H1077M1194 403.3H1203M1236 403.3H1245M1341 403.3H1347M960 405.3H969M993 405.3H999M1191 405.3H1200M1221 405.3H1230M1353 405.3H1356M999 407.3H1002M1068 407.3H1071M1182 407.3H1188M1218 407.3H1224M1356 407.3H1358.2M1005 409.3H1011M1059 409.3H1062M1176 409.3H1179M1218 409.3H1221M1356 409.3H1358.2M1170 411.3H1173M1218 411.3H1221M1356 411.3H1358.2M1167 413.3H1170M1215 413.3H1218M1356 413.3H1358.2M1164 415.3H1167M1215 415.3H1218M1353 415.3H1358.2M1167 417.3H1170M1353 417.3H1358.2M1170 419.3H1173M1209 419.3H1212M1356 419.3H1358.2M1176 421.3H1182M1203 421.3H1209M1356 421.3H1358.2M837 431.3H840M1020 431.3H1032M1101 431.3H1104M846 433.3H849M885 433.3H888M924 433.3H927M951 433.3H957M993 433.3H1014M1113 433.3H1116M1356 433.3H1358.2M855 435.3H861M873 435.3H879M933 435.3H948M1119 435.3H1122M1350 435.3H1356M1122 437.3H1125M1332 437.3H1341" stroke="#ef0000" stroke-width="2" fill="none"/>
<path d="M1128 438.8H1134M1203 438.8H1218" stroke="#df0000" stroke-width="1" fill="none"/>
<path d="M1092 279.3H1098M1089 281.3H1101M1089 283.3H1104M1089 285.3H1104M1086 287.3H1092M1098 287.3H1107M1086 289.3H1092M1101 289.3H1107M1086 291.3H1089M1104 291.3H1110M1086 293.3H1089M1107 293.3H1110M1083 295.3H1086M1110 295.3H1113M1083 297.3H1086M1113 297.3H1119M1080 299.3H1083M1119 299.3H1122M1080 301.3H1083M1077 303.3H1080M1122 303.3H1125M1077 305.3H1080M1125 305.3H1128M1077 307.3H1080M1125 307.3H1128M1125 309.3H1128M1074 311.3H1077M1125 311.3H1128M1074 313.3H1077M1125 313.3H1128M1074 315.3H1077M1125 315.3H1128M1071 317.3H1074M1125 317.3H1128M1071 319.3H1074M1125 319.3H1128M1068 321.3H1071M1128 321.3H1131M1068 323.3H1071M1128 323.3H1131M1068 325.3H1071M1131 325.3H1134M1068 327.3H1071M1134 327.3H1137M1134 329.3H1137M1137 331.3H1140M1137 333.3H1140M1065 335.3H1068M1137 335.3H1140M1065 337.3H1068M1137 337.3H1140M1065 339.3H1068M1065 341.3H1068M1140 343.3H1143M1140 345.3H1143M1140 347.3H1143M1062 349.3H1065M1143 349.3H1146M1143 351.3H1146M1146 353.3H1149M1065 355.3H1068M1149 355.3H1152M1065 357.3H1068M1065 359.3H1068M1152 359.3H1155M1068 361.3H1071M1155 361.3H1158M1068 363.3H1071M1155 363.3H1158M1071 365.3H1074M1071 367.3H1074M1155 367.3H1158M1071 369.3H1074M1152 369.3H1158M1071 371.3H1074M1146 371.3H1152M1068 373.3H1071M1140 373.3H1146M1068 375.3H1071M1137 375.3H1140M1065 377.3H1068M1137 377.3H1140M1065 379.3H1068M1134 379.3H1137M1062 381.3H1065M1137 381.3H1140M1056 383.3H1062M1137 383.3H1140M843 385.3H855M1047 385.3H1053M1143 385.3H1146M876 387.3H882M1029 387.3H1035M1146 387.3H1149M888 389.3H891M1017 389.3H1023M1149 389.3H1152M891 391.3H894M1014 391.3H1017M1152 391.3H1155M891 393.3H894M1011 393.3H1020M1158 393.3H1161M1026 395.3H1038M1161 395.3H1164M1059 397.3H1062M1170 397.3H1173M903 399.3H906M1179 399.3H1185M936 401.3H942M1074 401.3H1077M1188 401.3H1194M948 403.3H951M978 403.3H990M1191 403.3H1194M1245 403.3H1317M1326 403.3H1341M954 405.3H960M969 405.3H981M984 405.3H993M1074 405.3H1077M1185 405.3H1191M1230 405.3H1239M1347 405.3H1353M993 407.3H999M1071 407.3H1074M1179 407.3H1182M1224 407.3H1230M1353 407.3H1356M999 409.3H1005M1062 409.3H1065M1173 409.3H1176M1221 409.3H1227M1353 409.3H1356M1011 411.3H1047M1167 411.3H1170M1221 411.3H1224M1350 411.3H1356M1164 413.3H1167M1218 413.3H1224M1347 413.3H1356M1218 415.3H1221M1347 415.3H1353M1164 417.3H1167M1215 417.3H1218M1347 417.3H1353M1167 419.3H1170M1212 419.3H1215M1350 419.3H1356M1173 421.3H1176M1209 421.3H1212M1353 421.3H1356M1188 423.3H1200M1353 423.3H1358.2M1356 425.3H1358.2M1356 427.3H1358.2M825 429.3H828M1029 429.3H1047M1356 429.3H1358.2M840 431.3H843M897 431.3H912M966 431.3H978M1011 431.3H1020M1104 431.3H1107M1356 431.3H1358.2M849 433.3H852M879 433.3H885M927 433.3H930M948 433.3H951M1116 433.3H1119M1353 433.3H1356M861 435.3H873M1122 435.3H1125M1344 435.3H1350M1125 437.3H1128M1323 437.3H1332" stroke="#df0000" stroke-width="2" fill="none"/>
<path d="M1134 438.8H1137M1188 438.8H1203" stroke="#cf0000" stroke-width="1" fill="none"/>
<path d="M1092 287.3H1098M1092 289.3H1101M1089 291.3H1104M1089 293.3H1107M1086 295.3H1092M1104 295.3H1110M1086 297.3H1089M1110 297.3H1113M1083 299.3H1086M1113 299.3H1119M1119 301.3H1122M1080 303.3H1083M1119 303.3H1122M1080 305.3H1083M1122 305.3H1125M1122 307.3H1125M1077 309.3H1080M1077 311.3H1080M1077 313.3H1080M1122 313.3H1125M1077 315.3H1080M1122 315.3H1125M1074 317.3H1077M1122 317.3H1125M1074 319.3H1077M1122 319.3H1125M1071 321.3H1077M1125 321.3H1128M1071 323.3H1074M1125 323.3H1128M1071 325.3H1074M1128 325.3H1131M1131 327.3H1134M1068 329.3H1071M1131 329.3H1134M1068 331.3H1071M1134 331.3H1137M1068 333.3H1071M1134 333.3H1137M1068 335.3H1071M1134 335.3H1137M1068 337.3H1071M1137 339.3H1140M1137 341.3H1140M1065 343.3H1068M1137 343.3H1140M1065 345.3H1068M1137 345.3H1140M1065 347.3H1068M1065 349.3H1068M1140 349.3H1143M1065 351.3H1068M1140 351.3H1143M1065 353.3H1068M1143 353.3H1146M1146 355.3H1149M1068 357.3H1071M1149 357.3H1152M1068 359.3H1071M1149 359.3H1152M1071 361.3H1074M1152 361.3H1155M1071 363.3H1074M1152 363.3H1155M1074 365.3H1077M1155 365.3H1158M1074 367.3H1077M1152 367.3H1155M1074 369.3H1077M1149 369.3H1152M1074 371.3H1077M1143 371.3H1146M1071 373.3H1074M1137 373.3H1140M1071 375.3H1074M1134 375.3H1137M1068 377.3H1071M1134 377.3H1137M1068 379.3H1071M1131 379.3H1134M1065 381.3H1068M1134 381.3H1137M1062 383.3H1065M1134 383.3H1137M831 385.3H843M1053 385.3H1062M1137 385.3H1143M870 387.3H876M1035 387.3H1047M1143 387.3H1146M885 389.3H888M1023 389.3H1029M1146 389.3H1149M1017 391.3H1026M1149 391.3H1152M1020 393.3H1029M1155 393.3H1158M891 395.3H894M1038 395.3H1050M1158 395.3H1161M894 397.3H897M1062 397.3H1068M1164 397.3H1170M900 399.3H903M1071 399.3H1074M1173 399.3H1179M930 401.3H936M1077 401.3H1080M1182 401.3H1188M945 403.3H948M1077 403.3H1080M1185 403.3H1191M1317 403.3H1326M948 405.3H954M981 405.3H984M1077 405.3H1080M1182 405.3H1185M1239 405.3H1245M1341 405.3H1347M957 407.3H993M1173 407.3H1179M1230 407.3H1236M1347 407.3H1353M993 409.3H999M1065 409.3H1068M1167 409.3H1173M1227 409.3H1230M1347 409.3H1353M1002 411.3H1011M1047 411.3H1053M1164 411.3H1167M1224 411.3H1227M1344 411.3H1350M1161 413.3H1164M1224 413.3H1227M1284 413.3H1296M1338 413.3H1347M1161 415.3H1164M1221 415.3H1224M1275 415.3H1308M1332 415.3H1347M1161 417.3H1164M1218 417.3H1221M1335 417.3H1347M1164 419.3H1167M1215 419.3H1221M1341 419.3H1350M1167 421.3H1173M1212 421.3H1215M1347 421.3H1353M1179 423.3H1188M1200 423.3H1209M1350 423.3H1353M1353 425.3H1356M1353 427.3H1356M828 429.3H831M1017 429.3H1029M1047 429.3H1071M1353 429.3H1356M843 431.3H846M891 431.3H897M912 431.3H918M957 431.3H966M978 431.3H987M1005 431.3H1011M1107 431.3H1113M1353 431.3H1356M852 433.3H858M876 433.3H879M930 433.3H948M1119 433.3H1122M1347 433.3H1353M1125 435.3H1128M1338 435.3H1344M1128 437.3H1134M1224 437.3H1266M1308 437.3H1323" stroke="#cf0000" stroke-width="2" fill="none"/>
<path d="M1137 438.8H1146M1170 438.8H1188" stroke="#bf0000" stroke-width="1" fill="none"/>
<path d="M1092 295.3H1104M1089 297.3H1095M1104 297.3H1110M1086 299.3H1089M1110 299.3H1113M1083 301.3H1086M1113 301.3H1119M1083 303.3H1086M1119 305.3H1122M1080 307.3H1083M1080 309.3H1083M1122 309.3H1125M1080 311.3H1083M1122 311.3H1125M1080 313.3H1083M1119 313.3H1122M1080 315.3H1083M1119 315.3H1122M1077 317.3H1083M1119 317.3H1122M1077 319.3H1083M1119 319.3H1122M1077 321.3H1080M1122 321.3H1125M1074 323.3H1077M1122 323.3H1125M1074 325.3H1077M1125 325.3H1128M1071 327.3H1074M1128 327.3H1131M1071 329.3H1074M1128 329.3H1131M1071 331.3H1074M1131 331.3H1134M1071 333.3H1074M1131 333.3H1134M1071 335.3H1074M1131 335.3H1134M1134 337.3H1137M1068 339.3H1071M1134 339.3H1137M1068 341.3H1071M1134 341.3H1137M1068 343.3H1071M1134 343.3H1137M1068 345.3H1071M1134 345.3H1137M1068 347.3H1071M1134 347.3H1140M1068 349.3H1071M1137 349.3H1140M1068 351.3H1071M1137 351.3H1140M1068 353.3H1071M1140 353.3H1143M1068 355.3H1071M1143 355.3H1146M1071 357.3H1074M1146 357.3H1149M1071 359.3H1074M1146 359.3H1149M1074 361.3H1077M1149 361.3H1152M1074 363.3H1080M1149 363.3H1152M1077 365.3H1080M1149 365.3H1155M1077 367.3H1080M1149 367.3H1152M1077 369.3H1080M1143 369.3H1149M1077 371.3H1080M1137 371.3H1143M1074 373.3H1080M1134 373.3H1137M1074 375.3H1077M1131 375.3H1134M1071 377.3H1077M1131 377.3H1134M1071 379.3H1074M1068 381.3H1074M1131 381.3H1134M1065 383.3H1071M1131 383.3H1134M825 385.3H831M1062 385.3H1068M1134 385.3H1137M858 387.3H870M1047 387.3H1062M1137 387.3H1143M882 389.3H885M1029 389.3H1041M1143 389.3H1146M888 391.3H891M1026 391.3H1032M1146 391.3H1149M888 393.3H891M1029 393.3H1038M1152 393.3H1155M888 395.3H891M1050 395.3H1062M1155 395.3H1158M891 397.3H894M1068 397.3H1071M1161 397.3H1164M897 399.3H900M1074 399.3H1077M1167 399.3H1173M921 401.3H930M1176 401.3H1182M942 403.3H945M1080 403.3H1083M1179 403.3H1185M945 405.3H948M1080 405.3H1083M1176 405.3H1182M1245 405.3H1320M1323 405.3H1341M951 407.3H957M1074 407.3H1077M1170 407.3H1173M1236 407.3H1245M1338 407.3H1347M963 409.3H993M1068 409.3H1071M1164 409.3H1167M1230 409.3H1239M1338 409.3H1347M993 411.3H1002M1053 411.3H1059M1161 411.3H1164M1227 411.3H1233M1275 411.3H1314M1329 411.3H1344M1008 413.3H1035M1158 413.3H1161M1227 413.3H1230M1266 413.3H1284M1296 413.3H1338M1158 415.3H1161M1224 415.3H1230M1263 415.3H1275M1308 415.3H1332M1158 417.3H1161M1221 417.3H1227M1263 417.3H1335M1161 419.3H1164M1221 419.3H1224M1278 419.3H1302M1323 419.3H1341M1164 421.3H1167M1215 421.3H1221M1338 421.3H1347M1173 423.3H1179M1209 423.3H1215M1344 423.3H1350M1347 425.3H1353M1020 427.3H1053M1350 427.3H1353M831 429.3H834M1011 429.3H1017M1071 429.3H1089M1350 429.3H1353M846 431.3H849M885 431.3H891M918 431.3H924M951 431.3H957M987 431.3H1005M1113 431.3H1116M1347 431.3H1353M858 433.3H876M1122 433.3H1128M1341 433.3H1347M1128 435.3H1134M1233 435.3H1245M1329 435.3H1338M1134 437.3H1137M1215 437.3H1224M1266 437.3H1308" stroke="#bf0000" stroke-width="2" fill="none"/>
<path d="M1146 438.8H1170" stroke="#af0000" stroke-width="1" fill="none"/>
<path d="M1095 297.3H1104M1089 299.3H1095M1104 299.3H1110M1086 301.3H1092M1110 301.3H1113M1086 303.3H1089M1113 303.3H1119M1083 305.3H1086M1116 305.3H1119M1083 307.3H1086M1119 307.3H1122M1083 309.3H1086M1119 309.3H1122M1083 311.3H1086M1119 311.3H1122M1083 313.3H1089M1116 313.3H1119M1083 315.3H1092M1116 315.3H1119M1083 317.3H1092M1113 317.3H1119M1083 319.3H1092M1113 319.3H1119M1080 321.3H1089M1116 321.3H1122M1077 323.3H1083M1119 323.3H1122M1077 325.3H1080M1122 325.3H1125M1074 327.3H1080M1122 327.3H1128M1074 329.3H1077M1125 329.3H1128M1074 331.3H1077M1128 331.3H1131M1074 333.3H1077M1128 333.3H1131M1128 335.3H1131M1071 337.3H1074M1131 337.3H1134M1071 339.3H1074M1131 339.3H1134M1071 341.3H1074M1131 341.3H1134M1071 343.3H1074M1131 343.3H1134M1071 345.3H1074M1131 345.3H1134M1071 347.3H1074M1131 347.3H1134M1071 349.3H1074M1134 349.3H1137M1071 351.3H1074M1134 351.3H1137M1071 353.3H1074M1137 353.3H1140M1071 355.3H1074M1137 355.3H1143M1074 357.3H1077M1140 357.3H1146M1074 359.3H1080M1143 359.3H1146M1077 361.3H1080M1146 361.3H1149M1080 363.3H1083M1146 363.3H1149M1080 365.3H1083M1146 365.3H1149M1080 367.3H1083M1143 367.3H1149M1080 369.3H1083M1137 369.3H1143M1080 371.3H1083M1134 371.3H1137M1080 373.3H1083M1131 373.3H1134M1077 375.3H1080M1128 375.3H1131M1077 377.3H1080M1128 377.3H1131M1074 379.3H1080M1128 379.3H1131M1074 381.3H1077M1128 381.3H1131M1071 383.3H1077M1128 383.3H1131M1068 385.3H1074M1131 385.3H1134M837 387.3H858M1062 387.3H1071M1134 387.3H1137M876 389.3H882M1041 389.3H1068M1140 389.3H1143M885 391.3H888M1032 391.3H1062M1143 391.3H1146M885 393.3H888M1038 393.3H1062M1146 393.3H1152M1062 395.3H1068M1152 395.3H1155M1071 397.3H1074M1155 397.3H1161M894 399.3H897M1077 399.3H1080M1164 399.3H1167M912 401.3H921M1080 401.3H1086M1170 401.3H1176M939 403.3H942M1083 403.3H1086M1173 403.3H1179M942 405.3H945M1083 405.3H1086M1170 405.3H1176M1320 405.3H1323M948 407.3H951M1077 407.3H1080M1164 407.3H1170M1245 407.3H1338M954 409.3H963M1071 409.3H1074M1161 409.3H1164M1239 409.3H1251M1263 409.3H1338M978 411.3H993M1059 411.3H1065M1158 411.3H1161M1233 411.3H1245M1257 411.3H1275M1314 411.3H1329M993 413.3H1008M1035 413.3H1050M1155 413.3H1158M1230 413.3H1242M1248 413.3H1266M1155 415.3H1158M1230 415.3H1239M1248 415.3H1263M1155 417.3H1158M1227 417.3H1233M1251 417.3H1263M1155 419.3H1161M1224 419.3H1230M1254 419.3H1278M1302 419.3H1323M1158 421.3H1164M1221 421.3H1224M1317 421.3H1338M1167 423.3H1173M1215 423.3H1221M1335 423.3H1344M1023 425.3H1050M1185 425.3H1209M1341 425.3H1347M1011 427.3H1020M1053 427.3H1068M1344 427.3H1350M834 429.3H837M1002 429.3H1011M1089 429.3H1101M1344 429.3H1350M849 431.3H855M879 431.3H885M924 431.3H933M942 431.3H951M1116 431.3H1122M1341 431.3H1347M1128 433.3H1134M1233 433.3H1245M1335 433.3H1341M1134 435.3H1140M1221 435.3H1233M1245 435.3H1260M1320 435.3H1329M1137 437.3H1146M1209 437.3H1215" stroke="#af0000" stroke-width="2" fill="none"/>
<path d="M1095 299.3H1104M1092 301.3H1110M1089 303.3H1092M1110 303.3H1113M1086 305.3H1092M1113 305.3H1116M1086 307.3H1089M1113 307.3H1119M1086 309.3H1092M1113 309.3H1119M1086 311.3H1092M1113 311.3H1119M1089 313.3H1095M1110 313.3H1116M1092 315.3H1116M1092 317.3H1113M1092 319.3H1113M1089 321.3H1116M1083 323.3H1095M1110 323.3H1119M1080 325.3H1089M1116 325.3H1122M1080 327.3H1083M1119 327.3H1122M1077 329.3H1083M1122 329.3H1125M1077 331.3H1080M1122 331.3H1128M1077 333.3H1080M1125 333.3H1128M1074 335.3H1080M1125 335.3H1128M1074 337.3H1077M1125 337.3H1131M1074 339.3H1077M1125 339.3H1131M1074 341.3H1077M1125 341.3H1131M1074 343.3H1077M1128 343.3H1131M1074 345.3H1077M1128 345.3H1131M1074 347.3H1077M1128 347.3H1131M1074 349.3H1077M1128 349.3H1134M1074 351.3H1077M1128 351.3H1134M1074 353.3H1077M1131 353.3H1137M1074 355.3H1080M1131 355.3H1137M1077 357.3H1080M1134 357.3H1140M1080 359.3H1083M1137 359.3H1143M1080 361.3H1086M1140 361.3H1146M1083 363.3H1086M1140 363.3H1146M1083 365.3H1089M1140 365.3H1146M1083 367.3H1089M1137 367.3H1143M1083 369.3H1089M1131 369.3H1137M1083 371.3H1089M1128 371.3H1134M1083 373.3H1086M1125 373.3H1131M1080 375.3H1086M1125 375.3H1128M1080 377.3H1083M1125 377.3H1128M1080 379.3H1083M1125 379.3H1128M1077 381.3H1083M1125 381.3H1128M1077 383.3H1080M1125 383.3H1128M1074 385.3H1080M1125 385.3H1131M825 387.3H837M1071 387.3H1080M1128 387.3H1134M870 389.3H876M1068 389.3H1077M1134 389.3H1140M882 391.3H885M1062 391.3H1077M1140 391.3H1143M1062 393.3H1074M1143 393.3H1146M885 395.3H888M1068 395.3H1077M1146 395.3H1152M888 397.3H891M1074 397.3H1080M1152 397.3H1155M891 399.3H894M1080 399.3H1086M1158 399.3H1164M903 401.3H912M1086 401.3H1089M1164 401.3H1170M933 403.3H939M1086 403.3H1089M1167 403.3H1173M939 405.3H942M1086 405.3H1089M1164 405.3H1170M942 407.3H948M1080 407.3H1086M1161 407.3H1164M948 409.3H954M1074 409.3H1080M1155 409.3H1161M1251 409.3H1263M957 411.3H978M1065 411.3H1071M1155 411.3H1158M1245 411.3H1257M978 413.3H993M1050 413.3H1062M1152 413.3H1155M1242 413.3H1248M990 415.3H1044M1152 415.3H1155M1239 415.3H1248M1011 417.3H1017M1152 417.3H1155M1233 417.3H1251M1152 419.3H1155M1230 419.3H1254M1155 421.3H1158M1224 421.3H1317M1020 423.3H1056M1161 423.3H1167M1221 423.3H1230M1245 423.3H1266M1320 423.3H1335M1011 425.3H1023M1050 425.3H1065M1173 425.3H1185M1209 425.3H1221M1332 425.3H1341M825 427.3H831M1005 427.3H1011M1068 427.3H1077M1338 427.3H1344M837 429.3H843M993 429.3H1002M1101 429.3H1110M1338 429.3H1344M855 431.3H879M933 431.3H942M1122 431.3H1131M1230 431.3H1251M1335 431.3H1341M1134 433.3H1143M1221 433.3H1233M1245 433.3H1257M1329 433.3H1335M1140 435.3H1146M1215 435.3H1221M1260 435.3H1278M1305 435.3H1320M1146 437.3H1152M1203 437.3H1209" stroke="#9f0000" stroke-width="2" fill="none"/>
<path d="M1092 303.3H1110M1092 305.3H1098M1107 305.3H1113M1089 307.3H1095M1110 307.3H1113M1092 309.3H1098M1107 309.3H1113M1092 311.3H1113M1095 313.3H1110M1095 323.3H1110M1089 325.3H1116M1083 327.3H1095M1110 327.3H1119M1083 329.3H1089M1116 329.3H1122M1080 331.3H1086M1119 331.3H1122M1080 333.3H1083M1119 333.3H1125M1080 335.3H1083M1122 335.3H1125M1077 337.3H1083M1122 337.3H1125M1077 339.3H1083M1122 339.3H1125M1077 341.3H1083M1122 341.3H1125M1077 343.3H1080M1122 343.3H1128M1077 345.3H1080M1122 345.3H1128M1077 347.3H1080M1122 347.3H1128M1077 349.3H1080M1122 349.3H1128M1077 351.3H1080M1122 351.3H1128M1077 353.3H1083M1122 353.3H1131M1080 355.3H1083M1125 355.3H1131M1080 357.3H1086M1125 357.3H1134M1083 359.3H1086M1128 359.3H1137M1086 361.3H1089M1131 361.3H1140M1086 363.3H1092M1131 363.3H1140M1089 365.3H1095M1131 365.3H1140M1089 367.3H1095M1128 367.3H1137M1089 369.3H1095M1125 369.3H1131M1089 371.3H1092M1122 371.3H1128M1086 373.3H1092M1122 373.3H1125M1086 375.3H1092M1122 375.3H1125M1083 377.3H1089M1119 377.3H1125M1083 379.3H1089M1119 379.3H1125M1083 381.3H1086M1119 381.3H1125M1080 383.3H1086M1122 383.3H1125M1080 385.3H1086M1122 385.3H1125M1080 387.3H1086M1122 387.3H1128M858 389.3H870M1077 389.3H1086M1125 389.3H1134M879 391.3H882M1077 391.3H1086M1131 391.3H1140M882 393.3H885M1074 393.3H1086M1137 393.3H1143M882 395.3H885M1077 395.3H1086M1140 395.3H1146M885 397.3H888M1080 397.3H1089M1143 397.3H1152M888 399.3H891M1086 399.3H1092M1149 399.3H1158M894 401.3H903M1089 401.3H1098M1155 401.3H1164M930 403.3H933M1089 403.3H1098M1158 403.3H1167M936 405.3H939M1089 405.3H1098M1158 405.3H1164M840 407.3H876M939 407.3H942M1086 407.3H1095M1155 407.3H1161M840 409.3H876M942 409.3H948M1080 409.3H1089M1152 409.3H1155M852 411.3H870M945 411.3H957M1071 411.3H1080M1149 411.3H1155M963 413.3H978M1062 413.3H1074M1149 413.3H1152M978 415.3H990M1044 415.3H1068M1149 415.3H1152M987 417.3H1011M1017 417.3H1065M1149 417.3H1152M999 419.3H1068M1149 419.3H1152M1005 421.3H1068M1149 421.3H1155M1005 423.3H1020M1056 423.3H1071M1152 423.3H1161M1230 423.3H1245M1266 423.3H1320M825 425.3H828M1002 425.3H1011M1065 425.3H1077M1161 425.3H1173M1221 425.3H1269M1320 425.3H1332M831 427.3H837M996 427.3H1005M1077 427.3H1089M1194 427.3H1260M1329 427.3H1338M843 429.3H852M879 429.3H927M939 429.3H993M1110 429.3H1125M1218 429.3H1260M1332 429.3H1338M1131 431.3H1143M1218 431.3H1230M1251 431.3H1260M1329 431.3H1335M1143 433.3H1149M1215 433.3H1221M1257 433.3H1269M1317 433.3H1329M1146 435.3H1152M1209 435.3H1215M1278 435.3H1305M1152 437.3H1161M1194 437.3H1203" stroke="#8f0000" stroke-width="2" fill="none"/>
<path d="M1098 305.3H1107M1095 307.3H1110M1098 309.3H1107M1095 327.3H1110M1089 329.3H1116M1086 331.3H1119M1083 333.3H1119M1083 335.3H1122M1083 337.3H1122M1083 339.3H1122M1083 341.3H1122M1080 343.3H1122M1080 345.3H1122M1080 347.3H1122M1080 349.3H1122M1080 351.3H1122M1083 353.3H1122M1083 355.3H1125M1086 357.3H1125M1086 359.3H1128M1089 361.3H1131M1092 363.3H1131M1095 365.3H1131M1095 367.3H1128M1095 369.3H1125M1092 371.3H1122M1092 373.3H1122M1092 375.3H1122M1089 377.3H1119M1089 379.3H1119M1086 381.3H1119M1086 383.3H1122M1086 385.3H1122M1086 387.3H1122M825 389.3H858M1086 389.3H1125M825 391.3H879M1086 391.3H1131M825 393.3H882M1086 393.3H1137M825 395.3H882M1086 395.3H1140M825 397.3H885M1089 397.3H1143M825 399.3H888M1092 399.3H1149M825 401.3H894M1098 401.3H1155M825 403.3H930M1098 403.3H1158M825 405.3H936M1098 405.3H1158M825 407.3H840M876 407.3H939M1095 407.3H1155M825 409.3H840M876 409.3H942M1089 409.3H1152M825 411.3H852M870 411.3H945M1080 411.3H1149M825 413.3H963M1074 413.3H1149M825 415.3H978M1068 415.3H1149M825 417.3H987M1065 417.3H1149M825 419.3H999M1068 419.3H1149M825 421.3H1005M1068 421.3H1149M825 423.3H1005M1071 423.3H1152M828 425.3H1002M1077 425.3H1161M1269 425.3H1320M837 427.3H996M1089 427.3H1194M1260 427.3H1329M852 429.3H879M927 429.3H939M1125 429.3H1218M1260 429.3H1332M1143 431.3H1218M1260 431.3H1329M1149 433.3H1215M1269 433.3H1317M1152 435.3H1209M1161 437.3H1194" stroke="#800000" stroke-width="2" fill="none"/>
</g>
<rect x="143" y="76.3" width="532.5" height="363" fill="none" stroke="#231f20" stroke-width="2.2"/>
<line x1="134.8" y1="439.3" x2="143" y2="439.3" stroke="#231f20" stroke-width="2.2"/>
<line x1="134.8" y1="318.3" x2="143" y2="318.3" stroke="#231f20" stroke-width="2.2"/>
<line x1="134.8" y1="197.3" x2="143" y2="197.3" stroke="#231f20" stroke-width="2.2"/>
<line x1="134.8" y1="76.3" x2="143" y2="76.3" stroke="#231f20" stroke-width="2.2"/>
<line x1="143" y1="439.3" x2="143" y2="447.8" stroke="#231f20" stroke-width="2.2"/>
<line x1="276.12" y1="439.3" x2="276.12" y2="447.8" stroke="#231f20" stroke-width="2.2"/>
<line x1="409.25" y1="439.3" x2="409.25" y2="447.8" stroke="#231f20" stroke-width="2.2"/>
<line x1="542.38" y1="439.3" x2="542.38" y2="447.8" stroke="#231f20" stroke-width="2.2"/>
<line x1="675.5" y1="439.3" x2="675.5" y2="447.8" stroke="#231f20" stroke-width="2.2"/>
<rect x="825" y="76.3" width="533.2" height="363" fill="none" stroke="#231f20" stroke-width="2.2"/>
<line x1="816.8" y1="439.3" x2="825" y2="439.3" stroke="#231f20" stroke-width="2.2"/>
<line x1="816.8" y1="318.3" x2="825" y2="318.3" stroke="#231f20" stroke-width="2.2"/>
<line x1="816.8" y1="197.3" x2="825" y2="197.3" stroke="#231f20" stroke-width="2.2"/>
<line x1="816.8" y1="76.3" x2="825" y2="76.3" stroke="#231f20" stroke-width="2.2"/>
<line x1="825" y1="439.3" x2="825" y2="447.8" stroke="#231f20" stroke-width="2.2"/>
<line x1="958.3" y1="439.3" x2="958.3" y2="447.8" stroke="#231f20" stroke-width="2.2"/>
<line x1="1091.6" y1="439.3" x2="1091.6" y2="447.8" stroke="#231f20" stroke-width="2.2"/>
<line x1="1224.9" y1="439.3" x2="1224.9" y2="447.8" stroke="#231f20" stroke-width="2.2"/>
<line x1="1358.2" y1="439.3" x2="1358.2" y2="447.8" stroke="#231f20" stroke-width="2.2"/>
<text x="91.82" y="84.2" font-size="35.2" font-family="Liberation Sans, sans-serif" fill="#000" textLength="39.15" lengthAdjust="spacingAndGlyphs">60</text>
<text x="92.31" y="205.2" font-size="35.2" font-family="Liberation Sans, sans-serif" fill="#000" textLength="39.15" lengthAdjust="spacingAndGlyphs">40</text>
<text x="91.83" y="326.2" font-size="35.2" font-family="Liberation Sans, sans-serif" fill="#000" textLength="39.15" lengthAdjust="spacingAndGlyphs">20</text>
<text x="101.81" y="447.2" font-size="35.2" font-family="Liberation Sans, sans-serif" fill="#000" textLength="19.58" lengthAdjust="spacingAndGlyphs">0</text>
<text x="774.02" y="84.2" font-size="35.2" font-family="Liberation Sans, sans-serif" fill="#000" textLength="39.15" lengthAdjust="spacingAndGlyphs">60</text>
<text x="774.51" y="205.2" font-size="35.2" font-family="Liberation Sans, sans-serif" fill="#000" textLength="39.15" lengthAdjust="spacingAndGlyphs">40</text>
<text x="774.03" y="326.2" font-size="35.2" font-family="Liberation Sans, sans-serif" fill="#000" textLength="39.15" lengthAdjust="spacingAndGlyphs">20</text>
<text x="784.01" y="447.2" font-size="35.2" font-family="Liberation Sans, sans-serif" fill="#000" textLength="19.58" lengthAdjust="spacingAndGlyphs">0</text>
<text x="131.98" y="480.6" font-size="33.5" font-family="Liberation Sans, sans-serif" fill="#000" textLength="18.03" lengthAdjust="spacingAndGlyphs">0</text>
<text x="249.38" y="480.6" font-size="33.5" font-family="Liberation Sans, sans-serif" fill="#000" textLength="49.59" lengthAdjust="spacingAndGlyphs">0.5</text>
<text x="382.23" y="480.6" font-size="33.5" font-family="Liberation Sans, sans-serif" fill="#000" textLength="48.74" lengthAdjust="spacingAndGlyphs">1.0</text>
<text x="515.35" y="480.6" font-size="33.5" font-family="Liberation Sans, sans-serif" fill="#000" textLength="48.85" lengthAdjust="spacingAndGlyphs">1.5</text>
<text x="649.37" y="480.6" font-size="33.5" font-family="Liberation Sans, sans-serif" fill="#000" textLength="47.88" lengthAdjust="spacingAndGlyphs">2.0</text>
<text x="813.98" y="480.6" font-size="33.5" font-family="Liberation Sans, sans-serif" fill="#000" textLength="18.03" lengthAdjust="spacingAndGlyphs">0</text>
<text x="931.56" y="480.6" font-size="33.5" font-family="Liberation Sans, sans-serif" fill="#000" textLength="49.59" lengthAdjust="spacingAndGlyphs">0.5</text>
<text x="1064.58" y="480.6" font-size="33.5" font-family="Liberation Sans, sans-serif" fill="#000" textLength="48.74" lengthAdjust="spacingAndGlyphs">1.0</text>
<text x="1197.87" y="480.6" font-size="33.5" font-family="Liberation Sans, sans-serif" fill="#000" textLength="48.85" lengthAdjust="spacingAndGlyphs">1.5</text>
<text x="1332.07" y="480.6" font-size="33.5" font-family="Liberation Sans, sans-serif" fill="#000" textLength="47.88" lengthAdjust="spacingAndGlyphs">2.0</text>
<text x="339.27" y="521.8" font-size="37" font-family="Liberation Sans, sans-serif" fill="#000" textLength="135.63" lengthAdjust="spacingAndGlyphs">Time (s)</text>
<text x="1016.86" y="521.7" font-size="37" font-family="Liberation Sans, sans-serif" fill="#000" textLength="137.26" lengthAdjust="spacingAndGlyphs">Time (s)</text>
<text x="0" y="0" font-size="37.3" font-family="Liberation Sans, sans-serif" textLength="257.28" lengthAdjust="spacingAndGlyphs" transform="translate(68.8 383.26) rotate(-90)">Frequency (Hz)</text>
<text x="0" y="0" font-size="37.3" font-family="Liberation Sans, sans-serif" textLength="257.28" lengthAdjust="spacingAndGlyphs" transform="translate(749.3 383.26) rotate(-90)">Frequency (Hz)</text>
<text x="7.22" y="56" font-size="70" font-family="Liberation Sans, sans-serif" font-weight="bold" fill="#000" textLength="51.67" lengthAdjust="spacingAndGlyphs">A</text>
<text x="697.6" y="55.7" font-size="70" font-family="Liberation Sans, sans-serif" font-weight="bold" fill="#000" textLength="48.55" lengthAdjust="spacingAndGlyphs">B</text>
<rect x="409.7" y="38.3" width="266.3" height="35" fill="#5f0090"/>
<text x="491.49" y="69.5" font-size="37" font-family="Liberation Sans, sans-serif" font-weight="bold" fill="#fff" textLength="102.07" lengthAdjust="spacingAndGlyphs">ASSR</text>
<rect x="825" y="38.5" width="533.2" height="34.9" fill="#00ae4f"/>
<text x="1038.8" y="69.5" font-size="37" font-family="Liberation Sans, sans-serif" font-weight="bold" fill="#fff" textLength="104.79" lengthAdjust="spacingAndGlyphs">ArchT</text>
<rect x="1092.4" y="1" width="265.8" height="35" fill="#5f0090"/>
<text x="1173.28" y="32" font-size="37" font-family="Liberation Sans, sans-serif" font-weight="bold" fill="#fff" textLength="102.27" lengthAdjust="spacingAndGlyphs">ASSR</text>
<g shape-rendering="crispEdges">
<rect x="1371.9" y="400.19" width="28.2" height="5.21" fill="#00008f"/>
<rect x="1371.9" y="395.57" width="28.2" height="5.21" fill="#00009f"/>
<rect x="1371.9" y="390.96" width="28.2" height="5.21" fill="#0000af"/>
<rect x="1371.9" y="386.34" width="28.2" height="5.21" fill="#0000bf"/>
<rect x="1371.9" y="381.73" width="28.2" height="5.21" fill="#0000cf"/>
<rect x="1371.9" y="377.12" width="28.2" height="5.21" fill="#0000df"/>
<rect x="1371.9" y="372.5" width="28.2" height="5.21" fill="#0000ef"/>
<rect x="1371.9" y="367.89" width="28.2" height="5.21" fill="#0000ff"/>
<rect x="1371.9" y="363.27" width="28.2" height="5.21" fill="#0010ff"/>
<rect x="1371.9" y="358.66" width="28.2" height="5.21" fill="#0020ff"/>
<rect x="1371.9" y="354.05" width="28.2" height="5.21" fill="#0030ff"/>
<rect x="1371.9" y="349.43" width="28.2" height="5.21" fill="#0040ff"/>
<rect x="1371.9" y="344.82" width="28.2" height="5.21" fill="#0050ff"/>
<rect x="1371.9" y="340.2" width="28.2" height="5.21" fill="#0060ff"/>
<rect x="1371.9" y="335.59" width="28.2" height="5.21" fill="#0070ff"/>
<rect x="1371.9" y="330.98" width="28.2" height="5.21" fill="#0080ff"/>
<rect x="1371.9" y="326.36" width="28.2" height="5.21" fill="#008fff"/>
<rect x="1371.9" y="321.75" width="28.2" height="5.21" fill="#009fff"/>
<rect x="1371.9" y="317.13" width="28.2" height="5.21" fill="#00afff"/>
<rect x="1371.9" y="312.52" width="28.2" height="5.21" fill="#00bfff"/>
<rect x="1371.9" y="307.9" width="28.2" height="5.21" fill="#00cfff"/>
<rect x="1371.9" y="303.29" width="28.2" height="5.21" fill="#00dfff"/>
<rect x="1371.9" y="298.68" width="28.2" height="5.21" fill="#00efff"/>
<rect x="1371.9" y="294.06" width="28.2" height="5.21" fill="#00ffff"/>
<rect x="1371.9" y="289.45" width="28.2" height="5.21" fill="#10ffef"/>
<rect x="1371.9" y="284.83" width="28.2" height="5.21" fill="#20ffdf"/>
<rect x="1371.9" y="280.22" width="28.2" height="5.21" fill="#30ffcf"/>
<rect x="1371.9" y="275.61" width="28.2" height="5.21" fill="#40ffbf"/>
<rect x="1371.9" y="270.99" width="28.2" height="5.21" fill="#50ffaf"/>
<rect x="1371.9" y="266.38" width="28.2" height="5.21" fill="#60ff9f"/>
<rect x="1371.9" y="261.76" width="28.2" height="5.21" fill="#70ff8f"/>
<rect x="1371.9" y="257.15" width="28.2" height="5.21" fill="#80ff80"/>
<rect x="1371.9" y="252.54" width="28.2" height="5.21" fill="#8fff70"/>
<rect x="1371.9" y="247.92" width="28.2" height="5.21" fill="#9fff60"/>
<rect x="1371.9" y="243.31" width="28.2" height="5.21" fill="#afff50"/>
<rect x="1371.9" y="238.69" width="28.2" height="5.21" fill="#bfff40"/>
<rect x="1371.9" y="234.08" width="28.2" height="5.21" fill="#cfff30"/>
<rect x="1371.9" y="229.47" width="28.2" height="5.21" fill="#dfff20"/>
<rect x="1371.9" y="224.85" width="28.2" height="5.21" fill="#efff10"/>
<rect x="1371.9" y="220.24" width="28.2" height="5.21" fill="#ffff00"/>
<rect x="1371.9" y="215.62" width="28.2" height="5.21" fill="#ffef00"/>
<rect x="1371.9" y="211.01" width="28.2" height="5.21" fill="#ffdf00"/>
<rect x="1371.9" y="206.4" width="28.2" height="5.21" fill="#ffcf00"/>
<rect x="1371.9" y="201.78" width="28.2" height="5.21" fill="#ffbf00"/>
<rect x="1371.9" y="197.17" width="28.2" height="5.21" fill="#ffaf00"/>
<rect x="1371.9" y="192.55" width="28.2" height="5.21" fill="#ff9f00"/>
<rect x="1371.9" y="187.94" width="28.2" height="5.21" fill="#ff8f00"/>
<rect x="1371.9" y="183.32" width="28.2" height="5.21" fill="#ff8000"/>
<rect x="1371.9" y="178.71" width="28.2" height="5.21" fill="#ff7000"/>
<rect x="1371.9" y="174.1" width="28.2" height="5.21" fill="#ff6000"/>
<rect x="1371.9" y="169.48" width="28.2" height="5.21" fill="#ff5000"/>
<rect x="1371.9" y="164.87" width="28.2" height="5.21" fill="#ff4000"/>
<rect x="1371.9" y="160.25" width="28.2" height="5.21" fill="#ff3000"/>
<rect x="1371.9" y="155.64" width="28.2" height="5.21" fill="#ff2000"/>
<rect x="1371.9" y="151.03" width="28.2" height="5.21" fill="#ff1000"/>
<rect x="1371.9" y="146.41" width="28.2" height="5.21" fill="#ff0000"/>
<rect x="1371.9" y="141.8" width="28.2" height="5.21" fill="#ef0000"/>
<rect x="1371.9" y="137.18" width="28.2" height="5.21" fill="#df0000"/>
<rect x="1371.9" y="132.57" width="28.2" height="5.21" fill="#cf0000"/>
<rect x="1371.9" y="127.96" width="28.2" height="5.21" fill="#bf0000"/>
<rect x="1371.9" y="123.34" width="28.2" height="5.21" fill="#af0000"/>
<rect x="1371.9" y="118.73" width="28.2" height="5.21" fill="#9f0000"/>
<rect x="1371.9" y="114.11" width="28.2" height="5.21" fill="#8f0000"/>
<rect x="1371.9" y="109.5" width="28.2" height="5.21" fill="#800000"/>
</g>
<rect x="1371.9" y="109.5" width="28.2" height="295.3" fill="none" stroke="#231f20" stroke-width="1.3"/>
<line x1="1400.1" y1="404.8" x2="1407.5" y2="404.8" stroke="#231f20" stroke-width="2"/>
<text x="1410.65" y="413.5" font-size="34" font-family="Liberation Sans, sans-serif" fill="#000" textLength="38.4" lengthAdjust="spacingAndGlyphs">60</text>
<line x1="1400.1" y1="306.37" x2="1407.5" y2="306.37" stroke="#231f20" stroke-width="2"/>
<text x="1410.63" y="315.07" font-size="34" font-family="Liberation Sans, sans-serif" fill="#000" textLength="38.42" lengthAdjust="spacingAndGlyphs">70</text>
<line x1="1400.1" y1="207.93" x2="1407.5" y2="207.93" stroke="#231f20" stroke-width="2"/>
<text x="1410.91" y="216.63" font-size="34" font-family="Liberation Sans, sans-serif" fill="#000" textLength="38.13" lengthAdjust="spacingAndGlyphs">80</text>
<line x1="1400.1" y1="109.5" x2="1407.5" y2="109.5" stroke="#231f20" stroke-width="2"/>
<text x="1410.79" y="118.2" font-size="34" font-family="Liberation Sans, sans-serif" fill="#000" textLength="38.26" lengthAdjust="spacingAndGlyphs">90</text>
<text x="0" y="0" font-size="37.7" font-family="Liberation Sans, sans-serif" textLength="188.53" lengthAdjust="spacingAndGlyphs" transform="translate(1458.6 158.91) rotate(90)">Power (dB)</text>
<text x="5.88" y="600.6" font-size="70" font-family="Liberation Sans, sans-serif" font-weight="bold" fill="#000" textLength="47.83" lengthAdjust="spacingAndGlyphs">C</text>
<text x="179.24" y="600.6" font-size="37.3" font-family="Liberation Sans, sans-serif" fill="#000" textLength="267.21" lengthAdjust="spacingAndGlyphs">Relative change</text>
<line x1="139.5" y1="615.5" x2="139.5" y2="970.1" stroke="#000" stroke-width="2.4"/>
<line x1="132.8" y1="970.1" x2="492.7" y2="970.1" stroke="#000" stroke-width="2.4"/>
<line x1="134.5" y1="915.86" x2="139.5" y2="915.86" stroke="#000" stroke-width="2"/>
<line x1="134.5" y1="884.83" x2="139.5" y2="884.83" stroke="#000" stroke-width="2"/>
<line x1="134.5" y1="862.82" x2="139.5" y2="862.82" stroke="#000" stroke-width="2"/>
<line x1="134.5" y1="845.74" x2="139.5" y2="845.74" stroke="#000" stroke-width="2"/>
<line x1="134.5" y1="831.79" x2="139.5" y2="831.79" stroke="#000" stroke-width="2"/>
<line x1="134.5" y1="819.99" x2="139.5" y2="819.99" stroke="#000" stroke-width="2"/>
<line x1="134.5" y1="809.78" x2="139.5" y2="809.78" stroke="#000" stroke-width="2"/>
<line x1="134.5" y1="800.76" x2="139.5" y2="800.76" stroke="#000" stroke-width="2"/>
<line x1="134.5" y1="739.66" x2="139.5" y2="739.66" stroke="#000" stroke-width="2"/>
<line x1="134.5" y1="708.63" x2="139.5" y2="708.63" stroke="#000" stroke-width="2"/>
<line x1="134.5" y1="686.62" x2="139.5" y2="686.62" stroke="#000" stroke-width="2"/>
<line x1="134.5" y1="669.54" x2="139.5" y2="669.54" stroke="#000" stroke-width="2"/>
<line x1="134.5" y1="655.59" x2="139.5" y2="655.59" stroke="#000" stroke-width="2"/>
<line x1="134.5" y1="643.79" x2="139.5" y2="643.79" stroke="#000" stroke-width="2"/>
<line x1="134.5" y1="633.58" x2="139.5" y2="633.58" stroke="#000" stroke-width="2"/>
<line x1="134.5" y1="624.56" x2="139.5" y2="624.56" stroke="#000" stroke-width="2"/>
<line x1="132" y1="616.5" x2="139.5" y2="616.5" stroke="#000" stroke-width="2.2"/>
<line x1="132" y1="792.7" x2="139.5" y2="792.7" stroke="#000" stroke-width="2.2"/>
<text x="77.58" y="627.4" font-size="30.5" font-family="Liberation Sans, sans-serif" fill="#000" textLength="50.81" lengthAdjust="spacingAndGlyphs">100</text>
<text x="91.29" y="803.2" font-size="30.5" font-family="Liberation Sans, sans-serif" fill="#000" textLength="33.69" lengthAdjust="spacingAndGlyphs">10</text>
<text x="105.59" y="979.5" font-size="30.5" font-family="Liberation Sans, sans-serif" fill="#000" textLength="13.93" lengthAdjust="spacingAndGlyphs">1</text>
<text x="163.87" y="1005.8" font-size="38" font-family="Liberation Sans, sans-serif" fill="#000" textLength="122.68" lengthAdjust="spacingAndGlyphs">Control</text>
<text x="357.33" y="1005.8" font-size="38" font-family="Liberation Sans, sans-serif" fill="#000" textLength="100.24" lengthAdjust="spacingAndGlyphs">ArchT</text>
<text x="0" y="0" font-size="37.5" font-family="Liberation Sans, sans-serif" textLength="206.24" lengthAdjust="spacingAndGlyphs" transform="translate(28.2 895.47) rotate(-90)">Fold change</text>
<text x="0" y="0" font-size="37.4" font-family="Liberation Sans, sans-serif" textLength="280.24" lengthAdjust="spacingAndGlyphs" transform="translate(72 937.83) rotate(-90)">from background</text>
<line x1="217.5" y1="664.5" x2="407" y2="740.8" stroke="#989595" stroke-width="3.6" stroke-dasharray="10.5 3.8"/>
<circle cx="217.5" cy="664.5" r="4.8" fill="#989595"/>
<circle cx="407" cy="740.8" r="4.8" fill="#989595"/>
<line x1="217.5" y1="707" x2="407" y2="774.8" stroke="#989595" stroke-width="3.6" stroke-dasharray="10.5 3.8"/>
<circle cx="217.5" cy="707" r="4.8" fill="#989595"/>
<circle cx="407" cy="774.8" r="4.8" fill="#989595"/>
<line x1="217.5" y1="764.3" x2="407" y2="814.3" stroke="#989595" stroke-width="3.6" stroke-dasharray="10.5 3.8"/>
<circle cx="217.5" cy="764.3" r="4.8" fill="#989595"/>
<circle cx="407" cy="814.3" r="4.8" fill="#989595"/>
<line x1="217.5" y1="789.2" x2="407" y2="848.2" stroke="#989595" stroke-width="3.6" stroke-dasharray="10.5 3.8"/>
<circle cx="217.5" cy="789.2" r="4.8" fill="#989595"/>
<circle cx="407" cy="848.2" r="4.8" fill="#989595"/>
<line x1="217.5" y1="811" x2="407" y2="862.2" stroke="#989595" stroke-width="3.6" stroke-dasharray="10.5 3.8"/>
<circle cx="217.5" cy="811" r="4.8" fill="#989595"/>
<circle cx="407" cy="862.2" r="4.8" fill="#989595"/>
<line x1="218.3" y1="701.8" x2="218.3" y2="761.2" stroke="#000" stroke-width="2"/>
<line x1="213" y1="701.8" x2="223.6" y2="701.8" stroke="#000" stroke-width="2.2"/>
<line x1="213" y1="761.2" x2="223.6" y2="761.2" stroke="#000" stroke-width="2.2"/>
<rect x="205.1" y="721.8" width="27.1" height="8.4" fill="#000"/>
<line x1="407.2" y1="776.7" x2="407.2" y2="822.5" stroke="#000" stroke-width="2"/>
<line x1="401.9" y1="776.7" x2="412.6" y2="776.7" stroke="#000" stroke-width="2.2"/>
<line x1="401.9" y1="822.5" x2="412.6" y2="822.5" stroke="#000" stroke-width="2.2"/>
<rect x="393.9" y="791.4" width="27" height="8.4" fill="#000"/>
<text x="497.23" y="598.8" font-size="66" font-family="Liberation Sans, sans-serif" font-weight="bold" fill="#000" textLength="49.34" lengthAdjust="spacingAndGlyphs">D</text>
<text x="636.31" y="579.6" font-size="37.6" font-family="Liberation Sans, sans-serif" fill="#000" textLength="341.23" lengthAdjust="spacingAndGlyphs">Background (0-0.8s)</text>
<text x="705.74" y="624" font-size="37.5" font-family="Liberation Sans, sans-serif" fill="#000" textLength="199.58" lengthAdjust="spacingAndGlyphs">40Hz power</text>
<line x1="632.8" y1="615" x2="632.8" y2="970.7" stroke="#000" stroke-width="2.4"/>
<line x1="627" y1="969.5" x2="986.3" y2="969.5" stroke="#000" stroke-width="2.4"/>
<line x1="626.8" y1="969.5" x2="632.8" y2="969.5" stroke="#000" stroke-width="2.2"/>
<text x="600.38" y="978.2" font-size="32" font-family="Liberation Sans, sans-serif" fill="#000" textLength="17.62" lengthAdjust="spacingAndGlyphs">0</text>
<line x1="626.8" y1="881.1" x2="632.8" y2="881.1" stroke="#000" stroke-width="2.2"/>
<text x="556.34" y="889.8" font-size="32" font-family="Liberation Sans, sans-serif" fill="#000" textLength="61.66" lengthAdjust="spacingAndGlyphs">0.02</text>
<line x1="626.8" y1="792.7" x2="632.8" y2="792.7" stroke="#000" stroke-width="2.2"/>
<text x="556.34" y="801.4" font-size="32" font-family="Liberation Sans, sans-serif" fill="#000" textLength="61.66" lengthAdjust="spacingAndGlyphs">0.04</text>
<line x1="626.8" y1="704.3" x2="632.8" y2="704.3" stroke="#000" stroke-width="2.2"/>
<text x="556.34" y="713" font-size="32" font-family="Liberation Sans, sans-serif" fill="#000" textLength="61.66" lengthAdjust="spacingAndGlyphs">0.06</text>
<line x1="626.8" y1="615.9" x2="632.8" y2="615.9" stroke="#000" stroke-width="2.2"/>
<text x="556.34" y="624.6" font-size="32" font-family="Liberation Sans, sans-serif" fill="#000" textLength="61.66" lengthAdjust="spacingAndGlyphs">0.08</text>
<rect x="693.2" y="882.5" width="95.7" height="86.6" fill="#000"/>
<rect x="835.8" y="750.2" width="95.8" height="218.9" fill="#000"/>
<line x1="740.7" y1="852.6" x2="740.7" y2="883" stroke="#000" stroke-width="2.2"/>
<line x1="734" y1="852.6" x2="747.8" y2="852.6" stroke="#000" stroke-width="2.4"/>
<line x1="883.7" y1="682.7" x2="883.7" y2="751" stroke="#000" stroke-width="2.2"/>
<line x1="876.9" y1="682.7" x2="890.9" y2="682.7" stroke="#000" stroke-width="2.4"/>
<path d="M740.7 838.8V657.8H883.7V670.4" fill="none" stroke="#000" stroke-width="2.4"/>
<path d="M812.35 647.58L812.35 641M812.35 647.58L818.61 645.55M812.35 647.58L816.22 652.9M812.35 647.58L808.48 652.9M812.35 647.58L806.09 645.55" stroke="#000" stroke-width="3" stroke-linecap="butt" fill="none"/>
<text x="682.17" y="1006" font-size="38" font-family="Liberation Sans, sans-serif" fill="#000" textLength="122.37" lengthAdjust="spacingAndGlyphs">Control</text>
<text x="834.93" y="1006" font-size="38" font-family="Liberation Sans, sans-serif" fill="#000" textLength="100.13" lengthAdjust="spacingAndGlyphs">ArchT</text>
<text x="992.89" y="599.7" font-size="70" font-family="Liberation Sans, sans-serif" font-weight="bold" fill="#000" textLength="44.94" lengthAdjust="spacingAndGlyphs">E</text>
<text x="1134.41" y="579.5" font-size="37.6" font-family="Liberation Sans, sans-serif" fill="#000" textLength="296.92" lengthAdjust="spacingAndGlyphs">Evoked (1.2-2.0s)</text>
<text x="1185.14" y="623" font-size="37.5" font-family="Liberation Sans, sans-serif" fill="#000" textLength="204.28" lengthAdjust="spacingAndGlyphs">40Hz Power</text>
<line x1="1110.8" y1="615" x2="1110.8" y2="970.6" stroke="#000" stroke-width="2.4"/>
<line x1="1104.2" y1="969.4" x2="1463.2" y2="969.4" stroke="#000" stroke-width="2.4"/>
<line x1="1104.3" y1="969.4" x2="1110.8" y2="969.4" stroke="#000" stroke-width="2.2"/>
<text x="1079.24" y="979.8" font-size="32" font-family="Liberation Sans, sans-serif" fill="#000" textLength="17.26" lengthAdjust="spacingAndGlyphs">0</text>
<line x1="1104.3" y1="910.48" x2="1110.8" y2="910.48" stroke="#000" stroke-width="2.2"/>
<text x="1053.35" y="920.88" font-size="32" font-family="Liberation Sans, sans-serif" fill="#000" textLength="43.15" lengthAdjust="spacingAndGlyphs">0.1</text>
<line x1="1104.3" y1="851.56" x2="1110.8" y2="851.56" stroke="#000" stroke-width="2.2"/>
<text x="1053.35" y="861.96" font-size="32" font-family="Liberation Sans, sans-serif" fill="#000" textLength="43.15" lengthAdjust="spacingAndGlyphs">0.2</text>
<line x1="1104.3" y1="792.64" x2="1110.8" y2="792.64" stroke="#000" stroke-width="2.2"/>
<text x="1053.35" y="803.04" font-size="32" font-family="Liberation Sans, sans-serif" fill="#000" textLength="43.15" lengthAdjust="spacingAndGlyphs">0.3</text>
<line x1="1104.3" y1="733.72" x2="1110.8" y2="733.72" stroke="#000" stroke-width="2.2"/>
<text x="1053.35" y="744.12" font-size="32" font-family="Liberation Sans, sans-serif" fill="#000" textLength="43.15" lengthAdjust="spacingAndGlyphs">0.4</text>
<line x1="1104.3" y1="674.8" x2="1110.8" y2="674.8" stroke="#000" stroke-width="2.2"/>
<text x="1053.35" y="685.2" font-size="32" font-family="Liberation Sans, sans-serif" fill="#000" textLength="43.15" lengthAdjust="spacingAndGlyphs">0.5</text>
<line x1="1104.3" y1="615.88" x2="1110.8" y2="615.88" stroke="#000" stroke-width="2.2"/>
<text x="1053.35" y="626.28" font-size="32" font-family="Liberation Sans, sans-serif" fill="#000" textLength="43.15" lengthAdjust="spacingAndGlyphs">0.6</text>
<rect x="1170.3" y="741" width="93.8" height="228" fill="#000"/>
<rect x="1313.4" y="724.3" width="94.8" height="244.7" fill="#000"/>
<line x1="1216.9" y1="654.6" x2="1216.9" y2="742" stroke="#000" stroke-width="2.2"/>
<line x1="1212" y1="654.6" x2="1223" y2="654.6" stroke="#000" stroke-width="2.4"/>
<line x1="1362.6" y1="639.9" x2="1362.6" y2="725" stroke="#000" stroke-width="2.2"/>
<line x1="1357.6" y1="639.9" x2="1368.6" y2="639.9" stroke="#000" stroke-width="2.4"/>
<text x="1158.28" y="1006" font-size="38" font-family="Liberation Sans, sans-serif" fill="#000" textLength="121.74" lengthAdjust="spacingAndGlyphs">Control</text>
<text x="1314.83" y="1006" font-size="38" font-family="Liberation Sans, sans-serif" fill="#000" textLength="101.04" lengthAdjust="spacingAndGlyphs">ArchT</text>
<g transform="translate(538.97 912.46) rotate(-90) scale(1 1)"><text x="0" y="0" font-size="37.5" font-family="Liberation Sans, sans-serif">Power (μV</text><text x="176.19" y="-13.5" font-size="21.75" font-family="Liberation Sans, sans-serif">2</text><text x="188.19" y="0" font-size="37.5" font-family="Liberation Sans, sans-serif">/Hz)</text></g>
<g transform="translate(1033.97 911.67) rotate(-90) scale(1 1)"><text x="0" y="0" font-size="37.5" font-family="Liberation Sans, sans-serif">Power (μV</text><text x="176.19" y="-13.5" font-size="21.75" font-family="Liberation Sans, sans-serif">2</text><text x="188.19" y="0" font-size="37.5" font-family="Liberation Sans, sans-serif">/Hz)</text></g>
<polygon points="137.3,1239.86 150.39,1232.57 163.48,1231.44 176.57,1229.2 189.66,1231.44 202.75,1242.1 215.84,1279.13 228.93,1279.13 242.02,1283.06 255.11,1288.11 268.2,1294.84 281.29,1306.62 294.38,1310.92 307.47,1322.74 320.56,1336.71 333.65,1341.01 346.74,1338.86 359.83,1332.41 372.92,1346.38 386.01,1349.61 399.1,1366.8 412.19,1359.01 425.28,1360.09 438.37,1372.98 451.46,1383.73 464.55,1380.51 477.64,1385.88 490.73,1392.33 503.82,1396.62 516.91,1402 530,1417.35 543.09,1420.17 556.18,1427.69 569.27,1422.05 582.36,1431.46 595.45,1437.1 608.54,1447.44 621.63,1453.08 634.72,1455.9 647.81,1467.18 660.9,1465.3 660.9,1500 647.81,1499.15 634.72,1480.35 621.63,1472.82 608.54,1470 595.45,1458.72 582.36,1461.54 569.27,1460.6 556.18,1451.2 543.09,1439.92 530,1433.34 516.91,1428.86 503.82,1413.82 490.73,1405.22 477.64,1398.77 464.55,1396.62 451.46,1393.4 438.37,1389.1 425.28,1379.43 412.19,1375.13 399.1,1388.29 386.01,1363.58 372.92,1358.2 359.83,1346.38 346.74,1350.68 333.65,1359.28 320.56,1359.28 307.47,1344.23 294.38,1328.12 281.29,1320.59 268.2,1315.04 255.11,1302.13 242.02,1298.2 228.93,1297.08 215.84,1303.25 202.75,1264.54 189.66,1250.52 176.57,1245.47 163.48,1255.57 150.39,1260.06 137.3,1281.37" fill="#000" fill-opacity="0.17"/>
<polygon points="137.3,1173.66 150.39,1159.07 163.48,1145.61 176.57,1141.12 189.66,1151.22 202.75,1168.05 215.84,1200.59 228.93,1236.49 242.02,1261.18 255.11,1274.64 268.2,1280.25 281.29,1295.88 294.38,1303.4 307.47,1310.92 320.56,1295.88 333.65,1300.71 346.74,1305.55 359.83,1315.22 372.92,1335.64 386.01,1343.16 399.1,1343.16 412.19,1362.24 425.28,1356.86 438.37,1375.13 451.46,1393.4 464.55,1394.47 477.64,1394.47 490.73,1399.85 503.82,1403.07 516.91,1420.26 530,1399.49 543.09,1390.09 556.18,1388.21 569.27,1402.31 582.36,1410.77 595.45,1422.99 608.54,1429.58 621.63,1436.16 634.72,1456.84 647.81,1463.42 660.9,1477.53 660.9,1487.87 647.81,1477.53 634.72,1480.35 621.63,1450.26 608.54,1444.62 595.45,1437.1 582.36,1431.46 569.27,1418.29 556.18,1414.06 543.09,1417.35 530,1416.41 516.91,1434.23 503.82,1420.26 490.73,1412.74 477.64,1405.22 464.55,1409.52 451.46,1406.29 438.37,1394.47 425.28,1379.43 412.19,1379.43 399.1,1367.87 386.01,1358.2 372.92,1348.53 359.83,1343.16 346.74,1329.19 333.65,1321.67 320.56,1318.44 307.47,1325.97 294.38,1317.37 281.29,1308.77 268.2,1299.33 255.11,1294.84 242.02,1278.01 228.93,1258.93 215.84,1229.76 202.75,1212.93 189.66,1194.42 176.57,1192.17 163.48,1197.22 150.39,1215.18 137.3,1233.13" fill="#f00" fill-opacity="0.15"/>
<polyline points="137.3,1255.57 150.39,1243.23 163.48,1240.42 176.57,1236.49 189.66,1239.86 202.75,1251.08 215.84,1289.23 228.93,1286.98 242.02,1289.79 255.11,1293.72 268.2,1304.94 281.29,1312 294.38,1318.44 307.47,1333.49 320.56,1344.77 333.65,1347.99 346.74,1343.16 359.83,1336.71 372.92,1350.68 386.01,1353.91 399.1,1371.1 412.19,1365.46 425.28,1368.68 438.37,1379.43 451.46,1390.18 464.55,1390.71 477.64,1392.33 490.73,1398.77 503.82,1405.22 516.91,1412.74 530,1423.93 543.09,1429.58 556.18,1438.04 569.27,1435.22 582.36,1443.68 595.45,1442.74 608.54,1455.9 621.63,1460.6 634.72,1466.24 647.81,1479.41 660.9,1479.41" fill="none" stroke="#fff" stroke-opacity="0.6" stroke-width="7" stroke-linejoin="miter" stroke-miterlimit="3"/>
<polyline points="137.3,1255.57 150.39,1243.23 163.48,1240.42 176.57,1236.49 189.66,1239.86 202.75,1251.08 215.84,1289.23 228.93,1286.98 242.02,1289.79 255.11,1293.72 268.2,1304.94 281.29,1312 294.38,1318.44 307.47,1333.49 320.56,1344.77 333.65,1347.99 346.74,1343.16 359.83,1336.71 372.92,1350.68 386.01,1353.91 399.1,1371.1 412.19,1365.46 425.28,1368.68 438.37,1379.43 451.46,1390.18 464.55,1390.71 477.64,1392.33 490.73,1398.77 503.82,1405.22 516.91,1412.74 530,1423.93 543.09,1429.58 556.18,1438.04 569.27,1435.22 582.36,1443.68 595.45,1442.74 608.54,1455.9 621.63,1460.6 634.72,1466.24 647.81,1479.41 660.9,1479.41" fill="none" stroke="#000" stroke-width="5.2" stroke-linejoin="miter" stroke-miterlimit="3"/>
<polyline points="137.3,1192.73 150.39,1177.59 163.48,1163 176.57,1157.95 189.66,1166.93 202.75,1183.76 215.84,1207.32 228.93,1244.91 242.02,1267.91 255.11,1285.86 268.2,1290.91 281.29,1302.33 294.38,1311.46 307.47,1319.52 320.56,1304.47 333.65,1308.77 346.74,1314.15 359.83,1328.12 372.92,1342.62 386.01,1350.68 399.1,1353.91 412.19,1369.76 425.28,1365.46 438.37,1381.58 451.46,1398.77 464.55,1399.85 477.64,1400.38 490.73,1405.22 503.82,1409.52 516.91,1426.71 530,1408.89 543.09,1399.49 556.18,1397.61 569.27,1408.89 582.36,1420.17 595.45,1429.58 608.54,1435.22 621.63,1441.8 634.72,1467.18 647.81,1470 660.9,1482.23" fill="none" stroke="#fff" stroke-opacity="0.6" stroke-width="7" stroke-linejoin="miter" stroke-miterlimit="3"/>
<polyline points="137.3,1192.73 150.39,1177.59 163.48,1163 176.57,1157.95 189.66,1166.93 202.75,1183.76 215.84,1207.32 228.93,1244.91 242.02,1267.91 255.11,1285.86 268.2,1290.91 281.29,1302.33 294.38,1311.46 307.47,1319.52 320.56,1304.47 333.65,1308.77 346.74,1314.15 359.83,1328.12 372.92,1342.62 386.01,1350.68 399.1,1353.91 412.19,1369.76 425.28,1365.46 438.37,1381.58 451.46,1398.77 464.55,1399.85 477.64,1400.38 490.73,1405.22 503.82,1409.52 516.91,1426.71 530,1408.89 543.09,1399.49 556.18,1397.61 569.27,1408.89 582.36,1420.17 595.45,1429.58 608.54,1435.22 621.63,1441.8 634.72,1467.18 647.81,1470 660.9,1482.23" fill="none" stroke="#f00" stroke-width="5.2" stroke-linejoin="miter" stroke-miterlimit="3"/>
<line x1="137.3" y1="1093" x2="137.3" y2="1510.2" stroke="#000" stroke-width="2.4"/>
<line x1="136.1" y1="1509" x2="661" y2="1509" stroke="#000" stroke-width="2.4"/>
<line x1="129.3" y1="1497.5" x2="137.3" y2="1497.5" stroke="#000" stroke-width="2.2"/>
<line x1="132.3" y1="1474.02" x2="137.3" y2="1474.02" stroke="#000" stroke-width="1.8"/>
<line x1="132.3" y1="1460.28" x2="137.3" y2="1460.28" stroke="#000" stroke-width="1.8"/>
<line x1="132.3" y1="1450.54" x2="137.3" y2="1450.54" stroke="#000" stroke-width="1.8"/>
<line x1="132.3" y1="1442.98" x2="137.3" y2="1442.98" stroke="#000" stroke-width="1.8"/>
<line x1="132.3" y1="1436.8" x2="137.3" y2="1436.8" stroke="#000" stroke-width="1.8"/>
<line x1="132.3" y1="1431.58" x2="137.3" y2="1431.58" stroke="#000" stroke-width="1.8"/>
<line x1="132.3" y1="1427.06" x2="137.3" y2="1427.06" stroke="#000" stroke-width="1.8"/>
<line x1="132.3" y1="1423.07" x2="137.3" y2="1423.07" stroke="#000" stroke-width="1.8"/>
<line x1="129.3" y1="1419.5" x2="137.3" y2="1419.5" stroke="#000" stroke-width="2.2"/>
<line x1="132.3" y1="1396.02" x2="137.3" y2="1396.02" stroke="#000" stroke-width="1.8"/>
<line x1="132.3" y1="1382.28" x2="137.3" y2="1382.28" stroke="#000" stroke-width="1.8"/>
<line x1="132.3" y1="1372.54" x2="137.3" y2="1372.54" stroke="#000" stroke-width="1.8"/>
<line x1="132.3" y1="1364.98" x2="137.3" y2="1364.98" stroke="#000" stroke-width="1.8"/>
<line x1="132.3" y1="1358.8" x2="137.3" y2="1358.8" stroke="#000" stroke-width="1.8"/>
<line x1="132.3" y1="1353.58" x2="137.3" y2="1353.58" stroke="#000" stroke-width="1.8"/>
<line x1="132.3" y1="1349.06" x2="137.3" y2="1349.06" stroke="#000" stroke-width="1.8"/>
<line x1="132.3" y1="1345.07" x2="137.3" y2="1345.07" stroke="#000" stroke-width="1.8"/>
<line x1="129.3" y1="1341.5" x2="137.3" y2="1341.5" stroke="#000" stroke-width="2.2"/>
<line x1="132.3" y1="1318.02" x2="137.3" y2="1318.02" stroke="#000" stroke-width="1.8"/>
<line x1="132.3" y1="1304.28" x2="137.3" y2="1304.28" stroke="#000" stroke-width="1.8"/>
<line x1="132.3" y1="1294.54" x2="137.3" y2="1294.54" stroke="#000" stroke-width="1.8"/>
<line x1="132.3" y1="1286.98" x2="137.3" y2="1286.98" stroke="#000" stroke-width="1.8"/>
<line x1="132.3" y1="1280.8" x2="137.3" y2="1280.8" stroke="#000" stroke-width="1.8"/>
<line x1="132.3" y1="1275.58" x2="137.3" y2="1275.58" stroke="#000" stroke-width="1.8"/>
<line x1="132.3" y1="1271.06" x2="137.3" y2="1271.06" stroke="#000" stroke-width="1.8"/>
<line x1="132.3" y1="1267.07" x2="137.3" y2="1267.07" stroke="#000" stroke-width="1.8"/>
<line x1="129.3" y1="1263.5" x2="137.3" y2="1263.5" stroke="#000" stroke-width="2.2"/>
<line x1="132.3" y1="1240.02" x2="137.3" y2="1240.02" stroke="#000" stroke-width="1.8"/>
<line x1="132.3" y1="1226.28" x2="137.3" y2="1226.28" stroke="#000" stroke-width="1.8"/>
<line x1="132.3" y1="1216.54" x2="137.3" y2="1216.54" stroke="#000" stroke-width="1.8"/>
<line x1="132.3" y1="1208.98" x2="137.3" y2="1208.98" stroke="#000" stroke-width="1.8"/>
<line x1="132.3" y1="1202.8" x2="137.3" y2="1202.8" stroke="#000" stroke-width="1.8"/>
<line x1="132.3" y1="1197.58" x2="137.3" y2="1197.58" stroke="#000" stroke-width="1.8"/>
<line x1="132.3" y1="1193.06" x2="137.3" y2="1193.06" stroke="#000" stroke-width="1.8"/>
<line x1="132.3" y1="1189.07" x2="137.3" y2="1189.07" stroke="#000" stroke-width="1.8"/>
<line x1="129.3" y1="1185.5" x2="137.3" y2="1185.5" stroke="#000" stroke-width="2.2"/>
<line x1="132.3" y1="1162.02" x2="137.3" y2="1162.02" stroke="#000" stroke-width="1.8"/>
<line x1="132.3" y1="1148.28" x2="137.3" y2="1148.28" stroke="#000" stroke-width="1.8"/>
<line x1="132.3" y1="1138.54" x2="137.3" y2="1138.54" stroke="#000" stroke-width="1.8"/>
<line x1="132.3" y1="1130.98" x2="137.3" y2="1130.98" stroke="#000" stroke-width="1.8"/>
<line x1="132.3" y1="1124.8" x2="137.3" y2="1124.8" stroke="#000" stroke-width="1.8"/>
<line x1="132.3" y1="1119.58" x2="137.3" y2="1119.58" stroke="#000" stroke-width="1.8"/>
<line x1="132.3" y1="1115.06" x2="137.3" y2="1115.06" stroke="#000" stroke-width="1.8"/>
<line x1="132.3" y1="1111.07" x2="137.3" y2="1111.07" stroke="#000" stroke-width="1.8"/>
<line x1="129.3" y1="1107.5" x2="137.3" y2="1107.5" stroke="#000" stroke-width="2.2"/>
<line x1="132.3" y1="1501.07" x2="137.3" y2="1501.07" stroke="#000" stroke-width="1.8"/>
<line x1="132.3" y1="1505.06" x2="137.3" y2="1505.06" stroke="#000" stroke-width="1.8"/>
<line x1="137.3" y1="1509" x2="137.3" y2="1515.5" stroke="#000" stroke-width="2.2"/>
<text x="127.66" y="1548" font-size="34" font-family="Liberation Sans, sans-serif" fill="#000" textLength="19.29" lengthAdjust="spacingAndGlyphs">0</text>
<line x1="189.68" y1="1509" x2="189.68" y2="1515.5" stroke="#000" stroke-width="2.2"/>
<text x="180.07" y="1548" font-size="34" font-family="Liberation Sans, sans-serif" fill="#000" textLength="19.29" lengthAdjust="spacingAndGlyphs">5</text>
<line x1="242.05" y1="1509" x2="242.05" y2="1515.5" stroke="#000" stroke-width="2.2"/>
<text x="222.12" y="1548" font-size="34" font-family="Liberation Sans, sans-serif" fill="#000" textLength="38.57" lengthAdjust="spacingAndGlyphs">10</text>
<line x1="294.43" y1="1509" x2="294.43" y2="1515.5" stroke="#000" stroke-width="2.2"/>
<text x="274.54" y="1548" font-size="34" font-family="Liberation Sans, sans-serif" fill="#000" textLength="38.57" lengthAdjust="spacingAndGlyphs">15</text>
<line x1="346.8" y1="1509" x2="346.8" y2="1515.5" stroke="#000" stroke-width="2.2"/>
<text x="327.32" y="1548" font-size="34" font-family="Liberation Sans, sans-serif" fill="#000" textLength="38.57" lengthAdjust="spacingAndGlyphs">20</text>
<line x1="399.18" y1="1509" x2="399.18" y2="1515.5" stroke="#000" stroke-width="2.2"/>
<text x="379.74" y="1548" font-size="34" font-family="Liberation Sans, sans-serif" fill="#000" textLength="38.57" lengthAdjust="spacingAndGlyphs">25</text>
<line x1="451.55" y1="1509" x2="451.55" y2="1515.5" stroke="#000" stroke-width="2.2"/>
<text x="432.28" y="1548" font-size="34" font-family="Liberation Sans, sans-serif" fill="#000" textLength="38.57" lengthAdjust="spacingAndGlyphs">30</text>
<line x1="503.93" y1="1509" x2="503.93" y2="1515.5" stroke="#000" stroke-width="2.2"/>
<text x="484.71" y="1548" font-size="34" font-family="Liberation Sans, sans-serif" fill="#000" textLength="38.57" lengthAdjust="spacingAndGlyphs">35</text>
<line x1="556.3" y1="1509" x2="556.3" y2="1515.5" stroke="#000" stroke-width="2.2"/>
<text x="537.29" y="1548" font-size="34" font-family="Liberation Sans, sans-serif" fill="#000" textLength="38.57" lengthAdjust="spacingAndGlyphs">40</text>
<line x1="608.67" y1="1509" x2="608.67" y2="1515.5" stroke="#000" stroke-width="2.2"/>
<text x="589.72" y="1548" font-size="34" font-family="Liberation Sans, sans-serif" fill="#000" textLength="38.57" lengthAdjust="spacingAndGlyphs">45</text>
<line x1="661.05" y1="1509" x2="661.05" y2="1515.5" stroke="#000" stroke-width="2.2"/>
<text x="641.75" y="1548" font-size="34" font-family="Liberation Sans, sans-serif" fill="#000" textLength="38.57" lengthAdjust="spacingAndGlyphs">50</text>
<text x="69.73" y="1510.9" font-size="35" font-family="Liberation Sans, sans-serif" fill="#000" textLength="36.03" lengthAdjust="spacingAndGlyphs">10</text>
<text x="107.53" y="1499.9" font-size="20" font-family="Liberation Sans, sans-serif" fill="#000" textLength="17.43" lengthAdjust="spacingAndGlyphs">-3</text>
<text x="69.73" y="1432.9" font-size="35" font-family="Liberation Sans, sans-serif" fill="#000" textLength="36.03" lengthAdjust="spacingAndGlyphs">10</text>
<text x="107.22" y="1421.9" font-size="20" font-family="Liberation Sans, sans-serif" fill="#000" textLength="17.57" lengthAdjust="spacingAndGlyphs">-2</text>
<text x="69.73" y="1354.9" font-size="35" font-family="Liberation Sans, sans-serif" fill="#000" textLength="36.03" lengthAdjust="spacingAndGlyphs">10</text>
<text x="107.3" y="1343.9" font-size="20" font-family="Liberation Sans, sans-serif" fill="#000" textLength="15.98" lengthAdjust="spacingAndGlyphs">-1</text>
<text x="73.76" y="1276.9" font-size="35" font-family="Liberation Sans, sans-serif" fill="#000" textLength="35.59" lengthAdjust="spacingAndGlyphs">10</text>
<text x="110.72" y="1265.9" font-size="20" font-family="Liberation Sans, sans-serif" fill="#000" textLength="11.17" lengthAdjust="spacingAndGlyphs">0</text>
<text x="73.76" y="1198.9" font-size="35" font-family="Liberation Sans, sans-serif" fill="#000" textLength="35.59" lengthAdjust="spacingAndGlyphs">10</text>
<text x="111.7" y="1187.9" font-size="20" font-family="Liberation Sans, sans-serif" fill="#000" textLength="8" lengthAdjust="spacingAndGlyphs">1</text>
<text x="73.76" y="1120.9" font-size="35" font-family="Liberation Sans, sans-serif" fill="#000" textLength="35.59" lengthAdjust="spacingAndGlyphs">10</text>
<text x="110.66" y="1109.9" font-size="20" font-family="Liberation Sans, sans-serif" fill="#000" textLength="11.48" lengthAdjust="spacingAndGlyphs">2</text>
<polygon points="896.4,1213.58 909.49,1217.32 922.58,1224.8 935.67,1229.79 948.76,1241.01 961.85,1247.25 974.94,1252.23 988.03,1262.21 1001.12,1280.92 1014.21,1295.88 1027.3,1310.84 1040.39,1333.07 1053.48,1325.55 1066.57,1327.7 1079.66,1326.62 1092.75,1326.62 1105.84,1323.4 1118.93,1329.85 1132.02,1330.92 1145.11,1359.94 1158.2,1363.16 1171.29,1378.12 1184.38,1372.74 1197.47,1358.77 1210.56,1363.07 1223.65,1381.34 1236.74,1395.31 1249.83,1402.83 1262.92,1406.05 1276.01,1410.35 1289.1,1390.54 1302.19,1323.03 1315.28,1323.03 1328.37,1324.21 1341.46,1366.85 1354.55,1434.36 1367.64,1455.68 1380.73,1466.34 1393.82,1446.21 1406.91,1448.58 1420,1461.6 1420,1481.74 1406.91,1467.53 1393.82,1458.05 1380.73,1475.82 1367.64,1471.08 1354.55,1446.21 1341.46,1378.7 1328.37,1349.09 1315.28,1347.9 1302.19,1346.72 1289.1,1400.02 1276.01,1431.84 1262.92,1427.55 1249.83,1418.95 1236.74,1411.43 1223.65,1400.68 1210.56,1384.56 1197.47,1377.04 1184.38,1391.01 1171.29,1397.46 1158.2,1381.43 1145.11,1378.2 1132.02,1353.49 1118.93,1352.41 1105.84,1339.52 1092.75,1348.12 1079.66,1347.04 1066.57,1351.34 1053.48,1343.82 1040.39,1351.34 1027.3,1322.07 1014.21,1304.61 1001.12,1290.89 988.03,1282.16 974.94,1274.68 961.85,1269.69 948.76,1262.21 935.67,1249.74 922.58,1241.01 909.49,1234.77 896.4,1234.77" fill="#000" fill-opacity="0.17"/>
<polygon points="896.4,1188.63 909.49,1198.61 922.58,1196.12 935.67,1196.74 948.76,1219.81 961.85,1234.77 974.94,1243.5 988.03,1269.69 1001.12,1277.17 1014.21,1282.16 1027.3,1294.63 1040.39,1315.88 1053.48,1313.19 1066.57,1314.8 1079.66,1318.56 1092.75,1335.22 1105.84,1341.67 1118.93,1349.19 1132.02,1353.49 1145.11,1358.86 1158.2,1371.76 1171.29,1370.59 1184.38,1381.34 1197.47,1378.12 1210.56,1399.61 1223.65,1398.53 1236.74,1391.01 1249.83,1390.47 1262.92,1396.38 1276.01,1399.61 1289.1,1388.17 1302.19,1320.66 1315.28,1320.66 1328.37,1321.84 1341.46,1375.14 1354.55,1456.87 1367.64,1450.95 1380.73,1450.35 1393.82,1458.05 1406.91,1479.37 1420,1466.34 1420,1486.48 1406.91,1497.14 1393.82,1479.37 1380.73,1465.16 1367.64,1463.97 1354.55,1467.53 1341.46,1386.99 1328.37,1347.9 1315.28,1346.72 1302.19,1345.53 1289.1,1397.65 1276.01,1409.28 1262.92,1403.91 1249.83,1398.53 1236.74,1398.53 1223.65,1408.2 1210.56,1417.87 1197.47,1397.46 1184.38,1397.46 1171.29,1386.71 1158.2,1387.87 1145.11,1371.76 1132.02,1367.46 1118.93,1363.16 1105.84,1361.01 1092.75,1351.34 1079.66,1330.92 1066.57,1328.77 1053.48,1326.62 1040.39,1329.85 1027.3,1308.35 1014.21,1297.13 1001.12,1288.4 988.03,1277.17 974.94,1254.73 961.85,1243.5 948.76,1229.79 935.67,1213.58 922.58,1208.59 909.49,1213.58 896.4,1207.34" fill="#f00" fill-opacity="0.15"/>
<polyline points="896.4,1221.68 909.49,1224.18 922.58,1232.28 935.67,1239.76 948.76,1249.74 961.85,1256.6 974.94,1260.34 988.03,1272.19 1001.12,1285.9 1014.21,1300.87 1027.3,1317.08 1040.39,1339.52 1053.48,1330.92 1066.57,1335.22 1079.66,1334.15 1092.75,1335.22 1105.84,1332 1118.93,1340.59 1132.02,1339.52 1145.11,1366.38 1158.2,1373.91 1171.29,1385.64 1184.38,1378.12 1197.47,1366.29 1210.56,1372.74 1223.65,1389.94 1236.74,1402.83 1249.83,1409.28 1262.92,1413.58 1276.01,1418.41 1289.1,1395.28 1302.19,1333.1 1315.28,1333.1 1328.37,1333.69 1341.46,1372.77 1354.55,1439.1 1367.64,1462.79 1380.73,1473.45 1393.82,1453.31 1406.91,1456.87 1420,1469.9" fill="none" stroke="#fff" stroke-opacity="0.6" stroke-width="7" stroke-linejoin="miter" stroke-miterlimit="3"/>
<polyline points="896.4,1221.68 909.49,1224.18 922.58,1232.28 935.67,1239.76 948.76,1249.74 961.85,1256.6 974.94,1260.34 988.03,1272.19 1001.12,1285.9 1014.21,1300.87 1027.3,1317.08 1040.39,1339.52 1053.48,1330.92 1066.57,1335.22 1079.66,1334.15 1092.75,1335.22 1105.84,1332 1118.93,1340.59 1132.02,1339.52 1145.11,1366.38 1158.2,1373.91 1171.29,1385.64 1184.38,1378.12 1197.47,1366.29 1210.56,1372.74 1223.65,1389.94 1236.74,1402.83 1249.83,1409.28 1262.92,1413.58 1276.01,1418.41 1289.1,1395.28 1302.19,1333.1 1315.28,1333.1 1328.37,1333.69 1341.46,1372.77 1354.55,1439.1 1367.64,1462.79 1380.73,1473.45 1393.82,1453.31 1406.91,1456.87 1420,1469.9" fill="none" stroke="#000" stroke-width="5.2" stroke-linejoin="miter" stroke-miterlimit="3"/>
<polyline points="896.4,1197.99 909.49,1205.47 922.58,1202.35 935.67,1203.6 948.76,1224.8 961.85,1239.76 974.94,1249.74 988.03,1272.19 1001.12,1284.66 1014.21,1292.14 1027.3,1303.36 1040.39,1322.86 1053.48,1319.64 1066.57,1320.18 1079.66,1324.47 1092.75,1341.67 1105.84,1348.12 1118.93,1353.49 1132.02,1358.86 1145.11,1363.16 1158.2,1378.2 1171.29,1377.04 1184.38,1386.71 1197.47,1383.49 1210.56,1407.13 1223.65,1402.83 1236.74,1394.77 1249.83,1394.23 1262.92,1401.22 1276.01,1405.52 1289.1,1392.91 1302.19,1330.14 1315.28,1330.14 1328.37,1331.32 1341.46,1381.06 1354.55,1462.79 1367.64,1457.46 1380.73,1458.05 1393.82,1465.16 1406.91,1486.48 1420,1474.63" fill="none" stroke="#fff" stroke-opacity="0.6" stroke-width="7" stroke-linejoin="miter" stroke-miterlimit="3"/>
<polyline points="896.4,1197.99 909.49,1205.47 922.58,1202.35 935.67,1203.6 948.76,1224.8 961.85,1239.76 974.94,1249.74 988.03,1272.19 1001.12,1284.66 1014.21,1292.14 1027.3,1303.36 1040.39,1322.86 1053.48,1319.64 1066.57,1320.18 1079.66,1324.47 1092.75,1341.67 1105.84,1348.12 1118.93,1353.49 1132.02,1358.86 1145.11,1363.16 1158.2,1378.2 1171.29,1377.04 1184.38,1386.71 1197.47,1383.49 1210.56,1407.13 1223.65,1402.83 1236.74,1394.77 1249.83,1394.23 1262.92,1401.22 1276.01,1405.52 1289.1,1392.91 1302.19,1330.14 1315.28,1330.14 1328.37,1331.32 1341.46,1381.06 1354.55,1462.79 1367.64,1457.46 1380.73,1458.05 1393.82,1465.16 1406.91,1486.48 1420,1474.63" fill="none" stroke="#f00" stroke-width="5.2" stroke-linejoin="miter" stroke-miterlimit="3"/>
<line x1="896.4" y1="1093" x2="896.4" y2="1509.2" stroke="#000" stroke-width="2.4"/>
<line x1="895.2" y1="1508" x2="1419.5" y2="1508" stroke="#000" stroke-width="2.4"/>
<line x1="888.4" y1="1497.4" x2="896.4" y2="1497.4" stroke="#000" stroke-width="2.2"/>
<line x1="891.4" y1="1473.92" x2="896.4" y2="1473.92" stroke="#000" stroke-width="1.8"/>
<line x1="891.4" y1="1460.18" x2="896.4" y2="1460.18" stroke="#000" stroke-width="1.8"/>
<line x1="891.4" y1="1450.44" x2="896.4" y2="1450.44" stroke="#000" stroke-width="1.8"/>
<line x1="891.4" y1="1442.88" x2="896.4" y2="1442.88" stroke="#000" stroke-width="1.8"/>
<line x1="891.4" y1="1436.7" x2="896.4" y2="1436.7" stroke="#000" stroke-width="1.8"/>
<line x1="891.4" y1="1431.48" x2="896.4" y2="1431.48" stroke="#000" stroke-width="1.8"/>
<line x1="891.4" y1="1426.96" x2="896.4" y2="1426.96" stroke="#000" stroke-width="1.8"/>
<line x1="891.4" y1="1422.97" x2="896.4" y2="1422.97" stroke="#000" stroke-width="1.8"/>
<line x1="888.4" y1="1419.4" x2="896.4" y2="1419.4" stroke="#000" stroke-width="2.2"/>
<line x1="891.4" y1="1395.92" x2="896.4" y2="1395.92" stroke="#000" stroke-width="1.8"/>
<line x1="891.4" y1="1382.18" x2="896.4" y2="1382.18" stroke="#000" stroke-width="1.8"/>
<line x1="891.4" y1="1372.44" x2="896.4" y2="1372.44" stroke="#000" stroke-width="1.8"/>
<line x1="891.4" y1="1364.88" x2="896.4" y2="1364.88" stroke="#000" stroke-width="1.8"/>
<line x1="891.4" y1="1358.7" x2="896.4" y2="1358.7" stroke="#000" stroke-width="1.8"/>
<line x1="891.4" y1="1353.48" x2="896.4" y2="1353.48" stroke="#000" stroke-width="1.8"/>
<line x1="891.4" y1="1348.96" x2="896.4" y2="1348.96" stroke="#000" stroke-width="1.8"/>
<line x1="891.4" y1="1344.97" x2="896.4" y2="1344.97" stroke="#000" stroke-width="1.8"/>
<line x1="888.4" y1="1341.4" x2="896.4" y2="1341.4" stroke="#000" stroke-width="2.2"/>
<line x1="891.4" y1="1317.92" x2="896.4" y2="1317.92" stroke="#000" stroke-width="1.8"/>
<line x1="891.4" y1="1304.18" x2="896.4" y2="1304.18" stroke="#000" stroke-width="1.8"/>
<line x1="891.4" y1="1294.44" x2="896.4" y2="1294.44" stroke="#000" stroke-width="1.8"/>
<line x1="891.4" y1="1286.88" x2="896.4" y2="1286.88" stroke="#000" stroke-width="1.8"/>
<line x1="891.4" y1="1280.7" x2="896.4" y2="1280.7" stroke="#000" stroke-width="1.8"/>
<line x1="891.4" y1="1275.48" x2="896.4" y2="1275.48" stroke="#000" stroke-width="1.8"/>
<line x1="891.4" y1="1270.96" x2="896.4" y2="1270.96" stroke="#000" stroke-width="1.8"/>
<line x1="891.4" y1="1266.97" x2="896.4" y2="1266.97" stroke="#000" stroke-width="1.8"/>
<line x1="888.4" y1="1263.4" x2="896.4" y2="1263.4" stroke="#000" stroke-width="2.2"/>
<line x1="891.4" y1="1239.92" x2="896.4" y2="1239.92" stroke="#000" stroke-width="1.8"/>
<line x1="891.4" y1="1226.18" x2="896.4" y2="1226.18" stroke="#000" stroke-width="1.8"/>
<line x1="891.4" y1="1216.44" x2="896.4" y2="1216.44" stroke="#000" stroke-width="1.8"/>
<line x1="891.4" y1="1208.88" x2="896.4" y2="1208.88" stroke="#000" stroke-width="1.8"/>
<line x1="891.4" y1="1202.7" x2="896.4" y2="1202.7" stroke="#000" stroke-width="1.8"/>
<line x1="891.4" y1="1197.48" x2="896.4" y2="1197.48" stroke="#000" stroke-width="1.8"/>
<line x1="891.4" y1="1192.96" x2="896.4" y2="1192.96" stroke="#000" stroke-width="1.8"/>
<line x1="891.4" y1="1188.97" x2="896.4" y2="1188.97" stroke="#000" stroke-width="1.8"/>
<line x1="888.4" y1="1185.4" x2="896.4" y2="1185.4" stroke="#000" stroke-width="2.2"/>
<line x1="891.4" y1="1161.92" x2="896.4" y2="1161.92" stroke="#000" stroke-width="1.8"/>
<line x1="891.4" y1="1148.18" x2="896.4" y2="1148.18" stroke="#000" stroke-width="1.8"/>
<line x1="891.4" y1="1138.44" x2="896.4" y2="1138.44" stroke="#000" stroke-width="1.8"/>
<line x1="891.4" y1="1130.88" x2="896.4" y2="1130.88" stroke="#000" stroke-width="1.8"/>
<line x1="891.4" y1="1124.7" x2="896.4" y2="1124.7" stroke="#000" stroke-width="1.8"/>
<line x1="891.4" y1="1119.48" x2="896.4" y2="1119.48" stroke="#000" stroke-width="1.8"/>
<line x1="891.4" y1="1114.96" x2="896.4" y2="1114.96" stroke="#000" stroke-width="1.8"/>
<line x1="891.4" y1="1110.97" x2="896.4" y2="1110.97" stroke="#000" stroke-width="1.8"/>
<line x1="888.4" y1="1107.4" x2="896.4" y2="1107.4" stroke="#000" stroke-width="2.2"/>
<line x1="891.4" y1="1500.97" x2="896.4" y2="1500.97" stroke="#000" stroke-width="1.8"/>
<line x1="891.4" y1="1504.96" x2="896.4" y2="1504.96" stroke="#000" stroke-width="1.8"/>
<line x1="896.4" y1="1508" x2="896.4" y2="1514.5" stroke="#000" stroke-width="2.2"/>
<text x="886.76" y="1547" font-size="34" font-family="Liberation Sans, sans-serif" fill="#000" textLength="19.29" lengthAdjust="spacingAndGlyphs">0</text>
<line x1="948.77" y1="1508" x2="948.77" y2="1514.5" stroke="#000" stroke-width="2.2"/>
<text x="939.17" y="1547" font-size="34" font-family="Liberation Sans, sans-serif" fill="#000" textLength="19.29" lengthAdjust="spacingAndGlyphs">5</text>
<line x1="1001.15" y1="1508" x2="1001.15" y2="1514.5" stroke="#000" stroke-width="2.2"/>
<text x="981.22" y="1547" font-size="34" font-family="Liberation Sans, sans-serif" fill="#000" textLength="38.57" lengthAdjust="spacingAndGlyphs">10</text>
<line x1="1053.53" y1="1508" x2="1053.53" y2="1514.5" stroke="#000" stroke-width="2.2"/>
<text x="1033.64" y="1547" font-size="34" font-family="Liberation Sans, sans-serif" fill="#000" textLength="38.57" lengthAdjust="spacingAndGlyphs">15</text>
<line x1="1105.9" y1="1508" x2="1105.9" y2="1514.5" stroke="#000" stroke-width="2.2"/>
<text x="1086.42" y="1547" font-size="34" font-family="Liberation Sans, sans-serif" fill="#000" textLength="38.57" lengthAdjust="spacingAndGlyphs">20</text>
<line x1="1158.28" y1="1508" x2="1158.28" y2="1514.5" stroke="#000" stroke-width="2.2"/>
<text x="1138.84" y="1547" font-size="34" font-family="Liberation Sans, sans-serif" fill="#000" textLength="38.57" lengthAdjust="spacingAndGlyphs">25</text>
<line x1="1210.65" y1="1508" x2="1210.65" y2="1514.5" stroke="#000" stroke-width="2.2"/>
<text x="1191.38" y="1547" font-size="34" font-family="Liberation Sans, sans-serif" fill="#000" textLength="38.57" lengthAdjust="spacingAndGlyphs">30</text>
<line x1="1263.03" y1="1508" x2="1263.03" y2="1514.5" stroke="#000" stroke-width="2.2"/>
<text x="1243.81" y="1547" font-size="34" font-family="Liberation Sans, sans-serif" fill="#000" textLength="38.57" lengthAdjust="spacingAndGlyphs">35</text>
<line x1="1315.4" y1="1508" x2="1315.4" y2="1514.5" stroke="#000" stroke-width="2.2"/>
<text x="1296.39" y="1547" font-size="34" font-family="Liberation Sans, sans-serif" fill="#000" textLength="38.57" lengthAdjust="spacingAndGlyphs">40</text>
<line x1="1367.78" y1="1508" x2="1367.78" y2="1514.5" stroke="#000" stroke-width="2.2"/>
<text x="1348.82" y="1547" font-size="34" font-family="Liberation Sans, sans-serif" fill="#000" textLength="38.57" lengthAdjust="spacingAndGlyphs">45</text>
<line x1="1420.15" y1="1508" x2="1420.15" y2="1514.5" stroke="#000" stroke-width="2.2"/>
<text x="1400.85" y="1547" font-size="34" font-family="Liberation Sans, sans-serif" fill="#000" textLength="38.57" lengthAdjust="spacingAndGlyphs">50</text>
<text x="828.83" y="1510.8" font-size="35" font-family="Liberation Sans, sans-serif" fill="#000" textLength="36.03" lengthAdjust="spacingAndGlyphs">10</text>
<text x="866.63" y="1499.8" font-size="20" font-family="Liberation Sans, sans-serif" fill="#000" textLength="17.43" lengthAdjust="spacingAndGlyphs">-3</text>
<text x="828.83" y="1432.8" font-size="35" font-family="Liberation Sans, sans-serif" fill="#000" textLength="36.03" lengthAdjust="spacingAndGlyphs">10</text>
<text x="866.32" y="1421.8" font-size="20" font-family="Liberation Sans, sans-serif" fill="#000" textLength="17.57" lengthAdjust="spacingAndGlyphs">-2</text>
<text x="828.83" y="1354.8" font-size="35" font-family="Liberation Sans, sans-serif" fill="#000" textLength="36.03" lengthAdjust="spacingAndGlyphs">10</text>
<text x="866.4" y="1343.8" font-size="20" font-family="Liberation Sans, sans-serif" fill="#000" textLength="15.98" lengthAdjust="spacingAndGlyphs">-1</text>
<text x="832.86" y="1276.8" font-size="35" font-family="Liberation Sans, sans-serif" fill="#000" textLength="35.59" lengthAdjust="spacingAndGlyphs">10</text>
<text x="869.82" y="1265.8" font-size="20" font-family="Liberation Sans, sans-serif" fill="#000" textLength="11.17" lengthAdjust="spacingAndGlyphs">0</text>
<text x="832.86" y="1198.8" font-size="35" font-family="Liberation Sans, sans-serif" fill="#000" textLength="35.59" lengthAdjust="spacingAndGlyphs">10</text>
<text x="870.8" y="1187.8" font-size="20" font-family="Liberation Sans, sans-serif" fill="#000" textLength="8" lengthAdjust="spacingAndGlyphs">1</text>
<text x="832.86" y="1120.8" font-size="35" font-family="Liberation Sans, sans-serif" fill="#000" textLength="35.59" lengthAdjust="spacingAndGlyphs">10</text>
<text x="869.76" y="1109.8" font-size="20" font-family="Liberation Sans, sans-serif" fill="#000" textLength="11.48" lengthAdjust="spacingAndGlyphs">2</text>
<text x="4.91" y="1097.5" font-size="66" font-family="Liberation Sans, sans-serif" font-weight="bold" fill="#000" textLength="37.33" lengthAdjust="spacingAndGlyphs">F</text>
<text x="756.11" y="1097.5" font-size="66" font-family="Liberation Sans, sans-serif" font-weight="bold" fill="#000" textLength="54.75" lengthAdjust="spacingAndGlyphs">G</text>
<text x="226.92" y="1077.5" font-size="37.6" font-family="Liberation Sans, sans-serif" fill="#000" textLength="340.41" lengthAdjust="spacingAndGlyphs">Background (0-0.8s)</text>
<text x="1010.9" y="1077.5" font-size="37.6" font-family="Liberation Sans, sans-serif" fill="#000" textLength="297.94" lengthAdjust="spacingAndGlyphs">Evoked (1.2-2.0s)</text>
<text x="279.54" y="1595.5" font-size="37.3" font-family="Liberation Sans, sans-serif" fill="#000" textLength="257.28" lengthAdjust="spacingAndGlyphs">Frequency (Hz)</text>
<text x="1037.94" y="1595.5" font-size="37.3" font-family="Liberation Sans, sans-serif" fill="#000" textLength="257.38" lengthAdjust="spacingAndGlyphs">Frequency (Hz)</text>
<g transform="translate(49.67 1438.06) rotate(-90) scale(0.99 1)"><text x="0" y="0" font-size="37.5" font-family="Liberation Sans, sans-serif">Power (μV</text><text x="176.19" y="-13.5" font-size="21.75" font-family="Liberation Sans, sans-serif">2</text><text x="188.19" y="0" font-size="37.5" font-family="Liberation Sans, sans-serif">/Hz)</text></g>
<g transform="translate(811.17 1439.89) rotate(-90) scale(1 1)"><text x="0" y="0" font-size="37.5" font-family="Liberation Sans, sans-serif">Power (μV</text><text x="176.19" y="-13.5" font-size="21.75" font-family="Liberation Sans, sans-serif">2</text><text x="188.19" y="0" font-size="37.5" font-family="Liberation Sans, sans-serif">/Hz)</text></g>
<rect x="137.3" y="1117.2" width="104.2" height="8.2" fill="#000"/>
<path d="M189.4 1108.29L189.4 1102.1M189.4 1108.29L195.29 1106.38M189.4 1108.29L193.04 1113.3M189.4 1108.29L185.76 1113.3M189.4 1108.29L183.51 1106.38" stroke="#000" stroke-width="3" stroke-linecap="butt" fill="none"/>
<rect x="320" y="1271.3" width="26.1" height="8.7" fill="#000"/>
<path d="M333.05 1262.89L333.05 1256.2M333.05 1262.89L339.41 1260.82M333.05 1262.89L336.98 1268.3M333.05 1262.89L329.12 1268.3M333.05 1262.89L326.69 1260.82" stroke="#000" stroke-width="3" stroke-linecap="butt" fill="none"/>
<rect x="542.4" y="1364.2" width="13.4" height="8" fill="#000"/>
<path d="M549.15 1354.79L549.15 1348.6M549.15 1354.79L555.04 1352.88M549.15 1354.79L552.79 1359.8M549.15 1354.79L545.51 1359.8M549.15 1354.79L543.26 1352.88" stroke="#000" stroke-width="3" stroke-linecap="butt" fill="none"/>
<rect x="921.8" y="1171.2" width="13.1" height="8.1" fill="#000"/>
<path d="M928.65 1161.76L928.65 1155.9M928.65 1161.76L934.22 1159.95M928.65 1161.76L932.09 1166.5M928.65 1161.76L925.21 1166.5M928.65 1161.76L923.08 1159.95" stroke="#000" stroke-width="3" stroke-linecap="butt" fill="none"/>
<line x1="509.7" y1="1155.5" x2="544" y2="1155.5" stroke="#000" stroke-width="5.5"/>
<line x1="509.7" y1="1192" x2="544" y2="1192" stroke="#f00" stroke-width="5.5"/>
<text x="557.49" y="1163.7" font-size="31.7" font-family="Liberation Sans, sans-serif" fill="#000" textLength="102.23" lengthAdjust="spacingAndGlyphs">Control</text>
<text x="558.14" y="1200.6" font-size="31.4" font-family="Liberation Sans, sans-serif" fill="#000" textLength="84.19" lengthAdjust="spacingAndGlyphs">ArchT</text>
<line x1="1268.8" y1="1155.5" x2="1303.1" y2="1155.5" stroke="#000" stroke-width="5.5"/>
<line x1="1268.8" y1="1192" x2="1303.1" y2="1192" stroke="#f00" stroke-width="5.5"/>
<text x="1316.59" y="1163.7" font-size="31.7" font-family="Liberation Sans, sans-serif" fill="#000" textLength="102.23" lengthAdjust="spacingAndGlyphs">Control</text>
<text x="1317.24" y="1200.6" font-size="31.4" font-family="Liberation Sans, sans-serif" fill="#000" textLength="84.19" lengthAdjust="spacingAndGlyphs">ArchT</text>
</svg>
</body></html>
